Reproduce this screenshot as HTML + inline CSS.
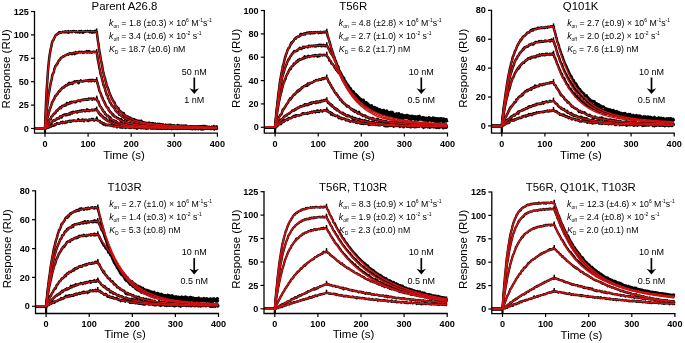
<!DOCTYPE html><html><head><meta charset="utf-8"><style>html,body{margin:0;padding:0;background:#fff;}svg{display:block;will-change:transform;} text{font-family:"Liberation Sans", sans-serif;}</style></head><body><svg width="685" height="343" viewBox="0 0 685 343"><rect width="685" height="343" fill="#fff"/><g><path d="M34.2 128.5 L34.7 128.5 L35.3 128.5 L35.8 128.5 L36.3 128.5 L36.8 128.5 L37.3 128.5 L37.8 128.5 L38.4 128.5 L38.9 128.5 L39.4 128.5 L39.9 128.5 L40.4 128.5 L40.9 128.5 L41.5 128.5 L42 128.5 L42.5 128.5 L43 128.5 L43.5 128.5 L44.1 128.5 L44.6 128.5 L45.1 126.1 L45.6 112.1 L46.1 100.8 L46.6 90.9 L47.2 82.6 L47.7 75 L48.2 68.1 L48.7 63.1 L49.2 58.3 L49.7 54.7 L50.3 51.3 L50.8 48.5 L51.3 46.9 L51.8 43.7 L52.3 42 L52.8 40.5 L53.4 40.2 L53.9 39.1 L54.4 37.7 L54.9 36.7 L55.4 35.7 L55.9 35.2 L56.5 34.4 L57 34.5 L57.5 33.7 L58 33.4 L58.5 33.6 L59.1 32.2 L59.6 32.6 L60.1 32.1 L60.6 32.8 L61.1 32.7 L61.6 32.4 L62.2 32.2 L62.7 31.8 L63.2 31.9 L63.7 32.2 L64.2 32.3 L64.7 32.1 L65.3 31.3 L65.8 32.2 L66.3 31.7 L66.8 31.6 L67.3 32.4 L67.8 31.7 L68.4 31.1 L68.9 32.6 L69.4 31.8 L69.9 31.7 L70.4 32 L70.9 31.4 L71.5 31.7 L72 32.3 L72.5 31.3 L73 31.3 L73.5 31.2 L74 31 L74.6 31.5 L75.1 31.6 L75.6 32.2 L76.1 31.4 L76.6 31.9 L77.2 31.8 L77.7 32.2 L78.2 32.1 L78.7 31.9 L79.2 31 L79.7 32.5 L80.3 32.3 L80.8 31.5 L81.3 31 L81.8 31.4 L82.3 32.5 L82.8 32.8 L83.4 31.5 L83.9 32 L84.4 32.1 L84.9 31.2 L85.4 31.1 L85.9 31.6 L86.5 31.5 L87 31.4 L87.5 30.9 L88 31.3 L88.5 31.4 L89 31.4 L89.6 32.3 L90.1 31 L90.6 31.2 L91.1 31.4 L91.6 32.5 L92.2 31.9 L92.7 31.2 L93.2 32.4 L93.7 31.7 L94.2 31.2 L94.7 32.2 L95.3 30.9 L95.8 31.4 L96.3 31.7 L96.8 32.2 L97.3 36.1 L97.8 40.2 L98.4 43.4 L98.9 47.7 L99.4 51 L99.9 53.5 L100.4 57 L100.9 60.4 L101.5 62.3 L102 64.8 L102.5 68.1 L103 71 L103.5 72.8 L104 75 L104.6 77.1 L105.1 78.4 L105.6 81.4 L106.1 82.2 L106.6 85.1 L107.2 86.6 L107.7 87.6 L108.2 88.9 L108.7 90.4 L109.2 92.1 L109.7 93.5 L110.3 94.8 L110.8 95.8 L111.3 97.3 L111.8 98.2 L112.3 99.2 L112.8 100.5 L113.4 101.1 L113.9 102.1 L114.4 102.4 L114.9 104 L115.4 105.1 L115.9 105.9 L116.5 106.5 L117 106.8 L117.5 108 L118 108.4 L118.5 108.3 L119 110.9 L119.6 110.9 L120.1 110.8 L120.6 111.3 L121.1 111.8 L121.6 112.6 L122.1 112.6 L122.7 113.2 L123.2 114 L123.7 113.1 L124.2 114.5 L124.7 115.2 L125.3 115.4 L125.8 115.8 L126.3 116.1 L126.8 117.6 L127.3 116.9 L127.8 116.5 L128.4 117.8 L128.9 117.6 L129.4 117.4 L129.9 117.7 L130.4 117.7 L130.9 119.3 L131.5 119 L132 119.2 L132.5 119 L133 118.9 L133.5 120.8 L134 119.3 L134.6 120.7 L135.1 119.9 L135.6 121 L136.1 120.5 L136.6 120.2 L137.1 120.9 L137.7 120.9 L138.2 120.8 L138.7 121.2 L139.2 121.5 L139.7 120.9 L140.3 121.2 L140.8 121.9 L141.3 120.7 L141.8 122.6 L142.3 121.7 L142.8 122.4 L143.4 122.3 L143.9 122.2 L144.4 122.5 L144.9 122.4 L145.4 123.4 L145.9 123.5 L146.5 122.7 L147 123.5 L147.5 123.6 L148 123.9 L148.5 122.7 L149 123 L149.6 122.8 L150.1 123.9 L150.6 123.6 L151.1 124.2 L151.6 123.4 L152.1 123.1 L152.7 124.3 L153.2 123.2 L153.7 123.5 L154.2 124.1 L154.7 125 L155.2 123.5 L155.8 124.3 L156.3 124.5 L156.8 124.2 L157.3 124.2 L157.8 123.8 L158.4 124.9 L158.9 124 L159.4 123.9 L159.9 124 L160.4 124.8 L160.9 125.1 L161.5 124.3 L162 124.8 L162.5 124.8 L163 124.3 L163.5 125.1 L164 126 L164.6 125.2 L165.1 125.9 L165.6 124.8 L166.1 125 L166.6 125.5 L167.1 125.2 L167.7 124.9 L168.2 125.3 L168.7 124.8 L169.2 125.4 L169.7 125 L170.2 124.8 L170.8 124.8 L171.3 125.8 L171.8 125.2 L172.3 126.4 L172.8 126.1 L173.4 126.5 L173.9 125.2 L174.4 126.3 L174.9 125.8 L175.4 125.9 L175.9 125.8 L176.5 126.1 L177 125.8 L177.5 125.1 L178 125.9 L178.5 125.7 L179 125.5 L179.6 126.1 L180.1 126.6 L180.6 126.3 L181.1 125.6 L181.6 126.8 L182.1 126.4 L182.7 125.7 L183.2 125.8 L183.7 126.2 L184.2 125.9 L184.7 126.2 L185.2 126.8 L185.8 127 L186.3 126.6 L186.8 125.9 L187.3 126.6 L187.8 126.8 L188.4 126.8 L188.9 127.1 L189.4 126.5 L189.9 127 L190.4 126.3 L190.9 127.6 L191.5 126.4 L192 126.9 L192.5 127.5 L193 126.3 L193.5 126.7 L194 127.6 L194.6 127.1 L195.1 126.5 L195.6 126.9 L196.1 126.4 L196.6 126.4 L197.1 126.5 L197.7 126.6 L198.2 126.2 L198.7 126.5 L199.2 126.6 L199.7 127.8 L200.2 126.5 L200.8 126.3 L201.3 127 L201.8 127.1 L202.3 126.1 L202.8 127.7 L203.3 126.7 L203.9 125.9 L204.4 127.4 L204.9 126.7 L205.4 126.2 L205.9 127.1 L206.5 126.8 L207 126.7 L207.5 127.5 L208 127.1 L208.5 127 L209 126.8 L209.6 127.2 L210.1 127.2 L210.6 127.6 L211.1 127.3 L211.6 126.8 L212.1 127.2 L212.7 127.6 L213.2 127.6 L213.7 126 L214.2 126.7 L214.7 127 L215.2 128.4 L215.8 127 L216.3 127.1 L216.8 126.6 L217.3 127.1" fill="none" stroke="#000" stroke-width="2.5" stroke-linejoin="round"/><path d="M96.7 32.1 V28.4" stroke="#000" stroke-width="1.5"/><path d="M34.2 128.5 L34.7 128.5 L35.3 128.5 L35.8 128.5 L36.3 128.5 L36.8 128.5 L37.3 128.5 L37.8 128.5 L38.4 128.5 L38.9 128.5 L39.4 128.5 L39.9 128.5 L40.4 128.5 L40.9 128.5 L41.5 128.5 L42 128.5 L42.5 128.5 L43 128.5 L43.5 128.5 L44.1 128.5 L44.6 128.5 L45.1 127.5 L45.6 121.3 L46.1 117 L46.6 110.7 L47.2 106.4 L47.7 102.6 L48.2 97.7 L48.7 93.9 L49.2 92 L49.7 88.6 L50.3 85.3 L50.8 82.8 L51.3 80.6 L51.8 78.7 L52.3 75.3 L52.8 73.9 L53.4 73.1 L53.9 71.6 L54.4 68.8 L54.9 67.7 L55.4 66.1 L55.9 65.4 L56.5 65.1 L57 63.6 L57.5 63.8 L58 62.3 L58.5 61.2 L59.1 60.3 L59.6 60.2 L60.1 59.3 L60.6 58.5 L61.1 58 L61.6 57.4 L62.2 57.2 L62.7 57 L63.2 56.2 L63.7 56.2 L64.2 56.2 L64.7 55.9 L65.3 55.3 L65.8 55.1 L66.3 54.8 L66.8 54.6 L67.3 54.4 L67.8 54.3 L68.4 54.7 L68.9 53.8 L69.4 53.3 L69.9 53.5 L70.4 53.7 L70.9 53.3 L71.5 53.8 L72 54.1 L72.5 53.2 L73 53.5 L73.5 52.7 L74 53.5 L74.6 54.1 L75.1 53.3 L75.6 52.1 L76.1 52.9 L76.6 53.3 L77.2 53 L77.7 52.4 L78.2 52.4 L78.7 52.5 L79.2 51.9 L79.7 52.2 L80.3 52.5 L80.8 52.2 L81.3 51.7 L81.8 52 L82.3 51.9 L82.8 52.9 L83.4 52.4 L83.9 52 L84.4 52.5 L84.9 51.9 L85.4 52.1 L85.9 51.9 L86.5 52.4 L87 51.1 L87.5 51.7 L88 52.4 L88.5 52.2 L89 51.1 L89.6 52.4 L90.1 51.9 L90.6 51.8 L91.1 52.2 L91.6 52.8 L92.2 52.2 L92.7 52.1 L93.2 51.7 L93.7 51.9 L94.2 52.2 L94.7 51.8 L95.3 52 L95.8 52.1 L96.3 52.2 L96.8 52.9 L97.3 55.6 L97.8 59.5 L98.4 62.2 L98.9 64.7 L99.4 68 L99.9 70 L100.4 73.1 L100.9 74.8 L101.5 76.5 L102 78.6 L102.5 80.8 L103 82.8 L103.5 85.2 L104 85.5 L104.6 87.7 L105.1 89.1 L105.6 91.5 L106.1 92.6 L106.6 94.7 L107.2 94.9 L107.7 96.1 L108.2 98.5 L108.7 98.9 L109.2 99.7 L109.7 101.8 L110.3 102.8 L110.8 103.4 L111.3 104.2 L111.8 105.4 L112.3 105.6 L112.8 106.3 L113.4 106.9 L113.9 107.6 L114.4 108 L114.9 108.8 L115.4 110.5 L115.9 110.8 L116.5 111.6 L117 112.2 L117.5 112.3 L118 112.8 L118.5 113.1 L119 114.5 L119.6 114.8 L120.1 114.7 L120.6 115.2 L121.1 115.6 L121.6 115.9 L122.1 116.6 L122.7 116.3 L123.2 116.8 L123.7 117.3 L124.2 117.9 L124.7 117.9 L125.3 119.4 L125.8 118.9 L126.3 118.7 L126.8 119.6 L127.3 119.1 L127.8 119.4 L128.4 120.3 L128.9 120 L129.4 120.2 L129.9 120.1 L130.4 120.2 L130.9 120.7 L131.5 121.2 L132 121.1 L132.5 121.2 L133 121 L133.5 121.4 L134 122 L134.6 122.4 L135.1 122.1 L135.6 122.4 L136.1 122.7 L136.6 122.4 L137.1 122.7 L137.7 122.5 L138.2 122.5 L138.7 123 L139.2 121.9 L139.7 123.2 L140.3 122.6 L140.8 123.2 L141.3 122.8 L141.8 124.5 L142.3 123.8 L142.8 123.5 L143.4 123.4 L143.9 122.7 L144.4 123.7 L144.9 123.3 L145.4 123.6 L145.9 123.6 L146.5 123.9 L147 124.3 L147.5 124 L148 124.8 L148.5 123.9 L149 124.9 L149.6 124.4 L150.1 123.6 L150.6 124.7 L151.1 124.7 L151.6 124.2 L152.1 124.8 L152.7 125.2 L153.2 124.8 L153.7 124.7 L154.2 124.7 L154.7 125.4 L155.2 124.3 L155.8 124.4 L156.3 125.2 L156.8 125.1 L157.3 125.5 L157.8 124.7 L158.4 125.7 L158.9 125.1 L159.4 125.6 L159.9 125.8 L160.4 125.2 L160.9 124.9 L161.5 125.6 L162 125.9 L162.5 125.3 L163 125.7 L163.5 125.6 L164 125.1 L164.6 125.3 L165.1 126 L165.6 124.8 L166.1 125.9 L166.6 125.5 L167.1 126.2 L167.7 126 L168.2 126.8 L168.7 125.2 L169.2 125.4 L169.7 126.6 L170.2 126.8 L170.8 126.9 L171.3 125.6 L171.8 126.4 L172.3 126.2 L172.8 126.4 L173.4 126.3 L173.9 126.8 L174.4 126.3 L174.9 127 L175.4 126.4 L175.9 126.2 L176.5 126.2 L177 126.5 L177.5 126.9 L178 126.4 L178.5 126.7 L179 125.8 L179.6 126.2 L180.1 126.6 L180.6 126.8 L181.1 126.9 L181.6 127 L182.1 126.8 L182.7 126.5 L183.2 126.4 L183.7 126.4 L184.2 125.8 L184.7 127.1 L185.2 126.7 L185.8 125.5 L186.3 127.6 L186.8 127 L187.3 126.7 L187.8 126.8 L188.4 126.7 L188.9 127 L189.4 126.7 L189.9 126.9 L190.4 126.6 L190.9 127.8 L191.5 127.4 L192 127 L192.5 127.5 L193 127.5 L193.5 126.7 L194 127.3 L194.6 126.8 L195.1 126.7 L195.6 126.9 L196.1 126.9 L196.6 127.2 L197.1 127.8 L197.7 127.2 L198.2 126.9 L198.7 127.4 L199.2 127.2 L199.7 126.9 L200.2 127.6 L200.8 126.9 L201.3 126.4 L201.8 127.5 L202.3 127.2 L202.8 127.3 L203.3 126.6 L203.9 127.2 L204.4 126.9 L204.9 127.6 L205.4 127.3 L205.9 127.4 L206.5 128.2 L207 126.7 L207.5 127 L208 128.2 L208.5 127.1 L209 127.5 L209.6 127.2 L210.1 127.3 L210.6 128.1 L211.1 127.6 L211.6 126.8 L212.1 127.7 L212.7 128 L213.2 128.1 L213.7 128.1 L214.2 127.4 L214.7 126.8 L215.2 127.3 L215.8 127.4 L216.3 126.6 L216.8 127.8 L217.3 127.9" fill="none" stroke="#000" stroke-width="2.5" stroke-linejoin="round"/><path d="M96.7 52.7 V49" stroke="#000" stroke-width="1.5"/><path d="M34.2 128.5 L34.7 128.5 L35.3 128.5 L35.8 128.5 L36.3 128.5 L36.8 128.5 L37.3 128.5 L37.8 128.5 L38.4 128.5 L38.9 128.5 L39.4 128.5 L39.9 128.5 L40.4 128.5 L40.9 128.5 L41.5 128.5 L42 128.5 L42.5 128.5 L43 128.5 L43.5 128.5 L44.1 128.5 L44.6 128.5 L45.1 127.8 L45.6 125.3 L46.1 123.6 L46.6 121.4 L47.2 118.6 L47.7 116.6 L48.2 115.4 L48.7 113.1 L49.2 111.5 L49.7 109.4 L50.3 108.1 L50.8 106.7 L51.3 105.4 L51.8 103.4 L52.3 102 L52.8 101.6 L53.4 100 L53.9 99.6 L54.4 98.3 L54.9 97 L55.4 95.8 L55.9 95.8 L56.5 94.8 L57 93.9 L57.5 94 L58 92.6 L58.5 92.2 L59.1 91.1 L59.6 91.2 L60.1 91.1 L60.6 89.6 L61.1 89 L61.6 88.9 L62.2 87.8 L62.7 87.9 L63.2 87.7 L63.7 86.8 L64.2 87.4 L64.7 86.6 L65.3 86 L65.8 85.3 L66.3 85.5 L66.8 85 L67.3 85.2 L67.8 84.5 L68.4 83.6 L68.9 84.5 L69.4 82.9 L69.9 84 L70.4 83.6 L70.9 83.3 L71.5 82.8 L72 83.6 L72.5 83.9 L73 82.5 L73.5 82.3 L74 82.2 L74.6 81.2 L75.1 82.2 L75.6 82 L76.1 81.6 L76.6 81.8 L77.2 81.1 L77.7 82.3 L78.2 81.9 L78.7 83.2 L79.2 81.2 L79.7 81.6 L80.3 81 L80.8 80.4 L81.3 81.3 L81.8 81.3 L82.3 81.4 L82.8 81.5 L83.4 81.3 L83.9 80.7 L84.4 80.9 L84.9 80.9 L85.4 81 L85.9 80.4 L86.5 80.6 L87 80.8 L87.5 80.4 L88 80.8 L88.5 81.2 L89 80 L89.6 80.4 L90.1 81 L90.6 80.1 L91.1 80.4 L91.6 81.2 L92.2 79.8 L92.7 80.4 L93.2 80.1 L93.7 80.4 L94.2 80.5 L94.7 81.1 L95.3 80 L95.8 80.4 L96.3 80.5 L96.8 80.6 L97.3 82.7 L97.8 84.4 L98.4 86.7 L98.9 88.3 L99.4 90.9 L99.9 91.7 L100.4 92.7 L100.9 93.9 L101.5 96 L102 97.2 L102.5 97.7 L103 99.8 L103.5 100.5 L104 101.1 L104.6 102.9 L105.1 103.4 L105.6 105.2 L106.1 105.7 L106.6 106.7 L107.2 107.5 L107.7 107.8 L108.2 108 L108.7 110.1 L109.2 110.7 L109.7 110.9 L110.3 112.3 L110.8 112.2 L111.3 112.7 L111.8 113.7 L112.3 113.8 L112.8 115.3 L113.4 114.7 L113.9 116.2 L114.4 116.3 L114.9 116.6 L115.4 117 L115.9 116.8 L116.5 117.5 L117 118.1 L117.5 118 L118 117.9 L118.5 118.9 L119 119 L119.6 118.9 L120.1 119.6 L120.6 120.6 L121.1 119.2 L121.6 119.5 L122.1 121.7 L122.7 121 L123.2 121 L123.7 121 L124.2 121.3 L124.7 121.9 L125.3 122.4 L125.8 122.1 L126.3 121.9 L126.8 123 L127.3 123.1 L127.8 122.8 L128.4 123.8 L128.9 123.2 L129.4 123.4 L129.9 123.1 L130.4 123.8 L130.9 124 L131.5 123.9 L132 123.8 L132.5 124.2 L133 124 L133.5 123.8 L134 123.7 L134.6 123.5 L135.1 124.7 L135.6 124.6 L136.1 125.7 L136.6 123.8 L137.1 125 L137.7 124.8 L138.2 124.6 L138.7 125.5 L139.2 124.8 L139.7 125.1 L140.3 125.9 L140.8 125 L141.3 124.7 L141.8 126.1 L142.3 125 L142.8 125.3 L143.4 125.2 L143.9 125.3 L144.4 125 L144.9 125.7 L145.4 125.3 L145.9 125.9 L146.5 125.4 L147 126.2 L147.5 125.9 L148 125.1 L148.5 125.7 L149 126 L149.6 126.5 L150.1 126.4 L150.6 126 L151.1 125.7 L151.6 125.9 L152.1 125.9 L152.7 126.2 L153.2 125.6 L153.7 126.4 L154.2 126.5 L154.7 125.9 L155.2 126.3 L155.8 126.5 L156.3 126.7 L156.8 126.5 L157.3 126.2 L157.8 126.3 L158.4 127.1 L158.9 126.3 L159.4 126.5 L159.9 127 L160.4 126.3 L160.9 126.8 L161.5 126.8 L162 126.3 L162.5 126.1 L163 127 L163.5 126.5 L164 127.2 L164.6 125.7 L165.1 127 L165.6 126.3 L166.1 127.1 L166.6 126.5 L167.1 125.9 L167.7 128 L168.2 127.1 L168.7 126.7 L169.2 127 L169.7 127.3 L170.2 126 L170.8 127 L171.3 127.8 L171.8 126.7 L172.3 127.8 L172.8 126.6 L173.4 127.3 L173.9 127 L174.4 126.5 L174.9 127.1 L175.4 127.8 L175.9 127.9 L176.5 126.6 L177 126.9 L177.5 127.6 L178 126.8 L178.5 127 L179 127 L179.6 128.3 L180.1 127.4 L180.6 126.9 L181.1 127 L181.6 126.9 L182.1 128.4 L182.7 127.3 L183.2 127.1 L183.7 126.2 L184.2 127.8 L184.7 127.5 L185.2 127.4 L185.8 127 L186.3 127.6 L186.8 126.9 L187.3 127.8 L187.8 127.3 L188.4 127.7 L188.9 127.4 L189.4 127.8 L189.9 128.2 L190.4 127 L190.9 127.4 L191.5 127.8 L192 127.4 L192.5 127.1 L193 128 L193.5 127.6 L194 127.3 L194.6 127.4 L195.1 127.7 L195.6 128.6 L196.1 127.1 L196.6 127.5 L197.1 127.6 L197.7 127.8 L198.2 127.5 L198.7 127.9 L199.2 128.1 L199.7 128 L200.2 128 L200.8 128 L201.3 128.2 L201.8 127.4 L202.3 128.3 L202.8 127.4 L203.3 128.2 L203.9 127.6 L204.4 127.1 L204.9 127.7 L205.4 128.1 L205.9 127.8 L206.5 127.7 L207 128.6 L207.5 128.1 L208 127.7 L208.5 128 L209 127.8 L209.6 127.5 L210.1 127.5 L210.6 127.4 L211.1 127.6 L211.6 128 L212.1 127.9 L212.7 128 L213.2 128 L213.7 128 L214.2 128.7 L214.7 128 L215.2 127.9 L215.8 128.3 L216.3 127.9 L216.8 127.7 L217.3 128" fill="none" stroke="#000" stroke-width="2.5" stroke-linejoin="round"/><path d="M96.7 80.9 V77.2" stroke="#000" stroke-width="1.5"/><path d="M34.2 128.5 L34.7 128.5 L35.3 128.5 L35.8 128.5 L36.3 128.5 L36.8 128.5 L37.3 128.5 L37.8 128.5 L38.4 128.5 L38.9 128.5 L39.4 128.5 L39.9 128.5 L40.4 128.5 L40.9 128.5 L41.5 128.5 L42 128.5 L42.5 128.5 L43 128.5 L43.5 128.5 L44.1 128.5 L44.6 128.5 L45.1 127.4 L45.6 128.3 L46.1 126.2 L46.6 125.8 L47.2 123.6 L47.7 121.8 L48.2 123.2 L48.7 121.1 L49.2 120.1 L49.7 119.6 L50.3 118.5 L50.8 118.9 L51.3 116.8 L51.8 116.3 L52.3 115.8 L52.8 115.4 L53.4 114.2 L53.9 114.1 L54.4 113.2 L54.9 112.9 L55.4 113.2 L55.9 111.6 L56.5 111 L57 110.3 L57.5 110.6 L58 109.7 L58.5 109 L59.1 108.8 L59.6 107.9 L60.1 107.2 L60.6 108.1 L61.1 108.2 L61.6 106.6 L62.2 106 L62.7 105.9 L63.2 105.7 L63.7 106 L64.2 105.8 L64.7 104.8 L65.3 105.3 L65.8 105.5 L66.3 104.9 L66.8 103.1 L67.3 103.1 L67.8 104 L68.4 103.9 L68.9 103.2 L69.4 103.5 L69.9 102.4 L70.4 102.8 L70.9 103.1 L71.5 101.8 L72 102.5 L72.5 102 L73 102 L73.5 102 L74 101.5 L74.6 101.9 L75.1 102.3 L75.6 102.3 L76.1 101.8 L76.6 101.4 L77.2 101 L77.7 100.8 L78.2 100.5 L78.7 100.6 L79.2 100.9 L79.7 100.8 L80.3 101.3 L80.8 100.4 L81.3 100 L81.8 99.9 L82.3 100.1 L82.8 100.1 L83.4 99.5 L83.9 99.9 L84.4 99.5 L84.9 99.5 L85.4 99.6 L85.9 99 L86.5 99.8 L87 99.7 L87.5 99.8 L88 99.8 L88.5 98.7 L89 98.5 L89.6 99.3 L90.1 99 L90.6 98.7 L91.1 98.8 L91.6 98.6 L92.2 99.7 L92.7 99.3 L93.2 98.8 L93.7 98.3 L94.2 98.9 L94.7 99.3 L95.3 99.1 L95.8 99.2 L96.3 99.2 L96.8 98.4 L97.3 100.6 L97.8 101.5 L98.4 101.6 L98.9 103.2 L99.4 104.6 L99.9 106 L100.4 106.5 L100.9 106.8 L101.5 108.1 L102 108.7 L102.5 110 L103 110.5 L103.5 111.6 L104 112 L104.6 112.2 L105.1 114.1 L105.6 114.1 L106.1 114.5 L106.6 115.4 L107.2 115.8 L107.7 115.8 L108.2 115.7 L108.7 116.8 L109.2 117.3 L109.7 118.6 L110.3 117.4 L110.8 118.6 L111.3 119 L111.8 119.9 L112.3 119.7 L112.8 120.5 L113.4 120.3 L113.9 120.4 L114.4 120.9 L114.9 121 L115.4 121.8 L115.9 121 L116.5 122.1 L117 122.9 L117.5 122.4 L118 122.8 L118.5 123.1 L119 123 L119.6 122.9 L120.1 123.7 L120.6 123.4 L121.1 122.9 L121.6 123.4 L122.1 123.9 L122.7 123.9 L123.2 124.1 L123.7 124.2 L124.2 124 L124.7 124.5 L125.3 125.6 L125.8 124.7 L126.3 125.2 L126.8 124.6 L127.3 125.2 L127.8 125 L128.4 124.2 L128.9 125.7 L129.4 125.8 L129.9 126 L130.4 126.5 L130.9 126.4 L131.5 125.4 L132 125.9 L132.5 126.6 L133 126.5 L133.5 125.6 L134 126.3 L134.6 126.1 L135.1 125.9 L135.6 125.5 L136.1 125.2 L136.6 125.7 L137.1 126.1 L137.7 126.2 L138.2 125.5 L138.7 125.7 L139.2 126.5 L139.7 126.2 L140.3 126.3 L140.8 126.5 L141.3 126.8 L141.8 127.2 L142.3 126.8 L142.8 127.3 L143.4 126.1 L143.9 126.4 L144.4 127.3 L144.9 126.1 L145.4 126.4 L145.9 127.7 L146.5 126 L147 126.5 L147.5 125.9 L148 127.5 L148.5 126.7 L149 126.8 L149.6 126.9 L150.1 126.9 L150.6 126.5 L151.1 127.7 L151.6 127.6 L152.1 127.7 L152.7 127.3 L153.2 127.4 L153.7 127 L154.2 127 L154.7 127.2 L155.2 127.5 L155.8 127.4 L156.3 126.8 L156.8 126.9 L157.3 127.2 L157.8 127.4 L158.4 126.6 L158.9 127.6 L159.4 127 L159.9 126.8 L160.4 127.5 L160.9 127 L161.5 127.9 L162 126.9 L162.5 127.3 L163 128.1 L163.5 127.1 L164 127.8 L164.6 126.9 L165.1 127.8 L165.6 127.5 L166.1 127.3 L166.6 127.6 L167.1 127.4 L167.7 127.8 L168.2 127.2 L168.7 127.5 L169.2 127.4 L169.7 128.8 L170.2 127 L170.8 127.6 L171.3 128.4 L171.8 127.5 L172.3 127.4 L172.8 127.1 L173.4 128.1 L173.9 126.9 L174.4 127.7 L174.9 126.6 L175.4 127.7 L175.9 127.4 L176.5 127.8 L177 128.2 L177.5 127.2 L178 127.3 L178.5 127 L179 127.3 L179.6 128 L180.1 128.5 L180.6 128 L181.1 128 L181.6 128.1 L182.1 127.5 L182.7 127.6 L183.2 127.9 L183.7 127.7 L184.2 127.9 L184.7 127.7 L185.2 127.5 L185.8 127.4 L186.3 128.1 L186.8 128.5 L187.3 127.2 L187.8 127.8 L188.4 127.3 L188.9 128.6 L189.4 128 L189.9 127.9 L190.4 128.5 L190.9 128.1 L191.5 127.6 L192 127.4 L192.5 127.2 L193 128.3 L193.5 128.5 L194 127.7 L194.6 127.5 L195.1 127.8 L195.6 128.5 L196.1 127.6 L196.6 127.6 L197.1 127.7 L197.7 128.2 L198.2 127.8 L198.7 127.6 L199.2 128.2 L199.7 128.8 L200.2 127.8 L200.8 127.8 L201.3 128 L201.8 127.6 L202.3 128.3 L202.8 128 L203.3 128.1 L203.9 127.8 L204.4 127.3 L204.9 128.1 L205.4 127.1 L205.9 127.3 L206.5 127.7 L207 127.8 L207.5 127.2 L208 128.1 L208.5 128.1 L209 128.5 L209.6 127.8 L210.1 127.5 L210.6 127.8 L211.1 127.9 L211.6 128.2 L212.1 128 L212.7 128.7 L213.2 127.6 L213.7 128.3 L214.2 128.6 L214.7 128.4 L215.2 128.5 L215.8 127.7 L216.3 127.6 L216.8 128.7 L217.3 127.7" fill="none" stroke="#000" stroke-width="2.5" stroke-linejoin="round"/><path d="M96.7 99.3 V95.6" stroke="#000" stroke-width="1.5"/><path d="M34.2 128.5 L34.7 128.5 L35.3 128.5 L35.8 128.5 L36.3 128.5 L36.8 128.5 L37.3 128.5 L37.8 128.5 L38.4 128.5 L38.9 128.5 L39.4 128.5 L39.9 128.5 L40.4 128.5 L40.9 128.5 L41.5 128.5 L42 128.5 L42.5 128.5 L43 128.5 L43.5 128.5 L44.1 128.5 L44.6 128.5 L45.1 128 L45.6 128.1 L46.1 127.9 L46.6 127.1 L47.2 126.5 L47.7 125.5 L48.2 125.3 L48.7 125.6 L49.2 124.1 L49.7 124.5 L50.3 122.9 L50.8 123.4 L51.3 122.8 L51.8 122.5 L52.3 121.9 L52.8 120.7 L53.4 120.5 L53.9 120.3 L54.4 120.1 L54.9 120.6 L55.4 119.8 L55.9 119.5 L56.5 119.4 L57 118.4 L57.5 118.7 L58 118.4 L58.5 118.3 L59.1 118.4 L59.6 117 L60.1 116.4 L60.6 116.7 L61.1 117 L61.6 117.5 L62.2 116 L62.7 115.3 L63.2 115.5 L63.7 115 L64.2 114.6 L64.7 114.6 L65.3 115.1 L65.8 114.2 L66.3 114.2 L66.8 115.1 L67.3 114.4 L67.8 114.7 L68.4 113.9 L68.9 113.5 L69.4 114.1 L69.9 114.4 L70.4 112.7 L70.9 113 L71.5 112.4 L72 113.5 L72.5 112.3 L73 111.7 L73.5 111.7 L74 112.5 L74.6 112.2 L75.1 112.3 L75.6 111.7 L76.1 111.6 L76.6 111.9 L77.2 112.5 L77.7 111.4 L78.2 111.9 L78.7 111.3 L79.2 111.4 L79.7 110.7 L80.3 110.8 L80.8 111.5 L81.3 111 L81.8 110.3 L82.3 111.3 L82.8 110.8 L83.4 110.4 L83.9 110.3 L84.4 110.6 L84.9 111.3 L85.4 111.3 L85.9 110.5 L86.5 110.4 L87 109.4 L87.5 110.9 L88 109.9 L88.5 110 L89 111.1 L89.6 110.7 L90.1 110.2 L90.6 110.4 L91.1 110.2 L91.6 109.9 L92.2 110.4 L92.7 109.8 L93.2 110.3 L93.7 110.2 L94.2 109.7 L94.7 110.2 L95.3 109.7 L95.8 109.1 L96.3 109.8 L96.8 110 L97.3 110.4 L97.8 111.6 L98.4 111.7 L98.9 113.4 L99.4 113.2 L99.9 114.4 L100.4 115.1 L100.9 114.5 L101.5 116.2 L102 115.6 L102.5 116.5 L103 116.7 L103.5 118.2 L104 117.7 L104.6 117.9 L105.1 119 L105.6 119.4 L106.1 118.6 L106.6 120 L107.2 120.6 L107.7 121 L108.2 120.8 L108.7 121.1 L109.2 121.5 L109.7 121 L110.3 122.2 L110.8 122.1 L111.3 121.9 L111.8 123.2 L112.3 122.5 L112.8 122.3 L113.4 123.9 L113.9 124 L114.4 124.2 L114.9 124.7 L115.4 123.8 L115.9 125 L116.5 124.1 L117 123.8 L117.5 125.3 L118 124.8 L118.5 125.7 L119 124.6 L119.6 125.4 L120.1 125.3 L120.6 125.2 L121.1 125.1 L121.6 125.6 L122.1 125.5 L122.7 125.9 L123.2 125.7 L123.7 126.3 L124.2 125.8 L124.7 126.8 L125.3 126.2 L125.8 125.2 L126.3 126.1 L126.8 126.8 L127.3 126.1 L127.8 126.8 L128.4 127.1 L128.9 126.8 L129.4 126.1 L129.9 126.4 L130.4 126.6 L130.9 127 L131.5 127.2 L132 126.1 L132.5 126.6 L133 127.2 L133.5 127.8 L134 127.5 L134.6 125.8 L135.1 127.4 L135.6 127 L136.1 126.9 L136.6 127.1 L137.1 127.2 L137.7 127.7 L138.2 127.6 L138.7 126.4 L139.2 127.5 L139.7 126.8 L140.3 128 L140.8 127.4 L141.3 127.1 L141.8 126.8 L142.3 127.8 L142.8 127 L143.4 127.2 L143.9 127.7 L144.4 127.2 L144.9 127.8 L145.4 127.8 L145.9 127.4 L146.5 128.7 L147 127.5 L147.5 127.9 L148 128.2 L148.5 127.7 L149 127.2 L149.6 127.7 L150.1 127 L150.6 128.1 L151.1 128.2 L151.6 126.9 L152.1 127.4 L152.7 127.2 L153.2 128 L153.7 127.3 L154.2 127.5 L154.7 127.4 L155.2 127.7 L155.8 127.1 L156.3 128 L156.8 128.1 L157.3 128.4 L157.8 127.2 L158.4 128.1 L158.9 128.2 L159.4 128.2 L159.9 128 L160.4 128.3 L160.9 127.9 L161.5 128.1 L162 128 L162.5 128.2 L163 127.8 L163.5 128 L164 127.8 L164.6 127.7 L165.1 127.7 L165.6 128.8 L166.1 128.1 L166.6 128.2 L167.1 127.5 L167.7 128.6 L168.2 128.2 L168.7 128 L169.2 128 L169.7 127.5 L170.2 128.1 L170.8 127.5 L171.3 128.6 L171.8 128.7 L172.3 127.4 L172.8 127.7 L173.4 127.7 L173.9 127.9 L174.4 127.7 L174.9 128.5 L175.4 127.5 L175.9 128.2 L176.5 127.5 L177 127.9 L177.5 128.9 L178 128.6 L178.5 127.5 L179 128.1 L179.6 128.2 L180.1 127.9 L180.6 128.2 L181.1 128.3 L181.6 128 L182.1 128 L182.7 127.4 L183.2 128 L183.7 127.2 L184.2 127.2 L184.7 127.3 L185.2 127.6 L185.8 128 L186.3 128 L186.8 128.1 L187.3 128.4 L187.8 128.1 L188.4 128.4 L188.9 127.4 L189.4 127.9 L189.9 128.3 L190.4 129 L190.9 128.1 L191.5 128.3 L192 128.6 L192.5 128.6 L193 129.1 L193.5 127.9 L194 128.2 L194.6 127 L195.1 128.2 L195.6 128.2 L196.1 127.5 L196.6 128.1 L197.1 128.1 L197.7 128.3 L198.2 128.4 L198.7 127.5 L199.2 127.7 L199.7 127.4 L200.2 128.3 L200.8 128.2 L201.3 128.6 L201.8 127.7 L202.3 128.8 L202.8 127.9 L203.3 127.7 L203.9 127.6 L204.4 128.6 L204.9 127.7 L205.4 128.5 L205.9 128.5 L206.5 128.8 L207 127.7 L207.5 127.5 L208 128.5 L208.5 128.6 L209 128.4 L209.6 127.1 L210.1 127.8 L210.6 128.5 L211.1 129 L211.6 128.5 L212.1 127.7 L212.7 127.4 L213.2 128.4 L213.7 128.6 L214.2 128.5 L214.7 129.1 L215.2 127.8 L215.8 128.7 L216.3 127.8 L216.8 129 L217.3 128.8" fill="none" stroke="#000" stroke-width="2.5" stroke-linejoin="round"/><path d="M96.7 110.3 V106.6" stroke="#000" stroke-width="1.5"/><path d="M34.2 128.5 L34.7 128.5 L35.3 128.5 L35.8 128.5 L36.3 128.5 L36.8 128.5 L37.3 128.5 L37.8 128.5 L38.4 128.5 L38.9 128.5 L39.4 128.5 L39.9 128.5 L40.4 128.5 L40.9 128.5 L41.5 128.5 L42 128.5 L42.5 128.5 L43 128.5 L43.5 128.5 L44.1 128.5 L44.6 128.5 L45.1 128.3 L45.6 128.5 L46.1 127.6 L46.6 127.6 L47.2 127.9 L47.7 126.9 L48.2 126.5 L48.7 127.6 L49.2 125.6 L49.7 126 L50.3 125.7 L50.8 126.7 L51.3 126 L51.8 125.6 L52.3 124.8 L52.8 125.7 L53.4 125.3 L53.9 125.6 L54.4 124.7 L54.9 124.3 L55.4 125 L55.9 124.4 L56.5 123.7 L57 123.1 L57.5 123.4 L58 123.7 L58.5 123.9 L59.1 123.7 L59.6 123.5 L60.1 123 L60.6 123 L61.1 122.1 L61.6 122.6 L62.2 123.1 L62.7 121.8 L63.2 122 L63.7 122.3 L64.2 122.5 L64.7 123 L65.3 122.5 L65.8 121.5 L66.3 122.2 L66.8 122.4 L67.3 121.6 L67.8 121.5 L68.4 121.3 L68.9 121.2 L69.4 120.8 L69.9 121.7 L70.4 120.8 L70.9 121.7 L71.5 120.8 L72 121 L72.5 120.9 L73 120.5 L73.5 120.9 L74 120.4 L74.6 120.4 L75.1 120.7 L75.6 121 L76.1 121 L76.6 120.9 L77.2 120.7 L77.7 120.6 L78.2 119.2 L78.7 120.2 L79.2 120.1 L79.7 120.8 L80.3 120.7 L80.8 120.5 L81.3 120.2 L81.8 120.7 L82.3 119.5 L82.8 120.4 L83.4 119.7 L83.9 121.2 L84.4 120.1 L84.9 119.9 L85.4 120 L85.9 119.7 L86.5 119.9 L87 119.9 L87.5 120.8 L88 120.2 L88.5 120.9 L89 119.6 L89.6 119.7 L90.1 119.9 L90.6 120.2 L91.1 120 L91.6 118.9 L92.2 119 L92.7 119.8 L93.2 119.1 L93.7 120.4 L94.2 120.6 L94.7 119.9 L95.3 120 L95.8 119.9 L96.3 119.5 L96.8 118.3 L97.3 120.3 L97.8 120.4 L98.4 120.6 L98.9 121.1 L99.4 121 L99.9 120.9 L100.4 122.5 L100.9 122.2 L101.5 122.6 L102 122.6 L102.5 123.7 L103 124 L103.5 124.4 L104 123.4 L104.6 123.7 L105.1 124 L105.6 125.2 L106.1 124.5 L106.6 124.8 L107.2 125.3 L107.7 125.2 L108.2 124.6 L108.7 124.8 L109.2 125.2 L109.7 125.1 L110.3 125.7 L110.8 125.5 L111.3 125.6 L111.8 125.5 L112.3 125.9 L112.8 126 L113.4 126.1 L113.9 126.4 L114.4 125.2 L114.9 126.1 L115.4 126.2 L115.9 125.4 L116.5 125.9 L117 127.3 L117.5 126.3 L118 126.3 L118.5 125.9 L119 126.2 L119.6 126.5 L120.1 127.4 L120.6 127.4 L121.1 126.9 L121.6 126.8 L122.1 127.6 L122.7 127.3 L123.2 127.4 L123.7 127.2 L124.2 127.1 L124.7 127.4 L125.3 127.9 L125.8 126.8 L126.3 126.7 L126.8 127.5 L127.3 127 L127.8 127.3 L128.4 127.2 L128.9 127.3 L129.4 127.9 L129.9 127.3 L130.4 127.1 L130.9 128 L131.5 126.7 L132 126.7 L132.5 126.8 L133 126.8 L133.5 127.4 L134 127.9 L134.6 128 L135.1 128.1 L135.6 127.7 L136.1 127.8 L136.6 127.5 L137.1 128.7 L137.7 126.8 L138.2 126.8 L138.7 127.9 L139.2 127.6 L139.7 127.7 L140.3 127.8 L140.8 128 L141.3 128 L141.8 128.3 L142.3 127.8 L142.8 127.9 L143.4 127.8 L143.9 128.3 L144.4 127.9 L144.9 128 L145.4 127.7 L145.9 128.5 L146.5 127.8 L147 127.6 L147.5 127.7 L148 128.2 L148.5 128.2 L149 128.1 L149.6 127.7 L150.1 127.3 L150.6 128.1 L151.1 128.4 L151.6 127.9 L152.1 128 L152.7 128.5 L153.2 128.4 L153.7 128.1 L154.2 127.8 L154.7 128.6 L155.2 128.6 L155.8 127.9 L156.3 128.7 L156.8 128.1 L157.3 128 L157.8 128.2 L158.4 128.6 L158.9 128.2 L159.4 128.3 L159.9 128 L160.4 128.5 L160.9 127.7 L161.5 128.9 L162 128.2 L162.5 128.2 L163 127.7 L163.5 128.4 L164 127.9 L164.6 128.4 L165.1 127.9 L165.6 127.4 L166.1 128.4 L166.6 128 L167.1 128.6 L167.7 127.8 L168.2 127.7 L168.7 128.2 L169.2 128.7 L169.7 128 L170.2 127.7 L170.8 127.7 L171.3 127.9 L171.8 129.1 L172.3 128.5 L172.8 127.6 L173.4 128.8 L173.9 127.7 L174.4 127.4 L174.9 127.9 L175.4 127.7 L175.9 128.4 L176.5 128.8 L177 128.3 L177.5 128.3 L178 128.3 L178.5 127.9 L179 128.3 L179.6 128.2 L180.1 128.1 L180.6 128.3 L181.1 127.4 L181.6 128.1 L182.1 128.2 L182.7 128.4 L183.2 128.6 L183.7 127.7 L184.2 128.2 L184.7 128.8 L185.2 128.5 L185.8 128.4 L186.3 128.5 L186.8 127.8 L187.3 128.8 L187.8 128.1 L188.4 128.2 L188.9 128.8 L189.4 128.3 L189.9 128.4 L190.4 128.1 L190.9 128.5 L191.5 128.2 L192 129.1 L192.5 128.8 L193 128 L193.5 127.9 L194 128.3 L194.6 128.6 L195.1 127.8 L195.6 129.3 L196.1 128.7 L196.6 128 L197.1 128 L197.7 128.8 L198.2 129.2 L198.7 127.7 L199.2 128.3 L199.7 128.7 L200.2 128.3 L200.8 127.9 L201.3 129.5 L201.8 127.8 L202.3 128 L202.8 129.3 L203.3 128 L203.9 129.2 L204.4 127.8 L204.9 128.2 L205.4 127.3 L205.9 128.6 L206.5 128.4 L207 127.9 L207.5 128.7 L208 128.7 L208.5 128.5 L209 128.4 L209.6 128.9 L210.1 128.2 L210.6 128.1 L211.1 128.3 L211.6 127.6 L212.1 128.5 L212.7 127.8 L213.2 128.6 L213.7 128 L214.2 129.3 L214.7 128.3 L215.2 128.5 L215.8 128.6 L216.3 128.7 L216.8 128.5 L217.3 128.7" fill="none" stroke="#000" stroke-width="2.5" stroke-linejoin="round"/><path d="M96.7 120.1 V116.4" stroke="#000" stroke-width="1.5"/><path d="M45 127.5 V133.2" stroke="#000" stroke-width="2.2"/><path d="M34.2 128.5 L34.7 128.5 L35.1 128.5 L35.5 128.5 L35.9 128.5 L36.4 128.5 L36.8 128.5 L37.2 128.5 L37.7 128.5 L38.1 128.5 L38.5 128.5 L39 128.5 L39.4 128.5 L39.8 128.5 L40.3 128.5 L40.7 128.5 L41.1 128.5 L41.6 128.5 L42 128.5 L42.4 128.5 L42.8 128.5 L43.3 128.5 L43.7 128.5 L44.1 128.5 L44.6 128.5 L45 128.5 L45.4 116.7 L46.3 97.2 L47.2 82.2 L48 70.6 L48.9 61.7 L49.7 54.8 L50.6 49.5 L51.5 45.4 L52.3 42.3 L53.2 39.8 L54.1 37.9 L54.9 36.5 L55.8 35.4 L56.6 34.5 L57.5 33.9 L58.4 33.3 L59.2 33 L60.1 32.6 L60.9 32.4 L61.8 32.2 L62.7 32.1 L63.5 32 L64.4 31.9 L65.3 31.8 L66.1 31.8 L67 31.8 L67.8 31.7 L68.7 31.7 L69.6 31.7 L70.4 31.7 L71.3 31.7 L72.2 31.7 L73 31.6 L73.9 31.6 L74.7 31.6 L75.6 31.6 L76.5 31.6 L77.3 31.6 L78.2 31.6 L79 31.6 L79.9 31.6 L80.8 31.6 L81.6 31.6 L82.5 31.6 L83.4 31.6 L84.2 31.6 L85.1 31.6 L85.9 31.6 L86.8 31.6 L87.7 31.6 L88.5 31.6 L89.4 31.6 L90.3 31.6 L91.1 31.6 L92 31.6 L92.8 31.6 L93.7 31.6 L94.6 31.6 L95.4 31.6 L96.3 31.6 L97.2 35.1 L98 41.5 L98.9 47.5 L99.7 53.1 L100.6 58.2 L101.5 62.9 L102.3 67.3 L103.2 71.4 L104 75.2 L104.9 78.6 L105.8 81.9 L106.6 84.9 L107.5 87.6 L108.4 90.2 L109.2 92.6 L110.1 94.8 L110.9 96.8 L111.8 98.7 L112.7 100.4 L113.5 102.1 L114.4 103.6 L115.3 105 L116.1 106.3 L117 107.5 L117.8 108.6 L118.7 109.7 L119.6 110.7 L120.4 111.6 L121.3 112.4 L122.1 113.2 L123 113.9 L123.9 114.6 L124.7 115.3 L125.6 115.9 L126.5 116.4 L127.3 116.9 L128.2 117.4 L129 117.9 L129.9 118.3 L130.8 118.7 L131.6 119.1 L132.5 119.4 L133.4 119.8 L134.2 120.1 L135.1 120.4 L135.9 120.6 L136.8 120.9 L137.7 121.2 L138.5 121.4 L139.4 121.6 L140.3 121.8 L141.1 122 L142 122.2 L142.8 122.4 L143.7 122.6 L144.6 122.7 L145.4 122.9 L146.3 123 L147.1 123.1 L148 123.3 L148.9 123.4 L149.7 123.5 L150.6 123.6 L151.5 123.8 L152.3 123.9 L153.2 124 L154 124.1 L154.9 124.2 L155.8 124.3 L156.6 124.3 L157.5 124.4 L158.4 124.5 L159.2 124.6 L160.1 124.7 L160.9 124.8 L161.8 124.8 L162.7 124.9 L163.5 125 L164.4 125 L165.2 125.1 L166.1 125.2 L167 125.2 L167.8 125.3 L168.7 125.3 L169.6 125.4 L170.4 125.4 L171.3 125.5 L172.1 125.6 L173 125.6 L173.9 125.7 L174.7 125.7 L175.6 125.8 L176.5 125.8 L177.3 125.8 L178.2 125.9 L179 125.9 L179.9 126 L180.8 126 L181.6 126.1 L182.5 126.1 L183.4 126.1 L184.2 126.2 L185.1 126.2 L185.9 126.3 L186.8 126.3 L187.7 126.3 L188.5 126.4 L189.4 126.4 L190.2 126.4 L191.1 126.5 L192 126.5 L192.8 126.5 L193.7 126.6 L194.6 126.6 L195.4 126.6 L196.3 126.7 L197.1 126.7 L198 126.7 L198.9 126.7 L199.7 126.8 L200.6 126.8 L201.5 126.8 L202.3 126.9 L203.2 126.9 L204 126.9 L204.9 126.9 L205.8 127 L206.6 127 L207.5 127 L208.3 127 L209.2 127.1 L210.1 127.1 L210.9 127.1 L211.8 127.1 L212.7 127.1 L213.5 127.2 L214.4 127.2 L215.2 127.2 L216.1 127.2 L217 127.3" fill="none" stroke="#cf1010" stroke-width="1.4" stroke-linejoin="round"/><path d="M34.2 128.5 L34.7 128.5 L35.1 128.5 L35.5 128.5 L35.9 128.5 L36.4 128.5 L36.8 128.5 L37.2 128.5 L37.7 128.5 L38.1 128.5 L38.5 128.5 L39 128.5 L39.4 128.5 L39.8 128.5 L40.3 128.5 L40.7 128.5 L41.1 128.5 L41.6 128.5 L42 128.5 L42.4 128.5 L42.8 128.5 L43.3 128.5 L43.7 128.5 L44.1 128.5 L44.6 128.5 L45 128.5 L45.4 123.5 L46.3 114.4 L47.2 106.5 L48 99.6 L48.9 93.6 L49.7 88.3 L50.6 83.7 L51.5 79.7 L52.3 76.2 L53.2 73.2 L54.1 70.5 L54.9 68.2 L55.8 66.1 L56.6 64.4 L57.5 62.8 L58.4 61.5 L59.2 60.3 L60.1 59.3 L60.9 58.4 L61.8 57.6 L62.7 56.9 L63.5 56.3 L64.4 55.8 L65.3 55.3 L66.1 54.9 L67 54.6 L67.8 54.3 L68.7 54 L69.6 53.8 L70.4 53.6 L71.3 53.4 L72.2 53.2 L73 53.1 L73.9 53 L74.7 52.9 L75.6 52.8 L76.5 52.7 L77.3 52.7 L78.2 52.6 L79 52.5 L79.9 52.5 L80.8 52.5 L81.6 52.4 L82.5 52.4 L83.4 52.4 L84.2 52.4 L85.1 52.3 L85.9 52.3 L86.8 52.3 L87.7 52.3 L88.5 52.3 L89.4 52.3 L90.3 52.3 L91.1 52.2 L92 52.2 L92.8 52.2 L93.7 52.2 L94.6 52.2 L95.4 52.2 L96.3 52.2 L97.2 54.9 L98 60 L98.9 64.7 L99.7 69.1 L100.6 73.1 L101.5 76.9 L102.3 80.3 L103.2 83.5 L104 86.5 L104.9 89.2 L105.8 91.8 L106.6 94.1 L107.5 96.3 L108.4 98.3 L109.2 100.2 L110.1 101.9 L110.9 103.5 L111.8 105 L112.7 106.4 L113.5 107.7 L114.4 108.9 L115.3 110 L116.1 111 L117 112 L117.8 112.9 L118.7 113.7 L119.6 114.5 L120.4 115.2 L121.3 115.8 L122.1 116.5 L123 117 L123.9 117.6 L124.7 118.1 L125.6 118.5 L126.5 119 L127.3 119.4 L128.2 119.8 L129 120.1 L129.9 120.5 L130.8 120.8 L131.6 121.1 L132.5 121.4 L133.4 121.6 L134.2 121.9 L135.1 122.1 L135.9 122.3 L136.8 122.5 L137.7 122.7 L138.5 122.9 L139.4 123.1 L140.3 123.2 L141.1 123.4 L142 123.5 L142.8 123.7 L143.7 123.8 L144.6 123.9 L145.4 124.1 L146.3 124.2 L147.1 124.3 L148 124.4 L148.9 124.5 L149.7 124.6 L150.6 124.7 L151.5 124.8 L152.3 124.9 L153.2 124.9 L154 125 L154.9 125.1 L155.8 125.2 L156.6 125.2 L157.5 125.3 L158.4 125.4 L159.2 125.4 L160.1 125.5 L160.9 125.5 L161.8 125.6 L162.7 125.7 L163.5 125.7 L164.4 125.8 L165.2 125.8 L166.1 125.9 L167 125.9 L167.8 126 L168.7 126 L169.6 126.1 L170.4 126.1 L171.3 126.1 L172.1 126.2 L173 126.2 L173.9 126.3 L174.7 126.3 L175.6 126.3 L176.5 126.4 L177.3 126.4 L178.2 126.4 L179 126.5 L179.9 126.5 L180.8 126.5 L181.6 126.6 L182.5 126.6 L183.4 126.6 L184.2 126.7 L185.1 126.7 L185.9 126.7 L186.8 126.8 L187.7 126.8 L188.5 126.8 L189.4 126.8 L190.2 126.9 L191.1 126.9 L192 126.9 L192.8 127 L193.7 127 L194.6 127 L195.4 127 L196.3 127.1 L197.1 127.1 L198 127.1 L198.9 127.1 L199.7 127.1 L200.6 127.2 L201.5 127.2 L202.3 127.2 L203.2 127.2 L204 127.2 L204.9 127.3 L205.8 127.3 L206.6 127.3 L207.5 127.3 L208.3 127.3 L209.2 127.4 L210.1 127.4 L210.9 127.4 L211.8 127.4 L212.7 127.4 L213.5 127.5 L214.4 127.5 L215.2 127.5 L216.1 127.5 L217 127.5" fill="none" stroke="#cf1010" stroke-width="1.4" stroke-linejoin="round"/><path d="M34.2 128.5 L34.7 128.5 L35.1 128.5 L35.5 128.5 L35.9 128.5 L36.4 128.5 L36.8 128.5 L37.2 128.5 L37.7 128.5 L38.1 128.5 L38.5 128.5 L39 128.5 L39.4 128.5 L39.8 128.5 L40.3 128.5 L40.7 128.5 L41.1 128.5 L41.6 128.5 L42 128.5 L42.4 128.5 L42.8 128.5 L43.3 128.5 L43.7 128.5 L44.1 128.5 L44.6 128.5 L45 128.5 L45.4 126.4 L46.3 122.4 L47.2 118.8 L48 115.4 L48.9 112.4 L49.7 109.6 L50.6 107.1 L51.5 104.8 L52.3 102.7 L53.2 100.7 L54.1 99 L54.9 97.3 L55.8 95.9 L56.6 94.5 L57.5 93.3 L58.4 92.1 L59.2 91.1 L60.1 90.2 L60.9 89.3 L61.8 88.5 L62.7 87.8 L63.5 87.2 L64.4 86.6 L65.3 86 L66.1 85.5 L67 85 L67.8 84.6 L68.7 84.2 L69.6 83.9 L70.4 83.6 L71.3 83.3 L72.2 83 L73 82.8 L73.9 82.5 L74.7 82.3 L75.6 82.2 L76.5 82 L77.3 81.8 L78.2 81.7 L79 81.6 L79.9 81.4 L80.8 81.3 L81.6 81.2 L82.5 81.1 L83.4 81.1 L84.2 81 L85.1 80.9 L85.9 80.8 L86.8 80.8 L87.7 80.7 L88.5 80.7 L89.4 80.6 L90.3 80.6 L91.1 80.6 L92 80.5 L92.8 80.5 L93.7 80.5 L94.6 80.4 L95.4 80.4 L96.3 80.4 L97.2 82.1 L98 85.3 L98.9 88.3 L99.7 91 L100.6 93.6 L101.5 95.9 L102.3 98.1 L103.2 100.1 L104 102 L104.9 103.7 L105.8 105.3 L106.6 106.8 L107.5 108.2 L108.4 109.5 L109.2 110.7 L110.1 111.7 L110.9 112.8 L111.8 113.7 L112.7 114.6 L113.5 115.4 L114.4 116.1 L115.3 116.8 L116.1 117.5 L117 118.1 L117.8 118.6 L118.7 119.2 L119.6 119.6 L120.4 120.1 L121.3 120.5 L122.1 120.9 L123 121.3 L123.9 121.6 L124.7 121.9 L125.6 122.2 L126.5 122.5 L127.3 122.8 L128.2 123 L129 123.2 L129.9 123.4 L130.8 123.6 L131.6 123.8 L132.5 124 L133.4 124.2 L134.2 124.3 L135.1 124.5 L135.9 124.6 L136.8 124.7 L137.7 124.9 L138.5 125 L139.4 125.1 L140.3 125.2 L141.1 125.3 L142 125.4 L142.8 125.5 L143.7 125.5 L144.6 125.6 L145.4 125.7 L146.3 125.8 L147.1 125.8 L148 125.9 L148.9 126 L149.7 126 L150.6 126.1 L151.5 126.1 L152.3 126.2 L153.2 126.3 L154 126.3 L154.9 126.3 L155.8 126.4 L156.6 126.4 L157.5 126.5 L158.4 126.5 L159.2 126.6 L160.1 126.6 L160.9 126.6 L161.8 126.7 L162.7 126.7 L163.5 126.7 L164.4 126.8 L165.2 126.8 L166.1 126.8 L167 126.9 L167.8 126.9 L168.7 126.9 L169.6 127 L170.4 127 L171.3 127 L172.1 127 L173 127.1 L173.9 127.1 L174.7 127.1 L175.6 127.1 L176.5 127.2 L177.3 127.2 L178.2 127.2 L179 127.2 L179.9 127.2 L180.8 127.3 L181.6 127.3 L182.5 127.3 L183.4 127.3 L184.2 127.3 L185.1 127.4 L185.9 127.4 L186.8 127.4 L187.7 127.4 L188.5 127.4 L189.4 127.5 L190.2 127.5 L191.1 127.5 L192 127.5 L192.8 127.5 L193.7 127.5 L194.6 127.6 L195.4 127.6 L196.3 127.6 L197.1 127.6 L198 127.6 L198.9 127.6 L199.7 127.6 L200.6 127.7 L201.5 127.7 L202.3 127.7 L203.2 127.7 L204 127.7 L204.9 127.7 L205.8 127.7 L206.6 127.7 L207.5 127.8 L208.3 127.8 L209.2 127.8 L210.1 127.8 L210.9 127.8 L211.8 127.8 L212.7 127.8 L213.5 127.8 L214.4 127.8 L215.2 127.9 L216.1 127.9 L217 127.9" fill="none" stroke="#cf1010" stroke-width="1.4" stroke-linejoin="round"/><path d="M34.2 128.5 L34.7 128.5 L35.1 128.5 L35.5 128.5 L35.9 128.5 L36.4 128.5 L36.8 128.5 L37.2 128.5 L37.7 128.5 L38.1 128.5 L38.5 128.5 L39 128.5 L39.4 128.5 L39.8 128.5 L40.3 128.5 L40.7 128.5 L41.1 128.5 L41.6 128.5 L42 128.5 L42.4 128.5 L42.8 128.5 L43.3 128.5 L43.7 128.5 L44.1 128.5 L44.6 128.5 L45 128.5 L45.4 127.5 L46.3 125.7 L47.2 124 L48 122.4 L48.9 120.9 L49.7 119.5 L50.6 118.2 L51.5 116.9 L52.3 115.8 L53.2 114.7 L54.1 113.7 L54.9 112.7 L55.8 111.8 L56.6 111 L57.5 110.2 L58.4 109.4 L59.2 108.7 L60.1 108.1 L60.9 107.5 L61.8 106.9 L62.7 106.3 L63.5 105.8 L64.4 105.4 L65.3 104.9 L66.1 104.5 L67 104.1 L67.8 103.7 L68.7 103.4 L69.6 103.1 L70.4 102.8 L71.3 102.5 L72.2 102.2 L73 102 L73.9 101.7 L74.7 101.5 L75.6 101.3 L76.5 101.1 L77.3 100.9 L78.2 100.8 L79 100.6 L79.9 100.4 L80.8 100.3 L81.6 100.2 L82.5 100.1 L83.4 99.9 L84.2 99.8 L85.1 99.7 L85.9 99.6 L86.8 99.5 L87.7 99.5 L88.5 99.4 L89.4 99.3 L90.3 99.2 L91.1 99.2 L92 99.1 L92.8 99 L93.7 99 L94.6 98.9 L95.4 98.9 L96.3 98.8 L97.2 99.9 L98 101.9 L98.9 103.7 L99.7 105.4 L100.6 107 L101.5 108.4 L102.3 109.8 L103.2 111 L104 112.2 L104.9 113.2 L105.8 114.2 L106.6 115.1 L107.5 116 L108.4 116.8 L109.2 117.5 L110.1 118.2 L110.9 118.8 L111.8 119.4 L112.7 119.9 L113.5 120.4 L114.4 120.9 L115.3 121.3 L116.1 121.7 L117 122.1 L117.8 122.4 L118.7 122.7 L119.6 123 L120.4 123.3 L121.3 123.6 L122.1 123.8 L123 124 L123.9 124.2 L124.7 124.4 L125.6 124.6 L126.5 124.8 L127.3 125 L128.2 125.1 L129 125.2 L129.9 125.4 L130.8 125.5 L131.6 125.6 L132.5 125.7 L133.4 125.8 L134.2 125.9 L135.1 126 L135.9 126.1 L136.8 126.2 L137.7 126.3 L138.5 126.3 L139.4 126.4 L140.3 126.5 L141.1 126.5 L142 126.6 L142.8 126.6 L143.7 126.7 L144.6 126.7 L145.4 126.8 L146.3 126.8 L147.1 126.9 L148 126.9 L148.9 126.9 L149.7 127 L150.6 127 L151.5 127 L152.3 127.1 L153.2 127.1 L154 127.1 L154.9 127.2 L155.8 127.2 L156.6 127.2 L157.5 127.3 L158.4 127.3 L159.2 127.3 L160.1 127.3 L160.9 127.4 L161.8 127.4 L162.7 127.4 L163.5 127.4 L164.4 127.4 L165.2 127.5 L166.1 127.5 L167 127.5 L167.8 127.5 L168.7 127.5 L169.6 127.5 L170.4 127.6 L171.3 127.6 L172.1 127.6 L173 127.6 L173.9 127.6 L174.7 127.6 L175.6 127.7 L176.5 127.7 L177.3 127.7 L178.2 127.7 L179 127.7 L179.9 127.7 L180.8 127.7 L181.6 127.8 L182.5 127.8 L183.4 127.8 L184.2 127.8 L185.1 127.8 L185.9 127.8 L186.8 127.8 L187.7 127.8 L188.5 127.8 L189.4 127.9 L190.2 127.9 L191.1 127.9 L192 127.9 L192.8 127.9 L193.7 127.9 L194.6 127.9 L195.4 127.9 L196.3 127.9 L197.1 127.9 L198 128 L198.9 128 L199.7 128 L200.6 128 L201.5 128 L202.3 128 L203.2 128 L204 128 L204.9 128 L205.8 128 L206.6 128 L207.5 128 L208.3 128.1 L209.2 128.1 L210.1 128.1 L210.9 128.1 L211.8 128.1 L212.7 128.1 L213.5 128.1 L214.4 128.1 L215.2 128.1 L216.1 128.1 L217 128.1" fill="none" stroke="#cf1010" stroke-width="1.4" stroke-linejoin="round"/><path d="M34.2 128.5 L34.7 128.5 L35.1 128.5 L35.5 128.5 L35.9 128.5 L36.4 128.5 L36.8 128.5 L37.2 128.5 L37.7 128.5 L38.1 128.5 L38.5 128.5 L39 128.5 L39.4 128.5 L39.8 128.5 L40.3 128.5 L40.7 128.5 L41.1 128.5 L41.6 128.5 L42 128.5 L42.4 128.5 L42.8 128.5 L43.3 128.5 L43.7 128.5 L44.1 128.5 L44.6 128.5 L45 128.5 L45.4 128 L46.3 127.1 L47.2 126.2 L48 125.3 L48.9 124.5 L49.7 123.8 L50.6 123 L51.5 122.3 L52.3 121.7 L53.2 121.1 L54.1 120.5 L54.9 119.9 L55.8 119.3 L56.6 118.8 L57.5 118.3 L58.4 117.9 L59.2 117.4 L60.1 117 L60.9 116.6 L61.8 116.2 L62.7 115.9 L63.5 115.5 L64.4 115.2 L65.3 114.9 L66.1 114.6 L67 114.3 L67.8 114 L68.7 113.8 L69.6 113.5 L70.4 113.3 L71.3 113.1 L72.2 112.9 L73 112.7 L73.9 112.5 L74.7 112.3 L75.6 112.1 L76.5 112 L77.3 111.8 L78.2 111.7 L79 111.5 L79.9 111.4 L80.8 111.3 L81.6 111.2 L82.5 111 L83.4 110.9 L84.2 110.8 L85.1 110.7 L85.9 110.6 L86.8 110.5 L87.7 110.5 L88.5 110.4 L89.4 110.3 L90.3 110.2 L91.1 110.2 L92 110.1 L92.8 110 L93.7 110 L94.6 109.9 L95.4 109.9 L96.3 109.8 L97.2 110.4 L98 111.7 L98.9 112.9 L99.7 113.9 L100.6 114.9 L101.5 115.8 L102.3 116.7 L103.2 117.5 L104 118.2 L104.9 118.9 L105.8 119.5 L106.6 120.1 L107.5 120.6 L108.4 121.1 L109.2 121.6 L110.1 122 L110.9 122.4 L111.8 122.7 L112.7 123.1 L113.5 123.4 L114.4 123.7 L115.3 124 L116.1 124.2 L117 124.4 L117.8 124.7 L118.7 124.9 L119.6 125.1 L120.4 125.2 L121.3 125.4 L122.1 125.5 L123 125.7 L123.9 125.8 L124.7 125.9 L125.6 126.1 L126.5 126.2 L127.3 126.3 L128.2 126.4 L129 126.4 L129.9 126.5 L130.8 126.6 L131.6 126.7 L132.5 126.7 L133.4 126.8 L134.2 126.9 L135.1 126.9 L135.9 127 L136.8 127 L137.7 127.1 L138.5 127.1 L139.4 127.2 L140.3 127.2 L141.1 127.2 L142 127.3 L142.8 127.3 L143.7 127.4 L144.6 127.4 L145.4 127.4 L146.3 127.4 L147.1 127.5 L148 127.5 L148.9 127.5 L149.7 127.5 L150.6 127.6 L151.5 127.6 L152.3 127.6 L153.2 127.6 L154 127.6 L154.9 127.7 L155.8 127.7 L156.6 127.7 L157.5 127.7 L158.4 127.7 L159.2 127.7 L160.1 127.8 L160.9 127.8 L161.8 127.8 L162.7 127.8 L163.5 127.8 L164.4 127.8 L165.2 127.8 L166.1 127.9 L167 127.9 L167.8 127.9 L168.7 127.9 L169.6 127.9 L170.4 127.9 L171.3 127.9 L172.1 127.9 L173 127.9 L173.9 128 L174.7 128 L175.6 128 L176.5 128 L177.3 128 L178.2 128 L179 128 L179.9 128 L180.8 128 L181.6 128 L182.5 128 L183.4 128 L184.2 128.1 L185.1 128.1 L185.9 128.1 L186.8 128.1 L187.7 128.1 L188.5 128.1 L189.4 128.1 L190.2 128.1 L191.1 128.1 L192 128.1 L192.8 128.1 L193.7 128.1 L194.6 128.1 L195.4 128.1 L196.3 128.1 L197.1 128.2 L198 128.2 L198.9 128.2 L199.7 128.2 L200.6 128.2 L201.5 128.2 L202.3 128.2 L203.2 128.2 L204 128.2 L204.9 128.2 L205.8 128.2 L206.6 128.2 L207.5 128.2 L208.3 128.2 L209.2 128.2 L210.1 128.2 L210.9 128.2 L211.8 128.2 L212.7 128.2 L213.5 128.2 L214.4 128.2 L215.2 128.3 L216.1 128.3 L217 128.3" fill="none" stroke="#cf1010" stroke-width="1.4" stroke-linejoin="round"/><path d="M34.2 128.5 L34.7 128.5 L35.1 128.5 L35.5 128.5 L35.9 128.5 L36.4 128.5 L36.8 128.5 L37.2 128.5 L37.7 128.5 L38.1 128.5 L38.5 128.5 L39 128.5 L39.4 128.5 L39.8 128.5 L40.3 128.5 L40.7 128.5 L41.1 128.5 L41.6 128.5 L42 128.5 L42.4 128.5 L42.8 128.5 L43.3 128.5 L43.7 128.5 L44.1 128.5 L44.6 128.5 L45 128.5 L45.4 128.3 L46.3 127.8 L47.2 127.4 L48 127 L48.9 126.6 L49.7 126.3 L50.6 125.9 L51.5 125.6 L52.3 125.3 L53.2 125 L54.1 124.7 L54.9 124.4 L55.8 124.2 L56.6 123.9 L57.5 123.7 L58.4 123.5 L59.2 123.2 L60.1 123 L60.9 122.9 L61.8 122.7 L62.7 122.5 L63.5 122.3 L64.4 122.2 L65.3 122 L66.1 121.9 L67 121.8 L67.8 121.6 L68.7 121.5 L69.6 121.4 L70.4 121.3 L71.3 121.2 L72.2 121.1 L73 121 L73.9 120.9 L74.7 120.8 L75.6 120.7 L76.5 120.7 L77.3 120.6 L78.2 120.5 L79 120.4 L79.9 120.4 L80.8 120.3 L81.6 120.3 L82.5 120.2 L83.4 120.2 L84.2 120.1 L85.1 120.1 L85.9 120 L86.8 120 L87.7 119.9 L88.5 119.9 L89.4 119.9 L90.3 119.8 L91.1 119.8 L92 119.8 L92.8 119.7 L93.7 119.7 L94.6 119.7 L95.4 119.6 L96.3 119.6 L97.2 119.9 L98 120.5 L98.9 121.1 L99.7 121.6 L100.6 122 L101.5 122.5 L102.3 122.9 L103.2 123.3 L104 123.6 L104.9 123.9 L105.8 124.2 L106.6 124.5 L107.5 124.7 L108.4 125 L109.2 125.2 L110.1 125.4 L110.9 125.6 L111.8 125.8 L112.7 125.9 L113.5 126.1 L114.4 126.2 L115.3 126.3 L116.1 126.5 L117 126.6 L117.8 126.7 L118.7 126.8 L119.6 126.9 L120.4 126.9 L121.3 127 L122.1 127.1 L123 127.2 L123.9 127.2 L124.7 127.3 L125.6 127.3 L126.5 127.4 L127.3 127.4 L128.2 127.5 L129 127.5 L129.9 127.6 L130.8 127.6 L131.6 127.6 L132.5 127.7 L133.4 127.7 L134.2 127.7 L135.1 127.8 L135.9 127.8 L136.8 127.8 L137.7 127.8 L138.5 127.8 L139.4 127.9 L140.3 127.9 L141.1 127.9 L142 127.9 L142.8 127.9 L143.7 128 L144.6 128 L145.4 128 L146.3 128 L147.1 128 L148 128 L148.9 128 L149.7 128 L150.6 128.1 L151.5 128.1 L152.3 128.1 L153.2 128.1 L154 128.1 L154.9 128.1 L155.8 128.1 L156.6 128.1 L157.5 128.1 L158.4 128.1 L159.2 128.1 L160.1 128.1 L160.9 128.2 L161.8 128.2 L162.7 128.2 L163.5 128.2 L164.4 128.2 L165.2 128.2 L166.1 128.2 L167 128.2 L167.8 128.2 L168.7 128.2 L169.6 128.2 L170.4 128.2 L171.3 128.2 L172.1 128.2 L173 128.2 L173.9 128.2 L174.7 128.2 L175.6 128.2 L176.5 128.3 L177.3 128.3 L178.2 128.3 L179 128.3 L179.9 128.3 L180.8 128.3 L181.6 128.3 L182.5 128.3 L183.4 128.3 L184.2 128.3 L185.1 128.3 L185.9 128.3 L186.8 128.3 L187.7 128.3 L188.5 128.3 L189.4 128.3 L190.2 128.3 L191.1 128.3 L192 128.3 L192.8 128.3 L193.7 128.3 L194.6 128.3 L195.4 128.3 L196.3 128.3 L197.1 128.3 L198 128.3 L198.9 128.3 L199.7 128.3 L200.6 128.3 L201.5 128.3 L202.3 128.3 L203.2 128.4 L204 128.4 L204.9 128.4 L205.8 128.4 L206.6 128.4 L207.5 128.4 L208.3 128.4 L209.2 128.4 L210.1 128.4 L210.9 128.4 L211.8 128.4 L212.7 128.4 L213.5 128.4 L214.4 128.4 L215.2 128.4 L216.1 128.4 L217 128.4" fill="none" stroke="#cf1010" stroke-width="1.4" stroke-linejoin="round"/></g><path d="M34.5 10.9 V133.2 H218" fill="none" stroke="#000" stroke-width="1.3"/><path d="M31 128.5 H34.5" stroke="#000" stroke-width="1.2"/><text x="28.9" y="131.6" font-size="9.1" font-weight="bold" text-anchor="end">0</text><path d="M31 105.1 H34.5" stroke="#000" stroke-width="1.2"/><text x="28.9" y="108.2" font-size="9.1" font-weight="bold" text-anchor="end">25</text><path d="M31 81.7 H34.5" stroke="#000" stroke-width="1.2"/><text x="28.9" y="84.8" font-size="9.1" font-weight="bold" text-anchor="end">50</text><path d="M31 58.3 H34.5" stroke="#000" stroke-width="1.2"/><text x="28.9" y="61.4" font-size="9.1" font-weight="bold" text-anchor="end">75</text><path d="M31 34.9 H34.5" stroke="#000" stroke-width="1.2"/><text x="28.9" y="38" font-size="9.1" font-weight="bold" text-anchor="end">100</text><path d="M31 11.5 H34.5" stroke="#000" stroke-width="1.2"/><text x="28.9" y="14.6" font-size="9.1" font-weight="bold" text-anchor="end">125</text><path d="M45 133.2 V136.7" stroke="#000" stroke-width="1.2"/><text x="45" y="147" font-size="9.1" font-weight="bold" text-anchor="middle">0</text><path d="M88.1 133.2 V136.7" stroke="#000" stroke-width="1.2"/><text x="88.1" y="147" font-size="9.1" font-weight="bold" text-anchor="middle">100</text><path d="M131.2 133.2 V136.7" stroke="#000" stroke-width="1.2"/><text x="131.2" y="147" font-size="9.1" font-weight="bold" text-anchor="middle">200</text><path d="M174.3 133.2 V136.7" stroke="#000" stroke-width="1.2"/><text x="174.3" y="147" font-size="9.1" font-weight="bold" text-anchor="middle">300</text><path d="M217.4 133.2 V136.7" stroke="#000" stroke-width="1.2"/><text x="217.4" y="147" font-size="9.1" font-weight="bold" text-anchor="middle">400</text><text x="124" y="159.2" font-size="11.5" text-anchor="middle">Time (s)</text><text transform="translate(10 68.8) rotate(-90)" font-size="11.5" text-anchor="middle">Response (RU)</text><text x="124.5" y="10" font-size="11.4" text-anchor="middle">Parent A26.8</text><text x="109" y="25.5" font-size="8.75"><tspan font-style="italic">k</tspan><tspan font-size="5.0" dy="2">on</tspan><tspan dy="-2"> = 1.8 (±0.3) × 10</tspan><tspan font-size="5.0" dy="-3.5">6</tspan><tspan dy="3.5"> M</tspan><tspan font-size="5.0" dy="-3.5">-1</tspan><tspan dy="3.5">s</tspan><tspan font-size="5.0" dy="-3.5">-1</tspan></text><text x="109" y="38.5" font-size="8.75"><tspan font-style="italic">k</tspan><tspan font-size="5.0" dy="2">off</tspan><tspan dy="-2"> = 3.4 (±0.6) × 10</tspan><tspan font-size="5.0" dy="-3.5">-2</tspan><tspan dy="3.5"> s</tspan><tspan font-size="5.0" dy="-3.5">-1</tspan></text><text x="109" y="51.5" font-size="8.75"><tspan font-style="italic">K</tspan><tspan font-size="5.0" dy="2">D</tspan><tspan dy="-2"> = 18.7 (±0.6) nM</tspan></text><text x="194.3" y="74.6" font-size="9" text-anchor="middle">50 nM</text><text x="194.3" y="103.1" font-size="9" text-anchor="middle">1 nM</text><path d="M194.3 77.5 V90.6" stroke="#000" stroke-width="1.7"/><path d="M189.5 88.2 L194.3 89.9 L199.1 88.2 L194.3 93.9 Z" fill="#000"/><g><path d="M264.3 127.3 L264.8 127.3 L265.4 127.3 L265.9 127.3 L266.4 127.3 L266.9 127.3 L267.4 127.3 L267.9 127.3 L268.5 127.3 L269 127.3 L269.5 127.3 L270 127.3 L270.5 127.3 L271 127.3 L271.6 127.3 L272.1 127.3 L272.6 127.3 L273.1 127.3 L273.6 127.3 L274.2 127.3 L274.7 127.3 L275.2 127.2 L275.7 120.4 L276.2 114.6 L276.7 109.2 L277.3 104.4 L277.8 99.3 L278.3 94.5 L278.8 90.9 L279.3 87.2 L279.8 82.7 L280.4 79.6 L280.9 76.5 L281.4 73.4 L281.9 71.3 L282.4 68.7 L282.9 65.7 L283.5 64.2 L284 62 L284.5 59.8 L285 57.9 L285.5 56.5 L286 54.4 L286.6 53.4 L287.1 51.6 L287.6 50.1 L288.1 49.1 L288.6 47.9 L289.2 47.7 L289.7 46.7 L290.2 45.5 L290.7 44.1 L291.2 42.8 L291.7 43.3 L292.3 41.9 L292.8 41.8 L293.3 41.1 L293.8 40.3 L294.3 39.3 L294.8 39 L295.4 38.1 L295.9 38.6 L296.4 37.4 L296.9 37 L297.4 37 L297.9 36.5 L298.5 36.6 L299 36.5 L299.5 36 L300 35.8 L300.5 34 L301 35.3 L301.6 34.1 L302.1 34.5 L302.6 34.3 L303.1 33.9 L303.6 34.5 L304.1 33.5 L304.7 33.6 L305.2 34.4 L305.7 33.3 L306.2 33.2 L306.7 33.1 L307.3 32.5 L307.8 33.3 L308.3 32.8 L308.8 32.6 L309.3 33.3 L309.8 32.3 L310.4 33.4 L310.9 33.3 L311.4 32.4 L311.9 33 L312.4 32.6 L312.9 33.2 L313.5 32.4 L314 32.9 L314.5 32.2 L315 33 L315.5 32.1 L316 32.3 L316.6 32.2 L317.1 32.2 L317.6 32.1 L318.1 32.7 L318.6 33.2 L319.1 32.1 L319.7 32.5 L320.2 32.2 L320.7 31.8 L321.2 32.9 L321.7 32.3 L322.3 32.2 L322.8 32.4 L323.3 31.8 L323.8 32 L324.3 32.3 L324.8 32.4 L325.4 31.5 L325.9 32.2 L326.4 31.6 L326.9 32 L327.4 35.1 L327.9 36.8 L328.5 38.2 L329 40 L329.5 41.6 L330 43.4 L330.5 45.1 L331 47.5 L331.6 49.1 L332.1 50.2 L332.6 52.4 L333.1 53.3 L333.6 56 L334.1 56.4 L334.7 58.3 L335.2 60.5 L335.7 60.5 L336.2 62.1 L336.7 63.6 L337.3 65.3 L337.8 66.3 L338.3 66.6 L338.8 68.8 L339.3 71.2 L339.8 71.1 L340.4 72.4 L340.9 73 L341.4 74.1 L341.9 75.4 L342.4 76.3 L342.9 76.4 L343.5 78.5 L344 77.9 L344.5 79.9 L345 81 L345.5 81 L346 82 L346.6 83.5 L347.1 83.5 L347.6 85.4 L348.1 85.8 L348.6 85.6 L349.1 86.9 L349.7 88.1 L350.2 87.9 L350.7 88.4 L351.2 89.5 L351.7 90.9 L352.2 90.9 L352.8 91.1 L353.3 91.5 L353.8 91.5 L354.3 93.2 L354.8 93.9 L355.4 94.2 L355.9 94 L356.4 95.7 L356.9 95 L357.4 97.7 L357.9 96.2 L358.5 97.5 L359 97.3 L359.5 97.7 L360 99.1 L360.5 98.9 L361 99.2 L361.6 99.4 L362.1 100.6 L362.6 101 L363.1 101.9 L363.6 99.8 L364.1 101.7 L364.7 102.1 L365.2 103.1 L365.7 102.1 L366.2 103.3 L366.7 102.5 L367.2 103.1 L367.8 103.9 L368.3 103.8 L368.8 105.1 L369.3 105 L369.8 105.4 L370.4 106 L370.9 105.6 L371.4 106 L371.9 105.4 L372.4 108.2 L372.9 107 L373.5 107.4 L374 107.4 L374.5 107.1 L375 107.4 L375.5 107.8 L376 108.3 L376.6 108 L377.1 108.2 L377.6 109.7 L378.1 109 L378.6 109.8 L379.1 109.9 L379.7 109.3 L380.2 109.6 L380.7 109.7 L381.2 110.4 L381.7 110.2 L382.2 110.8 L382.8 110.3 L383.3 110.3 L383.8 109.8 L384.3 110.3 L384.8 111.6 L385.3 111.5 L385.9 111.9 L386.4 111.4 L386.9 110.6 L387.4 111.4 L387.9 113.2 L388.5 112.8 L389 113 L389.5 112.1 L390 112.5 L390.5 112.5 L391 111.8 L391.6 113.3 L392.1 113.5 L392.6 112 L393.1 113 L393.6 113.8 L394.1 114.6 L394.7 114.4 L395.2 115 L395.7 113.7 L396.2 113.8 L396.7 113.4 L397.2 114.1 L397.8 114.6 L398.3 114.7 L398.8 113.3 L399.3 115.4 L399.8 114.5 L400.3 114.6 L400.9 114.4 L401.4 115 L401.9 114.6 L402.4 114.5 L402.9 115.2 L403.5 115.4 L404 115.3 L404.5 115.9 L405 115.5 L405.5 115.6 L406 115.4 L406.6 114.9 L407.1 115 L407.6 116 L408.1 115.5 L408.6 115.8 L409.1 115.6 L409.7 116.1 L410.2 116 L410.7 116.5 L411.2 116.7 L411.7 115.9 L412.2 115.7 L412.8 116.1 L413.3 116.3 L413.8 116.4 L414.3 116.9 L414.8 117.7 L415.3 116.4 L415.9 116.7 L416.4 117.2 L416.9 117.5 L417.4 116.3 L417.9 118.1 L418.5 116.2 L419 116.8 L419.5 115.9 L420 117.7 L420.5 117.4 L421 117.7 L421.6 117.4 L422.1 117.6 L422.6 118 L423.1 117 L423.6 118.1 L424.1 118 L424.7 117.5 L425.2 118.1 L425.7 118.1 L426.2 117.7 L426.7 118.2 L427.2 118.7 L427.8 118.1 L428.3 118.2 L428.8 117.2 L429.3 118.8 L429.8 117.7 L430.3 118.7 L430.9 118.5 L431.4 118.5 L431.9 118.3 L432.4 118 L432.9 117.5 L433.4 118.9 L434 117.8 L434.5 118.1 L435 118.2 L435.5 119.1 L436 118.2 L436.6 118.8 L437.1 118.6 L437.6 119 L438.1 118.5 L438.6 118.3 L439.1 118.4 L439.7 119.1 L440.2 118.5 L440.7 118.3 L441.2 119.6 L441.7 118.4 L442.2 119.9 L442.8 118.9 L443.3 118.9 L443.8 118.5 L444.3 119.2 L444.8 119.6 L445.3 119.9 L445.9 120.1 L446.4 119.1 L446.9 119.7 L447.4 120" fill="none" stroke="#000" stroke-width="2.5" stroke-linejoin="round"/><path d="M326.8 32.4 V28.7" stroke="#000" stroke-width="1.5"/><path d="M264.3 127.3 L264.8 127.3 L265.4 127.3 L265.9 127.3 L266.4 127.3 L266.9 127.3 L267.4 127.3 L267.9 127.3 L268.5 127.3 L269 127.3 L269.5 127.3 L270 127.3 L270.5 127.3 L271 127.3 L271.6 127.3 L272.1 127.3 L272.6 127.3 L273.1 127.3 L273.6 127.3 L274.2 127.3 L274.7 127.3 L275.2 126.1 L275.7 121.5 L276.2 116.4 L276.7 111.8 L277.3 106.5 L277.8 102.6 L278.3 99.6 L278.8 96.7 L279.3 92.6 L279.8 89.6 L280.4 86.6 L280.9 83.8 L281.4 81.7 L281.9 78.7 L282.4 76.6 L282.9 74.8 L283.5 73.2 L284 71.4 L284.5 69.2 L285 68.4 L285.5 66.5 L286 65.4 L286.6 64.4 L287.1 62.3 L287.6 61.5 L288.1 60.4 L288.6 59.1 L289.2 59.2 L289.7 57.7 L290.2 56.7 L290.7 55.7 L291.2 55.9 L291.7 54.4 L292.3 54.1 L292.8 53 L293.3 52.5 L293.8 52.3 L294.3 51.1 L294.8 51.6 L295.4 51.4 L295.9 51 L296.4 50.9 L296.9 50.2 L297.4 50.7 L297.9 49.6 L298.5 49.1 L299 48.6 L299.5 48.9 L300 47.9 L300.5 48.6 L301 48.2 L301.6 48.8 L302.1 48.1 L302.6 48 L303.1 46.8 L303.6 47.1 L304.1 47.7 L304.7 46.8 L305.2 46.8 L305.7 47 L306.2 46.8 L306.7 46.8 L307.3 46.8 L307.8 47.3 L308.3 46.5 L308.8 45.8 L309.3 45.7 L309.8 46.3 L310.4 46.5 L310.9 46.2 L311.4 45.7 L311.9 45.9 L312.4 46.2 L312.9 45.8 L313.5 46 L314 45.6 L314.5 46 L315 46.4 L315.5 45.7 L316 45.4 L316.6 46.2 L317.1 45.7 L317.6 45.3 L318.1 45.8 L318.6 45.9 L319.1 44.7 L319.7 45.2 L320.2 45.1 L320.7 46 L321.2 44.8 L321.7 46.2 L322.3 45.7 L322.8 45.2 L323.3 44.9 L323.8 45.9 L324.3 45.8 L324.8 45.4 L325.4 46.3 L325.9 45.2 L326.4 45.2 L326.9 45.8 L327.4 46.4 L327.9 47.3 L328.5 48.4 L329 49.3 L329.5 49.8 L330 51.6 L330.5 52.3 L331 53.5 L331.6 53.7 L332.1 55.2 L332.6 55.7 L333.1 56.7 L333.6 57.6 L334.1 57.7 L334.7 59.8 L335.2 60.6 L335.7 62.2 L336.2 63.3 L336.7 65.3 L337.3 66 L337.8 67.4 L338.3 69.2 L338.8 70 L339.3 71.3 L339.8 72.4 L340.4 72.9 L340.9 74.8 L341.4 76.3 L341.9 77.3 L342.4 77.7 L342.9 78.8 L343.5 79.4 L344 80.1 L344.5 80.5 L345 82 L345.5 82.8 L346 84.1 L346.6 84.4 L347.1 84.8 L347.6 85.6 L348.1 87.8 L348.6 87.3 L349.1 87.7 L349.7 88.7 L350.2 90.4 L350.7 90.6 L351.2 90.8 L351.7 91.5 L352.2 92.7 L352.8 93.4 L353.3 93 L353.8 94.8 L354.3 93.9 L354.8 95.2 L355.4 95.6 L355.9 97 L356.4 97.1 L356.9 96.9 L357.4 98.6 L357.9 97.2 L358.5 99.5 L359 99.8 L359.5 99.6 L360 99.8 L360.5 100.1 L361 101.1 L361.6 101.4 L362.1 101.8 L362.6 102.4 L363.1 103.8 L363.6 102.3 L364.1 103.1 L364.7 103.5 L365.2 104.2 L365.7 104.1 L366.2 104.6 L366.7 104.9 L367.2 104.6 L367.8 106.4 L368.3 105.7 L368.8 106.7 L369.3 106.6 L369.8 105.9 L370.4 107.5 L370.9 107.3 L371.4 107.8 L371.9 107.2 L372.4 108.5 L372.9 109.1 L373.5 108.2 L374 108.9 L374.5 109.1 L375 108.6 L375.5 109.9 L376 109.8 L376.6 109.8 L377.1 109.8 L377.6 110.5 L378.1 109.9 L378.6 109.5 L379.1 111 L379.7 110 L380.2 112.3 L380.7 110.6 L381.2 111.7 L381.7 111.7 L382.2 112.1 L382.8 112.4 L383.3 112.9 L383.8 112.6 L384.3 111.9 L384.8 112.1 L385.3 113 L385.9 113.3 L386.4 113.5 L386.9 113.9 L387.4 112.5 L387.9 113.2 L388.5 113.6 L389 114.1 L389.5 114.5 L390 113.4 L390.5 113.8 L391 114.9 L391.6 113.9 L392.1 115.2 L392.6 114.4 L393.1 115.3 L393.6 115.2 L394.1 114.8 L394.7 114.9 L395.2 114.7 L395.7 115.8 L396.2 114.6 L396.7 114.9 L397.2 115.7 L397.8 115.5 L398.3 116.3 L398.8 116 L399.3 116.8 L399.8 116.1 L400.3 116.1 L400.9 115.6 L401.4 115.9 L401.9 116.1 L402.4 116.8 L402.9 116.8 L403.5 116.9 L404 116.7 L404.5 117.9 L405 116.6 L405.5 117.9 L406 117.4 L406.6 117.2 L407.1 117.6 L407.6 116.5 L408.1 117.5 L408.6 116.7 L409.1 117 L409.7 117.9 L410.2 117.5 L410.7 117.1 L411.2 118 L411.7 117.8 L412.2 118.2 L412.8 118 L413.3 118.2 L413.8 118.1 L414.3 117.6 L414.8 117.5 L415.3 118.2 L415.9 118.2 L416.4 117.9 L416.9 118.6 L417.4 119 L417.9 117.9 L418.5 119.1 L419 118.1 L419.5 119.2 L420 117.7 L420.5 119.3 L421 118.4 L421.6 118.1 L422.1 119.4 L422.6 118.2 L423.1 119.4 L423.6 120 L424.1 118.7 L424.7 118.7 L425.2 119.3 L425.7 120.5 L426.2 119.3 L426.7 119.4 L427.2 119.5 L427.8 119.5 L428.3 120.3 L428.8 119.7 L429.3 118.5 L429.8 118.7 L430.3 119.7 L430.9 120 L431.4 119.4 L431.9 119.1 L432.4 119.3 L432.9 120.4 L433.4 119.7 L434 119.7 L434.5 119.1 L435 119.3 L435.5 119.6 L436 119.3 L436.6 120.2 L437.1 119.2 L437.6 120.3 L438.1 119.9 L438.6 119.6 L439.1 120.6 L439.7 120.6 L440.2 121.2 L440.7 120.2 L441.2 120.3 L441.7 120.5 L442.2 120.1 L442.8 121.5 L443.3 120.4 L443.8 120.4 L444.3 120.6 L444.8 120.1 L445.3 119.6 L445.9 120.8 L446.4 121.1 L446.9 120.9 L447.4 120.6" fill="none" stroke="#000" stroke-width="2.5" stroke-linejoin="round"/><path d="M326.8 45.9 V42.2" stroke="#000" stroke-width="1.5"/><path d="M264.3 127.3 L264.8 127.3 L265.4 127.3 L265.9 127.3 L266.4 127.3 L266.9 127.3 L267.4 127.3 L267.9 127.3 L268.5 127.3 L269 127.3 L269.5 127.3 L270 127.3 L270.5 127.3 L271 127.3 L271.6 127.3 L272.1 127.3 L272.6 127.3 L273.1 127.3 L273.6 127.3 L274.2 127.3 L274.7 127.3 L275.2 126.4 L275.7 123.1 L276.2 118.5 L276.7 115.9 L277.3 111.7 L277.8 108.8 L278.3 105.8 L278.8 102.2 L279.3 100.6 L279.8 98.1 L280.4 95.4 L280.9 93 L281.4 91.9 L281.9 89.2 L282.4 87.7 L282.9 85.3 L283.5 83.3 L284 82.3 L284.5 80.8 L285 79.3 L285.5 79.3 L286 76.4 L286.6 75.3 L287.1 74.3 L287.6 73.5 L288.1 72.6 L288.6 71.4 L289.2 69.9 L289.7 69.6 L290.2 68.2 L290.7 69.1 L291.2 67.5 L291.7 66.4 L292.3 65.9 L292.8 66 L293.3 65 L293.8 63.6 L294.3 64.2 L294.8 63.6 L295.4 63.2 L295.9 62.5 L296.4 61.6 L296.9 61.2 L297.4 62 L297.9 60.1 L298.5 60.7 L299 60.4 L299.5 59.1 L300 59.6 L300.5 59.8 L301 59.3 L301.6 59.1 L302.1 59 L302.6 58.5 L303.1 57.8 L303.6 57.8 L304.1 58.4 L304.7 56.4 L305.2 57.9 L305.7 57.3 L306.2 57.2 L306.7 56.7 L307.3 57.1 L307.8 56.6 L308.3 55.8 L308.8 56.5 L309.3 56.9 L309.8 56.2 L310.4 56.6 L310.9 56.4 L311.4 56 L311.9 55.9 L312.4 56.1 L312.9 55.5 L313.5 55.9 L314 56.4 L314.5 55.4 L315 55.8 L315.5 55.1 L316 55.9 L316.6 55.3 L317.1 55.4 L317.6 56.6 L318.1 56.1 L318.6 55.9 L319.1 54.7 L319.7 56.1 L320.2 54.9 L320.7 54.8 L321.2 55 L321.7 54.9 L322.3 55.4 L322.8 55.1 L323.3 55 L323.8 54.9 L324.3 54.8 L324.8 55.2 L325.4 55.3 L325.9 55.3 L326.4 54.8 L326.9 55.9 L327.4 56.6 L327.9 57.1 L328.5 58 L329 58.7 L329.5 60.6 L330 60.5 L330.5 61.2 L331 61.6 L331.6 63.6 L332.1 63.6 L332.6 64.1 L333.1 64.8 L333.6 65.3 L334.1 66.1 L334.7 67.7 L335.2 67.7 L335.7 68.9 L336.2 69.8 L336.7 69.4 L337.3 71.1 L337.8 71.8 L338.3 72.3 L338.8 73.2 L339.3 73 L339.8 73.9 L340.4 74.4 L340.9 75.9 L341.4 77.4 L341.9 77.7 L342.4 79.4 L342.9 80.3 L343.5 81.1 L344 81.9 L344.5 82.3 L345 84 L345.5 84.4 L346 85.4 L346.6 86.8 L347.1 87.5 L347.6 87.9 L348.1 88.4 L348.6 89.1 L349.1 89.8 L349.7 90.7 L350.2 91.6 L350.7 91.9 L351.2 93.1 L351.7 93.9 L352.2 94.1 L352.8 95.3 L353.3 95.4 L353.8 96.1 L354.3 96.6 L354.8 96.9 L355.4 97.8 L355.9 98.1 L356.4 99.3 L356.9 98.8 L357.4 99.9 L357.9 99.7 L358.5 101.8 L359 101.2 L359.5 101.1 L360 103 L360.5 102.3 L361 102.5 L361.6 102.9 L362.1 104.1 L362.6 103.6 L363.1 104 L363.6 105 L364.1 104.4 L364.7 105.2 L365.2 105.5 L365.7 106.1 L366.2 105.9 L366.7 106.4 L367.2 106.2 L367.8 106.9 L368.3 107.7 L368.8 107.8 L369.3 107.5 L369.8 108.5 L370.4 108.3 L370.9 108.5 L371.4 109.2 L371.9 110.6 L372.4 109.5 L372.9 109.7 L373.5 110 L374 110.7 L374.5 109.9 L375 110.9 L375.5 111.3 L376 111.6 L376.6 111.2 L377.1 112.2 L377.6 112.4 L378.1 111 L378.6 111.5 L379.1 111.9 L379.7 111.9 L380.2 112.5 L380.7 113.9 L381.2 112.5 L381.7 112.7 L382.2 113.2 L382.8 114.7 L383.3 113.2 L383.8 113.3 L384.3 114.4 L384.8 114.2 L385.3 114 L385.9 114.7 L386.4 114.2 L386.9 114.9 L387.4 114.7 L387.9 115.1 L388.5 116.1 L389 116 L389.5 113.9 L390 115.6 L390.5 115.1 L391 115.3 L391.6 115.2 L392.1 115.9 L392.6 116.6 L393.1 116.4 L393.6 117.6 L394.1 116.7 L394.7 116.3 L395.2 118 L395.7 116.9 L396.2 116.6 L396.7 116.5 L397.2 117.8 L397.8 117.7 L398.3 118.4 L398.8 118 L399.3 117.3 L399.8 116.5 L400.3 118.3 L400.9 117 L401.4 117.6 L401.9 118.2 L402.4 116.8 L402.9 119.4 L403.5 118.1 L404 118 L404.5 117.1 L405 117.3 L405.5 117.1 L406 118.3 L406.6 117.9 L407.1 117.8 L407.6 118.3 L408.1 118.4 L408.6 118.8 L409.1 119 L409.7 119.4 L410.2 117.8 L410.7 119.1 L411.2 120.1 L411.7 118.9 L412.2 119.1 L412.8 119 L413.3 118.2 L413.8 119.2 L414.3 119.4 L414.8 119.7 L415.3 119.3 L415.9 119.6 L416.4 119.3 L416.9 117.8 L417.4 119.3 L417.9 120 L418.5 118.6 L419 119.2 L419.5 119.2 L420 119.3 L420.5 119.3 L421 119.4 L421.6 119.1 L422.1 119.3 L422.6 119.2 L423.1 120.2 L423.6 120 L424.1 120.4 L424.7 119.6 L425.2 119.7 L425.7 120.4 L426.2 119.9 L426.7 118.8 L427.2 119.6 L427.8 120.9 L428.3 120.4 L428.8 120 L429.3 120.4 L429.8 120.2 L430.3 119.8 L430.9 120.3 L431.4 121.1 L431.9 120.2 L432.4 120.6 L432.9 120.6 L433.4 121 L434 121.4 L434.5 121.4 L435 120.9 L435.5 121.4 L436 122.3 L436.6 120.2 L437.1 121.5 L437.6 121.3 L438.1 120.7 L438.6 122.3 L439.1 120.3 L439.7 121.4 L440.2 120.7 L440.7 121.3 L441.2 120.9 L441.7 121.1 L442.2 121.2 L442.8 122.2 L443.3 122 L443.8 121.3 L444.3 120.5 L444.8 121.6 L445.3 121 L445.9 121.3 L446.4 121.1 L446.9 120.9 L447.4 122.2" fill="none" stroke="#000" stroke-width="2.5" stroke-linejoin="round"/><path d="M326.8 55.5 V51.8" stroke="#000" stroke-width="1.5"/><path d="M264.3 127.3 L264.8 127.3 L265.4 127.3 L265.9 127.3 L266.4 127.3 L266.9 127.3 L267.4 127.3 L267.9 127.3 L268.5 127.3 L269 127.3 L269.5 127.3 L270 127.3 L270.5 127.3 L271 127.3 L271.6 127.3 L272.1 127.3 L272.6 127.3 L273.1 127.3 L273.6 127.3 L274.2 127.3 L274.7 127.3 L275.2 127 L275.7 125.8 L276.2 124.6 L276.7 123.5 L277.3 122.3 L277.8 121.2 L278.3 120 L278.8 117.3 L279.3 116.5 L279.8 116.2 L280.4 114.8 L280.9 114.5 L281.4 114.3 L281.9 112.9 L282.4 111 L282.9 109.5 L283.5 109.3 L284 108.8 L284.5 107.6 L285 107.1 L285.5 106.4 L286 105.1 L286.6 104.4 L287.1 103.8 L287.6 103.1 L288.1 102.4 L288.6 101.1 L289.2 99.9 L289.7 100 L290.2 98.2 L290.7 99.3 L291.2 97.8 L291.7 97.8 L292.3 96.8 L292.8 96.1 L293.3 95.3 L293.8 94.5 L294.3 94.7 L294.8 94.5 L295.4 93.5 L295.9 92.8 L296.4 92.8 L296.9 91.6 L297.4 90.8 L297.9 91.7 L298.5 90.5 L299 89.7 L299.5 90.6 L300 89.3 L300.5 89.1 L301 89.2 L301.6 87.6 L302.1 87.7 L302.6 87.7 L303.1 86.9 L303.6 86.5 L304.1 86.1 L304.7 85.8 L305.2 85.6 L305.7 86 L306.2 85.4 L306.7 84.8 L307.3 85.8 L307.8 83.4 L308.3 84.2 L308.8 84.2 L309.3 84.3 L309.8 83.1 L310.4 83 L310.9 83 L311.4 82.7 L311.9 82.7 L312.4 82.4 L312.9 81.9 L313.5 81.9 L314 81.1 L314.5 81.3 L315 81 L315.5 80.7 L316 80.1 L316.6 80.2 L317.1 80.2 L317.6 80.2 L318.1 80.3 L318.6 79.9 L319.1 79.3 L319.7 79.4 L320.2 79.5 L320.7 79.8 L321.2 79.7 L321.7 78.7 L322.3 78.3 L322.8 78.4 L323.3 79.1 L323.8 78.4 L324.3 78.1 L324.8 78.5 L325.4 77.8 L325.9 78 L326.4 78.1 L326.9 78.4 L327.4 78.6 L327.9 79.8 L328.5 81.4 L329 82.5 L329.5 82.6 L330 83.7 L330.5 85 L331 85.1 L331.6 86.8 L332.1 88 L332.6 87.9 L333.1 89.3 L333.6 89.9 L334.1 90.8 L334.7 92.1 L335.2 92.9 L335.7 93.2 L336.2 93.2 L336.7 95 L337.3 94.7 L337.8 95.8 L338.3 97.1 L338.8 97.1 L339.3 97.6 L339.8 98.9 L340.4 100 L340.9 99.5 L341.4 100.7 L341.9 100.6 L342.4 102.2 L342.9 101.9 L343.5 102.8 L344 103.6 L344.5 103.5 L345 103.8 L345.5 104.6 L346 105.4 L346.6 105.2 L347.1 106.5 L347.6 105.9 L348.1 106.4 L348.6 106.3 L349.1 107 L349.7 107.7 L350.2 108.1 L350.7 108.6 L351.2 109.5 L351.7 108.7 L352.2 109.4 L352.8 110.1 L353.3 110.9 L353.8 109.9 L354.3 110.7 L354.8 111.9 L355.4 111.2 L355.9 110.9 L356.4 112.2 L356.9 112.3 L357.4 113 L357.9 113.4 L358.5 112.7 L359 111.9 L359.5 113.8 L360 114.1 L360.5 113.9 L361 114.7 L361.6 114.4 L362.1 114.6 L362.6 115.8 L363.1 116 L363.6 115.7 L364.1 115.4 L364.7 115.9 L365.2 115.6 L365.7 117.2 L366.2 116.4 L366.7 117.2 L367.2 117 L367.8 117.1 L368.3 117.9 L368.8 117.7 L369.3 118.4 L369.8 117.8 L370.4 118.5 L370.9 118.5 L371.4 118.3 L371.9 118.9 L372.4 118.1 L372.9 119.1 L373.5 118.5 L374 118.9 L374.5 119.8 L375 119.5 L375.5 119.9 L376 119.8 L376.6 119.9 L377.1 118.9 L377.6 120.2 L378.1 119.2 L378.6 120 L379.1 121 L379.7 121.6 L380.2 120.2 L380.7 121.7 L381.2 120.3 L381.7 120.3 L382.2 120.7 L382.8 121.1 L383.3 121.2 L383.8 121.1 L384.3 121.5 L384.8 121.7 L385.3 121.7 L385.9 120.9 L386.4 122 L386.9 121.5 L387.4 122.4 L387.9 122.2 L388.5 122.7 L389 122.1 L389.5 121.7 L390 122 L390.5 122.5 L391 122 L391.6 122.5 L392.1 122.2 L392.6 122.3 L393.1 122.3 L393.6 123.9 L394.1 123.4 L394.7 122.3 L395.2 122.9 L395.7 121.7 L396.2 123 L396.7 123.3 L397.2 122.2 L397.8 122.8 L398.3 122.1 L398.8 122.9 L399.3 123.3 L399.8 122.9 L400.3 123.7 L400.9 123.6 L401.4 123.7 L401.9 123.6 L402.4 123.1 L402.9 123.8 L403.5 123.4 L404 123.9 L404.5 123.2 L405 125.2 L405.5 123.9 L406 123.7 L406.6 124.4 L407.1 123.3 L407.6 123.8 L408.1 123.3 L408.6 123.5 L409.1 123.7 L409.7 124.1 L410.2 124.7 L410.7 124.2 L411.2 124.4 L411.7 124 L412.2 124.5 L412.8 122.6 L413.3 125.1 L413.8 123.7 L414.3 124.6 L414.8 124.5 L415.3 123.9 L415.9 124.4 L416.4 125.1 L416.9 124.2 L417.4 124.6 L417.9 125.6 L418.5 124.4 L419 125.1 L419.5 125 L420 124.4 L420.5 124.5 L421 124.8 L421.6 123.5 L422.1 124.5 L422.6 125.1 L423.1 124.6 L423.6 124.8 L424.1 126 L424.7 125.7 L425.2 125.6 L425.7 123.8 L426.2 125 L426.7 125 L427.2 125.2 L427.8 124.4 L428.3 124.9 L428.8 124.1 L429.3 124.6 L429.8 124.1 L430.3 125.1 L430.9 124.9 L431.4 125.3 L431.9 125.2 L432.4 126 L432.9 125.4 L433.4 125.6 L434 125.5 L434.5 124.5 L435 125 L435.5 124.6 L436 124.8 L436.6 124.7 L437.1 124.7 L437.6 125.6 L438.1 124.9 L438.6 125.5 L439.1 125.6 L439.7 124.7 L440.2 124.2 L440.7 125.9 L441.2 124.4 L441.7 124.9 L442.2 125.8 L442.8 125.3 L443.3 125.2 L443.8 125.2 L444.3 125.6 L444.8 126.1 L445.3 125.4 L445.9 125 L446.4 125.1 L446.9 125.2 L447.4 124.9" fill="none" stroke="#000" stroke-width="2.5" stroke-linejoin="round"/><path d="M326.8 78.2 V74.5" stroke="#000" stroke-width="1.5"/><path d="M264.3 127.3 L264.8 127.3 L265.4 127.3 L265.9 127.3 L266.4 127.3 L266.9 127.3 L267.4 127.3 L267.9 127.3 L268.5 127.3 L269 127.3 L269.5 127.3 L270 127.3 L270.5 127.3 L271 127.3 L271.6 127.3 L272.1 127.3 L272.6 127.3 L273.1 127.3 L273.6 127.3 L274.2 127.3 L274.7 127.3 L275.2 127.6 L275.7 126.5 L276.2 125.7 L276.7 124.7 L277.3 124.4 L277.8 123.6 L278.3 123.2 L278.8 121.7 L279.3 123 L279.8 121.5 L280.4 119.8 L280.9 120.3 L281.4 120.6 L281.9 119.2 L282.4 119.4 L282.9 118.6 L283.5 117.7 L284 116.6 L284.5 116.7 L285 116.1 L285.5 115.5 L286 115.4 L286.6 115.5 L287.1 114.7 L287.6 114.2 L288.1 114 L288.6 113.8 L289.2 113.3 L289.7 113.4 L290.2 112.9 L290.7 112.1 L291.2 111.9 L291.7 111.4 L292.3 110.5 L292.8 110.6 L293.3 110.5 L293.8 110.7 L294.3 110.3 L294.8 109.4 L295.4 109.7 L295.9 108.8 L296.4 109.2 L296.9 108.4 L297.4 108.3 L297.9 107.6 L298.5 107.9 L299 107.7 L299.5 107.2 L300 107 L300.5 106.1 L301 106.7 L301.6 106.6 L302.1 106.3 L302.6 105.8 L303.1 105.7 L303.6 105.3 L304.1 106 L304.7 104.2 L305.2 104.3 L305.7 104.9 L306.2 105.3 L306.7 104.5 L307.3 104.2 L307.8 105.2 L308.3 104.1 L308.8 104.6 L309.3 103.6 L309.8 103.1 L310.4 103.1 L310.9 104 L311.4 102.6 L311.9 102.7 L312.4 103.1 L312.9 102.6 L313.5 102.1 L314 102.8 L314.5 102.5 L315 102.6 L315.5 101.8 L316 103.1 L316.6 101.5 L317.1 102.4 L317.6 101.5 L318.1 102.5 L318.6 102.1 L319.1 101.8 L319.7 101.1 L320.2 102.1 L320.7 101.1 L321.2 101.5 L321.7 100.6 L322.3 101.2 L322.8 100.8 L323.3 101 L323.8 100.1 L324.3 100.9 L324.8 100.7 L325.4 99.8 L325.9 100.5 L326.4 100.2 L326.9 100.9 L327.4 101 L327.9 102.7 L328.5 102.2 L329 103.1 L329.5 104 L330 104.5 L330.5 103.9 L331 104.7 L331.6 106 L332.1 105 L332.6 106.6 L333.1 106.9 L333.6 107 L334.1 108.1 L334.7 108.7 L335.2 108.7 L335.7 108.3 L336.2 108.8 L336.7 110.3 L337.3 109.4 L337.8 110.3 L338.3 110.5 L338.8 111 L339.3 111.2 L339.8 112.1 L340.4 112.4 L340.9 112.6 L341.4 112.8 L341.9 112.7 L342.4 113.8 L342.9 112.9 L343.5 114.1 L344 114.4 L344.5 114.1 L345 114.4 L345.5 115 L346 115.6 L346.6 115.8 L347.1 116.3 L347.6 115.4 L348.1 115.6 L348.6 115.5 L349.1 116.3 L349.7 116.6 L350.2 116.6 L350.7 116.8 L351.2 117.5 L351.7 117.4 L352.2 116.8 L352.8 118.8 L353.3 118.9 L353.8 118.8 L354.3 118.1 L354.8 118 L355.4 119 L355.9 118.6 L356.4 119.2 L356.9 119.1 L357.4 119.7 L357.9 119.6 L358.5 119.7 L359 119.3 L359.5 118.8 L360 121.1 L360.5 120 L361 120.4 L361.6 120 L362.1 120.1 L362.6 120.4 L363.1 120.5 L363.6 121.5 L364.1 122 L364.7 120.3 L365.2 120.7 L365.7 122 L366.2 120.9 L366.7 121.3 L367.2 123 L367.8 121.4 L368.3 122.5 L368.8 121.4 L369.3 122.5 L369.8 122.6 L370.4 123.1 L370.9 122.5 L371.4 121.9 L371.9 122.9 L372.4 123.6 L372.9 121.6 L373.5 121.8 L374 122.5 L374.5 123.2 L375 123.6 L375.5 123.9 L376 122.8 L376.6 122.5 L377.1 123.8 L377.6 123.3 L378.1 123.5 L378.6 123.6 L379.1 123.2 L379.7 122.5 L380.2 124 L380.7 123.2 L381.2 123.2 L381.7 123.9 L382.2 123.9 L382.8 124.6 L383.3 123.4 L383.8 124.3 L384.3 124.4 L384.8 124.1 L385.3 124.6 L385.9 124.7 L386.4 124.4 L386.9 123.5 L387.4 124.4 L387.9 124.1 L388.5 125.2 L389 125.5 L389.5 123.5 L390 124.7 L390.5 125.4 L391 124.6 L391.6 124.3 L392.1 125.6 L392.6 125.2 L393.1 124.6 L393.6 125.3 L394.1 124.4 L394.7 124.3 L395.2 124.6 L395.7 125.1 L396.2 124.9 L396.7 125.3 L397.2 125.1 L397.8 124.8 L398.3 125.2 L398.8 124.5 L399.3 123.7 L399.8 125.4 L400.3 125 L400.9 124.7 L401.4 124.9 L401.9 125.3 L402.4 125.5 L402.9 124.7 L403.5 125 L404 125 L404.5 125.8 L405 125 L405.5 125 L406 125.5 L406.6 125.1 L407.1 124.3 L407.6 126.5 L408.1 125.2 L408.6 126.1 L409.1 126.2 L409.7 125.7 L410.2 125.3 L410.7 125.5 L411.2 126.2 L411.7 126.4 L412.2 125.9 L412.8 125.6 L413.3 126.1 L413.8 126.5 L414.3 124.8 L414.8 126.2 L415.3 125.8 L415.9 126 L416.4 126.1 L416.9 125.7 L417.4 125.9 L417.9 125.5 L418.5 126.4 L419 126.6 L419.5 124.8 L420 125.9 L420.5 125.5 L421 125.2 L421.6 125.6 L422.1 125.9 L422.6 126.7 L423.1 126.8 L423.6 125.4 L424.1 125.6 L424.7 125.7 L425.2 126.9 L425.7 127.1 L426.2 126.6 L426.7 126.6 L427.2 125.9 L427.8 126.6 L428.3 125.2 L428.8 126.4 L429.3 126.4 L429.8 125.6 L430.3 125.9 L430.9 126.6 L431.4 125.7 L431.9 125.1 L432.4 126.8 L432.9 126.3 L433.4 126.7 L434 127.2 L434.5 125.8 L435 125.8 L435.5 125.6 L436 125.9 L436.6 127.3 L437.1 126.2 L437.6 126.6 L438.1 126.8 L438.6 126.8 L439.1 125.8 L439.7 126.4 L440.2 125.2 L440.7 126 L441.2 127.3 L441.7 125.8 L442.2 125.6 L442.8 126.3 L443.3 126.9 L443.8 125.3 L444.3 127 L444.8 126.3 L445.3 127.3 L445.9 127 L446.4 127.2 L446.9 125.7 L447.4 125.7" fill="none" stroke="#000" stroke-width="2.5" stroke-linejoin="round"/><path d="M326.8 100.9 V97.2" stroke="#000" stroke-width="1.5"/><path d="M264.3 127.3 L264.8 127.3 L265.4 127.3 L265.9 127.3 L266.4 127.3 L266.9 127.3 L267.4 127.3 L267.9 127.3 L268.5 127.3 L269 127.3 L269.5 127.3 L270 127.3 L270.5 127.3 L271 127.3 L271.6 127.3 L272.1 127.3 L272.6 127.3 L273.1 127.3 L273.6 127.3 L274.2 127.3 L274.7 127.3 L275.2 127.4 L275.7 127.4 L276.2 126.4 L276.7 125.8 L277.3 126.3 L277.8 125.7 L278.3 124.9 L278.8 124.2 L279.3 124.1 L279.8 123.6 L280.4 124 L280.9 124.2 L281.4 122.6 L281.9 122.8 L282.4 122.2 L282.9 122 L283.5 121.3 L284 121.6 L284.5 120.3 L285 120.7 L285.5 120.2 L286 119.9 L286.6 119.4 L287.1 119.4 L287.6 120.1 L288.1 119.4 L288.6 118.1 L289.2 118.4 L289.7 118.2 L290.2 118 L290.7 118.3 L291.2 118.1 L291.7 117.8 L292.3 116.9 L292.8 117 L293.3 116.2 L293.8 116.6 L294.3 115.8 L294.8 116.2 L295.4 116.8 L295.9 115.3 L296.4 115.7 L296.9 115.2 L297.4 115.5 L297.9 115.6 L298.5 115.2 L299 115.6 L299.5 115.5 L300 115.2 L300.5 114.9 L301 115.1 L301.6 114.4 L302.1 114.1 L302.6 113.2 L303.1 113.2 L303.6 113.9 L304.1 113.4 L304.7 113.7 L305.2 113.4 L305.7 113.4 L306.2 113.6 L306.7 113.2 L307.3 113.8 L307.8 112.8 L308.3 113 L308.8 113.3 L309.3 112.9 L309.8 112.4 L310.4 112.8 L310.9 112.2 L311.4 112.1 L311.9 111.6 L312.4 112.7 L312.9 112.1 L313.5 111.8 L314 111.3 L314.5 111.7 L315 111.5 L315.5 112.4 L316 111.9 L316.6 110.8 L317.1 111.6 L317.6 110.5 L318.1 111.7 L318.6 111.4 L319.1 112 L319.7 110.9 L320.2 111 L320.7 110.2 L321.2 110.9 L321.7 111.1 L322.3 111.5 L322.8 110.9 L323.3 110.4 L323.8 110.4 L324.3 110.2 L324.8 110.3 L325.4 110.6 L325.9 110.3 L326.4 110.4 L326.9 111.1 L327.4 110.1 L327.9 111.1 L328.5 112.1 L329 111.8 L329.5 112.2 L330 112.2 L330.5 112.3 L331 114.6 L331.6 113.3 L332.1 113.2 L332.6 114.5 L333.1 115.2 L333.6 114.6 L334.1 114.8 L334.7 115.1 L335.2 116 L335.7 115.9 L336.2 115.9 L336.7 115.9 L337.3 115.5 L337.8 116.5 L338.3 117.2 L338.8 118.2 L339.3 116.8 L339.8 117.6 L340.4 117.8 L340.9 118.4 L341.4 117.8 L341.9 119.1 L342.4 118.5 L342.9 118.6 L343.5 118.7 L344 118.5 L344.5 119.2 L345 119.3 L345.5 119.1 L346 120.4 L346.6 120 L347.1 120 L347.6 119.7 L348.1 120.6 L348.6 120.1 L349.1 120.4 L349.7 121.4 L350.2 121.5 L350.7 121.6 L351.2 121 L351.7 121.1 L352.2 121 L352.8 121 L353.3 121.9 L353.8 121.1 L354.3 121.3 L354.8 121.6 L355.4 121.7 L355.9 122.8 L356.4 122 L356.9 122.8 L357.4 123 L357.9 122.7 L358.5 122.5 L359 122.7 L359.5 122.9 L360 123.4 L360.5 122.8 L361 123.4 L361.6 123.8 L362.1 123.1 L362.6 122.4 L363.1 123.5 L363.6 123.9 L364.1 122.7 L364.7 122.6 L365.2 123.7 L365.7 123.8 L366.2 123.6 L366.7 122.1 L367.2 123.8 L367.8 123.3 L368.3 123.7 L368.8 125 L369.3 124.7 L369.8 124.8 L370.4 123.9 L370.9 124.2 L371.4 123.3 L371.9 124.5 L372.4 124.2 L372.9 124.4 L373.5 124.4 L374 123.2 L374.5 124.4 L375 123.8 L375.5 123.9 L376 125 L376.6 124.4 L377.1 125 L377.6 124.8 L378.1 124.8 L378.6 124.9 L379.1 125.2 L379.7 124.1 L380.2 125.1 L380.7 124.7 L381.2 124.2 L381.7 124.8 L382.2 124.6 L382.8 124.4 L383.3 124.6 L383.8 124.3 L384.3 126 L384.8 124.2 L385.3 125.3 L385.9 126.3 L386.4 125.7 L386.9 126.2 L387.4 125.4 L387.9 126.3 L388.5 126 L389 125.3 L389.5 125.4 L390 126 L390.5 125.7 L391 125.7 L391.6 125.6 L392.1 125.7 L392.6 125.8 L393.1 125.2 L393.6 126.6 L394.1 126 L394.7 125.7 L395.2 126 L395.7 126.1 L396.2 126.1 L396.7 125.7 L397.2 125.2 L397.8 126 L398.3 126 L398.8 125.7 L399.3 126.1 L399.8 127 L400.3 125.8 L400.9 126.2 L401.4 126.3 L401.9 125.7 L402.4 126 L402.9 126.3 L403.5 127.2 L404 127 L404.5 126.1 L405 126.1 L405.5 125.9 L406 126 L406.6 126.4 L407.1 126.8 L407.6 126.8 L408.1 126.2 L408.6 126.8 L409.1 125.8 L409.7 126.9 L410.2 127.2 L410.7 126.3 L411.2 127.2 L411.7 125.3 L412.2 126.8 L412.8 126.3 L413.3 126.4 L413.8 126.7 L414.3 127.3 L414.8 127.3 L415.3 125.8 L415.9 125.8 L416.4 125.1 L416.9 127.1 L417.4 126 L417.9 126.4 L418.5 125.9 L419 126.7 L419.5 126 L420 125.9 L420.5 126.1 L421 125.6 L421.6 126.5 L422.1 125.6 L422.6 126.8 L423.1 125.5 L423.6 128 L424.1 126.4 L424.7 126.9 L425.2 126.5 L425.7 125.9 L426.2 126.1 L426.7 126.4 L427.2 125.6 L427.8 127.3 L428.3 127 L428.8 125.7 L429.3 126.3 L429.8 127.7 L430.3 126.3 L430.9 127.2 L431.4 125.7 L431.9 125.9 L432.4 126.9 L432.9 125.9 L433.4 127 L434 126.1 L434.5 126.3 L435 126.7 L435.5 127.4 L436 126.7 L436.6 127.9 L437.1 126.9 L437.6 127.6 L438.1 125.9 L438.6 127.2 L439.1 128 L439.7 126.3 L440.2 126.4 L440.7 126.9 L441.2 125.5 L441.7 126.2 L442.2 126.6 L442.8 127 L443.3 128.3 L443.8 126.4 L444.3 126.1 L444.8 127 L445.3 127.5 L445.9 126.7 L446.4 127.6 L446.9 126.7 L447.4 126.3" fill="none" stroke="#000" stroke-width="2.5" stroke-linejoin="round"/><path d="M326.8 111 V107.3" stroke="#000" stroke-width="1.5"/><path d="M275.1 126.3 V133.1" stroke="#000" stroke-width="2.2"/><path d="M264.3 127.3 L264.8 127.3 L265.2 127.3 L265.6 127.3 L266 127.3 L266.5 127.3 L266.9 127.3 L267.3 127.3 L267.8 127.3 L268.2 127.3 L268.6 127.3 L269.1 127.3 L269.5 127.3 L269.9 127.3 L270.4 127.3 L270.8 127.3 L271.2 127.3 L271.7 127.3 L272.1 127.3 L272.5 127.3 L272.9 127.3 L273.4 127.3 L273.8 127.3 L274.2 127.3 L274.7 127.3 L275.1 127.3 L275.5 122.1 L276.4 112.5 L277.3 104 L278.1 96.3 L279 89.5 L279.8 83.4 L280.7 77.9 L281.6 73 L282.4 68.6 L283.3 64.7 L284.2 61.2 L285 58.1 L285.9 55.3 L286.7 52.8 L287.6 50.6 L288.5 48.6 L289.3 46.8 L290.2 45.2 L291 43.8 L291.9 42.5 L292.8 41.4 L293.6 40.4 L294.5 39.4 L295.4 38.6 L296.2 37.9 L297.1 37.3 L297.9 36.7 L298.8 36.2 L299.7 35.7 L300.5 35.3 L301.4 34.9 L302.3 34.6 L303.1 34.3 L304 34 L304.8 33.8 L305.7 33.6 L306.6 33.4 L307.4 33.2 L308.3 33 L309.1 32.9 L310 32.8 L310.9 32.7 L311.7 32.6 L312.6 32.5 L313.5 32.4 L314.3 32.3 L315.2 32.3 L316 32.2 L316.9 32.2 L317.8 32.1 L318.6 32.1 L319.5 32.1 L320.4 32 L321.2 32 L322.1 32 L322.9 31.9 L323.8 31.9 L324.7 31.9 L325.5 31.9 L326.4 31.9 L327.3 33.6 L328.1 37 L329 40.2 L329.8 43.4 L330.7 46.4 L331.6 49.2 L332.4 52 L333.3 54.7 L334.1 57.3 L335 59.7 L335.9 62.1 L336.7 64.4 L337.6 66.6 L338.5 68.7 L339.3 70.7 L340.2 72.7 L341 74.5 L341.9 76.4 L342.8 78.1 L343.6 79.8 L344.5 81.4 L345.4 82.9 L346.2 84.4 L347.1 85.8 L347.9 87.2 L348.8 88.5 L349.7 89.8 L350.5 91.1 L351.4 92.2 L352.2 93.4 L353.1 94.5 L354 95.5 L354.8 96.5 L355.7 97.5 L356.6 98.5 L357.4 99.4 L358.3 100.2 L359.1 101.1 L360 101.9 L360.9 102.7 L361.7 103.4 L362.6 104.1 L363.5 104.8 L364.3 105.5 L365.2 106.1 L366 106.8 L366.9 107.4 L367.8 107.9 L368.6 108.5 L369.5 109 L370.4 109.5 L371.2 110 L372.1 110.5 L372.9 111 L373.8 111.4 L374.7 111.9 L375.5 112.3 L376.4 112.7 L377.2 113.1 L378.1 113.4 L379 113.8 L379.8 114.1 L380.7 114.5 L381.6 114.8 L382.4 115.1 L383.3 115.4 L384.1 115.7 L385 116 L385.9 116.2 L386.7 116.5 L387.6 116.8 L388.5 117 L389.3 117.2 L390.2 117.5 L391 117.7 L391.9 117.9 L392.8 118.1 L393.6 118.3 L394.5 118.5 L395.3 118.7 L396.2 118.9 L397.1 119 L397.9 119.2 L398.8 119.4 L399.7 119.5 L400.5 119.7 L401.4 119.8 L402.2 120 L403.1 120.1 L404 120.2 L404.8 120.4 L405.7 120.5 L406.6 120.6 L407.4 120.7 L408.3 120.9 L409.1 121 L410 121.1 L410.9 121.2 L411.7 121.3 L412.6 121.4 L413.5 121.5 L414.3 121.6 L415.2 121.7 L416 121.8 L416.9 121.8 L417.8 121.9 L418.6 122 L419.5 122.1 L420.3 122.2 L421.2 122.3 L422.1 122.3 L422.9 122.4 L423.8 122.5 L424.7 122.5 L425.5 122.6 L426.4 122.7 L427.2 122.7 L428.1 122.8 L429 122.9 L429.8 122.9 L430.7 123 L431.6 123 L432.4 123.1 L433.3 123.1 L434.1 123.2 L435 123.2 L435.9 123.3 L436.7 123.3 L437.6 123.4 L438.4 123.4 L439.3 123.5 L440.2 123.5 L441 123.6 L441.9 123.6 L442.8 123.7 L443.6 123.7 L444.5 123.7 L445.3 123.8 L446.2 123.8 L447.1 123.8" fill="none" stroke="#cf1010" stroke-width="1.4" stroke-linejoin="round"/><path d="M264.3 127.3 L264.8 127.3 L265.2 127.3 L265.6 127.3 L266 127.3 L266.5 127.3 L266.9 127.3 L267.3 127.3 L267.8 127.3 L268.2 127.3 L268.6 127.3 L269.1 127.3 L269.5 127.3 L269.9 127.3 L270.4 127.3 L270.8 127.3 L271.2 127.3 L271.7 127.3 L272.1 127.3 L272.5 127.3 L272.9 127.3 L273.4 127.3 L273.8 127.3 L274.2 127.3 L274.7 127.3 L275.1 127.3 L275.5 122.8 L276.4 114.6 L277.3 107.3 L278.1 100.7 L279 94.8 L279.8 89.6 L280.7 84.9 L281.6 80.7 L282.4 77 L283.3 73.6 L284.2 70.6 L285 67.9 L285.9 65.5 L286.7 63.4 L287.6 61.5 L288.5 59.8 L289.3 58.2 L290.2 56.9 L291 55.6 L291.9 54.6 L292.8 53.6 L293.6 52.7 L294.5 51.9 L295.4 51.2 L296.2 50.6 L297.1 50 L297.9 49.5 L298.8 49.1 L299.7 48.7 L300.5 48.3 L301.4 48 L302.3 47.7 L303.1 47.5 L304 47.2 L304.8 47 L305.7 46.9 L306.6 46.7 L307.4 46.6 L308.3 46.4 L309.1 46.3 L310 46.2 L310.9 46.1 L311.7 46 L312.6 46 L313.5 45.9 L314.3 45.8 L315.2 45.8 L316 45.7 L316.9 45.7 L317.8 45.6 L318.6 45.6 L319.5 45.6 L320.4 45.6 L321.2 45.5 L322.1 45.5 L322.9 45.5 L323.8 45.5 L324.7 45.5 L325.5 45.4 L326.4 45.4 L327.3 46.3 L328.1 47.9 L329 49.5 L329.8 51.1 L330.7 52.7 L331.6 54.2 L332.4 55.7 L333.3 57.1 L334.1 58.9 L335 61.3 L335.9 63.7 L336.7 66 L337.6 68.2 L338.5 70.3 L339.3 72.3 L340.2 74.3 L341 76.1 L341.9 78 L342.8 79.7 L343.6 81.4 L344.5 83 L345.4 84.5 L346.2 86 L347.1 87.4 L347.9 88.8 L348.8 90.1 L349.7 91.4 L350.5 92.7 L351.4 93.8 L352.2 95 L353.1 96.1 L354 97.1 L354.8 98.1 L355.7 99.1 L356.6 100.1 L357.4 101 L358.3 101.8 L359.1 102.7 L360 103.5 L360.9 104.3 L361.7 105 L362.6 105.7 L363.5 106.4 L364.3 107.1 L365.2 107.7 L366 108.4 L366.9 109 L367.8 109.5 L368.6 110.1 L369.5 110.6 L370.4 111.1 L371.2 111.6 L372.1 112.1 L372.9 112.6 L373.8 113 L374.7 113.5 L375.5 113.9 L376.4 114.3 L377.2 114.7 L378.1 115 L379 115.4 L379.8 115.7 L380.7 116.1 L381.6 116.4 L382.4 116.7 L383.3 117 L384.1 117.3 L385 117.6 L385.9 117.8 L386.7 118 L387.6 118.2 L388.5 118.5 L389.3 118.7 L390.2 118.9 L391 119 L391.9 119.2 L392.8 119.4 L393.6 119.6 L394.5 119.7 L395.3 119.9 L396.2 120.1 L397.1 120.2 L397.9 120.4 L398.8 120.5 L399.7 120.6 L400.5 120.8 L401.4 120.9 L402.2 121 L403.1 121.1 L404 121.2 L404.8 121.4 L405.7 121.5 L406.6 121.6 L407.4 121.7 L408.3 121.8 L409.1 121.9 L410 122 L410.9 122.1 L411.7 122.1 L412.6 122.2 L413.5 122.3 L414.3 122.4 L415.2 122.5 L416 122.5 L416.9 122.6 L417.8 122.7 L418.6 122.8 L419.5 122.8 L420.3 122.9 L421.2 123 L422.1 123 L422.9 123.1 L423.8 123.2 L424.7 123.2 L425.5 123.3 L426.4 123.3 L427.2 123.4 L428.1 123.4 L429 123.5 L429.8 123.5 L430.7 123.6 L431.6 123.6 L432.4 123.7 L433.3 123.7 L434.1 123.8 L435 123.8 L435.9 123.9 L436.7 123.9 L437.6 123.9 L438.4 124 L439.3 124 L440.2 124.1 L441 124.1 L441.9 124.1 L442.8 124.2 L443.6 124.2 L444.5 124.2 L445.3 124.3 L446.2 124.3 L447.1 124.3" fill="none" stroke="#cf1010" stroke-width="1.4" stroke-linejoin="round"/><path d="M264.3 127.3 L264.8 127.3 L265.2 127.3 L265.6 127.3 L266 127.3 L266.5 127.3 L266.9 127.3 L267.3 127.3 L267.8 127.3 L268.2 127.3 L268.6 127.3 L269.1 127.3 L269.5 127.3 L269.9 127.3 L270.4 127.3 L270.8 127.3 L271.2 127.3 L271.7 127.3 L272.1 127.3 L272.5 127.3 L272.9 127.3 L273.4 127.3 L273.8 127.3 L274.2 127.3 L274.7 127.3 L275.1 127.3 L275.5 124 L276.4 117.8 L277.3 112.1 L278.1 107 L279 102.3 L279.8 98 L280.7 94.1 L281.6 90.6 L282.4 87.4 L283.3 84.4 L284.2 81.8 L285 79.4 L285.9 77.1 L286.7 75.1 L287.6 73.3 L288.5 71.6 L289.3 70.1 L290.2 68.7 L291 67.5 L291.9 66.3 L292.8 65.3 L293.6 64.4 L294.5 63.5 L295.4 62.7 L296.2 62 L297.1 61.3 L297.9 60.8 L298.8 60.2 L299.7 59.7 L300.5 59.3 L301.4 58.9 L302.3 58.5 L303.1 58.2 L304 57.9 L304.8 57.6 L305.7 57.3 L306.6 57.1 L307.4 56.9 L308.3 56.7 L309.1 56.5 L310 56.4 L310.9 56.2 L311.7 56.1 L312.6 56 L313.5 55.8 L314.3 55.8 L315.2 55.7 L316 55.6 L316.9 55.5 L317.8 55.4 L318.6 55.4 L319.5 55.3 L320.4 55.3 L321.2 55.2 L322.1 55.2 L322.9 55.1 L323.8 55.1 L324.7 55.1 L325.5 55 L326.4 55 L327.3 55.7 L328.1 57.2 L329 58.6 L329.8 60 L330.7 61.4 L331.6 62.7 L332.4 64 L333.3 65.3 L334.1 66.6 L335 67.8 L335.9 69 L336.7 70.2 L337.6 71.3 L338.5 72.5 L339.3 73.9 L340.2 75.9 L341 77.7 L341.9 79.6 L342.8 81.3 L343.6 83 L344.5 84.6 L345.4 86.1 L346.2 87.6 L347.1 89 L347.9 90.4 L348.8 91.7 L349.7 93 L350.5 94.3 L351.4 95.4 L352.2 96.6 L353.1 97.7 L354 98.7 L354.8 99.7 L355.7 100.7 L356.6 101.7 L357.4 102.6 L358.3 103.4 L359.1 104.3 L360 105.1 L360.9 105.9 L361.7 106.6 L362.6 107.3 L363.5 108 L364.3 108.7 L365.2 109.3 L366 110 L366.9 110.6 L367.8 111.1 L368.6 111.7 L369.5 112.2 L370.4 112.7 L371.2 113.2 L372.1 113.7 L372.9 114.2 L373.8 114.6 L374.7 115.1 L375.5 115.5 L376.4 115.9 L377.2 116.3 L378.1 116.6 L379 117 L379.8 117.3 L380.7 117.6 L381.6 117.8 L382.4 118.1 L383.3 118.3 L384.1 118.5 L385 118.7 L385.9 118.9 L386.7 119.1 L387.6 119.3 L388.5 119.5 L389.3 119.7 L390.2 119.8 L391 120 L391.9 120.2 L392.8 120.3 L393.6 120.5 L394.5 120.6 L395.3 120.8 L396.2 120.9 L397.1 121 L397.9 121.2 L398.8 121.3 L399.7 121.4 L400.5 121.5 L401.4 121.6 L402.2 121.7 L403.1 121.9 L404 122 L404.8 122.1 L405.7 122.1 L406.6 122.2 L407.4 122.3 L408.3 122.4 L409.1 122.5 L410 122.6 L410.9 122.7 L411.7 122.7 L412.6 122.8 L413.5 122.9 L414.3 123 L415.2 123 L416 123.1 L416.9 123.2 L417.8 123.2 L418.6 123.3 L419.5 123.4 L420.3 123.4 L421.2 123.5 L422.1 123.5 L422.9 123.6 L423.8 123.6 L424.7 123.7 L425.5 123.7 L426.4 123.8 L427.2 123.8 L428.1 123.9 L429 123.9 L429.8 124 L430.7 124 L431.6 124.1 L432.4 124.1 L433.3 124.1 L434.1 124.2 L435 124.2 L435.9 124.3 L436.7 124.3 L437.6 124.3 L438.4 124.4 L439.3 124.4 L440.2 124.4 L441 124.5 L441.9 124.5 L442.8 124.5 L443.6 124.6 L444.5 124.6 L445.3 124.6 L446.2 124.7 L447.1 124.7" fill="none" stroke="#cf1010" stroke-width="1.4" stroke-linejoin="round"/><path d="M264.3 127.3 L264.8 127.3 L265.2 127.3 L265.6 127.3 L266 127.3 L266.5 127.3 L266.9 127.3 L267.3 127.3 L267.8 127.3 L268.2 127.3 L268.6 127.3 L269.1 127.3 L269.5 127.3 L269.9 127.3 L270.4 127.3 L270.8 127.3 L271.2 127.3 L271.7 127.3 L272.1 127.3 L272.5 127.3 L272.9 127.3 L273.4 127.3 L273.8 127.3 L274.2 127.3 L274.7 127.3 L275.1 127.3 L275.5 126.2 L276.4 124 L277.3 121.9 L278.1 119.9 L279 118 L279.8 116.2 L280.7 114.4 L281.6 112.7 L282.4 111.1 L283.3 109.5 L284.2 108 L285 106.6 L285.9 105.3 L286.7 103.9 L287.6 102.7 L288.5 101.5 L289.3 100.3 L290.2 99.2 L291 98.1 L291.9 97.1 L292.8 96.1 L293.6 95.2 L294.5 94.3 L295.4 93.4 L296.2 92.6 L297.1 91.8 L297.9 91.1 L298.8 90.3 L299.7 89.6 L300.5 89 L301.4 88.3 L302.3 87.7 L303.1 87.1 L304 86.5 L304.8 86 L305.7 85.5 L306.6 85 L307.4 84.5 L308.3 84 L309.1 83.6 L310 83.2 L310.9 82.8 L311.7 82.4 L312.6 82 L313.5 81.6 L314.3 81.3 L315.2 81 L316 80.7 L316.9 80.4 L317.8 80.1 L318.6 79.8 L319.5 79.5 L320.4 79.3 L321.2 79 L322.1 78.8 L322.9 78.6 L323.8 78.3 L324.7 78.1 L325.5 77.9 L326.4 77.8 L327.3 78.6 L328.1 80.3 L329 82 L329.8 83.6 L330.7 85.2 L331.6 86.7 L332.4 88.1 L333.3 89.5 L334.1 90.9 L335 92.1 L335.9 93.4 L336.7 94.6 L337.6 95.7 L338.5 96.8 L339.3 97.9 L340.2 98.9 L341 99.9 L341.9 100.8 L342.8 101.7 L343.6 102.6 L344.5 103.4 L345.4 104.2 L346.2 105 L347.1 105.7 L347.9 106.5 L348.8 107.1 L349.7 107.8 L350.5 108.4 L351.4 109.1 L352.2 109.7 L353.1 110.2 L354 110.8 L354.8 111.3 L355.7 111.8 L356.6 112.3 L357.4 112.8 L358.3 113.2 L359.1 113.7 L360 114.1 L360.9 114.5 L361.7 114.9 L362.6 115.2 L363.5 115.6 L364.3 116 L365.2 116.3 L366 116.6 L366.9 116.9 L367.8 117.2 L368.6 117.5 L369.5 117.8 L370.4 118.1 L371.2 118.3 L372.1 118.6 L372.9 118.8 L373.8 119 L374.7 119.3 L375.5 119.5 L376.4 119.7 L377.2 119.9 L378.1 120.1 L379 120.3 L379.8 120.4 L380.7 120.6 L381.6 120.8 L382.4 121 L383.3 121.1 L384.1 121.3 L385 121.4 L385.9 121.5 L386.7 121.7 L387.6 121.8 L388.5 121.9 L389.3 122.1 L390.2 122.2 L391 122.3 L391.9 122.4 L392.8 122.5 L393.6 122.6 L394.5 122.7 L395.3 122.8 L396.2 122.9 L397.1 123 L397.9 123.1 L398.8 123.2 L399.7 123.3 L400.5 123.3 L401.4 123.4 L402.2 123.5 L403.1 123.6 L404 123.6 L404.8 123.7 L405.7 123.8 L406.6 123.8 L407.4 123.9 L408.3 123.9 L409.1 124 L410 124.1 L410.9 124.1 L411.7 124.2 L412.6 124.2 L413.5 124.3 L414.3 124.3 L415.2 124.4 L416 124.4 L416.9 124.5 L417.8 124.5 L418.6 124.6 L419.5 124.6 L420.3 124.6 L421.2 124.7 L422.1 124.7 L422.9 124.7 L423.8 124.8 L424.7 124.8 L425.5 124.9 L426.4 124.9 L427.2 124.9 L428.1 125 L429 125 L429.8 125 L430.7 125 L431.6 125.1 L432.4 125.1 L433.3 125.1 L434.1 125.2 L435 125.2 L435.9 125.2 L436.7 125.2 L437.6 125.3 L438.4 125.3 L439.3 125.3 L440.2 125.3 L441 125.4 L441.9 125.4 L442.8 125.4 L443.6 125.4 L444.5 125.4 L445.3 125.5 L446.2 125.5 L447.1 125.5" fill="none" stroke="#cf1010" stroke-width="1.4" stroke-linejoin="round"/><path d="M264.3 127.3 L264.8 127.3 L265.2 127.3 L265.6 127.3 L266 127.3 L266.5 127.3 L266.9 127.3 L267.3 127.3 L267.8 127.3 L268.2 127.3 L268.6 127.3 L269.1 127.3 L269.5 127.3 L269.9 127.3 L270.4 127.3 L270.8 127.3 L271.2 127.3 L271.7 127.3 L272.1 127.3 L272.5 127.3 L272.9 127.3 L273.4 127.3 L273.8 127.3 L274.2 127.3 L274.7 127.3 L275.1 127.3 L275.5 126.7 L276.4 125.6 L277.3 124.5 L278.1 123.4 L279 122.4 L279.8 121.5 L280.7 120.5 L281.6 119.6 L282.4 118.8 L283.3 118 L284.2 117.2 L285 116.4 L285.9 115.7 L286.7 115 L287.6 114.3 L288.5 113.6 L289.3 113 L290.2 112.4 L291 111.9 L291.9 111.3 L292.8 110.8 L293.6 110.3 L294.5 109.8 L295.4 109.3 L296.2 108.8 L297.1 108.4 L297.9 108 L298.8 107.6 L299.7 107.2 L300.5 106.8 L301.4 106.5 L302.3 106.1 L303.1 105.8 L304 105.5 L304.8 105.2 L305.7 104.9 L306.6 104.6 L307.4 104.3 L308.3 104.1 L309.1 103.8 L310 103.6 L310.9 103.4 L311.7 103.2 L312.6 102.9 L313.5 102.7 L314.3 102.5 L315.2 102.4 L316 102.2 L316.9 102 L317.8 101.8 L318.6 101.7 L319.5 101.5 L320.4 101.4 L321.2 101.2 L322.1 101.1 L322.9 101 L323.8 100.8 L324.7 100.7 L325.5 100.6 L326.4 100.5 L327.3 100.9 L328.1 101.9 L329 102.8 L329.8 103.7 L330.7 104.5 L331.6 105.3 L332.4 106.1 L333.3 106.9 L334.1 107.6 L335 108.3 L335.9 108.9 L336.7 109.6 L337.6 110.2 L338.5 110.8 L339.3 111.4 L340.2 111.9 L341 112.4 L341.9 113 L342.8 113.4 L343.6 113.9 L344.5 114.4 L345.4 114.8 L346.2 115.2 L347.1 115.6 L347.9 116 L348.8 116.4 L349.7 116.8 L350.5 117.1 L351.4 117.4 L352.2 117.7 L353.1 118.1 L354 118.4 L354.8 118.6 L355.7 118.9 L356.6 119.2 L357.4 119.4 L358.3 119.7 L359.1 119.9 L360 120.1 L360.9 120.4 L361.7 120.6 L362.6 120.8 L363.5 121 L364.3 121.2 L365.2 121.3 L366 121.5 L366.9 121.7 L367.8 121.8 L368.6 122 L369.5 122.2 L370.4 122.3 L371.2 122.4 L372.1 122.6 L372.9 122.7 L373.8 122.8 L374.7 123 L375.5 123.1 L376.4 123.2 L377.2 123.3 L378.1 123.4 L379 123.5 L379.8 123.6 L380.7 123.7 L381.6 123.8 L382.4 123.9 L383.3 123.9 L384.1 124 L385 124.1 L385.9 124.2 L386.7 124.3 L387.6 124.3 L388.5 124.4 L389.3 124.5 L390.2 124.5 L391 124.6 L391.9 124.7 L392.8 124.7 L393.6 124.8 L394.5 124.8 L395.3 124.9 L396.2 124.9 L397.1 125 L397.9 125 L398.8 125.1 L399.7 125.1 L400.5 125.2 L401.4 125.2 L402.2 125.2 L403.1 125.3 L404 125.3 L404.8 125.4 L405.7 125.4 L406.6 125.4 L407.4 125.5 L408.3 125.5 L409.1 125.5 L410 125.5 L410.9 125.6 L411.7 125.6 L412.6 125.6 L413.5 125.7 L414.3 125.7 L415.2 125.7 L416 125.7 L416.9 125.8 L417.8 125.8 L418.6 125.8 L419.5 125.8 L420.3 125.9 L421.2 125.9 L422.1 125.9 L422.9 125.9 L423.8 125.9 L424.7 126 L425.5 126 L426.4 126 L427.2 126 L428.1 126 L429 126 L429.8 126.1 L430.7 126.1 L431.6 126.1 L432.4 126.1 L433.3 126.1 L434.1 126.1 L435 126.2 L435.9 126.2 L436.7 126.2 L437.6 126.2 L438.4 126.2 L439.3 126.2 L440.2 126.2 L441 126.2 L441.9 126.3 L442.8 126.3 L443.6 126.3 L444.5 126.3 L445.3 126.3 L446.2 126.3 L447.1 126.3" fill="none" stroke="#cf1010" stroke-width="1.4" stroke-linejoin="round"/><path d="M264.3 127.3 L264.8 127.3 L265.2 127.3 L265.6 127.3 L266 127.3 L266.5 127.3 L266.9 127.3 L267.3 127.3 L267.8 127.3 L268.2 127.3 L268.6 127.3 L269.1 127.3 L269.5 127.3 L269.9 127.3 L270.4 127.3 L270.8 127.3 L271.2 127.3 L271.7 127.3 L272.1 127.3 L272.5 127.3 L272.9 127.3 L273.4 127.3 L273.8 127.3 L274.2 127.3 L274.7 127.3 L275.1 127.3 L275.5 126.9 L276.4 126.3 L277.3 125.6 L278.1 125 L279 124.4 L279.8 123.8 L280.7 123.2 L281.6 122.7 L282.4 122.1 L283.3 121.6 L284.2 121.1 L285 120.7 L285.9 120.2 L286.7 119.8 L287.6 119.4 L288.5 119 L289.3 118.6 L290.2 118.2 L291 117.8 L291.9 117.5 L292.8 117.2 L293.6 116.8 L294.5 116.5 L295.4 116.2 L296.2 115.9 L297.1 115.7 L297.9 115.4 L298.8 115.2 L299.7 114.9 L300.5 114.7 L301.4 114.4 L302.3 114.2 L303.1 114 L304 113.8 L304.8 113.6 L305.7 113.4 L306.6 113.2 L307.4 113.1 L308.3 112.9 L309.1 112.7 L310 112.6 L310.9 112.4 L311.7 112.3 L312.6 112.2 L313.5 112 L314.3 111.9 L315.2 111.8 L316 111.6 L316.9 111.5 L317.8 111.4 L318.6 111.3 L319.5 111.2 L320.4 111.1 L321.2 111 L322.1 110.9 L322.9 110.8 L323.8 110.8 L324.7 110.7 L325.5 110.6 L326.4 110.5 L327.3 110.8 L328.1 111.4 L329 112 L329.8 112.5 L330.7 113 L331.6 113.5 L332.4 114 L333.3 114.5 L334.1 115 L335 115.4 L335.9 115.8 L336.7 116.2 L337.6 116.6 L338.5 117 L339.3 117.3 L340.2 117.7 L341 118 L341.9 118.3 L342.8 118.6 L343.6 118.9 L344.5 119.2 L345.4 119.5 L346.2 119.7 L347.1 120 L347.9 120.2 L348.8 120.5 L349.7 120.7 L350.5 120.9 L351.4 121.1 L352.2 121.3 L353.1 121.5 L354 121.7 L354.8 121.9 L355.7 122 L356.6 122.2 L357.4 122.4 L358.3 122.5 L359.1 122.7 L360 122.8 L360.9 123 L361.7 123.1 L362.6 123.2 L363.5 123.3 L364.3 123.5 L365.2 123.6 L366 123.7 L366.9 123.8 L367.8 123.9 L368.6 124 L369.5 124.1 L370.4 124.2 L371.2 124.3 L372.1 124.3 L372.9 124.4 L373.8 124.5 L374.7 124.6 L375.5 124.7 L376.4 124.7 L377.2 124.8 L378.1 124.9 L379 124.9 L379.8 125 L380.7 125 L381.6 125.1 L382.4 125.1 L383.3 125.2 L384.1 125.3 L385 125.3 L385.9 125.4 L386.7 125.4 L387.6 125.4 L388.5 125.5 L389.3 125.5 L390.2 125.6 L391 125.6 L391.9 125.6 L392.8 125.7 L393.6 125.7 L394.5 125.7 L395.3 125.8 L396.2 125.8 L397.1 125.8 L397.9 125.9 L398.8 125.9 L399.7 125.9 L400.5 126 L401.4 126 L402.2 126 L403.1 126 L404 126.1 L404.8 126.1 L405.7 126.1 L406.6 126.1 L407.4 126.1 L408.3 126.2 L409.1 126.2 L410 126.2 L410.9 126.2 L411.7 126.2 L412.6 126.3 L413.5 126.3 L414.3 126.3 L415.2 126.3 L416 126.3 L416.9 126.3 L417.8 126.4 L418.6 126.4 L419.5 126.4 L420.3 126.4 L421.2 126.4 L422.1 126.4 L422.9 126.4 L423.8 126.4 L424.7 126.5 L425.5 126.5 L426.4 126.5 L427.2 126.5 L428.1 126.5 L429 126.5 L429.8 126.5 L430.7 126.5 L431.6 126.5 L432.4 126.6 L433.3 126.6 L434.1 126.6 L435 126.6 L435.9 126.6 L436.7 126.6 L437.6 126.6 L438.4 126.6 L439.3 126.6 L440.2 126.6 L441 126.6 L441.9 126.6 L442.8 126.7 L443.6 126.7 L444.5 126.7 L445.3 126.7 L446.2 126.7 L447.1 126.7" fill="none" stroke="#cf1010" stroke-width="1.4" stroke-linejoin="round"/></g><path d="M264.3 9.9 V133.1 H448.1" fill="none" stroke="#000" stroke-width="1.3"/><path d="M260.8 127.3 H264.3" stroke="#000" stroke-width="1.2"/><text x="258.7" y="130.4" font-size="9.1" font-weight="bold" text-anchor="end">0</text><path d="M260.8 103.9 H264.3" stroke="#000" stroke-width="1.2"/><text x="258.7" y="107" font-size="9.1" font-weight="bold" text-anchor="end">20</text><path d="M260.8 80.6 H264.3" stroke="#000" stroke-width="1.2"/><text x="258.7" y="83.7" font-size="9.1" font-weight="bold" text-anchor="end">40</text><path d="M260.8 57.2 H264.3" stroke="#000" stroke-width="1.2"/><text x="258.7" y="60.3" font-size="9.1" font-weight="bold" text-anchor="end">60</text><path d="M260.8 33.9 H264.3" stroke="#000" stroke-width="1.2"/><text x="258.7" y="37" font-size="9.1" font-weight="bold" text-anchor="end">80</text><path d="M260.8 10.5 H264.3" stroke="#000" stroke-width="1.2"/><text x="258.7" y="13.6" font-size="9.1" font-weight="bold" text-anchor="end">100</text><path d="M275.1 133.1 V136.6" stroke="#000" stroke-width="1.2"/><text x="275.1" y="146.9" font-size="9.1" font-weight="bold" text-anchor="middle">0</text><path d="M318.2 133.1 V136.6" stroke="#000" stroke-width="1.2"/><text x="318.2" y="146.9" font-size="9.1" font-weight="bold" text-anchor="middle">100</text><path d="M361.3 133.1 V136.6" stroke="#000" stroke-width="1.2"/><text x="361.3" y="146.9" font-size="9.1" font-weight="bold" text-anchor="middle">200</text><path d="M404.4 133.1 V136.6" stroke="#000" stroke-width="1.2"/><text x="404.4" y="146.9" font-size="9.1" font-weight="bold" text-anchor="middle">300</text><path d="M447.5 133.1 V136.6" stroke="#000" stroke-width="1.2"/><text x="447.5" y="146.9" font-size="9.1" font-weight="bold" text-anchor="middle">400</text><text x="353.9" y="159.1" font-size="11.5" text-anchor="middle">Time (s)</text><text transform="translate(239.8 68.3) rotate(-90)" font-size="11.5" text-anchor="middle">Response (RU)</text><text x="353.2" y="10" font-size="11.4" text-anchor="middle">T56R</text><text x="338.8" y="25.5" font-size="8.75"><tspan font-style="italic">k</tspan><tspan font-size="5.0" dy="2">on</tspan><tspan dy="-2"> = 4.8 (±2.8) × 10</tspan><tspan font-size="5.0" dy="-3.5">6</tspan><tspan dy="3.5"> M</tspan><tspan font-size="5.0" dy="-3.5">-1</tspan><tspan dy="3.5">s</tspan><tspan font-size="5.0" dy="-3.5">-1</tspan></text><text x="338.8" y="38.5" font-size="8.75"><tspan font-style="italic">k</tspan><tspan font-size="5.0" dy="2">off</tspan><tspan dy="-2"> = 2.7 (±1.0) × 10</tspan><tspan font-size="5.0" dy="-3.5">-2</tspan><tspan dy="3.5"> s</tspan><tspan font-size="5.0" dy="-3.5">-1</tspan></text><text x="338.8" y="51.5" font-size="8.75"><tspan font-style="italic">K</tspan><tspan font-size="5.0" dy="2">D</tspan><tspan dy="-2"> = 6.2 (±1.7) nM</tspan></text><text x="421.3" y="74.6" font-size="9" text-anchor="middle">10 nM</text><text x="421.3" y="103.1" font-size="9" text-anchor="middle">0.5 nM</text><path d="M421.3 77.5 V90.6" stroke="#000" stroke-width="1.7"/><path d="M416.5 88.2 L421.3 89.9 L426.1 88.2 L421.3 93.9 Z" fill="#000"/><g><path d="M491 125.9 L491.5 125.9 L492.1 125.9 L492.6 125.9 L493.1 125.9 L493.6 125.9 L494.1 125.9 L494.6 125.9 L495.2 125.9 L495.7 125.9 L496.2 125.9 L496.7 125.9 L497.2 125.9 L497.7 125.9 L498.3 125.9 L498.8 125.9 L499.3 125.9 L499.8 125.9 L500.3 125.9 L500.9 125.9 L501.4 125.9 L501.9 124.3 L502.4 119.7 L502.9 114.8 L503.4 109.9 L504 105.2 L504.5 101.8 L505 98.2 L505.5 94.3 L506 90.9 L506.5 87.4 L507.1 83.8 L507.6 80.6 L508.1 77.8 L508.6 75.1 L509.1 72.7 L509.6 70 L510.2 67.4 L510.7 65.3 L511.2 62.9 L511.7 61.7 L512.2 59.9 L512.7 57.2 L513.3 56.2 L513.8 54.5 L514.3 53.4 L514.8 51.4 L515.3 50.6 L515.9 49.6 L516.4 48 L516.9 47 L517.4 45.4 L517.9 44.9 L518.4 43.7 L519 42.9 L519.5 41.8 L520 41.4 L520.5 39.8 L521 40.2 L521.5 39 L522.1 38.5 L522.6 37.3 L523.1 37 L523.6 36.2 L524.1 36 L524.6 35.7 L525.2 35.4 L525.7 34.6 L526.2 34.2 L526.7 33.5 L527.2 33 L527.7 32.4 L528.3 32.5 L528.8 32.5 L529.3 32.3 L529.8 31.5 L530.3 31.1 L530.8 30.1 L531.4 30.6 L531.9 29.7 L532.4 29.4 L532.9 30.5 L533.4 29.3 L534 29.1 L534.5 28.9 L535 29.3 L535.5 28.7 L536 29.2 L536.5 28.9 L537.1 28.7 L537.6 27.8 L538.1 28.5 L538.6 27.9 L539.1 28.2 L539.6 28.4 L540.2 27.9 L540.7 27.6 L541.2 28.1 L541.7 27.4 L542.2 28 L542.7 28 L543.3 27.4 L543.8 27.5 L544.3 27.8 L544.8 28 L545.3 27.2 L545.8 27.1 L546.4 27.3 L546.9 27 L547.4 27.7 L547.9 26.8 L548.4 26.8 L549 26.8 L549.5 27.1 L550 26.8 L550.5 26.7 L551 26.3 L551.5 26.6 L552.1 26.6 L552.6 27 L553.1 26.3 L553.6 26.5 L554.1 29.3 L554.6 30.9 L555.2 33 L555.7 35.2 L556.2 37.6 L556.7 38.1 L557.2 41.6 L557.7 42.4 L558.3 44.4 L558.8 45.4 L559.3 47.8 L559.8 49.2 L560.3 50.5 L560.8 52.1 L561.4 54.1 L561.9 55 L562.4 56.6 L562.9 57.7 L563.4 59.7 L564 60.8 L564.5 62.3 L565 63.8 L565.5 64.5 L566 65.7 L566.5 66.4 L567.1 68.3 L567.6 69.1 L568.1 69.9 L568.6 71.5 L569.1 72.5 L569.6 73.5 L570.2 74.8 L570.7 75.9 L571.2 75.9 L571.7 77.3 L572.2 78.3 L572.7 79.7 L573.3 80 L573.8 80.3 L574.3 82.2 L574.8 82.9 L575.3 82.8 L575.8 83.4 L576.4 84.1 L576.9 85.8 L577.4 86 L577.9 87.3 L578.4 87.4 L578.9 88.5 L579.5 88.9 L580 88.9 L580.5 90 L581 90.9 L581.5 91.4 L582.1 91.9 L582.6 92.8 L583.1 93 L583.6 93.4 L584.1 93.4 L584.6 95.7 L585.2 95.8 L585.7 96.3 L586.2 95.7 L586.7 95.4 L587.2 97 L587.7 97.5 L588.3 97.4 L588.8 99.7 L589.3 98.9 L589.8 100.8 L590.3 99.6 L590.8 100.3 L591.4 100.7 L591.9 100.7 L592.4 101.5 L592.9 101 L593.4 101.9 L593.9 102.1 L594.5 101.3 L595 103.1 L595.5 102.8 L596 104 L596.5 103.2 L597.1 103.7 L597.6 104.4 L598.1 104.3 L598.6 104.2 L599.1 104.6 L599.6 105.6 L600.2 105.9 L600.7 105.6 L601.2 107.1 L601.7 106.9 L602.2 106.6 L602.7 106.8 L603.3 106.4 L603.8 106.7 L604.3 107.6 L604.8 107.8 L605.3 108.9 L605.8 108.5 L606.4 108.5 L606.9 108.9 L607.4 109 L607.9 108.9 L608.4 109.9 L608.9 109.9 L609.5 110.7 L610 109.4 L610.5 110.7 L611 111.2 L611.5 110.1 L612 110.8 L612.6 110.3 L613.1 111.2 L613.6 110.1 L614.1 110.9 L614.6 111.4 L615.2 111.5 L615.7 111.8 L616.2 111.5 L616.7 111 L617.2 112.4 L617.7 112.8 L618.3 112.1 L618.8 112 L619.3 113.4 L619.8 113.1 L620.3 113.4 L620.8 112.8 L621.4 112.9 L621.9 113.6 L622.4 113.9 L622.9 113.2 L623.4 114.6 L623.9 113.4 L624.5 113.9 L625 113 L625.5 113.5 L626 114.4 L626.5 114.4 L627 114.5 L627.6 114.8 L628.1 114.5 L628.6 114.1 L629.1 115.4 L629.6 114.9 L630.2 114.1 L630.7 114.6 L631.2 115.4 L631.7 115.5 L632.2 115.6 L632.7 116.1 L633.3 114.8 L633.8 115.4 L634.3 115.9 L634.8 116.3 L635.3 115.9 L635.8 116 L636.4 115 L636.9 116.1 L637.4 115.9 L637.9 115.5 L638.4 115.8 L638.9 116.3 L639.5 117.3 L640 115.6 L640.5 116.1 L641 116.7 L641.5 116.6 L642 117 L642.6 117.1 L643.1 117.4 L643.6 116.5 L644.1 116.6 L644.6 116.8 L645.2 116.5 L645.7 116.7 L646.2 117 L646.7 117.5 L647.2 116.9 L647.7 116.6 L648.3 117 L648.8 116.7 L649.3 117.6 L649.8 117.9 L650.3 116.9 L650.8 117.8 L651.4 117.5 L651.9 117.7 L652.4 117.7 L652.9 117.9 L653.4 118 L653.9 118.7 L654.5 116.9 L655 117.8 L655.5 118.9 L656 118.4 L656.5 118.6 L657 118.5 L657.6 119.4 L658.1 117.9 L658.6 117.4 L659.1 118.4 L659.6 117.9 L660.1 118 L660.7 119 L661.2 117.8 L661.7 119.3 L662.2 118.8 L662.7 118.7 L663.3 118 L663.8 118.6 L664.3 118.7 L664.8 119.1 L665.3 118.7 L665.8 118.8 L666.4 118.5 L666.9 118.2 L667.4 118.5 L667.9 118.9 L668.4 119 L668.9 118.2 L669.5 118.9 L670 119.1 L670.5 118.2 L671 118.4 L671.5 118.9 L672 119.3 L672.6 119.5 L673.1 118.7 L673.6 119.5 L674.1 118.9" fill="none" stroke="#000" stroke-width="2.5" stroke-linejoin="round"/><path d="M553.5 27.1 V23.4" stroke="#000" stroke-width="1.5"/><path d="M491 125.9 L491.5 125.9 L492.1 125.9 L492.6 125.9 L493.1 125.9 L493.6 125.9 L494.1 125.9 L494.6 125.9 L495.2 125.9 L495.7 125.9 L496.2 125.9 L496.7 125.9 L497.2 125.9 L497.7 125.9 L498.3 125.9 L498.8 125.9 L499.3 125.9 L499.8 125.9 L500.3 125.9 L500.9 125.9 L501.4 125.9 L501.9 125.5 L502.4 120.6 L502.9 116.3 L503.4 112.4 L504 108.5 L504.5 104.8 L505 102.1 L505.5 98.9 L506 95.4 L506.5 91.6 L507.1 89.7 L507.6 87.5 L508.1 84.9 L508.6 82.2 L509.1 79.5 L509.6 78.2 L510.2 75.7 L510.7 74 L511.2 72.4 L511.7 71 L512.2 69.1 L512.7 67.8 L513.3 65.8 L513.8 65.4 L514.3 62.9 L514.8 61.8 L515.3 60.7 L515.9 59.2 L516.4 58.6 L516.9 58.6 L517.4 56.9 L517.9 55.9 L518.4 55.5 L519 54.9 L519.5 53.5 L520 52.7 L520.5 52.5 L521 51.7 L521.5 51.3 L522.1 50.7 L522.6 49.9 L523.1 48.9 L523.6 49.6 L524.1 48.6 L524.6 47.3 L525.2 47.5 L525.7 47.1 L526.2 46.5 L526.7 46.9 L527.2 46.7 L527.7 46.6 L528.3 46.2 L528.8 45.1 L529.3 44.6 L529.8 44.9 L530.3 44.8 L530.8 44.1 L531.4 43.8 L531.9 43.7 L532.4 44.5 L532.9 43.7 L533.4 44.4 L534 43 L534.5 43.3 L535 43.1 L535.5 42 L536 41.9 L536.5 42.2 L537.1 42.2 L537.6 42.1 L538.1 42.3 L538.6 42 L539.1 41 L539.6 42.1 L540.2 42 L540.7 41.5 L541.2 41.1 L541.7 41.1 L542.2 41.8 L542.7 41.4 L543.3 41.4 L543.8 41.7 L544.3 41.1 L544.8 41.3 L545.3 40.6 L545.8 40.8 L546.4 41.3 L546.9 40.9 L547.4 41 L547.9 41.1 L548.4 41 L549 40.3 L549.5 40.9 L550 41.4 L550.5 41 L551 40.3 L551.5 39.6 L552.1 41 L552.6 40.7 L553.1 40.7 L553.6 41.4 L554.1 42.4 L554.6 44.4 L555.2 46 L555.7 46.8 L556.2 49.6 L556.7 50.7 L557.2 52.3 L557.7 54.5 L558.3 55.9 L558.8 56.4 L559.3 58.2 L559.8 59.9 L560.3 61.8 L560.8 62.2 L561.4 63.7 L561.9 64.2 L562.4 65.8 L562.9 67.3 L563.4 68.7 L564 69.9 L564.5 71.3 L565 72 L565.5 73.1 L566 73.9 L566.5 74.8 L567.1 76.1 L567.6 77.4 L568.1 77.8 L568.6 78.4 L569.1 80.3 L569.6 80.7 L570.2 81.5 L570.7 82.3 L571.2 83.1 L571.7 84.2 L572.2 85 L572.7 85 L573.3 85.7 L573.8 87.8 L574.3 89 L574.8 88.4 L575.3 89.5 L575.8 90.1 L576.4 91.2 L576.9 91 L577.4 91.8 L577.9 92.6 L578.4 92.6 L578.9 92.5 L579.5 93.4 L580 94.1 L580.5 95.4 L581 95.4 L581.5 96.3 L582.1 96.2 L582.6 96.9 L583.1 97.7 L583.6 97.9 L584.1 99 L584.6 98.7 L585.2 98.8 L585.7 100.1 L586.2 100.1 L586.7 101.6 L587.2 100.7 L587.7 101.1 L588.3 102.4 L588.8 101.4 L589.3 102.6 L589.8 103.8 L590.3 104 L590.8 103.3 L591.4 104.1 L591.9 103.8 L592.4 105.4 L592.9 105 L593.4 104.8 L593.9 105.9 L594.5 105.5 L595 106.3 L595.5 106.2 L596 106.5 L596.5 105.9 L597.1 107.8 L597.6 107.1 L598.1 107.1 L598.6 108.5 L599.1 108.2 L599.6 107.3 L600.2 108.1 L600.7 110.3 L601.2 109.2 L601.7 110.1 L602.2 109.4 L602.7 110.1 L603.3 110.2 L603.8 110.5 L604.3 110.2 L604.8 110.7 L605.3 111.1 L605.8 111 L606.4 110.8 L606.9 111.6 L607.4 110.9 L607.9 112.4 L608.4 111.5 L608.9 112.1 L609.5 111.3 L610 112.5 L610.5 112.7 L611 113.1 L611.5 111.7 L612 112.5 L612.6 113.4 L613.1 113.2 L613.6 113.7 L614.1 112.6 L614.6 113.3 L615.2 114.6 L615.7 113.6 L616.2 113.4 L616.7 113.9 L617.2 113.8 L617.7 114.2 L618.3 114.2 L618.8 114.3 L619.3 114.9 L619.8 114.5 L620.3 114.6 L620.8 114.8 L621.4 115.3 L621.9 115.5 L622.4 115 L622.9 114.8 L623.4 116.5 L623.9 115.7 L624.5 114.8 L625 115.1 L625.5 116 L626 115.1 L626.5 116.3 L627 116.3 L627.6 115.1 L628.1 116.3 L628.6 116.3 L629.1 117.1 L629.6 116.8 L630.2 117 L630.7 116.6 L631.2 117.5 L631.7 116.1 L632.2 116.9 L632.7 117.1 L633.3 117.2 L633.8 116.6 L634.3 116.2 L634.8 117.2 L635.3 116.3 L635.8 116.4 L636.4 116.6 L636.9 117.2 L637.4 118.1 L637.9 117.1 L638.4 117.7 L638.9 117.4 L639.5 118.5 L640 117.8 L640.5 117.6 L641 118.2 L641.5 117.7 L642 117.1 L642.6 117.8 L643.1 118.3 L643.6 116.9 L644.1 119.1 L644.6 118.6 L645.2 118 L645.7 118.5 L646.2 119.4 L646.7 118.2 L647.2 118 L647.7 118.8 L648.3 117.8 L648.8 118.3 L649.3 118 L649.8 119.4 L650.3 118.7 L650.8 117.9 L651.4 117.8 L651.9 118.1 L652.4 118.8 L652.9 118.8 L653.4 119.2 L653.9 118.4 L654.5 119.3 L655 119 L655.5 120.1 L656 119.8 L656.5 118.3 L657 119.2 L657.6 119.1 L658.1 120.3 L658.6 119.3 L659.1 118.3 L659.6 120.1 L660.1 120.6 L660.7 119.5 L661.2 119.7 L661.7 119.6 L662.2 120.2 L662.7 120.2 L663.3 120.2 L663.8 119.3 L664.3 119.7 L664.8 119.3 L665.3 120.3 L665.8 119.5 L666.4 120 L666.9 119.8 L667.4 119.4 L667.9 119.9 L668.4 120.1 L668.9 120.8 L669.5 120 L670 119.6 L670.5 120.4 L671 120.1 L671.5 121 L672 120.8 L672.6 120 L673.1 119.6 L673.6 120.4 L674.1 121.1" fill="none" stroke="#000" stroke-width="2.5" stroke-linejoin="round"/><path d="M553.5 41 V37.3" stroke="#000" stroke-width="1.5"/><path d="M491 125.9 L491.5 125.9 L492.1 125.9 L492.6 125.9 L493.1 125.9 L493.6 125.9 L494.1 125.9 L494.6 125.9 L495.2 125.9 L495.7 125.9 L496.2 125.9 L496.7 125.9 L497.2 125.9 L497.7 125.9 L498.3 125.9 L498.8 125.9 L499.3 125.9 L499.8 125.9 L500.3 125.9 L500.9 125.9 L501.4 125.9 L501.9 125.5 L502.4 122.5 L502.9 118.5 L503.4 114.4 L504 112 L504.5 109.4 L505 106.1 L505.5 104.1 L506 101.3 L506.5 99 L507.1 96.7 L507.6 95.4 L508.1 92.4 L508.6 90.4 L509.1 89.9 L509.6 88.4 L510.2 85.9 L510.7 83.3 L511.2 82.5 L511.7 80.7 L512.2 79.4 L512.7 78 L513.3 77.5 L513.8 76.3 L514.3 74.7 L514.8 73.6 L515.3 72.6 L515.9 71.7 L516.4 71.2 L516.9 69.6 L517.4 69.1 L517.9 68.1 L518.4 68.9 L519 66.6 L519.5 67.5 L520 65.7 L520.5 65.5 L521 64.5 L521.5 64.3 L522.1 63.7 L522.6 63 L523.1 62.4 L523.6 62.5 L524.1 62.8 L524.6 61.6 L525.2 60.7 L525.7 60.9 L526.2 60 L526.7 60 L527.2 60 L527.7 58.7 L528.3 58.2 L528.8 58.7 L529.3 58.5 L529.8 57.8 L530.3 58.6 L530.8 58.1 L531.4 57 L531.9 56.9 L532.4 57.4 L532.9 57.3 L533.4 56.6 L534 57.3 L534.5 56.7 L535 56.4 L535.5 57.3 L536 55.8 L536.5 55.6 L537.1 55.3 L537.6 56.3 L538.1 56.2 L538.6 55.8 L539.1 56 L539.6 54.4 L540.2 55.6 L540.7 55.2 L541.2 54.9 L541.7 54.7 L542.2 54.2 L542.7 55.3 L543.3 54.4 L543.8 54.6 L544.3 55.1 L544.8 54.5 L545.3 55.1 L545.8 53.7 L546.4 54.7 L546.9 53.9 L547.4 53.7 L547.9 54.6 L548.4 54.6 L549 54.1 L549.5 54.6 L550 53.7 L550.5 54 L551 54.4 L551.5 54.3 L552.1 53.7 L552.6 54.6 L553.1 53.2 L553.6 54.5 L554.1 55.8 L554.6 57.6 L555.2 58 L555.7 59.7 L556.2 60.9 L556.7 62.6 L557.2 64.1 L557.7 64.7 L558.3 66.4 L558.8 67.8 L559.3 68.9 L559.8 70 L560.3 71.3 L560.8 72.7 L561.4 74.4 L561.9 73.8 L562.4 76.3 L562.9 77.7 L563.4 78.1 L564 77.9 L564.5 79.1 L565 80.9 L565.5 81.4 L566 82.4 L566.5 84.1 L567.1 84.2 L567.6 84.7 L568.1 85.1 L568.6 87 L569.1 88.2 L569.6 88.6 L570.2 88.5 L570.7 89.3 L571.2 90 L571.7 90.7 L572.2 91.5 L572.7 92.6 L573.3 92.4 L573.8 93.1 L574.3 93.6 L574.8 93.9 L575.3 95.6 L575.8 96.6 L576.4 96.9 L576.9 95.7 L577.4 97.6 L577.9 97.5 L578.4 98.2 L578.9 98.3 L579.5 97.5 L580 99.8 L580.5 100.1 L581 100.8 L581.5 100.8 L582.1 101.1 L582.6 102.2 L583.1 101.5 L583.6 102 L584.1 102.7 L584.6 103.3 L585.2 103.8 L585.7 104.8 L586.2 104 L586.7 105.2 L587.2 105.3 L587.7 104.9 L588.3 106.1 L588.8 106.3 L589.3 105.9 L589.8 105.7 L590.3 107.2 L590.8 106.6 L591.4 107.8 L591.9 107.5 L592.4 107.8 L592.9 108.8 L593.4 108 L593.9 107.9 L594.5 109 L595 109.1 L595.5 110.1 L596 108.8 L596.5 109.9 L597.1 110.8 L597.6 110 L598.1 111.3 L598.6 111.1 L599.1 112 L599.6 110.5 L600.2 110.3 L600.7 111.9 L601.2 112.1 L601.7 112.2 L602.2 112.4 L602.7 112 L603.3 111.7 L603.8 113.1 L604.3 112.5 L604.8 113.8 L605.3 112.3 L605.8 113.3 L606.4 113.7 L606.9 112.8 L607.4 113.7 L607.9 113.1 L608.4 113.4 L608.9 113.3 L609.5 114.6 L610 114.3 L610.5 114.3 L611 114.7 L611.5 114 L612 115.2 L612.6 114.5 L613.1 114.4 L613.6 116.2 L614.1 115.8 L614.6 115.9 L615.2 115.8 L615.7 115.4 L616.2 115.8 L616.7 115.8 L617.2 116.2 L617.7 116.1 L618.3 115.9 L618.8 115.8 L619.3 116.7 L619.8 116.5 L620.3 116.9 L620.8 116.7 L621.4 117.4 L621.9 116.3 L622.4 116.5 L622.9 117 L623.4 117.3 L623.9 117.3 L624.5 117.5 L625 118 L625.5 116.5 L626 115.7 L626.5 118.1 L627 118.1 L627.6 117.3 L628.1 117.3 L628.6 118.5 L629.1 118.7 L629.6 117.6 L630.2 118.9 L630.7 117.3 L631.2 118.3 L631.7 118.1 L632.2 118.2 L632.7 118.5 L633.3 118.3 L633.8 118.5 L634.3 117.8 L634.8 118.5 L635.3 118.5 L635.8 118.8 L636.4 118.9 L636.9 119 L637.4 118.7 L637.9 117.8 L638.4 118.2 L638.9 118.7 L639.5 118.1 L640 118.4 L640.5 118.9 L641 119.1 L641.5 119.6 L642 119 L642.6 119.3 L643.1 120 L643.6 119.9 L644.1 118.3 L644.6 119.3 L645.2 119.2 L645.7 119.3 L646.2 119.7 L646.7 119.3 L647.2 119 L647.7 119.8 L648.3 119.4 L648.8 119.2 L649.3 120 L649.8 119.7 L650.3 120.2 L650.8 119.5 L651.4 120 L651.9 119.3 L652.4 120.3 L652.9 119.1 L653.4 120.2 L653.9 120.5 L654.5 120.5 L655 119.8 L655.5 120.6 L656 119.3 L656.5 119.6 L657 120 L657.6 121 L658.1 120.3 L658.6 120.7 L659.1 121.3 L659.6 120.2 L660.1 119.3 L660.7 120.7 L661.2 120.1 L661.7 119.9 L662.2 121 L662.7 120.7 L663.3 120.5 L663.8 120.4 L664.3 121.2 L664.8 120.6 L665.3 120.8 L665.8 120.3 L666.4 121.6 L666.9 121.1 L667.4 121.1 L667.9 121 L668.4 120.5 L668.9 121.2 L669.5 119.5 L670 121.3 L670.5 120.5 L671 120.5 L671.5 120.5 L672 121.1 L672.6 121.5 L673.1 121.2 L673.6 120.8 L674.1 121.1" fill="none" stroke="#000" stroke-width="2.5" stroke-linejoin="round"/><path d="M553.5 54.4 V50.7" stroke="#000" stroke-width="1.5"/><path d="M491 125.9 L491.5 125.9 L492.1 125.9 L492.6 125.9 L493.1 125.9 L493.6 125.9 L494.1 125.9 L494.6 125.9 L495.2 125.9 L495.7 125.9 L496.2 125.9 L496.7 125.9 L497.2 125.9 L497.7 125.9 L498.3 125.9 L498.8 125.9 L499.3 125.9 L499.8 125.9 L500.3 125.9 L500.9 125.9 L501.4 125.9 L501.9 125.4 L502.4 124.1 L502.9 123.5 L503.4 122.3 L504 120 L504.5 119.7 L505 119.1 L505.5 116.4 L506 116.6 L506.5 115.6 L507.1 113.7 L507.6 113.7 L508.1 112.6 L508.6 110.8 L509.1 110.8 L509.6 108.4 L510.2 108.6 L510.7 106.7 L511.2 107 L511.7 106.3 L512.2 105.8 L512.7 104.9 L513.3 104.3 L513.8 103.4 L514.3 102.4 L514.8 102.6 L515.3 101.8 L515.9 101.8 L516.4 99.5 L516.9 99.7 L517.4 99.1 L517.9 98.5 L518.4 97.5 L519 97.3 L519.5 96.6 L520 96.5 L520.5 96 L521 95.5 L521.5 95.9 L522.1 94.1 L522.6 94.9 L523.1 94.2 L523.6 93.1 L524.1 93 L524.6 92.3 L525.2 91.5 L525.7 91.1 L526.2 90.9 L526.7 91.3 L527.2 90 L527.7 91 L528.3 90.3 L528.8 89.5 L529.3 89.8 L529.8 89.4 L530.3 89.3 L530.8 88.2 L531.4 89.7 L531.9 87.8 L532.4 87.6 L532.9 87.9 L533.4 87.4 L534 87.8 L534.5 86.7 L535 85.6 L535.5 87.2 L536 85.9 L536.5 86.4 L537.1 86.3 L537.6 86.2 L538.1 85.9 L538.6 86.2 L539.1 86.1 L539.6 84.5 L540.2 85.1 L540.7 84.7 L541.2 84.7 L541.7 84.5 L542.2 85.2 L542.7 84.8 L543.3 84 L543.8 83.7 L544.3 84.5 L544.8 84.1 L545.3 84.2 L545.8 83.4 L546.4 83.4 L546.9 83.4 L547.4 83.6 L547.9 83.1 L548.4 83.1 L549 83.3 L549.5 82.8 L550 83.1 L550.5 82.3 L551 82.4 L551.5 82.9 L552.1 82.2 L552.6 82.4 L553.1 82.6 L553.6 82.8 L554.1 84.2 L554.6 84.9 L555.2 85.1 L555.7 85.6 L556.2 87.4 L556.7 87.9 L557.2 88.6 L557.7 89.3 L558.3 90.2 L558.8 90.6 L559.3 91.6 L559.8 93 L560.3 93.2 L560.8 95.2 L561.4 94.9 L561.9 95.5 L562.4 95.9 L562.9 96.9 L563.4 97.1 L564 97.5 L564.5 99 L565 99.5 L565.5 99.7 L566 100.1 L566.5 100.8 L567.1 101 L567.6 102.5 L568.1 102.1 L568.6 102.4 L569.1 102.9 L569.6 103.7 L570.2 104.4 L570.7 104.6 L571.2 105.3 L571.7 106.4 L572.2 106.3 L572.7 106.5 L573.3 107.1 L573.8 107.7 L574.3 107.7 L574.8 108.2 L575.3 108.3 L575.8 108.7 L576.4 109 L576.9 108.9 L577.4 109.6 L577.9 109.8 L578.4 110.9 L578.9 112 L579.5 111.1 L580 110.9 L580.5 111.7 L581 112.1 L581.5 112.7 L582.1 111.9 L582.6 112.8 L583.1 112.7 L583.6 112.5 L584.1 113 L584.6 112.4 L585.2 113.8 L585.7 113.5 L586.2 113.9 L586.7 114.8 L587.2 114.6 L587.7 115.1 L588.3 115.6 L588.8 115.1 L589.3 115.8 L589.8 114.8 L590.3 116.2 L590.8 116.2 L591.4 116.1 L591.9 116.6 L592.4 116.4 L592.9 116.9 L593.4 117.5 L593.9 118.2 L594.5 117.7 L595 116.5 L595.5 117.2 L596 117.5 L596.5 117.9 L597.1 117.9 L597.6 117.8 L598.1 118.8 L598.6 118.6 L599.1 118.8 L599.6 117.8 L600.2 119.1 L600.7 118.1 L601.2 119 L601.7 117.5 L602.2 119 L602.7 119.1 L603.3 118.5 L603.8 118.9 L604.3 118.9 L604.8 120 L605.3 119 L605.8 118.8 L606.4 119.8 L606.9 120.1 L607.4 120.5 L607.9 119.5 L608.4 120 L608.9 120.2 L609.5 120.9 L610 119.5 L610.5 120 L611 120.5 L611.5 119.8 L612 121.1 L612.6 120.3 L613.1 121.3 L613.6 120.1 L614.1 121 L614.6 120.4 L615.2 121.2 L615.7 120.9 L616.2 120.6 L616.7 121.7 L617.2 121.2 L617.7 121.8 L618.3 121 L618.8 121.7 L619.3 121.7 L619.8 121.7 L620.3 121 L620.8 122.2 L621.4 121.7 L621.9 121.9 L622.4 122.1 L622.9 122.2 L623.4 122 L623.9 121.8 L624.5 122.8 L625 121.9 L625.5 122.7 L626 122.1 L626.5 121 L627 122.7 L627.6 122.3 L628.1 122.4 L628.6 121.8 L629.1 122.6 L629.6 123.3 L630.2 123.2 L630.7 122.4 L631.2 122.4 L631.7 122 L632.2 122.8 L632.7 122.2 L633.3 123.1 L633.8 122 L634.3 122.7 L634.8 123 L635.3 122.6 L635.8 121.9 L636.4 123.2 L636.9 123.4 L637.4 123.4 L637.9 123.5 L638.4 122.9 L638.9 122.8 L639.5 123 L640 122.9 L640.5 122.4 L641 123.2 L641.5 123.7 L642 124.2 L642.6 123 L643.1 123.5 L643.6 123.3 L644.1 123 L644.6 123 L645.2 124 L645.7 123.7 L646.2 123.2 L646.7 123.4 L647.2 122.7 L647.7 123.6 L648.3 124.4 L648.8 122.8 L649.3 124.2 L649.8 123.9 L650.3 123.2 L650.8 124 L651.4 122.2 L651.9 123.4 L652.4 123.2 L652.9 123.7 L653.4 122.4 L653.9 123.3 L654.5 123.9 L655 123 L655.5 124.4 L656 123.9 L656.5 123.5 L657 123.6 L657.6 124.1 L658.1 122.9 L658.6 123 L659.1 124.2 L659.6 123.5 L660.1 124.1 L660.7 124 L661.2 123.3 L661.7 123.7 L662.2 123.9 L662.7 123.8 L663.3 124.4 L663.8 123.2 L664.3 124.2 L664.8 123.2 L665.3 124.1 L665.8 124.1 L666.4 123.2 L666.9 123.8 L667.4 124.3 L667.9 124.2 L668.4 123.7 L668.9 123 L669.5 123.7 L670 124.2 L670.5 124.6 L671 124.4 L671.5 124.1 L672 123.9 L672.6 124.4 L673.1 123.4 L673.6 124.6 L674.1 124.4" fill="none" stroke="#000" stroke-width="2.5" stroke-linejoin="round"/><path d="M553.5 82.8 V79.1" stroke="#000" stroke-width="1.5"/><path d="M491 125.9 L491.5 125.9 L492.1 125.9 L492.6 125.9 L493.1 125.9 L493.6 125.9 L494.1 125.9 L494.6 125.9 L495.2 125.9 L495.7 125.9 L496.2 125.9 L496.7 125.9 L497.2 125.9 L497.7 125.9 L498.3 125.9 L498.8 125.9 L499.3 125.9 L499.8 125.9 L500.3 125.9 L500.9 125.9 L501.4 125.9 L501.9 125.6 L502.4 125 L502.9 124.9 L503.4 123.7 L504 124.3 L504.5 122.4 L505 121.6 L505.5 121.2 L506 121.6 L506.5 120.3 L507.1 120.7 L507.6 119.6 L508.1 119.9 L508.6 119.2 L509.1 118.6 L509.6 119.2 L510.2 118.1 L510.7 116.9 L511.2 118.5 L511.7 116.7 L512.2 116 L512.7 115.9 L513.3 115.6 L513.8 114.7 L514.3 114.8 L514.8 115.5 L515.3 114.7 L515.9 114.1 L516.4 113.5 L516.9 113.5 L517.4 113 L517.9 111.9 L518.4 113.6 L519 111.5 L519.5 111.3 L520 111.2 L520.5 111.1 L521 110.8 L521.5 110.4 L522.1 110.2 L522.6 110.4 L523.1 109.5 L523.6 109.9 L524.1 109.3 L524.6 109.2 L525.2 109.3 L525.7 108.3 L526.2 108.4 L526.7 108.6 L527.2 107.9 L527.7 108.3 L528.3 106.8 L528.8 107 L529.3 106.2 L529.8 107.1 L530.3 106.3 L530.8 106.9 L531.4 106.7 L531.9 106.1 L532.4 105.7 L532.9 105.3 L533.4 105.7 L534 104.9 L534.5 104.8 L535 105.4 L535.5 104.9 L536 105.1 L536.5 103.8 L537.1 104.6 L537.6 103.8 L538.1 103.7 L538.6 104.1 L539.1 104 L539.6 103.5 L540.2 103.9 L540.7 104 L541.2 103.7 L541.7 103 L542.2 102.9 L542.7 102.1 L543.3 103.6 L543.8 102.4 L544.3 103 L544.8 101.9 L545.3 102 L545.8 102.1 L546.4 101.4 L546.9 102.1 L547.4 102.1 L547.9 102.2 L548.4 101.9 L549 101.5 L549.5 101.2 L550 100.8 L550.5 101.4 L551 101.5 L551.5 101.2 L552.1 101.2 L552.6 101.1 L553.1 101 L553.6 101.2 L554.1 101.4 L554.6 102.2 L555.2 102.6 L555.7 103.6 L556.2 103.5 L556.7 103.8 L557.2 104.2 L557.7 105.2 L558.3 106 L558.8 106.5 L559.3 106.9 L559.8 107.1 L560.3 107.3 L560.8 108.4 L561.4 107.7 L561.9 109.1 L562.4 109.1 L562.9 109.5 L563.4 109.1 L564 109 L564.5 110.4 L565 110.7 L565.5 111 L566 111.3 L566.5 111.6 L567.1 110.7 L567.6 112.6 L568.1 112.4 L568.6 113 L569.1 112.8 L569.6 113.4 L570.2 113.2 L570.7 114.2 L571.2 113 L571.7 114.1 L572.2 115.3 L572.7 114.4 L573.3 115.1 L573.8 115.7 L574.3 115.2 L574.8 115.8 L575.3 115.5 L575.8 116.2 L576.4 115.8 L576.9 116.3 L577.4 116.4 L577.9 116.7 L578.4 117.1 L578.9 117.3 L579.5 117.1 L580 117.1 L580.5 117.8 L581 116.7 L581.5 117.1 L582.1 118.6 L582.6 117.7 L583.1 118.4 L583.6 118.4 L584.1 119 L584.6 118 L585.2 119.3 L585.7 119.1 L586.2 119.5 L586.7 118.3 L587.2 118.8 L587.7 120.2 L588.3 119.9 L588.8 119.6 L589.3 120.1 L589.8 120.1 L590.3 120.6 L590.8 120.1 L591.4 120.8 L591.9 120 L592.4 119.3 L592.9 120.7 L593.4 119.8 L593.9 120.6 L594.5 121.2 L595 121.1 L595.5 121.5 L596 121 L596.5 120.8 L597.1 120.8 L597.6 121.4 L598.1 122 L598.6 121.5 L599.1 120.7 L599.6 121.5 L600.2 121.7 L600.7 122.7 L601.2 122 L601.7 121.6 L602.2 122.4 L602.7 121.3 L603.3 122.3 L603.8 122.5 L604.3 122.4 L604.8 122.3 L605.3 121.8 L605.8 122.6 L606.4 123.2 L606.9 122.5 L607.4 122.2 L607.9 121.8 L608.4 123.1 L608.9 121.9 L609.5 122.3 L610 122.5 L610.5 123.1 L611 123.2 L611.5 123.3 L612 122.4 L612.6 122.8 L613.1 122.4 L613.6 122.1 L614.1 123 L614.6 123.1 L615.2 122.2 L615.7 123.8 L616.2 123.4 L616.7 123.4 L617.2 123.4 L617.7 123.2 L618.3 123.7 L618.8 122.8 L619.3 124 L619.8 123.8 L620.3 124.3 L620.8 124.1 L621.4 123.2 L621.9 123.2 L622.4 123.6 L622.9 123.1 L623.4 123.3 L623.9 123.9 L624.5 123.7 L625 123.5 L625.5 122.7 L626 123.9 L626.5 123.6 L627 123.5 L627.6 123.2 L628.1 123.6 L628.6 123.3 L629.1 124.4 L629.6 124 L630.2 124.8 L630.7 123.9 L631.2 122.8 L631.7 123.8 L632.2 123.9 L632.7 123.9 L633.3 123.9 L633.8 124.7 L634.3 124.4 L634.8 124.1 L635.3 124 L635.8 124.5 L636.4 124.2 L636.9 124.5 L637.4 124.8 L637.9 124.5 L638.4 124.6 L638.9 123.8 L639.5 123.5 L640 123.9 L640.5 124.3 L641 124.5 L641.5 125 L642 124.5 L642.6 123.5 L643.1 123.7 L643.6 124.2 L644.1 124.4 L644.6 124.3 L645.2 124.1 L645.7 124.4 L646.2 124.2 L646.7 124.8 L647.2 124.4 L647.7 124.6 L648.3 123.9 L648.8 125 L649.3 123.8 L649.8 124.5 L650.3 124.7 L650.8 124.5 L651.4 124.4 L651.9 124.6 L652.4 124.3 L652.9 124.8 L653.4 125.4 L653.9 124.2 L654.5 124.6 L655 123.7 L655.5 124.4 L656 125.6 L656.5 124 L657 124.9 L657.6 124.3 L658.1 123.5 L658.6 124.1 L659.1 125.2 L659.6 124.7 L660.1 125.4 L660.7 124.3 L661.2 124.4 L661.7 125.2 L662.2 124.5 L662.7 124.2 L663.3 124.3 L663.8 125 L664.3 125.1 L664.8 125.3 L665.3 125.4 L665.8 124.6 L666.4 124.7 L666.9 124.1 L667.4 124.6 L667.9 124.9 L668.4 125.5 L668.9 124 L669.5 124.7 L670 124.8 L670.5 125.3 L671 125.3 L671.5 124.5 L672 125.3 L672.6 124.5 L673.1 124.5 L673.6 125 L674.1 125.6" fill="none" stroke="#000" stroke-width="2.5" stroke-linejoin="round"/><path d="M553.5 101.3 V97.6" stroke="#000" stroke-width="1.5"/><path d="M491 125.9 L491.5 125.9 L492.1 125.9 L492.6 125.9 L493.1 125.9 L493.6 125.9 L494.1 125.9 L494.6 125.9 L495.2 125.9 L495.7 125.9 L496.2 125.9 L496.7 125.9 L497.2 125.9 L497.7 125.9 L498.3 125.9 L498.8 125.9 L499.3 125.9 L499.8 125.9 L500.3 125.9 L500.9 125.9 L501.4 125.9 L501.9 125.7 L502.4 124.9 L502.9 125.6 L503.4 125.5 L504 124.2 L504.5 124.4 L505 124.4 L505.5 123.3 L506 123.7 L506.5 123.1 L507.1 123.3 L507.6 123.2 L508.1 122.5 L508.6 122.7 L509.1 122.9 L509.6 122.1 L510.2 121.1 L510.7 120.9 L511.2 120.2 L511.7 120.5 L512.2 120 L512.7 120.4 L513.3 120.5 L513.8 119.8 L514.3 120.3 L514.8 119.3 L515.3 119.6 L515.9 119.1 L516.4 119.4 L516.9 118.9 L517.4 118.2 L517.9 118.5 L518.4 118.5 L519 117.9 L519.5 117.5 L520 117.8 L520.5 118 L521 118 L521.5 117.8 L522.1 116.5 L522.6 116.9 L523.1 116.5 L523.6 116 L524.1 116.2 L524.6 116 L525.2 116.2 L525.7 116.6 L526.2 115.4 L526.7 115.6 L527.2 115.2 L527.7 115.8 L528.3 115.2 L528.8 114.1 L529.3 115.2 L529.8 114.7 L530.3 114 L530.8 114.6 L531.4 114.3 L531.9 115.1 L532.4 113.7 L532.9 114.1 L533.4 113.2 L534 113.7 L534.5 113.7 L535 113.3 L535.5 113.4 L536 113.4 L536.5 112.4 L537.1 112.6 L537.6 112.8 L538.1 112.4 L538.6 112.3 L539.1 112.3 L539.6 112.4 L540.2 112.3 L540.7 112.1 L541.2 111.9 L541.7 111.9 L542.2 112.2 L542.7 111.9 L543.3 111.6 L543.8 112.1 L544.3 111.6 L544.8 111.2 L545.3 111.3 L545.8 111.4 L546.4 111.2 L546.9 111.3 L547.4 110.6 L547.9 111.1 L548.4 111.6 L549 111.3 L549.5 110.6 L550 110.6 L550.5 110.8 L551 111.1 L551.5 110.5 L552.1 110.7 L552.6 110.6 L553.1 110.2 L553.6 110.5 L554.1 110.4 L554.6 111.2 L555.2 111.4 L555.7 111.7 L556.2 111.3 L556.7 111.5 L557.2 112.1 L557.7 113.1 L558.3 113.1 L558.8 113 L559.3 113.3 L559.8 114.6 L560.3 114.2 L560.8 114.8 L561.4 114.4 L561.9 114.6 L562.4 115.4 L562.9 114.5 L563.4 115.7 L564 114.8 L564.5 116.1 L565 116.3 L565.5 115.7 L566 116.9 L566.5 117.1 L567.1 116.4 L567.6 117.3 L568.1 117.2 L568.6 118.1 L569.1 117 L569.6 117.5 L570.2 118 L570.7 118 L571.2 118.7 L571.7 118.8 L572.2 119.4 L572.7 118.7 L573.3 118.5 L573.8 118.8 L574.3 118.9 L574.8 119.1 L575.3 120 L575.8 120.2 L576.4 119.5 L576.9 119.9 L577.4 119.6 L577.9 120.3 L578.4 120.7 L578.9 120.2 L579.5 120.8 L580 121.4 L580.5 121 L581 121.2 L581.5 121.4 L582.1 121.3 L582.6 120.6 L583.1 120.1 L583.6 120.4 L584.1 121.5 L584.6 120.9 L585.2 121.5 L585.7 121.4 L586.2 122 L586.7 121.8 L587.2 122.6 L587.7 121 L588.3 122.3 L588.8 121.8 L589.3 122.4 L589.8 122.1 L590.3 122.8 L590.8 122.5 L591.4 121.9 L591.9 122.1 L592.4 123.4 L592.9 122.1 L593.4 123.2 L593.9 122.5 L594.5 122.5 L595 123.1 L595.5 123 L596 123 L596.5 122.7 L597.1 122.5 L597.6 122.4 L598.1 122.9 L598.6 122.2 L599.1 123.6 L599.6 122.3 L600.2 123.4 L600.7 122.9 L601.2 123.4 L601.7 123.3 L602.2 123.9 L602.7 123.3 L603.3 122.5 L603.8 123.4 L604.3 123.6 L604.8 123.6 L605.3 123.3 L605.8 123.7 L606.4 123.7 L606.9 123.6 L607.4 123.1 L607.9 123.3 L608.4 124.3 L608.9 124.1 L609.5 123.9 L610 123.5 L610.5 123.4 L611 124 L611.5 122.9 L612 124.1 L612.6 123.3 L613.1 123.4 L613.6 123.3 L614.1 124 L614.6 123.8 L615.2 124.9 L615.7 125 L616.2 124.5 L616.7 123.9 L617.2 123.7 L617.7 124.3 L618.3 123.8 L618.8 124 L619.3 123.6 L619.8 125.1 L620.3 124.7 L620.8 124.8 L621.4 124.9 L621.9 123.6 L622.4 124.9 L622.9 124.8 L623.4 124.6 L623.9 124 L624.5 124.7 L625 124.1 L625.5 124.2 L626 124.8 L626.5 125.7 L627 125 L627.6 125.2 L628.1 123.8 L628.6 124.9 L629.1 125.1 L629.6 124.4 L630.2 124.6 L630.7 125.1 L631.2 124.1 L631.7 124.2 L632.2 124.6 L632.7 125.1 L633.3 125.1 L633.8 125.7 L634.3 124.5 L634.8 124.6 L635.3 125.2 L635.8 124.7 L636.4 123.2 L636.9 125.3 L637.4 125.6 L637.9 124.5 L638.4 125 L638.9 125.1 L639.5 124.5 L640 124.9 L640.5 124.4 L641 124.6 L641.5 124.3 L642 124.8 L642.6 125.9 L643.1 124.2 L643.6 125.7 L644.1 124.4 L644.6 124.8 L645.2 125.6 L645.7 124.9 L646.2 124.5 L646.7 125.5 L647.2 124.9 L647.7 125.3 L648.3 125.4 L648.8 125.3 L649.3 124.4 L649.8 124.7 L650.3 125 L650.8 125.1 L651.4 125 L651.9 124.9 L652.4 124.9 L652.9 125.9 L653.4 124.6 L653.9 125.5 L654.5 126.3 L655 124.7 L655.5 125.6 L656 125.1 L656.5 125.1 L657 125.4 L657.6 124.8 L658.1 125.2 L658.6 125.2 L659.1 125.6 L659.6 125.2 L660.1 125.6 L660.7 125.1 L661.2 124.5 L661.7 124.7 L662.2 124.9 L662.7 125.8 L663.3 124.6 L663.8 124.7 L664.3 124.1 L664.8 126.2 L665.3 125.2 L665.8 125.3 L666.4 124.6 L666.9 125.7 L667.4 125.4 L667.9 124.1 L668.4 124.7 L668.9 126.1 L669.5 125.2 L670 124.6 L670.5 125.5 L671 124.9 L671.5 125.2 L672 125.9 L672.6 125.5 L673.1 124.7 L673.6 124.7 L674.1 125.5" fill="none" stroke="#000" stroke-width="2.5" stroke-linejoin="round"/><path d="M553.5 110.6 V106.9" stroke="#000" stroke-width="1.5"/><path d="M501.8 124.9 V133.1" stroke="#000" stroke-width="2.2"/><path d="M491 125.9 L491.5 125.9 L491.9 125.9 L492.3 125.9 L492.7 125.9 L493.2 125.9 L493.6 125.9 L494 125.9 L494.5 125.9 L494.9 125.9 L495.3 125.9 L495.8 125.9 L496.2 125.9 L496.6 125.9 L497.1 125.9 L497.5 125.9 L497.9 125.9 L498.4 125.9 L498.8 125.9 L499.2 125.9 L499.6 125.9 L500.1 125.9 L500.5 125.9 L500.9 125.9 L501.4 125.9 L501.8 125.9 L502.2 121.5 L503.1 113.3 L504 105.8 L504.8 99 L505.7 92.7 L506.5 87 L507.4 81.7 L508.3 77 L509.1 72.6 L510 68.6 L510.9 64.9 L511.7 61.6 L512.6 58.6 L513.4 55.8 L514.3 53.2 L515.2 50.9 L516 48.8 L516.9 46.8 L517.7 45 L518.6 43.4 L519.5 41.9 L520.3 40.6 L521.2 39.3 L522.1 38.2 L522.9 37.2 L523.8 36.2 L524.6 35.4 L525.5 34.6 L526.4 33.8 L527.2 33.2 L528.1 32.6 L529 32 L529.8 31.5 L530.7 31.1 L531.5 30.6 L532.4 30.3 L533.3 29.9 L534.1 29.6 L535 29.3 L535.8 29 L536.7 28.8 L537.6 28.6 L538.4 28.4 L539.3 28.2 L540.2 28 L541 27.8 L541.9 27.7 L542.7 27.6 L543.6 27.4 L544.5 27.3 L545.3 27.2 L546.2 27.1 L547.1 27.1 L547.9 27 L548.8 26.9 L549.6 26.9 L550.5 26.8 L551.4 26.7 L552.2 26.7 L553.1 26.6 L554 28.5 L554.8 32.1 L555.7 35.6 L556.5 38.9 L557.4 42.1 L558.3 45.2 L559.1 48.1 L560 50.9 L560.8 53.6 L561.7 56.2 L562.6 58.7 L563.4 61.1 L564.3 63.4 L565.2 65.7 L566 67.8 L566.9 69.8 L567.7 71.8 L568.6 73.7 L569.5 75.5 L570.3 77.2 L571.2 78.9 L572.1 80.5 L572.9 82 L573.8 83.5 L574.6 84.9 L575.5 86.3 L576.4 87.6 L577.2 88.8 L578.1 90 L578.9 91.2 L579.8 92.3 L580.7 93.4 L581.5 94.4 L582.4 95.4 L583.3 96.3 L584.1 97.3 L585 98.1 L585.8 99 L586.7 99.8 L587.6 100.6 L588.4 101.3 L589.3 102.1 L590.2 102.8 L591 103.4 L591.9 104.1 L592.7 104.7 L593.6 105.3 L594.5 105.9 L595.3 106.4 L596.2 107 L597.1 107.5 L597.9 108 L598.8 108.4 L599.6 108.9 L600.5 109.3 L601.4 109.8 L602.2 110.2 L603.1 110.6 L603.9 111 L604.8 111.3 L605.7 111.7 L606.5 112 L607.4 112.3 L608.3 112.7 L609.1 113 L610 113.3 L610.8 113.6 L611.7 113.8 L612.6 114.1 L613.4 114.4 L614.3 114.6 L615.2 114.8 L616 115.1 L616.9 115.3 L617.7 115.5 L618.6 115.7 L619.5 115.9 L620.3 116.1 L621.2 116.3 L622 116.5 L622.9 116.7 L623.8 116.8 L624.6 117 L625.5 117.2 L626.4 117.3 L627.2 117.5 L628.1 117.6 L628.9 117.8 L629.8 117.9 L630.7 118 L631.5 118.2 L632.4 118.3 L633.3 118.4 L634.1 118.5 L635 118.7 L635.8 118.8 L636.7 118.9 L637.6 119 L638.4 119.1 L639.3 119.2 L640.2 119.3 L641 119.4 L641.9 119.5 L642.7 119.6 L643.6 119.7 L644.5 119.7 L645.3 119.8 L646.2 119.9 L647 120 L647.9 120.1 L648.8 120.1 L649.6 120.2 L650.5 120.3 L651.4 120.4 L652.2 120.4 L653.1 120.5 L653.9 120.6 L654.8 120.6 L655.7 120.7 L656.5 120.7 L657.4 120.8 L658.3 120.9 L659.1 120.9 L660 121 L660.8 121 L661.7 121.1 L662.6 121.1 L663.4 121.2 L664.3 121.2 L665.1 121.3 L666 121.3 L666.9 121.4 L667.7 121.4 L668.6 121.5 L669.5 121.5 L670.3 121.6 L671.2 121.6 L672 121.7 L672.9 121.7 L673.8 121.7" fill="none" stroke="#cf1010" stroke-width="1.4" stroke-linejoin="round"/><path d="M491 125.9 L491.5 125.9 L491.9 125.9 L492.3 125.9 L492.7 125.9 L493.2 125.9 L493.6 125.9 L494 125.9 L494.5 125.9 L494.9 125.9 L495.3 125.9 L495.8 125.9 L496.2 125.9 L496.6 125.9 L497.1 125.9 L497.5 125.9 L497.9 125.9 L498.4 125.9 L498.8 125.9 L499.2 125.9 L499.6 125.9 L500.1 125.9 L500.5 125.9 L500.9 125.9 L501.4 125.9 L501.8 125.9 L502.2 122.1 L503.1 115.1 L504 108.6 L504.8 102.7 L505.7 97.3 L506.5 92.4 L507.4 87.9 L508.3 83.8 L509.1 80 L510 76.6 L510.9 73.5 L511.7 70.6 L512.6 68 L513.4 65.6 L514.3 63.4 L515.2 61.4 L516 59.5 L516.9 57.9 L517.7 56.3 L518.6 54.9 L519.5 53.7 L520.3 52.5 L521.2 51.4 L522.1 50.5 L522.9 49.6 L523.8 48.8 L524.6 48 L525.5 47.3 L526.4 46.7 L527.2 46.1 L528.1 45.6 L529 45.2 L529.8 44.7 L530.7 44.3 L531.5 44 L532.4 43.6 L533.3 43.3 L534.1 43 L535 42.8 L535.8 42.6 L536.7 42.4 L537.6 42.2 L538.4 42 L539.3 41.8 L540.2 41.7 L541 41.5 L541.9 41.4 L542.7 41.3 L543.6 41.2 L544.5 41.1 L545.3 41 L546.2 40.9 L547.1 40.9 L547.9 40.8 L548.8 40.7 L549.6 40.7 L550.5 40.6 L551.4 40.6 L552.2 40.6 L553.1 40.5 L554 42.1 L554.8 45.2 L555.7 48.2 L556.5 51.1 L557.4 53.8 L558.3 56.4 L559.1 59 L560 61.4 L560.8 63.7 L561.7 66 L562.6 68.1 L563.4 70.2 L564.3 72.2 L565.2 74.1 L566 75.9 L566.9 77.7 L567.7 79.3 L568.6 81 L569.5 82.5 L570.3 84 L571.2 85.4 L572.1 86.8 L572.9 88.1 L573.8 89.4 L574.6 90.6 L575.5 91.8 L576.4 92.9 L577.2 94 L578.1 95 L578.9 96 L579.8 97 L580.7 97.9 L581.5 98.8 L582.4 99.7 L583.3 100.5 L584.1 101.3 L585 102 L585.8 102.8 L586.7 103.5 L587.6 104.1 L588.4 104.8 L589.3 105.4 L590.2 106 L591 106.6 L591.9 107.1 L592.7 107.7 L593.6 108.2 L594.5 108.7 L595.3 109.1 L596.2 109.6 L597.1 110 L597.9 110.5 L598.8 110.9 L599.6 111.3 L600.5 111.7 L601.4 112 L602.2 112.4 L603.1 112.7 L603.9 113 L604.8 113.4 L605.7 113.7 L606.5 114 L607.4 114.2 L608.3 114.5 L609.1 114.8 L610 115 L610.8 115.3 L611.7 115.5 L612.6 115.7 L613.4 116 L614.3 116.2 L615.2 116.4 L616 116.6 L616.9 116.8 L617.7 117 L618.6 117.1 L619.5 117.3 L620.3 117.5 L621.2 117.7 L622 117.8 L622.9 118 L623.8 118.1 L624.6 118.3 L625.5 118.4 L626.4 118.5 L627.2 118.7 L628.1 118.8 L628.9 118.9 L629.8 119 L630.7 119.1 L631.5 119.3 L632.4 119.4 L633.3 119.5 L634.1 119.6 L635 119.7 L635.8 119.8 L636.7 119.9 L637.6 120 L638.4 120 L639.3 120.1 L640.2 120.2 L641 120.3 L641.9 120.4 L642.7 120.4 L643.6 120.5 L644.5 120.6 L645.3 120.7 L646.2 120.7 L647 120.8 L647.9 120.9 L648.8 120.9 L649.6 121 L650.5 121.1 L651.4 121.1 L652.2 121.2 L653.1 121.2 L653.9 121.3 L654.8 121.4 L655.7 121.4 L656.5 121.5 L657.4 121.5 L658.3 121.6 L659.1 121.6 L660 121.7 L660.8 121.7 L661.7 121.8 L662.6 121.8 L663.4 121.8 L664.3 121.9 L665.1 121.9 L666 122 L666.9 122 L667.7 122.1 L668.6 122.1 L669.5 122.1 L670.3 122.2 L671.2 122.2 L672 122.3 L672.9 122.3 L673.8 122.3" fill="none" stroke="#cf1010" stroke-width="1.4" stroke-linejoin="round"/><path d="M491 125.9 L491.5 125.9 L491.9 125.9 L492.3 125.9 L492.7 125.9 L493.2 125.9 L493.6 125.9 L494 125.9 L494.5 125.9 L494.9 125.9 L495.3 125.9 L495.8 125.9 L496.2 125.9 L496.6 125.9 L497.1 125.9 L497.5 125.9 L497.9 125.9 L498.4 125.9 L498.8 125.9 L499.2 125.9 L499.6 125.9 L500.1 125.9 L500.5 125.9 L500.9 125.9 L501.4 125.9 L501.8 125.9 L502.2 122.9 L503.1 117.3 L504 112.2 L504.8 107.5 L505.7 103.1 L506.5 99.1 L507.4 95.4 L508.3 92 L509.1 88.9 L510 86.1 L510.9 83.5 L511.7 81 L512.6 78.8 L513.4 76.8 L514.3 74.9 L515.2 73.2 L516 71.6 L516.9 70.1 L517.7 68.8 L518.6 67.5 L519.5 66.4 L520.3 65.4 L521.2 64.4 L522.1 63.5 L522.9 62.7 L523.8 62 L524.6 61.3 L525.5 60.7 L526.4 60.1 L527.2 59.5 L528.1 59.1 L529 58.6 L529.8 58.2 L530.7 57.8 L531.5 57.5 L532.4 57.1 L533.3 56.8 L534.1 56.6 L535 56.3 L535.8 56.1 L536.7 55.9 L537.6 55.7 L538.4 55.5 L539.3 55.3 L540.2 55.2 L541 55.1 L541.9 54.9 L542.7 54.8 L543.6 54.7 L544.5 54.6 L545.3 54.5 L546.2 54.4 L547.1 54.4 L547.9 54.3 L548.8 54.2 L549.6 54.2 L550.5 54.1 L551.4 54 L552.2 54 L553.1 54 L554 55.3 L554.8 57.9 L555.7 60.4 L556.5 62.8 L557.4 65.1 L558.3 67.4 L559.1 69.5 L560 71.6 L560.8 73.5 L561.7 75.4 L562.6 77.2 L563.4 79 L564.3 80.6 L565.2 82.2 L566 83.8 L566.9 85.2 L567.7 86.7 L568.6 88 L569.5 89.3 L570.3 90.6 L571.2 91.8 L572.1 93 L572.9 94.1 L573.8 95.1 L574.6 96.2 L575.5 97.2 L576.4 98.1 L577.2 99 L578.1 99.9 L578.9 100.7 L579.8 101.5 L580.7 102.3 L581.5 103.1 L582.4 103.8 L583.3 104.5 L584.1 105.1 L585 105.8 L585.8 106.4 L586.7 107 L587.6 107.6 L588.4 108.1 L589.3 108.6 L590.2 109.1 L591 109.6 L591.9 110.1 L592.7 110.5 L593.6 111 L594.5 111.4 L595.3 111.8 L596.2 112.2 L597.1 112.5 L597.9 112.9 L598.8 113.2 L599.6 113.6 L600.5 113.9 L601.4 114.2 L602.2 114.5 L603.1 114.8 L603.9 115.1 L604.8 115.3 L605.7 115.6 L606.5 115.8 L607.4 116.1 L608.3 116.3 L609.1 116.5 L610 116.7 L610.8 116.9 L611.7 117.1 L612.6 117.3 L613.4 117.5 L614.3 117.7 L615.2 117.9 L616 118.1 L616.9 118.2 L617.7 118.4 L618.6 118.5 L619.5 118.7 L620.3 118.8 L621.2 118.9 L622 119.1 L622.9 119.2 L623.8 119.3 L624.6 119.5 L625.5 119.6 L626.4 119.7 L627.2 119.8 L628.1 119.9 L628.9 120 L629.8 120.1 L630.7 120.2 L631.5 120.3 L632.4 120.4 L633.3 120.5 L634.1 120.6 L635 120.6 L635.8 120.7 L636.7 120.8 L637.6 120.9 L638.4 121 L639.3 121 L640.2 121.1 L641 121.2 L641.9 121.2 L642.7 121.3 L643.6 121.4 L644.5 121.4 L645.3 121.5 L646.2 121.6 L647 121.6 L647.9 121.7 L648.8 121.7 L649.6 121.8 L650.5 121.8 L651.4 121.9 L652.2 121.9 L653.1 122 L653.9 122 L654.8 122.1 L655.7 122.1 L656.5 122.2 L657.4 122.2 L658.3 122.2 L659.1 122.3 L660 122.3 L660.8 122.4 L661.7 122.4 L662.6 122.4 L663.4 122.5 L664.3 122.5 L665.1 122.6 L666 122.6 L666.9 122.6 L667.7 122.7 L668.6 122.7 L669.5 122.7 L670.3 122.8 L671.2 122.8 L672 122.8 L672.9 122.9 L673.8 122.9" fill="none" stroke="#cf1010" stroke-width="1.4" stroke-linejoin="round"/><path d="M491 125.9 L491.5 125.9 L491.9 125.9 L492.3 125.9 L492.7 125.9 L493.2 125.9 L493.6 125.9 L494 125.9 L494.5 125.9 L494.9 125.9 L495.3 125.9 L495.8 125.9 L496.2 125.9 L496.6 125.9 L497.1 125.9 L497.5 125.9 L497.9 125.9 L498.4 125.9 L498.8 125.9 L499.2 125.9 L499.6 125.9 L500.1 125.9 L500.5 125.9 L500.9 125.9 L501.4 125.9 L501.8 125.9 L502.2 124.8 L503.1 122.7 L504 120.7 L504.8 118.8 L505.7 116.9 L506.5 115.2 L507.4 113.5 L508.3 111.9 L509.1 110.4 L510 109 L510.9 107.6 L511.7 106.3 L512.6 105 L513.4 103.9 L514.3 102.7 L515.2 101.6 L516 100.6 L516.9 99.6 L517.7 98.7 L518.6 97.8 L519.5 96.9 L520.3 96.1 L521.2 95.4 L522.1 94.6 L522.9 93.9 L523.8 93.3 L524.6 92.6 L525.5 92 L526.4 91.4 L527.2 90.9 L528.1 90.4 L529 89.9 L529.8 89.4 L530.7 88.9 L531.5 88.5 L532.4 88.1 L533.3 87.7 L534.1 87.3 L535 86.9 L535.8 86.6 L536.7 86.3 L537.6 86 L538.4 85.7 L539.3 85.4 L540.2 85.1 L541 84.9 L541.9 84.6 L542.7 84.4 L543.6 84.2 L544.5 84 L545.3 83.8 L546.2 83.6 L547.1 83.4 L547.9 83.2 L548.8 83 L549.6 82.9 L550.5 82.7 L551.4 82.6 L552.2 82.5 L553.1 82.3 L554 83.1 L554.8 84.7 L555.7 86.2 L556.5 87.7 L557.4 89.1 L558.3 90.4 L559.1 91.7 L560 92.9 L560.8 94.1 L561.7 95.3 L562.6 96.4 L563.4 97.4 L564.3 98.4 L565.2 99.4 L566 100.4 L566.9 101.2 L567.7 102.1 L568.6 102.9 L569.5 103.7 L570.3 104.5 L571.2 105.2 L572.1 105.9 L572.9 106.6 L573.8 107.2 L574.6 107.9 L575.5 108.5 L576.4 109 L577.2 109.6 L578.1 110.1 L578.9 110.6 L579.8 111.1 L580.7 111.6 L581.5 112.1 L582.4 112.5 L583.3 112.9 L584.1 113.3 L585 113.7 L585.8 114.1 L586.7 114.4 L587.6 114.8 L588.4 115.1 L589.3 115.4 L590.2 115.7 L591 116 L591.9 116.3 L592.7 116.6 L593.6 116.8 L594.5 117.1 L595.3 117.3 L596.2 117.6 L597.1 117.8 L597.9 118 L598.8 118.2 L599.6 118.4 L600.5 118.6 L601.4 118.8 L602.2 119 L603.1 119.2 L603.9 119.3 L604.8 119.5 L605.7 119.6 L606.5 119.8 L607.4 119.9 L608.3 120.1 L609.1 120.2 L610 120.3 L610.8 120.5 L611.7 120.6 L612.6 120.7 L613.4 120.8 L614.3 120.9 L615.2 121 L616 121.1 L616.9 121.2 L617.7 121.3 L618.6 121.4 L619.5 121.5 L620.3 121.6 L621.2 121.7 L622 121.8 L622.9 121.8 L623.8 121.9 L624.6 122 L625.5 122.1 L626.4 122.1 L627.2 122.2 L628.1 122.3 L628.9 122.3 L629.8 122.4 L630.7 122.4 L631.5 122.5 L632.4 122.6 L633.3 122.6 L634.1 122.7 L635 122.7 L635.8 122.8 L636.7 122.8 L637.6 122.9 L638.4 122.9 L639.3 122.9 L640.2 123 L641 123 L641.9 123.1 L642.7 123.1 L643.6 123.2 L644.5 123.2 L645.3 123.2 L646.2 123.3 L647 123.3 L647.9 123.3 L648.8 123.4 L649.6 123.4 L650.5 123.4 L651.4 123.5 L652.2 123.5 L653.1 123.5 L653.9 123.6 L654.8 123.6 L655.7 123.6 L656.5 123.6 L657.4 123.7 L658.3 123.7 L659.1 123.7 L660 123.7 L660.8 123.8 L661.7 123.8 L662.6 123.8 L663.4 123.8 L664.3 123.9 L665.1 123.9 L666 123.9 L666.9 123.9 L667.7 123.9 L668.6 124 L669.5 124 L670.3 124 L671.2 124 L672 124 L672.9 124.1 L673.8 124.1" fill="none" stroke="#cf1010" stroke-width="1.4" stroke-linejoin="round"/><path d="M491 125.9 L491.5 125.9 L491.9 125.9 L492.3 125.9 L492.7 125.9 L493.2 125.9 L493.6 125.9 L494 125.9 L494.5 125.9 L494.9 125.9 L495.3 125.9 L495.8 125.9 L496.2 125.9 L496.6 125.9 L497.1 125.9 L497.5 125.9 L497.9 125.9 L498.4 125.9 L498.8 125.9 L499.2 125.9 L499.6 125.9 L500.1 125.9 L500.5 125.9 L500.9 125.9 L501.4 125.9 L501.8 125.9 L502.2 125.4 L503.1 124.5 L504 123.6 L504.8 122.8 L505.7 121.9 L506.5 121.1 L507.4 120.4 L508.3 119.6 L509.1 118.9 L510 118.2 L510.9 117.5 L511.7 116.8 L512.6 116.2 L513.4 115.6 L514.3 115 L515.2 114.4 L516 113.8 L516.9 113.3 L517.7 112.7 L518.6 112.2 L519.5 111.7 L520.3 111.2 L521.2 110.8 L522.1 110.3 L522.9 109.9 L523.8 109.5 L524.6 109.1 L525.5 108.7 L526.4 108.3 L527.2 107.9 L528.1 107.5 L529 107.2 L529.8 106.9 L530.7 106.5 L531.5 106.2 L532.4 105.9 L533.3 105.6 L534.1 105.3 L535 105 L535.8 104.8 L536.7 104.5 L537.6 104.2 L538.4 104 L539.3 103.8 L540.2 103.5 L541 103.3 L541.9 103.1 L542.7 102.9 L543.6 102.7 L544.5 102.5 L545.3 102.3 L546.2 102.1 L547.1 101.9 L547.9 101.8 L548.8 101.6 L549.6 101.4 L550.5 101.3 L551.4 101.1 L552.2 101 L553.1 100.8 L554 101.2 L554.8 102.1 L555.7 103 L556.5 103.9 L557.4 104.7 L558.3 105.5 L559.1 106.2 L560 106.9 L560.8 107.6 L561.7 108.3 L562.6 108.9 L563.4 109.5 L564.3 110.1 L565.2 110.6 L566 111.2 L566.9 111.7 L567.7 112.2 L568.6 112.7 L569.5 113.1 L570.3 113.6 L571.2 114 L572.1 114.4 L572.9 114.8 L573.8 115.2 L574.6 115.5 L575.5 115.9 L576.4 116.2 L577.2 116.5 L578.1 116.8 L578.9 117.1 L579.8 117.4 L580.7 117.7 L581.5 117.9 L582.4 118.2 L583.3 118.4 L584.1 118.6 L585 118.9 L585.8 119.1 L586.7 119.3 L587.6 119.5 L588.4 119.7 L589.3 119.9 L590.2 120 L591 120.2 L591.9 120.4 L592.7 120.5 L593.6 120.7 L594.5 120.8 L595.3 121 L596.2 121.1 L597.1 121.2 L597.9 121.4 L598.8 121.5 L599.6 121.6 L600.5 121.7 L601.4 121.8 L602.2 121.9 L603.1 122 L603.9 122.1 L604.8 122.2 L605.7 122.3 L606.5 122.4 L607.4 122.5 L608.3 122.5 L609.1 122.6 L610 122.7 L610.8 122.8 L611.7 122.8 L612.6 122.9 L613.4 123 L614.3 123 L615.2 123.1 L616 123.2 L616.9 123.2 L617.7 123.3 L618.6 123.3 L619.5 123.4 L620.3 123.4 L621.2 123.5 L622 123.5 L622.9 123.6 L623.8 123.6 L624.6 123.6 L625.5 123.7 L626.4 123.7 L627.2 123.8 L628.1 123.8 L628.9 123.8 L629.8 123.9 L630.7 123.9 L631.5 123.9 L632.4 124 L633.3 124 L634.1 124 L635 124.1 L635.8 124.1 L636.7 124.1 L637.6 124.1 L638.4 124.2 L639.3 124.2 L640.2 124.2 L641 124.2 L641.9 124.3 L642.7 124.3 L643.6 124.3 L644.5 124.3 L645.3 124.4 L646.2 124.4 L647 124.4 L647.9 124.4 L648.8 124.4 L649.6 124.5 L650.5 124.5 L651.4 124.5 L652.2 124.5 L653.1 124.5 L653.9 124.5 L654.8 124.6 L655.7 124.6 L656.5 124.6 L657.4 124.6 L658.3 124.6 L659.1 124.6 L660 124.7 L660.8 124.7 L661.7 124.7 L662.6 124.7 L663.4 124.7 L664.3 124.7 L665.1 124.7 L666 124.7 L666.9 124.8 L667.7 124.8 L668.6 124.8 L669.5 124.8 L670.3 124.8 L671.2 124.8 L672 124.8 L672.9 124.8 L673.8 124.8" fill="none" stroke="#cf1010" stroke-width="1.4" stroke-linejoin="round"/><path d="M491 125.9 L491.5 125.9 L491.9 125.9 L492.3 125.9 L492.7 125.9 L493.2 125.9 L493.6 125.9 L494 125.9 L494.5 125.9 L494.9 125.9 L495.3 125.9 L495.8 125.9 L496.2 125.9 L496.6 125.9 L497.1 125.9 L497.5 125.9 L497.9 125.9 L498.4 125.9 L498.8 125.9 L499.2 125.9 L499.6 125.9 L500.1 125.9 L500.5 125.9 L500.9 125.9 L501.4 125.9 L501.8 125.9 L502.2 125.7 L503.1 125.2 L504 124.7 L504.8 124.2 L505.7 123.8 L506.5 123.3 L507.4 122.9 L508.3 122.5 L509.1 122.1 L510 121.7 L510.9 121.3 L511.7 120.9 L512.6 120.6 L513.4 120.2 L514.3 119.8 L515.2 119.5 L516 119.2 L516.9 118.8 L517.7 118.5 L518.6 118.2 L519.5 117.9 L520.3 117.6 L521.2 117.3 L522.1 117 L522.9 116.7 L523.8 116.5 L524.6 116.2 L525.5 115.9 L526.4 115.7 L527.2 115.4 L528.1 115.2 L529 115 L529.8 114.7 L530.7 114.5 L531.5 114.3 L532.4 114.1 L533.3 113.9 L534.1 113.7 L535 113.5 L535.8 113.3 L536.7 113.1 L537.6 112.9 L538.4 112.7 L539.3 112.5 L540.2 112.4 L541 112.2 L541.9 112 L542.7 111.9 L543.6 111.7 L544.5 111.6 L545.3 111.4 L546.2 111.3 L547.1 111.1 L547.9 111 L548.8 110.8 L549.6 110.7 L550.5 110.6 L551.4 110.5 L552.2 110.3 L553.1 110.2 L554 110.4 L554.8 111 L555.7 111.6 L556.5 112.1 L557.4 112.6 L558.3 113.1 L559.1 113.6 L560 114 L560.8 114.4 L561.7 114.8 L562.6 115.2 L563.4 115.6 L564.3 116 L565.2 116.3 L566 116.7 L566.9 117 L567.7 117.3 L568.6 117.6 L569.5 117.9 L570.3 118.2 L571.2 118.4 L572.1 118.7 L572.9 118.9 L573.8 119.2 L574.6 119.4 L575.5 119.6 L576.4 119.8 L577.2 120 L578.1 120.2 L578.9 120.4 L579.8 120.6 L580.7 120.7 L581.5 120.9 L582.4 121.1 L583.3 121.2 L584.1 121.4 L585 121.5 L585.8 121.6 L586.7 121.8 L587.6 121.9 L588.4 122 L589.3 122.1 L590.2 122.2 L591 122.3 L591.9 122.4 L592.7 122.5 L593.6 122.6 L594.5 122.7 L595.3 122.8 L596.2 122.9 L597.1 123 L597.9 123.1 L598.8 123.1 L599.6 123.2 L600.5 123.3 L601.4 123.3 L602.2 123.4 L603.1 123.5 L603.9 123.5 L604.8 123.6 L605.7 123.6 L606.5 123.7 L607.4 123.7 L608.3 123.8 L609.1 123.8 L610 123.9 L610.8 123.9 L611.7 124 L612.6 124 L613.4 124.1 L614.3 124.1 L615.2 124.1 L616 124.2 L616.9 124.2 L617.7 124.3 L618.6 124.3 L619.5 124.3 L620.3 124.3 L621.2 124.4 L622 124.4 L622.9 124.4 L623.8 124.5 L624.6 124.5 L625.5 124.5 L626.4 124.5 L627.2 124.6 L628.1 124.6 L628.9 124.6 L629.8 124.6 L630.7 124.7 L631.5 124.7 L632.4 124.7 L633.3 124.7 L634.1 124.7 L635 124.8 L635.8 124.8 L636.7 124.8 L637.6 124.8 L638.4 124.8 L639.3 124.8 L640.2 124.9 L641 124.9 L641.9 124.9 L642.7 124.9 L643.6 124.9 L644.5 124.9 L645.3 124.9 L646.2 124.9 L647 125 L647.9 125 L648.8 125 L649.6 125 L650.5 125 L651.4 125 L652.2 125 L653.1 125 L653.9 125.1 L654.8 125.1 L655.7 125.1 L656.5 125.1 L657.4 125.1 L658.3 125.1 L659.1 125.1 L660 125.1 L660.8 125.1 L661.7 125.1 L662.6 125.1 L663.4 125.2 L664.3 125.2 L665.1 125.2 L666 125.2 L666.9 125.2 L667.7 125.2 L668.6 125.2 L669.5 125.2 L670.3 125.2 L671.2 125.2 L672 125.2 L672.9 125.2 L673.8 125.2" fill="none" stroke="#cf1010" stroke-width="1.4" stroke-linejoin="round"/></g><path d="M491.5 9.7 V133.1 H674.8" fill="none" stroke="#000" stroke-width="1.3"/><path d="M488 125.9 H491.5" stroke="#000" stroke-width="1.2"/><text x="485.9" y="129" font-size="9.1" font-weight="bold" text-anchor="end">0</text><path d="M488 97 H491.5" stroke="#000" stroke-width="1.2"/><text x="485.9" y="100.1" font-size="9.1" font-weight="bold" text-anchor="end">20</text><path d="M488 68.1 H491.5" stroke="#000" stroke-width="1.2"/><text x="485.9" y="71.2" font-size="9.1" font-weight="bold" text-anchor="end">40</text><path d="M488 39.2 H491.5" stroke="#000" stroke-width="1.2"/><text x="485.9" y="42.3" font-size="9.1" font-weight="bold" text-anchor="end">60</text><path d="M488 10.3 H491.5" stroke="#000" stroke-width="1.2"/><text x="485.9" y="13.4" font-size="9.1" font-weight="bold" text-anchor="end">80</text><path d="M501.8 133.1 V136.6" stroke="#000" stroke-width="1.2"/><text x="501.8" y="146.9" font-size="9.1" font-weight="bold" text-anchor="middle">0</text><path d="M544.9 133.1 V136.6" stroke="#000" stroke-width="1.2"/><text x="544.9" y="146.9" font-size="9.1" font-weight="bold" text-anchor="middle">100</text><path d="M588 133.1 V136.6" stroke="#000" stroke-width="1.2"/><text x="588" y="146.9" font-size="9.1" font-weight="bold" text-anchor="middle">200</text><path d="M631.1 133.1 V136.6" stroke="#000" stroke-width="1.2"/><text x="631.1" y="146.9" font-size="9.1" font-weight="bold" text-anchor="middle">300</text><path d="M674.2 133.1 V136.6" stroke="#000" stroke-width="1.2"/><text x="674.2" y="146.9" font-size="9.1" font-weight="bold" text-anchor="middle">400</text><text x="580.9" y="159.1" font-size="11.5" text-anchor="middle">Time (s)</text><text transform="translate(467 68.2) rotate(-90)" font-size="11.5" text-anchor="middle">Response (RU)</text><text x="580.6" y="10" font-size="11.4" text-anchor="middle">Q101K</text><text x="567.2" y="25.5" font-size="8.75"><tspan font-style="italic">k</tspan><tspan font-size="5.0" dy="2">on</tspan><tspan dy="-2"> = 2.7 (±0.9) × 10</tspan><tspan font-size="5.0" dy="-3.5">6</tspan><tspan dy="3.5"> M</tspan><tspan font-size="5.0" dy="-3.5">-1</tspan><tspan dy="3.5">s</tspan><tspan font-size="5.0" dy="-3.5">-1</tspan></text><text x="567.2" y="38.5" font-size="8.75"><tspan font-style="italic">k</tspan><tspan font-size="5.0" dy="2">off</tspan><tspan dy="-2"> = 2.0 (±0.2) × 10</tspan><tspan font-size="5.0" dy="-3.5">-2</tspan><tspan dy="3.5"> s</tspan><tspan font-size="5.0" dy="-3.5">-1</tspan></text><text x="567.2" y="51.5" font-size="8.75"><tspan font-style="italic">K</tspan><tspan font-size="5.0" dy="2">D</tspan><tspan dy="-2"> = 7.6 (±1.9) nM</tspan></text><text x="651.5" y="74.6" font-size="9" text-anchor="middle">10 nM</text><text x="651.5" y="103.1" font-size="9" text-anchor="middle">0.5 nM</text><path d="M651.5 77.5 V90.6" stroke="#000" stroke-width="1.7"/><path d="M646.7 88.2 L651.5 89.9 L656.3 88.2 L651.5 93.9 Z" fill="#000"/><g><path d="M35.3 306.3 L35.8 306.3 L36.4 306.3 L36.9 306.3 L37.4 306.3 L37.9 306.3 L38.4 306.3 L38.9 306.3 L39.5 306.3 L40 306.3 L40.5 306.3 L41 306.3 L41.5 306.3 L42 306.3 L42.6 306.3 L43.1 306.3 L43.6 306.3 L44.1 306.3 L44.6 306.3 L45.2 306.3 L45.7 306.3 L46.2 304.9 L46.7 300.2 L47.2 294.6 L47.7 289.8 L48.3 285.7 L48.8 280.7 L49.3 276.9 L49.8 274 L50.3 269.5 L50.8 266.1 L51.4 262.8 L51.9 259.8 L52.4 256.8 L52.9 254.8 L53.4 250.7 L53.9 248.6 L54.5 246.2 L55 244.3 L55.5 242.1 L56 240.3 L56.5 238.8 L57 237.3 L57.6 234.9 L58.1 233 L58.6 231.9 L59.1 229.9 L59.6 229.9 L60.2 228.2 L60.7 227.2 L61.2 225.3 L61.7 224 L62.2 224 L62.7 222.6 L63.3 222.1 L63.8 221.6 L64.3 220.5 L64.8 220.2 L65.3 218.3 L65.8 218.1 L66.4 217.2 L66.9 217 L67.4 217.7 L67.9 215.7 L68.4 215.6 L68.9 216.2 L69.5 214.7 L70 213.9 L70.5 213.2 L71 214 L71.5 212.9 L72 212.7 L72.6 212.6 L73.1 212.4 L73.6 211.8 L74.1 211.5 L74.6 211.2 L75.1 211.5 L75.7 211.6 L76.2 210.3 L76.7 210.1 L77.2 210.7 L77.7 210.3 L78.3 209.8 L78.8 210.7 L79.3 209.6 L79.8 208.7 L80.3 209.4 L80.8 209.7 L81.4 208.4 L81.9 209.2 L82.4 209 L82.9 209.2 L83.4 208.8 L83.9 209.6 L84.5 209.3 L85 209.3 L85.5 208.2 L86 208.6 L86.5 208 L87 209.3 L87.6 208.6 L88.1 207.7 L88.6 208.6 L89.1 209 L89.6 208.5 L90.1 208.3 L90.7 208.1 L91.2 207.5 L91.7 207.4 L92.2 207.3 L92.7 207.7 L93.3 208.1 L93.8 208.1 L94.3 208.5 L94.8 207.3 L95.3 207.3 L95.8 207.7 L96.4 208.1 L96.9 207.4 L97.4 207.5 L97.9 208 L98.4 211 L98.9 212.7 L99.5 215.3 L100 216.9 L100.5 219.1 L101 221.3 L101.5 223.7 L102 224.8 L102.6 227 L103.1 228.6 L103.6 230.7 L104.1 232.5 L104.6 234.3 L105.1 236.6 L105.7 238.6 L106.2 239.8 L106.7 240.7 L107.2 242 L107.7 243.8 L108.3 245.3 L108.8 245.9 L109.3 248.2 L109.8 250.1 L110.3 251.3 L110.8 252 L111.4 252.7 L111.9 253.9 L112.4 255.5 L112.9 256.1 L113.4 257.6 L113.9 258.9 L114.5 259.8 L115 260.3 L115.5 261.2 L116 263 L116.5 263.9 L117 264.3 L117.6 264.3 L118.1 266.6 L118.6 267.5 L119.1 267.5 L119.6 268.3 L120.1 269.5 L120.7 270 L121.2 270.5 L121.7 272.2 L122.2 272.1 L122.7 272.5 L123.2 273 L123.8 273.4 L124.3 274.7 L124.8 276.1 L125.3 275.2 L125.8 276 L126.4 277.3 L126.9 277 L127.4 277.5 L127.9 278.7 L128.4 280.3 L128.9 279.8 L129.5 280.4 L130 281 L130.5 281 L131 282 L131.5 281.6 L132 281.2 L132.6 283.3 L133.1 282.5 L133.6 283.7 L134.1 283.5 L134.6 284.2 L135.1 283.8 L135.7 285.2 L136.2 284.8 L136.7 285.9 L137.2 285.7 L137.7 286.2 L138.2 285.9 L138.8 287.6 L139.3 287.8 L139.8 286.6 L140.3 287.4 L140.8 287 L141.4 288.7 L141.9 288.3 L142.4 288.3 L142.9 287.9 L143.4 289.1 L143.9 289.6 L144.5 289.2 L145 289.8 L145.5 290.4 L146 289.8 L146.5 291.4 L147 291.1 L147.6 290.1 L148.1 291.3 L148.6 291.3 L149.1 291.2 L149.6 290.9 L150.1 291.4 L150.7 292.4 L151.2 292.3 L151.7 291.6 L152.2 292.4 L152.7 292.8 L153.2 292.2 L153.8 292.2 L154.3 291.8 L154.8 293.6 L155.3 293.6 L155.8 293.7 L156.3 293.3 L156.9 293.8 L157.4 293.1 L157.9 295.3 L158.4 293.4 L158.9 294.4 L159.5 294.3 L160 294 L160.5 294.3 L161 295 L161.5 293.8 L162 294.4 L162.6 295.1 L163.1 294.8 L163.6 295.6 L164.1 295.7 L164.6 295.3 L165.1 295.1 L165.7 295.3 L166.2 295.8 L166.7 296.2 L167.2 296.5 L167.7 294.8 L168.2 295.5 L168.8 296.2 L169.3 295.3 L169.8 295.7 L170.3 296.3 L170.8 296.4 L171.3 295.6 L171.9 296.1 L172.4 295.4 L172.9 296.2 L173.4 296.7 L173.9 296.8 L174.5 296.9 L175 296.5 L175.5 296.5 L176 296.4 L176.5 296.5 L177 297.4 L177.6 297 L178.1 297.4 L178.6 296.7 L179.1 297.7 L179.6 297.4 L180.1 297.6 L180.7 297.5 L181.2 297.4 L181.7 296.5 L182.2 297.5 L182.7 298.2 L183.2 297.6 L183.8 297.1 L184.3 297.2 L184.8 297.4 L185.3 296.6 L185.8 297 L186.3 297.6 L186.9 297.1 L187.4 298.5 L187.9 297.9 L188.4 298.3 L188.9 297.8 L189.5 297.1 L190 298.2 L190.5 297.1 L191 298.6 L191.5 297.3 L192 299 L192.6 298.6 L193.1 297.6 L193.6 298.2 L194.1 298.1 L194.6 298.3 L195.1 298.2 L195.7 298.4 L196.2 298.9 L196.7 298.5 L197.2 298.3 L197.7 298.9 L198.2 298.2 L198.8 297.6 L199.3 299.4 L199.8 298.8 L200.3 298.7 L200.8 298.6 L201.3 298.6 L201.9 299 L202.4 298.7 L202.9 298.7 L203.4 298.8 L203.9 298 L204.4 298.7 L205 299.6 L205.5 299.7 L206 298.6 L206.5 299.1 L207 299.2 L207.6 299.7 L208.1 299.1 L208.6 299 L209.1 299.4 L209.6 299.2 L210.1 298.6 L210.7 298.7 L211.2 298.8 L211.7 299.2 L212.2 299.9 L212.7 298.8 L213.2 298.4 L213.8 298.5 L214.3 298.6 L214.8 299.1 L215.3 299.1 L215.8 299.3 L216.3 298.7 L216.9 299.5 L217.4 298.2 L217.9 299 L218.4 299.6" fill="none" stroke="#000" stroke-width="2.5" stroke-linejoin="round"/><path d="M97.8 208.2 V204.5" stroke="#000" stroke-width="1.5"/><path d="M35.3 306.3 L35.8 306.3 L36.4 306.3 L36.9 306.3 L37.4 306.3 L37.9 306.3 L38.4 306.3 L38.9 306.3 L39.5 306.3 L40 306.3 L40.5 306.3 L41 306.3 L41.5 306.3 L42 306.3 L42.6 306.3 L43.1 306.3 L43.6 306.3 L44.1 306.3 L44.6 306.3 L45.2 306.3 L45.7 306.3 L46.2 305.5 L46.7 301.7 L47.2 297 L47.7 292.7 L48.3 287.7 L48.8 285.5 L49.3 281.3 L49.8 278.4 L50.3 275.4 L50.8 272.1 L51.4 270.5 L51.9 266.6 L52.4 263.7 L52.9 262.1 L53.4 260 L53.9 257.8 L54.5 255.6 L55 254.2 L55.5 252.2 L56 250.3 L56.5 249.1 L57 247.3 L57.6 245.9 L58.1 244.4 L58.6 243.8 L59.1 242.4 L59.6 241.2 L60.2 239.5 L60.7 238.8 L61.2 238.7 L61.7 237.6 L62.2 235.4 L62.7 235.2 L63.3 235.2 L63.8 234.3 L64.3 233.1 L64.8 231.9 L65.3 231.2 L65.8 231.5 L66.4 230.9 L66.9 229.4 L67.4 230.1 L67.9 228.6 L68.4 228.7 L68.9 228.3 L69.5 227.4 L70 227.4 L70.5 227.6 L71 227.6 L71.5 226.6 L72 226.1 L72.6 225.4 L73.1 226.9 L73.6 224.9 L74.1 224.9 L74.6 224.3 L75.1 224.4 L75.7 224.5 L76.2 224.2 L76.7 224 L77.2 224.3 L77.7 223.9 L78.3 223.6 L78.8 223.7 L79.3 224 L79.8 223.9 L80.3 222.9 L80.8 222.8 L81.4 222.9 L81.9 223.3 L82.4 222.3 L82.9 222.8 L83.4 223.4 L83.9 221.7 L84.5 223 L85 221.3 L85.5 222 L86 222.3 L86.5 223.1 L87 222.3 L87.6 221.3 L88.1 221.3 L88.6 221.7 L89.1 222.5 L89.6 221.9 L90.1 221.8 L90.7 221.5 L91.2 221.7 L91.7 221.4 L92.2 222.2 L92.7 221.8 L93.3 220.9 L93.8 222.1 L94.3 221 L94.8 220.4 L95.3 221.1 L95.8 222 L96.4 220.8 L96.9 222.1 L97.4 221.1 L97.9 221.6 L98.4 222.1 L98.9 223.2 L99.5 224.8 L100 225.2 L100.5 226.6 L101 228.3 L101.5 229.6 L102 229.1 L102.6 231.4 L103.1 232 L103.6 233.3 L104.1 234.6 L104.6 236.8 L105.1 237.8 L105.7 239.4 L106.2 240.5 L106.7 242.7 L107.2 244.7 L107.7 245.9 L108.3 246.9 L108.8 248.2 L109.3 249.3 L109.8 251.1 L110.3 252 L110.8 253.4 L111.4 253.9 L111.9 255.8 L112.4 256.9 L112.9 257.8 L113.4 258.6 L113.9 260.6 L114.5 261.4 L115 262.4 L115.5 264.1 L116 263.6 L116.5 264.6 L117 266 L117.6 265.4 L118.1 267.1 L118.6 267.6 L119.1 268.6 L119.6 269.7 L120.1 271.5 L120.7 270.9 L121.2 272.2 L121.7 273.6 L122.2 273.7 L122.7 274.1 L123.2 274.6 L123.8 275.6 L124.3 276.6 L124.8 276.5 L125.3 277.9 L125.8 278.1 L126.4 278.2 L126.9 279.9 L127.4 279.5 L127.9 281.2 L128.4 281.2 L128.9 281.8 L129.5 281.7 L130 281.7 L130.5 282.6 L131 282.5 L131.5 283.4 L132 283.9 L132.6 284 L133.1 284.8 L133.6 284.9 L134.1 284.8 L134.6 286.1 L135.1 285.5 L135.7 287 L136.2 286.9 L136.7 288 L137.2 287.7 L137.7 286.9 L138.2 287.9 L138.8 287.7 L139.3 289.4 L139.8 289.5 L140.3 289 L140.8 289 L141.4 289.3 L141.9 290.9 L142.4 290 L142.9 290.5 L143.4 290.6 L143.9 290.7 L144.5 291.3 L145 292.3 L145.5 292.2 L146 292.6 L146.5 292.7 L147 292.3 L147.6 291.7 L148.1 293 L148.6 293.2 L149.1 293.6 L149.6 294.1 L150.1 293.3 L150.7 293.7 L151.2 293.8 L151.7 294.3 L152.2 293.7 L152.7 294.7 L153.2 294 L153.8 294.7 L154.3 294.1 L154.8 295.1 L155.3 294.6 L155.8 294.7 L156.3 295.1 L156.9 294.3 L157.4 295.2 L157.9 295.9 L158.4 295.2 L158.9 296.1 L159.5 296.1 L160 295.9 L160.5 295.9 L161 295.2 L161.5 297.1 L162 296.4 L162.6 295.8 L163.1 296.5 L163.6 296.4 L164.1 295.8 L164.6 297.4 L165.1 296.7 L165.7 296.4 L166.2 297.2 L166.7 297.9 L167.2 297.6 L167.7 297 L168.2 297.1 L168.8 296.3 L169.3 296.6 L169.8 298.2 L170.3 296.9 L170.8 297 L171.3 296.7 L171.9 297.7 L172.4 298 L172.9 297.7 L173.4 297 L173.9 297.5 L174.5 297 L175 297.5 L175.5 298.3 L176 298.6 L176.5 297.1 L177 298.9 L177.6 298.4 L178.1 298.4 L178.6 298.8 L179.1 298.6 L179.6 298.4 L180.1 297.1 L180.7 298.5 L181.2 298.8 L181.7 298.5 L182.2 298.1 L182.7 299 L183.2 298.9 L183.8 299.6 L184.3 298.4 L184.8 298.4 L185.3 298 L185.8 299.5 L186.3 297.7 L186.9 298.4 L187.4 299.1 L187.9 299.2 L188.4 299.2 L188.9 299.7 L189.5 298.7 L190 299.4 L190.5 299.5 L191 298.9 L191.5 299.1 L192 299.5 L192.6 299.4 L193.1 299.5 L193.6 298.6 L194.1 298.8 L194.6 299.7 L195.1 299.4 L195.7 298.7 L196.2 299.6 L196.7 298.5 L197.2 299.3 L197.7 299.2 L198.2 300.7 L198.8 299.1 L199.3 299.4 L199.8 299.3 L200.3 299.4 L200.8 299.4 L201.3 300 L201.9 299.2 L202.4 299.7 L202.9 300.3 L203.4 300.3 L203.9 299.7 L204.4 299.6 L205 301 L205.5 301 L206 299.3 L206.5 299.9 L207 298.4 L207.6 300.8 L208.1 300.1 L208.6 300.3 L209.1 299.7 L209.6 299.3 L210.1 299.2 L210.7 300.6 L211.2 299.4 L211.7 300.8 L212.2 300 L212.7 300.1 L213.2 299.8 L213.8 300.6 L214.3 299.5 L214.8 300.3 L215.3 300.3 L215.8 300.4 L216.3 300.8 L216.9 299.9 L217.4 300.1 L217.9 300.1 L218.4 299.4" fill="none" stroke="#000" stroke-width="2.5" stroke-linejoin="round"/><path d="M97.8 221.8 V218.1" stroke="#000" stroke-width="1.5"/><path d="M35.3 306.3 L35.8 306.3 L36.4 306.3 L36.9 306.3 L37.4 306.3 L37.9 306.3 L38.4 306.3 L38.9 306.3 L39.5 306.3 L40 306.3 L40.5 306.3 L41 306.3 L41.5 306.3 L42 306.3 L42.6 306.3 L43.1 306.3 L43.6 306.3 L44.1 306.3 L44.6 306.3 L45.2 306.3 L45.7 306.3 L46.2 306.1 L46.7 302.2 L47.2 298.6 L47.7 295 L48.3 292.4 L48.8 289 L49.3 286.4 L49.8 284.7 L50.3 281.7 L50.8 279.9 L51.4 276.9 L51.9 274.8 L52.4 272.3 L52.9 270.6 L53.4 268.8 L53.9 266.5 L54.5 265.1 L55 264.3 L55.5 262.6 L56 260.7 L56.5 258.8 L57 258.3 L57.6 257.1 L58.1 255.8 L58.6 254.4 L59.1 253.8 L59.6 252.6 L60.2 252 L60.7 251.1 L61.2 250.4 L61.7 248.9 L62.2 248.7 L62.7 247.5 L63.3 246.9 L63.8 246 L64.3 246.9 L64.8 245.6 L65.3 245.1 L65.8 244.1 L66.4 243.2 L66.9 242 L67.4 242 L67.9 241.6 L68.4 241.6 L68.9 241.6 L69.5 240.8 L70 241.6 L70.5 239.9 L71 240 L71.5 239.4 L72 239.9 L72.6 239.6 L73.1 239.2 L73.6 238.7 L74.1 238.3 L74.6 238.3 L75.1 237.8 L75.7 237.5 L76.2 238.1 L76.7 237.4 L77.2 237.9 L77.7 237.3 L78.3 236.5 L78.8 237.1 L79.3 235.8 L79.8 236.3 L80.3 236 L80.8 236.2 L81.4 235.8 L81.9 235.5 L82.4 235.9 L82.9 236.1 L83.4 236 L83.9 234.8 L84.5 235.6 L85 235.7 L85.5 235.7 L86 236.1 L86.5 235.5 L87 235.1 L87.6 235.4 L88.1 235.4 L88.6 234.8 L89.1 234.8 L89.6 235.1 L90.1 234.7 L90.7 235.3 L91.2 234.4 L91.7 235.2 L92.2 234.9 L92.7 234.6 L93.3 234.8 L93.8 235.1 L94.3 233.7 L94.8 233.9 L95.3 235.3 L95.8 234.4 L96.4 235 L96.9 234.3 L97.4 235 L97.9 234.3 L98.4 235.3 L98.9 235.7 L99.5 236.9 L100 238.6 L100.5 238.9 L101 240.4 L101.5 241.1 L102 242.2 L102.6 243.6 L103.1 243.4 L103.6 245.4 L104.1 245.4 L104.6 245.9 L105.1 246.9 L105.7 248.4 L106.2 248.8 L106.7 249 L107.2 249.5 L107.7 250.1 L108.3 252.3 L108.8 252 L109.3 253.1 L109.8 253.3 L110.3 255.1 L110.8 255.1 L111.4 255.9 L111.9 257.7 L112.4 258.7 L112.9 260.1 L113.4 260.3 L113.9 262.4 L114.5 263.2 L115 264 L115.5 264.9 L116 264.8 L116.5 266.5 L117 267.9 L117.6 268.2 L118.1 269.1 L118.6 270 L119.1 271 L119.6 271.5 L120.1 273 L120.7 273.7 L121.2 274.1 L121.7 275.1 L122.2 275 L122.7 275.1 L123.2 276.1 L123.8 277 L124.3 277.7 L124.8 278.9 L125.3 279.8 L125.8 279.4 L126.4 281 L126.9 280.6 L127.4 281.3 L127.9 281.4 L128.4 282.3 L128.9 282.7 L129.5 283.6 L130 284.6 L130.5 284.3 L131 284.2 L131.5 284.5 L132 284.7 L132.6 286.4 L133.1 286.7 L133.6 286.2 L134.1 287.2 L134.6 286 L135.1 287.5 L135.7 288.9 L136.2 288.7 L136.7 287.9 L137.2 290 L137.7 289.3 L138.2 290.4 L138.8 289.1 L139.3 290.5 L139.8 291.1 L140.3 291.7 L140.8 291.4 L141.4 292.7 L141.9 291.8 L142.4 290.7 L142.9 292 L143.4 292.5 L143.9 293.2 L144.5 292.6 L145 293.2 L145.5 293.7 L146 292.7 L146.5 293.4 L147 294.3 L147.6 293.2 L148.1 294.2 L148.6 294.1 L149.1 294.5 L149.6 294.1 L150.1 294.6 L150.7 295.3 L151.2 294.8 L151.7 295.6 L152.2 295.5 L152.7 294.8 L153.2 296.4 L153.8 296.5 L154.3 296.3 L154.8 296.5 L155.3 295.7 L155.8 297.4 L156.3 295.4 L156.9 295.9 L157.4 297.2 L157.9 296.9 L158.4 297.3 L158.9 296.9 L159.5 297 L160 297.1 L160.5 297.2 L161 296.7 L161.5 297.9 L162 297.5 L162.6 298 L163.1 298 L163.6 297.9 L164.1 298.1 L164.6 298 L165.1 298.7 L165.7 298.4 L166.2 298.7 L166.7 299.1 L167.2 298.9 L167.7 298.8 L168.2 298.7 L168.8 299.5 L169.3 298.8 L169.8 299.4 L170.3 299.3 L170.8 298.8 L171.3 298.3 L171.9 298.8 L172.4 299.3 L172.9 299.3 L173.4 298.4 L173.9 300 L174.5 298.6 L175 300 L175.5 299.6 L176 299.3 L176.5 299.5 L177 298.5 L177.6 299.2 L178.1 299.5 L178.6 299 L179.1 299.5 L179.6 300 L180.1 299 L180.7 298.9 L181.2 299 L181.7 300.4 L182.2 298.7 L182.7 300 L183.2 299.4 L183.8 299.2 L184.3 298.6 L184.8 300.8 L185.3 300.5 L185.8 299.4 L186.3 299.8 L186.9 300.2 L187.4 301.6 L187.9 299.9 L188.4 300.2 L188.9 301.6 L189.5 298.7 L190 301.6 L190.5 300.5 L191 300.3 L191.5 300.2 L192 299.9 L192.6 300.5 L193.1 300.8 L193.6 300.6 L194.1 301.5 L194.6 301 L195.1 299.4 L195.7 300.8 L196.2 300.5 L196.7 299.5 L197.2 300 L197.7 300.5 L198.2 300.2 L198.8 300.8 L199.3 301.1 L199.8 300.1 L200.3 300.6 L200.8 299.8 L201.3 300.9 L201.9 300.9 L202.4 300.6 L202.9 300.9 L203.4 301 L203.9 301.3 L204.4 300.7 L205 300.7 L205.5 299.9 L206 300.9 L206.5 301.8 L207 300.7 L207.6 299.7 L208.1 301.2 L208.6 301.4 L209.1 301.1 L209.6 302.5 L210.1 301.2 L210.7 301.1 L211.2 301.9 L211.7 300.8 L212.2 301.6 L212.7 302.1 L213.2 301.5 L213.8 300.8 L214.3 300.1 L214.8 300.5 L215.3 301.1 L215.8 301.5 L216.3 301.3 L216.9 300.7 L217.4 301.5 L217.9 301 L218.4 300.7" fill="none" stroke="#000" stroke-width="2.5" stroke-linejoin="round"/><path d="M97.8 234.9 V231.2" stroke="#000" stroke-width="1.5"/><path d="M35.3 306.3 L35.8 306.3 L36.4 306.3 L36.9 306.3 L37.4 306.3 L37.9 306.3 L38.4 306.3 L38.9 306.3 L39.5 306.3 L40 306.3 L40.5 306.3 L41 306.3 L41.5 306.3 L42 306.3 L42.6 306.3 L43.1 306.3 L43.6 306.3 L44.1 306.3 L44.6 306.3 L45.2 306.3 L45.7 306.3 L46.2 306.5 L46.7 305 L47.2 303.3 L47.7 302.2 L48.3 301.1 L48.8 300.1 L49.3 298.7 L49.8 296.8 L50.3 295.9 L50.8 296.2 L51.4 294.4 L51.9 293.4 L52.4 292.5 L52.9 292.2 L53.4 290.7 L53.9 289.7 L54.5 289.2 L55 288 L55.5 288.4 L56 287.2 L56.5 285.7 L57 284.8 L57.6 284.4 L58.1 283.8 L58.6 282.8 L59.1 281.8 L59.6 281.2 L60.2 281 L60.7 280.6 L61.2 279.3 L61.7 279 L62.2 278.3 L62.7 278.2 L63.3 278 L63.8 277 L64.3 276.9 L64.8 275.6 L65.3 275.3 L65.8 276.2 L66.4 274.5 L66.9 273.7 L67.4 273.4 L67.9 273.7 L68.4 273.5 L68.9 272.3 L69.5 271.9 L70 272 L70.5 272.1 L71 272 L71.5 270.9 L72 271 L72.6 270.6 L73.1 269.8 L73.6 269.3 L74.1 270.4 L74.6 269.5 L75.1 268.3 L75.7 268.7 L76.2 268.5 L76.7 267.9 L77.2 268.4 L77.7 268.2 L78.3 267.4 L78.8 266.5 L79.3 266.5 L79.8 266.8 L80.3 266.1 L80.8 266.6 L81.4 266.7 L81.9 266.7 L82.4 265.7 L82.9 265.3 L83.4 265.3 L83.9 265.3 L84.5 265.3 L85 264.5 L85.5 264.9 L86 265.3 L86.5 264 L87 264.7 L87.6 264.1 L88.1 264.1 L88.6 263.6 L89.1 263.8 L89.6 263.2 L90.1 263.6 L90.7 263.8 L91.2 263.7 L91.7 263 L92.2 263.6 L92.7 262.7 L93.3 263.1 L93.8 263.3 L94.3 263.2 L94.8 262.8 L95.3 261.9 L95.8 262.2 L96.4 262.5 L96.9 262.8 L97.4 261.5 L97.9 262.5 L98.4 263.4 L98.9 264.5 L99.5 264.6 L100 266 L100.5 267.2 L101 267.7 L101.5 269.1 L102 269.9 L102.6 270.3 L103.1 272.3 L103.6 271.2 L104.1 271.6 L104.6 273.7 L105.1 274 L105.7 275.3 L106.2 275.2 L106.7 275.9 L107.2 276.3 L107.7 277.8 L108.3 278.1 L108.8 278.7 L109.3 279.1 L109.8 278.6 L110.3 280.3 L110.8 280.7 L111.4 281.5 L111.9 281.4 L112.4 281.2 L112.9 282.3 L113.4 282.6 L113.9 284.3 L114.5 283.8 L115 284.7 L115.5 284.6 L116 285.1 L116.5 285.7 L117 287.2 L117.6 286.8 L118.1 287.5 L118.6 287.5 L119.1 288 L119.6 287.9 L120.1 289.5 L120.7 289.5 L121.2 289.5 L121.7 289.7 L122.2 290.3 L122.7 290.5 L123.2 290.8 L123.8 290.6 L124.3 291.5 L124.8 291.6 L125.3 293 L125.8 293.7 L126.4 293.4 L126.9 292.7 L127.4 294.4 L127.9 293.2 L128.4 293.7 L128.9 293.9 L129.5 294.6 L130 294.6 L130.5 294.2 L131 294.7 L131.5 295.1 L132 295.6 L132.6 295.4 L133.1 295.1 L133.6 296 L134.1 296.3 L134.6 297 L135.1 296.5 L135.7 297.2 L136.2 297.7 L136.7 296.6 L137.2 297.6 L137.7 298.5 L138.2 298 L138.8 296.8 L139.3 298 L139.8 298.8 L140.3 298.8 L140.8 298 L141.4 298.3 L141.9 298.6 L142.4 298.9 L142.9 298.7 L143.4 298.3 L143.9 299 L144.5 299.4 L145 300.2 L145.5 299.4 L146 298.9 L146.5 299.5 L147 300.6 L147.6 300 L148.1 299.5 L148.6 300.6 L149.1 300.1 L149.6 299.8 L150.1 299.7 L150.7 301.6 L151.2 301.7 L151.7 300.7 L152.2 300.6 L152.7 301.3 L153.2 301.2 L153.8 301.5 L154.3 300.7 L154.8 302.6 L155.3 301.4 L155.8 302.3 L156.3 302 L156.9 302.6 L157.4 302.3 L157.9 301.9 L158.4 301.9 L158.9 301.1 L159.5 302.2 L160 302 L160.5 302 L161 302.2 L161.5 301.6 L162 302.4 L162.6 302.4 L163.1 302.6 L163.6 302.6 L164.1 302.7 L164.6 302.2 L165.1 302.8 L165.7 302.8 L166.2 302.9 L166.7 302.5 L167.2 303.2 L167.7 302.5 L168.2 303.4 L168.8 302.7 L169.3 302.1 L169.8 303.1 L170.3 303.3 L170.8 303.9 L171.3 302.9 L171.9 303.4 L172.4 302.9 L172.9 303.8 L173.4 303.2 L173.9 302.6 L174.5 303.4 L175 303.8 L175.5 304.4 L176 303.7 L176.5 303.4 L177 303.4 L177.6 304.4 L178.1 304.4 L178.6 304.4 L179.1 304.4 L179.6 304.1 L180.1 303.8 L180.7 302.9 L181.2 303.9 L181.7 303.2 L182.2 305 L182.7 303.3 L183.2 303.7 L183.8 303.9 L184.3 303.7 L184.8 303.9 L185.3 303.2 L185.8 303.8 L186.3 305.2 L186.9 305.2 L187.4 303.4 L187.9 304.4 L188.4 303.6 L188.9 304.6 L189.5 304.8 L190 304.6 L190.5 304.3 L191 304.4 L191.5 304.8 L192 304.2 L192.6 304.2 L193.1 305 L193.6 305.2 L194.1 305.6 L194.6 304.8 L195.1 304.6 L195.7 305 L196.2 305 L196.7 304.7 L197.2 304.7 L197.7 304.4 L198.2 304.3 L198.8 304.5 L199.3 304.1 L199.8 305.3 L200.3 304.4 L200.8 304.6 L201.3 305.4 L201.9 305.2 L202.4 304.6 L202.9 304.8 L203.4 305.5 L203.9 305.2 L204.4 304 L205 304.4 L205.5 304.9 L206 304.2 L206.5 305.4 L207 305 L207.6 304.4 L208.1 305.1 L208.6 305.6 L209.1 304.7 L209.6 304.1 L210.1 306.4 L210.7 304.9 L211.2 305.7 L211.7 305.2 L212.2 305.8 L212.7 303.6 L213.2 305.4 L213.8 305 L214.3 305.5 L214.8 305.6 L215.3 305.3 L215.8 305 L216.3 304.2 L216.9 305 L217.4 304.3 L217.9 305.7 L218.4 305.1" fill="none" stroke="#000" stroke-width="2.5" stroke-linejoin="round"/><path d="M97.8 262.8 V259.1" stroke="#000" stroke-width="1.5"/><path d="M35.3 306.3 L35.8 306.3 L36.4 306.3 L36.9 306.3 L37.4 306.3 L37.9 306.3 L38.4 306.3 L38.9 306.3 L39.5 306.3 L40 306.3 L40.5 306.3 L41 306.3 L41.5 306.3 L42 306.3 L42.6 306.3 L43.1 306.3 L43.6 306.3 L44.1 306.3 L44.6 306.3 L45.2 306.3 L45.7 306.3 L46.2 306.4 L46.7 306.2 L47.2 303.2 L47.7 304.4 L48.3 303.5 L48.8 303.4 L49.3 302.7 L49.8 302.3 L50.3 300.8 L50.8 300.9 L51.4 300.3 L51.9 299.6 L52.4 299.7 L52.9 298.6 L53.4 298.3 L53.9 297.5 L54.5 297.4 L55 296.8 L55.5 296.1 L56 295.5 L56.5 295.8 L57 294.7 L57.6 295.1 L58.1 294.4 L58.6 293.9 L59.1 293.5 L59.6 294.3 L60.2 293.3 L60.7 292.6 L61.2 291.7 L61.7 292.1 L62.2 290.8 L62.7 292 L63.3 290.8 L63.8 290.3 L64.3 290.3 L64.8 289.9 L65.3 289.3 L65.8 289.8 L66.4 288.9 L66.9 288.4 L67.4 288.8 L67.9 289.4 L68.4 288.7 L68.9 288.3 L69.5 288.2 L70 287.3 L70.5 287.6 L71 285.9 L71.5 286.6 L72 287.2 L72.6 286.6 L73.1 285.6 L73.6 285.7 L74.1 286.3 L74.6 285.2 L75.1 285.7 L75.7 284.3 L76.2 285.4 L76.7 284.7 L77.2 284.6 L77.7 284.9 L78.3 284.6 L78.8 283.9 L79.3 284 L79.8 284.1 L80.3 283.7 L80.8 283 L81.4 283.3 L81.9 283.3 L82.4 283.3 L82.9 284 L83.4 283.1 L83.9 283.3 L84.5 282.6 L85 283.1 L85.5 282.5 L86 283.1 L86.5 282.1 L87 282.7 L87.6 282.3 L88.1 281.9 L88.6 282.3 L89.1 282 L89.6 281.5 L90.1 281 L90.7 282.6 L91.2 282.1 L91.7 281.3 L92.2 281.1 L92.7 281.6 L93.3 281.3 L93.8 281.4 L94.3 280.2 L94.8 281.2 L95.3 281.6 L95.8 281.7 L96.4 281.5 L96.9 280.3 L97.4 281 L97.9 280 L98.4 281.1 L98.9 281.8 L99.5 282.2 L100 282.6 L100.5 283.1 L101 284.4 L101.5 284.7 L102 285.2 L102.6 285.3 L103.1 285.9 L103.6 286.8 L104.1 287 L104.6 286.3 L105.1 286.6 L105.7 288.3 L106.2 288.1 L106.7 288.7 L107.2 289.4 L107.7 289.1 L108.3 289.8 L108.8 289.4 L109.3 290.3 L109.8 290.9 L110.3 292.3 L110.8 291.5 L111.4 291.4 L111.9 292.4 L112.4 292 L112.9 292.4 L113.4 293.7 L113.9 293.3 L114.5 293.4 L115 293.4 L115.5 294 L116 294.3 L116.5 294.7 L117 294.9 L117.6 295 L118.1 295.7 L118.6 295.2 L119.1 295.8 L119.6 295.7 L120.1 296.4 L120.7 296.2 L121.2 296.5 L121.7 296.3 L122.2 296.7 L122.7 296.7 L123.2 297.4 L123.8 297.5 L124.3 297.8 L124.8 298.5 L125.3 298.1 L125.8 297.6 L126.4 297.9 L126.9 299 L127.4 298.5 L127.9 298.4 L128.4 299.7 L128.9 298.9 L129.5 299.1 L130 299 L130.5 299.4 L131 300.6 L131.5 300.9 L132 298.8 L132.6 300.3 L133.1 299.5 L133.6 299.6 L134.1 300.4 L134.6 301.1 L135.1 299.9 L135.7 300.8 L136.2 300.6 L136.7 300.7 L137.2 300.5 L137.7 300.6 L138.2 302 L138.8 302.1 L139.3 301.4 L139.8 301.5 L140.3 301.2 L140.8 301.8 L141.4 301.9 L141.9 300.8 L142.4 301.2 L142.9 301.4 L143.4 301.6 L143.9 302.6 L144.5 302.3 L145 302.4 L145.5 303 L146 303 L146.5 302.5 L147 303.3 L147.6 302.4 L148.1 302.5 L148.6 302.9 L149.1 303.1 L149.6 302.6 L150.1 302.7 L150.7 302.9 L151.2 303.8 L151.7 304 L152.2 302.1 L152.7 303.6 L153.2 303.5 L153.8 304.4 L154.3 303.9 L154.8 303.9 L155.3 303.1 L155.8 305 L156.3 304.4 L156.9 303.9 L157.4 304 L157.9 304.2 L158.4 304 L158.9 304.7 L159.5 303.7 L160 303.3 L160.5 303.9 L161 304.3 L161.5 303.3 L162 303.8 L162.6 304.6 L163.1 304.4 L163.6 304.5 L164.1 304.2 L164.6 303.6 L165.1 304.6 L165.7 304.4 L166.2 304.3 L166.7 305 L167.2 304.6 L167.7 304.1 L168.2 303.8 L168.8 305.5 L169.3 304.1 L169.8 304.7 L170.3 303.8 L170.8 304.2 L171.3 303.5 L171.9 304.4 L172.4 304.8 L172.9 305.1 L173.4 305.5 L173.9 304.4 L174.5 304.4 L175 304.3 L175.5 304.6 L176 305.6 L176.5 305 L177 305 L177.6 304.8 L178.1 304.4 L178.6 304.1 L179.1 304.7 L179.6 306 L180.1 305.5 L180.7 306.1 L181.2 305.4 L181.7 305.6 L182.2 304.9 L182.7 305.1 L183.2 304.4 L183.8 304.5 L184.3 305.3 L184.8 304.6 L185.3 305.1 L185.8 304.9 L186.3 304.4 L186.9 305.8 L187.4 305.2 L187.9 304.3 L188.4 305.6 L188.9 305.1 L189.5 305.1 L190 305.4 L190.5 305.9 L191 305.6 L191.5 305.8 L192 304.7 L192.6 305.1 L193.1 304.9 L193.6 305.9 L194.1 305 L194.6 305.2 L195.1 304.7 L195.7 305.7 L196.2 304.9 L196.7 304.6 L197.2 304.4 L197.7 305.9 L198.2 306 L198.8 306.2 L199.3 304.9 L199.8 305.1 L200.3 305.2 L200.8 305.9 L201.3 304.7 L201.9 304.6 L202.4 305.5 L202.9 305.5 L203.4 304.8 L203.9 305.2 L204.4 304.7 L205 305.7 L205.5 305.3 L206 305.7 L206.5 305.8 L207 305.7 L207.6 305.7 L208.1 305.2 L208.6 305.7 L209.1 305.5 L209.6 306 L210.1 306.2 L210.7 304.8 L211.2 306.1 L211.7 304.6 L212.2 305.1 L212.7 306.8 L213.2 305.9 L213.8 305.8 L214.3 305.6 L214.8 305.7 L215.3 305.9 L215.8 304.9 L216.3 305.7 L216.9 305.1 L217.4 306 L217.9 306 L218.4 304.9" fill="none" stroke="#000" stroke-width="2.5" stroke-linejoin="round"/><path d="M97.8 281.2 V277.5" stroke="#000" stroke-width="1.5"/><path d="M35.3 306.3 L35.8 306.3 L36.4 306.3 L36.9 306.3 L37.4 306.3 L37.9 306.3 L38.4 306.3 L38.9 306.3 L39.5 306.3 L40 306.3 L40.5 306.3 L41 306.3 L41.5 306.3 L42 306.3 L42.6 306.3 L43.1 306.3 L43.6 306.3 L44.1 306.3 L44.6 306.3 L45.2 306.3 L45.7 306.3 L46.2 306.4 L46.7 306.4 L47.2 305.7 L47.7 304.9 L48.3 305.1 L48.8 305 L49.3 304.2 L49.8 303.7 L50.3 304 L50.8 303.7 L51.4 303.5 L51.9 301.9 L52.4 302.9 L52.9 301.8 L53.4 302.3 L53.9 301.8 L54.5 302.7 L55 301.5 L55.5 301.3 L56 301.2 L56.5 301 L57 301.2 L57.6 301 L58.1 300.1 L58.6 300.2 L59.1 299.8 L59.6 299.6 L60.2 299.5 L60.7 299.4 L61.2 298.1 L61.7 299.2 L62.2 298.7 L62.7 298.4 L63.3 298.6 L63.8 298.3 L64.3 297.4 L64.8 297.1 L65.3 297.3 L65.8 295.8 L66.4 296.7 L66.9 296.3 L67.4 297 L67.9 296 L68.4 295.6 L68.9 296.4 L69.5 295.2 L70 296.2 L70.5 296.2 L71 295.6 L71.5 295.8 L72 295 L72.6 295.6 L73.1 295 L73.6 295.7 L74.1 294.7 L74.6 294.1 L75.1 294.6 L75.7 294.2 L76.2 293.7 L76.7 294.6 L77.2 294.5 L77.7 293.8 L78.3 293.6 L78.8 293.7 L79.3 293.9 L79.8 292.8 L80.3 293.8 L80.8 293.2 L81.4 293 L81.9 292.6 L82.4 293 L82.9 293.1 L83.4 291.7 L83.9 292.9 L84.5 292 L85 292.4 L85.5 292.4 L86 292.1 L86.5 292.1 L87 291.8 L87.6 292.9 L88.1 291.7 L88.6 291.6 L89.1 292 L89.6 291.6 L90.1 290.4 L90.7 290.5 L91.2 290.9 L91.7 291 L92.2 291.2 L92.7 290.4 L93.3 291.1 L93.8 291.2 L94.3 290.4 L94.8 291.1 L95.3 291 L95.8 289.9 L96.4 291.2 L96.9 290.4 L97.4 290.3 L97.9 290.2 L98.4 291.3 L98.9 291.1 L99.5 291.5 L100 290.8 L100.5 291.5 L101 292.6 L101.5 292.2 L102 292.6 L102.6 293.2 L103.1 293.6 L103.6 293.8 L104.1 294.7 L104.6 294.5 L105.1 294.1 L105.7 294.1 L106.2 294.2 L106.7 295.4 L107.2 295.2 L107.7 296.8 L108.3 296.1 L108.8 296.7 L109.3 296 L109.8 297.3 L110.3 297.3 L110.8 297.5 L111.4 297 L111.9 297 L112.4 298 L112.9 297 L113.4 297.9 L113.9 298.5 L114.5 298.1 L115 298.4 L115.5 298.2 L116 298.6 L116.5 297.9 L117 298.6 L117.6 299.5 L118.1 299 L118.6 299.2 L119.1 300.1 L119.6 300.1 L120.1 300.3 L120.7 301.1 L121.2 299.9 L121.7 300.4 L122.2 299.9 L122.7 300.8 L123.2 300.6 L123.8 300.4 L124.3 300.4 L124.8 300.8 L125.3 301.7 L125.8 300 L126.4 300.8 L126.9 300.7 L127.4 300.6 L127.9 300.8 L128.4 301.5 L128.9 301.5 L129.5 301.5 L130 302.8 L130.5 301.6 L131 302.7 L131.5 302 L132 302.8 L132.6 302 L133.1 302.7 L133.6 301.2 L134.1 302.5 L134.6 302.4 L135.1 303.2 L135.7 303 L136.2 302.9 L136.7 303.1 L137.2 303.2 L137.7 303.5 L138.2 302.7 L138.8 303.4 L139.3 303.7 L139.8 303.1 L140.3 303.8 L140.8 303.5 L141.4 303.7 L141.9 304 L142.4 303.7 L142.9 304.1 L143.4 304.4 L143.9 303.5 L144.5 303.9 L145 304.6 L145.5 304.1 L146 303.8 L146.5 303.7 L147 303.8 L147.6 303.9 L148.1 303.8 L148.6 304.4 L149.1 304.6 L149.6 303.9 L150.1 304.4 L150.7 304.3 L151.2 303.9 L151.7 303.8 L152.2 303.7 L152.7 304.8 L153.2 304.6 L153.8 304.2 L154.3 305.3 L154.8 305.2 L155.3 304.2 L155.8 304.9 L156.3 305.1 L156.9 304.2 L157.4 304.4 L157.9 304.2 L158.4 304.9 L158.9 304.9 L159.5 305 L160 304.6 L160.5 305.9 L161 305.2 L161.5 304.5 L162 305.3 L162.6 304.9 L163.1 304.9 L163.6 304.7 L164.1 305.2 L164.6 305.6 L165.1 303.7 L165.7 305.4 L166.2 304.1 L166.7 306 L167.2 305 L167.7 305.2 L168.2 304.1 L168.8 304.1 L169.3 304.6 L169.8 305.7 L170.3 305.6 L170.8 305.6 L171.3 305.5 L171.9 305.1 L172.4 305.7 L172.9 305.4 L173.4 304.5 L173.9 304.5 L174.5 306.3 L175 305.8 L175.5 305.5 L176 304.7 L176.5 305.5 L177 304.4 L177.6 305.2 L178.1 304.6 L178.6 305.9 L179.1 305.6 L179.6 304.9 L180.1 305.1 L180.7 306.5 L181.2 305.6 L181.7 305.4 L182.2 305.1 L182.7 305.8 L183.2 304.6 L183.8 305.4 L184.3 304.7 L184.8 305.3 L185.3 305.5 L185.8 305.7 L186.3 306.2 L186.9 305.1 L187.4 305.2 L187.9 305.1 L188.4 305.8 L188.9 306.1 L189.5 305.8 L190 305.8 L190.5 305.6 L191 305.1 L191.5 306.1 L192 305.9 L192.6 305.3 L193.1 305.2 L193.6 304.5 L194.1 305.4 L194.6 306.1 L195.1 306.2 L195.7 306.1 L196.2 305.7 L196.7 305.6 L197.2 305.7 L197.7 306 L198.2 305.8 L198.8 305.8 L199.3 305.4 L199.8 305.7 L200.3 306.2 L200.8 306.4 L201.3 304.9 L201.9 305.8 L202.4 305.9 L202.9 305.8 L203.4 305.2 L203.9 305.9 L204.4 305.7 L205 305.9 L205.5 305.5 L206 306.3 L206.5 305.7 L207 305.3 L207.6 305.2 L208.1 305.5 L208.6 305.6 L209.1 305 L209.6 305.4 L210.1 305.1 L210.7 306.5 L211.2 306.4 L211.7 305.4 L212.2 306 L212.7 306.1 L213.2 306.4 L213.8 305 L214.3 306.5 L214.8 305.8 L215.3 306.6 L215.8 306 L216.3 304.7 L216.9 304.5 L217.4 306.1 L217.9 306.4 L218.4 305" fill="none" stroke="#000" stroke-width="2.5" stroke-linejoin="round"/><path d="M97.8 290.8 V287.1" stroke="#000" stroke-width="1.5"/><path d="M46.1 305.3 V313.5" stroke="#000" stroke-width="2.2"/><path d="M35.3 306.3 L35.8 306.3 L36.2 306.3 L36.6 306.3 L37 306.3 L37.5 306.3 L37.9 306.3 L38.3 306.3 L38.8 306.3 L39.2 306.3 L39.6 306.3 L40.1 306.3 L40.5 306.3 L40.9 306.3 L41.4 306.3 L41.8 306.3 L42.2 306.3 L42.7 306.3 L43.1 306.3 L43.5 306.3 L43.9 306.3 L44.4 306.3 L44.8 306.3 L45.2 306.3 L45.7 306.3 L46.1 306.3 L46.5 301.7 L47.4 293 L48.3 285.2 L49.1 278.1 L50 271.6 L50.8 265.7 L51.7 260.4 L52.6 255.5 L53.4 251.1 L54.3 247.1 L55.2 243.5 L56 240.2 L56.9 237.2 L57.7 234.4 L58.6 232 L59.5 229.7 L60.3 227.7 L61.2 225.8 L62 224.1 L62.9 222.6 L63.8 221.2 L64.6 219.9 L65.5 218.8 L66.4 217.7 L67.2 216.8 L68.1 215.9 L68.9 215.2 L69.8 214.4 L70.7 213.8 L71.5 213.2 L72.4 212.7 L73.3 212.2 L74.1 211.7 L75 211.3 L75.8 211 L76.7 210.7 L77.6 210.4 L78.4 210.1 L79.3 209.8 L80.1 209.6 L81 209.4 L81.9 209.2 L82.7 209.1 L83.6 208.9 L84.5 208.8 L85.3 208.6 L86.2 208.5 L87 208.4 L87.9 208.3 L88.8 208.2 L89.6 208.2 L90.5 208.1 L91.4 208 L92.2 208 L93.1 207.9 L93.9 207.9 L94.8 207.8 L95.7 207.8 L96.5 207.7 L97.4 207.7 L98.3 209.5 L99.1 212.9 L100 216.3 L100.8 219.5 L101.7 222.5 L102.6 225.5 L103.4 228.4 L104.3 231.1 L105.1 233.8 L106 236.4 L106.9 238.8 L107.7 241.2 L108.6 243.5 L109.5 245.7 L110.3 247.8 L111.2 249.8 L112 251.8 L112.9 253.7 L113.8 255.5 L114.6 257.3 L115.5 259 L116.4 260.6 L117.2 262.2 L118.1 263.7 L118.9 265.1 L119.8 266.5 L120.7 267.9 L121.5 269.2 L122.4 270.4 L123.2 271.6 L124.1 272.8 L125 273.9 L125.8 275 L126.7 276 L127.6 277 L128.4 278 L129.3 278.9 L130.1 279.8 L131 280.7 L131.9 281.5 L132.7 282.3 L133.6 283.1 L134.5 283.8 L135.3 284.6 L136.2 285.3 L137 285.9 L137.9 286.6 L138.8 287.2 L139.6 287.8 L140.5 288.4 L141.4 288.9 L142.2 289.4 L143.1 290 L143.9 290.5 L144.8 290.9 L145.7 291.4 L146.5 291.8 L147.4 292.3 L148.2 292.7 L149.1 293.1 L150 293.5 L150.8 293.8 L151.7 294.2 L152.6 294.5 L153.4 294.9 L154.3 295.2 L155.1 295.5 L156 295.8 L156.9 296.1 L157.7 296.4 L158.6 296.6 L159.5 296.9 L160.3 297.1 L161.2 297.4 L162 297.6 L162.9 297.8 L163.8 298.1 L164.6 298.3 L165.5 298.5 L166.3 298.7 L167.2 298.9 L168.1 299 L168.9 299.2 L169.8 299.4 L170.7 299.6 L171.5 299.7 L172.4 299.9 L173.2 300 L174.1 300.2 L175 300.3 L175.8 300.4 L176.7 300.6 L177.6 300.7 L178.4 300.8 L179.3 300.9 L180.1 301 L181 301.1 L181.9 301.2 L182.7 301.4 L183.6 301.5 L184.5 301.5 L185.3 301.6 L186.2 301.7 L187 301.8 L187.9 301.9 L188.8 302 L189.6 302.1 L190.5 302.1 L191.3 302.2 L192.2 302.3 L193.1 302.4 L193.9 302.4 L194.8 302.5 L195.7 302.6 L196.5 302.6 L197.4 302.7 L198.2 302.7 L199.1 302.8 L200 302.8 L200.8 302.9 L201.7 302.9 L202.6 303 L203.4 303 L204.3 303.1 L205.1 303.1 L206 303.2 L206.9 303.2 L207.7 303.3 L208.6 303.3 L209.4 303.3 L210.3 303.4 L211.2 303.4 L212 303.5 L212.9 303.5 L213.8 303.5 L214.6 303.6 L215.5 303.6 L216.3 303.6 L217.2 303.7 L218.1 303.7" fill="none" stroke="#cf1010" stroke-width="1.4" stroke-linejoin="round"/><path d="M35.3 306.3 L35.8 306.3 L36.2 306.3 L36.6 306.3 L37 306.3 L37.5 306.3 L37.9 306.3 L38.3 306.3 L38.8 306.3 L39.2 306.3 L39.6 306.3 L40.1 306.3 L40.5 306.3 L40.9 306.3 L41.4 306.3 L41.8 306.3 L42.2 306.3 L42.7 306.3 L43.1 306.3 L43.5 306.3 L43.9 306.3 L44.4 306.3 L44.8 306.3 L45.2 306.3 L45.7 306.3 L46.1 306.3 L46.5 302.5 L47.4 295.3 L48.3 288.8 L49.1 282.8 L50 277.4 L50.8 272.4 L51.7 267.9 L52.6 263.7 L53.4 260 L54.3 256.5 L55.2 253.4 L56 250.6 L56.9 248 L57.7 245.6 L58.6 243.4 L59.5 241.4 L60.3 239.6 L61.2 238 L62 236.5 L62.9 235.1 L63.8 233.9 L64.6 232.7 L65.5 231.7 L66.4 230.7 L67.2 229.9 L68.1 229.1 L68.9 228.4 L69.8 227.7 L70.7 227.1 L71.5 226.6 L72.4 226.1 L73.3 225.6 L74.1 225.2 L75 224.8 L75.8 224.5 L76.7 224.2 L77.6 223.9 L78.4 223.6 L79.3 223.4 L80.1 223.2 L81 223 L81.9 222.8 L82.7 222.6 L83.6 222.5 L84.5 222.3 L85.3 222.2 L86.2 222.1 L87 222 L87.9 221.9 L88.8 221.8 L89.6 221.7 L90.5 221.7 L91.4 221.6 L92.2 221.5 L93.1 221.5 L93.9 221.4 L94.8 221.4 L95.7 221.4 L96.5 221.3 L97.4 221.3 L98.3 222.1 L99.1 223.8 L100 225.4 L100.8 227 L101.7 228.6 L102.6 230.2 L103.4 231.7 L104.3 233.2 L105.1 235.4 L106 238 L106.9 240.4 L107.7 242.8 L108.6 245.1 L109.5 247.3 L110.3 249.4 L111.2 251.4 L112 253.4 L112.9 255.3 L113.8 257.1 L114.6 258.9 L115.5 260.6 L116.4 262.2 L117.2 263.8 L118.1 265.3 L118.9 266.7 L119.8 268.1 L120.7 269.5 L121.5 270.8 L122.4 272 L123.2 273.2 L124.1 274.4 L125 275.5 L125.8 276.6 L126.7 277.6 L127.6 278.6 L128.4 279.6 L129.3 280.5 L130.1 281.4 L131 282.3 L131.9 283.1 L132.7 283.9 L133.6 284.7 L134.5 285.4 L135.3 286.2 L136.2 286.9 L137 287.5 L137.9 288.2 L138.8 288.8 L139.6 289.4 L140.5 290 L141.4 290.5 L142.2 291 L143.1 291.6 L143.9 292.1 L144.8 292.5 L145.7 293 L146.5 293.4 L147.4 293.9 L148.2 294.3 L149.1 294.7 L150 295.1 L150.8 295.4 L151.7 295.8 L152.6 296.1 L153.4 296.4 L154.3 296.7 L155.1 297 L156 297.3 L156.9 297.5 L157.7 297.7 L158.6 298 L159.5 298.2 L160.3 298.4 L161.2 298.6 L162 298.8 L162.9 299 L163.8 299.2 L164.6 299.4 L165.5 299.6 L166.3 299.7 L167.2 299.9 L168.1 300 L168.9 300.2 L169.8 300.3 L170.7 300.5 L171.5 300.6 L172.4 300.8 L173.2 300.9 L174.1 301 L175 301.1 L175.8 301.2 L176.7 301.3 L177.6 301.5 L178.4 301.6 L179.3 301.7 L180.1 301.8 L181 301.9 L181.9 301.9 L182.7 302 L183.6 302.1 L184.5 302.2 L185.3 302.3 L186.2 302.4 L187 302.4 L187.9 302.5 L188.8 302.6 L189.6 302.6 L190.5 302.7 L191.3 302.8 L192.2 302.8 L193.1 302.9 L193.9 303 L194.8 303 L195.7 303.1 L196.5 303.1 L197.4 303.2 L198.2 303.2 L199.1 303.3 L200 303.3 L200.8 303.4 L201.7 303.4 L202.6 303.5 L203.4 303.5 L204.3 303.5 L205.1 303.6 L206 303.6 L206.9 303.6 L207.7 303.7 L208.6 303.7 L209.4 303.8 L210.3 303.8 L211.2 303.8 L212 303.9 L212.9 303.9 L213.8 303.9 L214.6 303.9 L215.5 304 L216.3 304 L217.2 304 L218.1 304.1" fill="none" stroke="#cf1010" stroke-width="1.4" stroke-linejoin="round"/><path d="M35.3 306.3 L35.8 306.3 L36.2 306.3 L36.6 306.3 L37 306.3 L37.5 306.3 L37.9 306.3 L38.3 306.3 L38.8 306.3 L39.2 306.3 L39.6 306.3 L40.1 306.3 L40.5 306.3 L40.9 306.3 L41.4 306.3 L41.8 306.3 L42.2 306.3 L42.7 306.3 L43.1 306.3 L43.5 306.3 L43.9 306.3 L44.4 306.3 L44.8 306.3 L45.2 306.3 L45.7 306.3 L46.1 306.3 L46.5 303.3 L47.4 297.5 L48.3 292.3 L49.1 287.5 L50 283.1 L50.8 279 L51.7 275.3 L52.6 271.9 L53.4 268.8 L54.3 265.9 L55.2 263.3 L56 260.9 L56.9 258.7 L57.7 256.6 L58.6 254.8 L59.5 253.1 L60.3 251.5 L61.2 250 L62 248.7 L62.9 247.5 L63.8 246.4 L64.6 245.4 L65.5 244.4 L66.4 243.6 L67.2 242.8 L68.1 242.1 L68.9 241.4 L69.8 240.8 L70.7 240.2 L71.5 239.7 L72.4 239.2 L73.3 238.8 L74.1 238.4 L75 238 L75.8 237.7 L76.7 237.4 L77.6 237.1 L78.4 236.9 L79.3 236.6 L80.1 236.4 L81 236.2 L81.9 236 L82.7 235.9 L83.6 235.7 L84.5 235.6 L85.3 235.4 L86.2 235.3 L87 235.2 L87.9 235.1 L88.8 235 L89.6 234.9 L90.5 234.8 L91.4 234.8 L92.2 234.7 L93.1 234.7 L93.9 234.6 L94.8 234.5 L95.7 234.5 L96.5 234.5 L97.4 234.4 L98.3 235.1 L99.1 236.5 L100 237.9 L100.8 239.3 L101.7 240.6 L102.6 241.9 L103.4 243.2 L104.3 244.5 L105.1 245.7 L106 246.9 L106.9 248.1 L107.7 249.2 L108.6 250.4 L109.5 251.5 L110.3 252.6 L111.2 253.6 L112 255 L112.9 256.9 L113.8 258.7 L114.6 260.5 L115.5 262.2 L116.4 263.8 L117.2 265.4 L118.1 266.9 L118.9 268.3 L119.8 269.7 L120.7 271.1 L121.5 272.4 L122.4 273.6 L123.2 274.8 L124.1 276 L125 277.1 L125.8 278.2 L126.7 279.2 L127.6 280.2 L128.4 281.2 L129.3 282.1 L130.1 283 L131 283.9 L131.9 284.7 L132.7 285.5 L133.6 286.3 L134.5 287 L135.3 287.8 L136.2 288.5 L137 289.1 L137.9 289.8 L138.8 290.4 L139.6 291 L140.5 291.6 L141.4 292.1 L142.2 292.6 L143.1 293.2 L143.9 293.7 L144.8 294.1 L145.7 294.6 L146.5 295 L147.4 295.5 L148.2 295.9 L149.1 296.3 L150 296.7 L150.8 297 L151.7 297.4 L152.6 297.7 L153.4 298 L154.3 298.2 L155.1 298.4 L156 298.6 L156.9 298.9 L157.7 299.1 L158.6 299.3 L159.5 299.4 L160.3 299.6 L161.2 299.8 L162 300 L162.9 300.1 L163.8 300.3 L164.6 300.4 L165.5 300.6 L166.3 300.7 L167.2 300.9 L168.1 301 L168.9 301.1 L169.8 301.3 L170.7 301.4 L171.5 301.5 L172.4 301.6 L173.2 301.7 L174.1 301.8 L175 301.9 L175.8 302 L176.7 302.1 L177.6 302.2 L178.4 302.3 L179.3 302.4 L180.1 302.5 L181 302.5 L181.9 302.6 L182.7 302.7 L183.6 302.8 L184.5 302.8 L185.3 302.9 L186.2 303 L187 303 L187.9 303.1 L188.8 303.2 L189.6 303.2 L190.5 303.3 L191.3 303.3 L192.2 303.4 L193.1 303.4 L193.9 303.5 L194.8 303.5 L195.7 303.6 L196.5 303.6 L197.4 303.7 L198.2 303.7 L199.1 303.7 L200 303.8 L200.8 303.8 L201.7 303.9 L202.6 303.9 L203.4 303.9 L204.3 304 L205.1 304 L206 304 L206.9 304.1 L207.7 304.1 L208.6 304.1 L209.4 304.1 L210.3 304.2 L211.2 304.2 L212 304.2 L212.9 304.3 L213.8 304.3 L214.6 304.3 L215.5 304.3 L216.3 304.4 L217.2 304.4 L218.1 304.4" fill="none" stroke="#cf1010" stroke-width="1.4" stroke-linejoin="round"/><path d="M35.3 306.3 L35.8 306.3 L36.2 306.3 L36.6 306.3 L37 306.3 L37.5 306.3 L37.9 306.3 L38.3 306.3 L38.8 306.3 L39.2 306.3 L39.6 306.3 L40.1 306.3 L40.5 306.3 L40.9 306.3 L41.4 306.3 L41.8 306.3 L42.2 306.3 L42.7 306.3 L43.1 306.3 L43.5 306.3 L43.9 306.3 L44.4 306.3 L44.8 306.3 L45.2 306.3 L45.7 306.3 L46.1 306.3 L46.5 305.2 L47.4 303.1 L48.3 301 L49.1 299.1 L50 297.2 L50.8 295.5 L51.7 293.8 L52.6 292.2 L53.4 290.7 L54.3 289.2 L55.2 287.8 L56 286.5 L56.9 285.3 L57.7 284.1 L58.6 282.9 L59.5 281.8 L60.3 280.8 L61.2 279.8 L62 278.8 L62.9 277.9 L63.8 277.1 L64.6 276.3 L65.5 275.5 L66.4 274.7 L67.2 274 L68.1 273.4 L68.9 272.7 L69.8 272.1 L70.7 271.5 L71.5 271 L72.4 270.4 L73.3 269.9 L74.1 269.5 L75 269 L75.8 268.6 L76.7 268.1 L77.6 267.7 L78.4 267.4 L79.3 267 L80.1 266.7 L81 266.3 L81.9 266 L82.7 265.7 L83.6 265.4 L84.5 265.2 L85.3 264.9 L86.2 264.7 L87 264.4 L87.9 264.2 L88.8 264 L89.6 263.8 L90.5 263.6 L91.4 263.4 L92.2 263.2 L93.1 263.1 L93.9 262.9 L94.8 262.7 L95.7 262.6 L96.5 262.5 L97.4 262.3 L98.3 263.1 L99.1 264.6 L100 266.1 L100.8 267.5 L101.7 268.9 L102.6 270.2 L103.4 271.5 L104.3 272.7 L105.1 273.9 L106 275.1 L106.9 276.2 L107.7 277.2 L108.6 278.2 L109.5 279.2 L110.3 280.2 L111.2 281.1 L112 282 L112.9 282.8 L113.8 283.6 L114.6 284.4 L115.5 285.2 L116.4 285.9 L117.2 286.6 L118.1 287.3 L118.9 287.9 L119.8 288.5 L120.7 289.1 L121.5 289.7 L122.4 290.3 L123.2 290.8 L124.1 291.3 L125 291.8 L125.8 292.3 L126.7 292.8 L127.6 293.2 L128.4 293.7 L129.3 294.1 L130.1 294.5 L131 294.9 L131.9 295.2 L132.7 295.6 L133.6 295.9 L134.5 296.3 L135.3 296.6 L136.2 296.9 L137 297.2 L137.9 297.5 L138.8 297.8 L139.6 298 L140.5 298.3 L141.4 298.5 L142.2 298.8 L143.1 299 L143.9 299.2 L144.8 299.4 L145.7 299.6 L146.5 299.8 L147.4 300 L148.2 300.2 L149.1 300.4 L150 300.6 L150.8 300.7 L151.7 300.9 L152.6 301 L153.4 301.2 L154.3 301.3 L155.1 301.5 L156 301.6 L156.9 301.7 L157.7 301.9 L158.6 302 L159.5 302.1 L160.3 302.2 L161.2 302.3 L162 302.4 L162.9 302.5 L163.8 302.6 L164.6 302.7 L165.5 302.8 L166.3 302.9 L167.2 303 L168.1 303.1 L168.9 303.1 L169.8 303.2 L170.7 303.3 L171.5 303.4 L172.4 303.4 L173.2 303.5 L174.1 303.6 L175 303.6 L175.8 303.7 L176.7 303.7 L177.6 303.8 L178.4 303.8 L179.3 303.9 L180.1 303.9 L181 304 L181.9 304 L182.7 304.1 L183.6 304.1 L184.5 304.2 L185.3 304.2 L186.2 304.3 L187 304.3 L187.9 304.3 L188.8 304.4 L189.6 304.4 L190.5 304.4 L191.3 304.5 L192.2 304.5 L193.1 304.5 L193.9 304.6 L194.8 304.6 L195.7 304.6 L196.5 304.7 L197.4 304.7 L198.2 304.7 L199.1 304.7 L200 304.8 L200.8 304.8 L201.7 304.8 L202.6 304.8 L203.4 304.8 L204.3 304.9 L205.1 304.9 L206 304.9 L206.9 304.9 L207.7 304.9 L208.6 305 L209.4 305 L210.3 305 L211.2 305 L212 305 L212.9 305 L213.8 305.1 L214.6 305.1 L215.5 305.1 L216.3 305.1 L217.2 305.1 L218.1 305.1" fill="none" stroke="#cf1010" stroke-width="1.4" stroke-linejoin="round"/><path d="M35.3 306.3 L35.8 306.3 L36.2 306.3 L36.6 306.3 L37 306.3 L37.5 306.3 L37.9 306.3 L38.3 306.3 L38.8 306.3 L39.2 306.3 L39.6 306.3 L40.1 306.3 L40.5 306.3 L40.9 306.3 L41.4 306.3 L41.8 306.3 L42.2 306.3 L42.7 306.3 L43.1 306.3 L43.5 306.3 L43.9 306.3 L44.4 306.3 L44.8 306.3 L45.2 306.3 L45.7 306.3 L46.1 306.3 L46.5 305.7 L47.4 304.7 L48.3 303.6 L49.1 302.6 L50 301.7 L50.8 300.8 L51.7 299.9 L52.6 299 L53.4 298.2 L54.3 297.4 L55.2 296.7 L56 295.9 L56.9 295.2 L57.7 294.6 L58.6 293.9 L59.5 293.3 L60.3 292.7 L61.2 292.2 L62 291.6 L62.9 291.1 L63.8 290.6 L64.6 290.1 L65.5 289.6 L66.4 289.2 L67.2 288.7 L68.1 288.3 L68.9 287.9 L69.8 287.6 L70.7 287.2 L71.5 286.8 L72.4 286.5 L73.3 286.2 L74.1 285.9 L75 285.6 L75.8 285.3 L76.7 285 L77.6 284.7 L78.4 284.5 L79.3 284.2 L80.1 284 L81 283.8 L81.9 283.5 L82.7 283.3 L83.6 283.1 L84.5 282.9 L85.3 282.7 L86.2 282.6 L87 282.4 L87.9 282.2 L88.8 282.1 L89.6 281.9 L90.5 281.8 L91.4 281.6 L92.2 281.5 L93.1 281.4 L93.9 281.2 L94.8 281.1 L95.7 281 L96.5 280.9 L97.4 280.8 L98.3 281.2 L99.1 282.1 L100 283 L100.8 283.8 L101.7 284.6 L102.6 285.4 L103.4 286.1 L104.3 286.8 L105.1 287.5 L106 288.2 L106.9 288.8 L107.7 289.4 L108.6 290 L109.5 290.6 L110.3 291.1 L111.2 291.7 L112 292.2 L112.9 292.7 L113.8 293.1 L114.6 293.6 L115.5 294 L116.4 294.5 L117.2 294.9 L118.1 295.3 L118.9 295.6 L119.8 296 L120.7 296.3 L121.5 296.7 L122.4 297 L123.2 297.3 L124.1 297.6 L125 297.9 L125.8 298.2 L126.7 298.5 L127.6 298.7 L128.4 299 L129.3 299.2 L130.1 299.4 L131 299.7 L131.9 299.9 L132.7 300.1 L133.6 300.3 L134.5 300.5 L135.3 300.7 L136.2 300.8 L137 301 L137.9 301.2 L138.8 301.3 L139.6 301.5 L140.5 301.6 L141.4 301.8 L142.2 301.9 L143.1 302.1 L143.9 302.2 L144.8 302.3 L145.7 302.4 L146.5 302.6 L147.4 302.7 L148.2 302.8 L149.1 302.9 L150 303 L150.8 303.1 L151.7 303.2 L152.6 303.3 L153.4 303.3 L154.3 303.4 L155.1 303.5 L156 303.6 L156.9 303.7 L157.7 303.7 L158.6 303.8 L159.5 303.9 L160.3 303.9 L161.2 304 L162 304.1 L162.9 304.1 L163.8 304.2 L164.6 304.2 L165.5 304.3 L166.3 304.3 L167.2 304.4 L168.1 304.4 L168.9 304.5 L169.8 304.5 L170.7 304.6 L171.5 304.6 L172.4 304.6 L173.2 304.7 L174.1 304.7 L175 304.7 L175.8 304.8 L176.7 304.8 L177.6 304.8 L178.4 304.9 L179.3 304.9 L180.1 304.9 L181 305 L181.9 305 L182.7 305 L183.6 305 L184.5 305.1 L185.3 305.1 L186.2 305.1 L187 305.1 L187.9 305.2 L188.8 305.2 L189.6 305.2 L190.5 305.2 L191.3 305.2 L192.2 305.3 L193.1 305.3 L193.9 305.3 L194.8 305.3 L195.7 305.3 L196.5 305.3 L197.4 305.4 L198.2 305.4 L199.1 305.4 L200 305.4 L200.8 305.4 L201.7 305.4 L202.6 305.4 L203.4 305.5 L204.3 305.5 L205.1 305.5 L206 305.5 L206.9 305.5 L207.7 305.5 L208.6 305.5 L209.4 305.5 L210.3 305.5 L211.2 305.6 L212 305.6 L212.9 305.6 L213.8 305.6 L214.6 305.6 L215.5 305.6 L216.3 305.6 L217.2 305.6 L218.1 305.6" fill="none" stroke="#cf1010" stroke-width="1.4" stroke-linejoin="round"/><path d="M35.3 306.3 L35.8 306.3 L36.2 306.3 L36.6 306.3 L37 306.3 L37.5 306.3 L37.9 306.3 L38.3 306.3 L38.8 306.3 L39.2 306.3 L39.6 306.3 L40.1 306.3 L40.5 306.3 L40.9 306.3 L41.4 306.3 L41.8 306.3 L42.2 306.3 L42.7 306.3 L43.1 306.3 L43.5 306.3 L43.9 306.3 L44.4 306.3 L44.8 306.3 L45.2 306.3 L45.7 306.3 L46.1 306.3 L46.5 306 L47.4 305.5 L48.3 305 L49.1 304.5 L50 304.1 L50.8 303.6 L51.7 303.1 L52.6 302.7 L53.4 302.3 L54.3 301.9 L55.2 301.5 L56 301.1 L56.9 300.7 L57.7 300.3 L58.6 299.9 L59.5 299.6 L60.3 299.2 L61.2 298.9 L62 298.6 L62.9 298.2 L63.8 297.9 L64.6 297.6 L65.5 297.3 L66.4 297 L67.2 296.7 L68.1 296.5 L68.9 296.2 L69.8 295.9 L70.7 295.7 L71.5 295.4 L72.4 295.2 L73.3 295 L74.1 294.7 L75 294.5 L75.8 294.3 L76.7 294.1 L77.6 293.9 L78.4 293.7 L79.3 293.5 L80.1 293.3 L81 293.1 L81.9 292.9 L82.7 292.7 L83.6 292.6 L84.5 292.4 L85.3 292.2 L86.2 292.1 L87 291.9 L87.9 291.8 L88.8 291.6 L89.6 291.5 L90.5 291.3 L91.4 291.2 L92.2 291.1 L93.1 290.9 L93.9 290.8 L94.8 290.7 L95.7 290.6 L96.5 290.4 L97.4 290.3 L98.3 290.6 L99.1 291.1 L100 291.7 L100.8 292.2 L101.7 292.7 L102.6 293.2 L103.4 293.6 L104.3 294.1 L105.1 294.5 L106 294.9 L106.9 295.3 L107.7 295.7 L108.6 296.1 L109.5 296.4 L110.3 296.8 L111.2 297.1 L112 297.4 L112.9 297.7 L113.8 298 L114.6 298.3 L115.5 298.6 L116.4 298.9 L117.2 299.1 L118.1 299.4 L118.9 299.6 L119.8 299.8 L120.7 300.1 L121.5 300.3 L122.4 300.5 L123.2 300.7 L124.1 300.9 L125 301 L125.8 301.2 L126.7 301.4 L127.6 301.5 L128.4 301.7 L129.3 301.9 L130.1 302 L131 302.1 L131.9 302.3 L132.7 302.4 L133.6 302.5 L134.5 302.7 L135.3 302.8 L136.2 302.9 L137 303 L137.9 303.1 L138.8 303.2 L139.6 303.3 L140.5 303.4 L141.4 303.5 L142.2 303.6 L143.1 303.6 L143.9 303.7 L144.8 303.8 L145.7 303.9 L146.5 304 L147.4 304 L148.2 304.1 L149.1 304.2 L150 304.2 L150.8 304.3 L151.7 304.3 L152.6 304.4 L153.4 304.4 L154.3 304.5 L155.1 304.5 L156 304.6 L156.9 304.6 L157.7 304.7 L158.6 304.7 L159.5 304.8 L160.3 304.8 L161.2 304.9 L162 304.9 L162.9 304.9 L163.8 305 L164.6 305 L165.5 305 L166.3 305.1 L167.2 305.1 L168.1 305.1 L168.9 305.1 L169.8 305.2 L170.7 305.2 L171.5 305.2 L172.4 305.3 L173.2 305.3 L174.1 305.3 L175 305.3 L175.8 305.3 L176.7 305.4 L177.6 305.4 L178.4 305.4 L179.3 305.4 L180.1 305.4 L181 305.5 L181.9 305.5 L182.7 305.5 L183.6 305.5 L184.5 305.5 L185.3 305.5 L186.2 305.6 L187 305.6 L187.9 305.6 L188.8 305.6 L189.6 305.6 L190.5 305.6 L191.3 305.6 L192.2 305.6 L193.1 305.7 L193.9 305.7 L194.8 305.7 L195.7 305.7 L196.5 305.7 L197.4 305.7 L198.2 305.7 L199.1 305.7 L200 305.7 L200.8 305.7 L201.7 305.8 L202.6 305.8 L203.4 305.8 L204.3 305.8 L205.1 305.8 L206 305.8 L206.9 305.8 L207.7 305.8 L208.6 305.8 L209.4 305.8 L210.3 305.8 L211.2 305.8 L212 305.8 L212.9 305.8 L213.8 305.9 L214.6 305.9 L215.5 305.9 L216.3 305.9 L217.2 305.9 L218.1 305.9" fill="none" stroke="#cf1010" stroke-width="1.4" stroke-linejoin="round"/></g><path d="M35.5 190.2 V313.5 H219.1" fill="none" stroke="#000" stroke-width="1.3"/><path d="M32 306.3 H35.5" stroke="#000" stroke-width="1.2"/><text x="29.9" y="309.4" font-size="9.1" font-weight="bold" text-anchor="end">0</text><path d="M32 277.4 H35.5" stroke="#000" stroke-width="1.2"/><text x="29.9" y="280.5" font-size="9.1" font-weight="bold" text-anchor="end">20</text><path d="M32 248.6 H35.5" stroke="#000" stroke-width="1.2"/><text x="29.9" y="251.7" font-size="9.1" font-weight="bold" text-anchor="end">40</text><path d="M32 219.7 H35.5" stroke="#000" stroke-width="1.2"/><text x="29.9" y="222.8" font-size="9.1" font-weight="bold" text-anchor="end">60</text><path d="M32 190.8 H35.5" stroke="#000" stroke-width="1.2"/><text x="29.9" y="193.9" font-size="9.1" font-weight="bold" text-anchor="end">80</text><path d="M46.1 313.5 V317" stroke="#000" stroke-width="1.2"/><text x="46.1" y="327.3" font-size="9.1" font-weight="bold" text-anchor="middle">0</text><path d="M89.2 313.5 V317" stroke="#000" stroke-width="1.2"/><text x="89.2" y="327.3" font-size="9.1" font-weight="bold" text-anchor="middle">100</text><path d="M132.3 313.5 V317" stroke="#000" stroke-width="1.2"/><text x="132.3" y="327.3" font-size="9.1" font-weight="bold" text-anchor="middle">200</text><path d="M175.4 313.5 V317" stroke="#000" stroke-width="1.2"/><text x="175.4" y="327.3" font-size="9.1" font-weight="bold" text-anchor="middle">300</text><path d="M218.5 313.5 V317" stroke="#000" stroke-width="1.2"/><text x="218.5" y="327.3" font-size="9.1" font-weight="bold" text-anchor="middle">400</text><text x="125" y="338.4" font-size="11.5" text-anchor="middle">Time (s)</text><text transform="translate(11 248.7) rotate(-90)" font-size="11.5" text-anchor="middle">Response (RU)</text><text x="124.6" y="190.7" font-size="11.4" text-anchor="middle">T103R</text><text x="109.2" y="206.5" font-size="8.75"><tspan font-style="italic">k</tspan><tspan font-size="5.0" dy="2">on</tspan><tspan dy="-2"> = 2.7 (±1.0) × 10</tspan><tspan font-size="5.0" dy="-3.5">6</tspan><tspan dy="3.5"> M</tspan><tspan font-size="5.0" dy="-3.5">-1</tspan><tspan dy="3.5">s</tspan><tspan font-size="5.0" dy="-3.5">-1</tspan></text><text x="109.2" y="219.5" font-size="8.75"><tspan font-style="italic">k</tspan><tspan font-size="5.0" dy="2">off</tspan><tspan dy="-2"> = 1.4 (±0.3) × 10</tspan><tspan font-size="5.0" dy="-3.5">-2</tspan><tspan dy="3.5"> s</tspan><tspan font-size="5.0" dy="-3.5">-1</tspan></text><text x="109.2" y="232.5" font-size="8.75"><tspan font-style="italic">K</tspan><tspan font-size="5.0" dy="2">D</tspan><tspan dy="-2"> = 5.3 (±0.8) nM</tspan></text><text x="194.2" y="255.2" font-size="9" text-anchor="middle">10 nM</text><text x="194.2" y="283.7" font-size="9" text-anchor="middle">0.5 nM</text><path d="M194.2 258.1 V271.2" stroke="#000" stroke-width="1.7"/><path d="M189.4 268.8 L194.2 270.5 L199 268.8 L194.2 274.5 Z" fill="#000"/><g><path d="M264 308.8 L264.5 308.8 L265.1 308.8 L265.6 308.8 L266.1 308.8 L266.6 308.8 L267.1 308.8 L267.6 308.8 L268.2 308.8 L268.7 308.8 L269.2 308.8 L269.7 308.8 L270.2 308.8 L270.7 308.8 L271.3 308.8 L271.8 308.8 L272.3 308.8 L272.8 308.8 L273.3 308.8 L273.9 308.8 L274.4 308.8 L274.9 307.9 L275.4 301.6 L275.9 294.9 L276.4 289.6 L277 284.3 L277.5 278.6 L278 274.4 L278.5 270.1 L279 265.7 L279.5 262 L280.1 258 L280.6 255 L281.1 251.4 L281.6 248.6 L282.1 245.7 L282.6 243.3 L283.2 241.2 L283.7 238.9 L284.2 236.9 L284.7 235.4 L285.2 233.5 L285.7 231.2 L286.3 230.5 L286.8 228.6 L287.3 227.3 L287.8 225.7 L288.3 224.7 L288.9 223.2 L289.4 222.3 L289.9 221.3 L290.4 220.5 L290.9 220 L291.4 218.6 L292 218.2 L292.5 217.2 L293 216.3 L293.5 215.5 L294 215 L294.5 214.3 L295.1 214.6 L295.6 213.5 L296.1 212.8 L296.6 212.7 L297.1 212.8 L297.6 212 L298.2 211.9 L298.7 211.6 L299.2 210.8 L299.7 210.9 L300.2 210.9 L300.7 210.5 L301.3 209.6 L301.8 210.2 L302.3 209.5 L302.8 209.5 L303.3 209 L303.8 209.3 L304.4 209.3 L304.9 209.1 L305.4 209.1 L305.9 207.9 L306.4 208.5 L307 208.5 L307.5 207.9 L308 208 L308.5 208.2 L309 207.9 L309.5 207.9 L310.1 207.6 L310.6 207.3 L311.1 207.8 L311.6 207.7 L312.1 207.7 L312.6 207.2 L313.2 207.4 L313.7 207.3 L314.2 207.2 L314.7 207.6 L315.2 207.3 L315.7 206.9 L316.3 207 L316.8 207 L317.3 207.3 L317.8 207.3 L318.3 207.4 L318.8 207.3 L319.4 207.2 L319.9 207.6 L320.4 206.8 L320.9 207.3 L321.4 207 L322 206.9 L322.5 207.2 L323 207.6 L323.5 206.7 L324 206.9 L324.5 207.1 L325.1 206.7 L325.6 206.7 L326.1 207.3 L326.6 207.2 L327.1 208.9 L327.6 209.6 L328.2 210.3 L328.7 212 L329.2 212.7 L329.7 214.5 L330.2 215.2 L330.7 215.9 L331.3 216.7 L331.8 218.2 L332.3 219.1 L332.8 219.8 L333.3 222.1 L333.8 222.8 L334.4 222.8 L334.9 223.6 L335.4 225.1 L335.9 226.2 L336.4 227 L337 228 L337.5 229.1 L338 229.8 L338.5 230.8 L339 231.4 L339.5 232.3 L340.1 233 L340.6 234 L341.1 235.2 L341.6 235.4 L342.1 237.4 L342.6 237.4 L343.2 238.1 L343.7 239.1 L344.2 239.2 L344.7 240.8 L345.2 241.6 L345.7 242.1 L346.3 242.6 L346.8 243.2 L347.3 244.1 L347.8 244.6 L348.3 245.7 L348.8 246.4 L349.4 246.8 L349.9 247.9 L350.4 248.1 L350.9 248.9 L351.4 249.3 L351.9 250.4 L352.5 250.9 L353 251.5 L353.5 252.1 L354 252.8 L354.5 253.2 L355.1 254.1 L355.6 254.2 L356.1 254.7 L356.6 255.5 L357.1 256.1 L357.6 256.8 L358.2 257.4 L358.7 257.7 L359.2 258.5 L359.7 259.1 L360.2 259.2 L360.7 259.8 L361.3 260.4 L361.8 261 L362.3 261.3 L362.8 261.9 L363.3 262.3 L363.8 262.6 L364.4 263 L364.9 263.4 L365.4 264.3 L365.9 264.2 L366.4 265.3 L366.9 265.5 L367.5 265.5 L368 265.6 L368.5 266.7 L369 267.3 L369.5 267.7 L370.1 268.4 L370.6 268.5 L371.1 268.9 L371.6 269.4 L372.1 269.3 L372.6 270.2 L373.2 269.9 L373.7 270.5 L374.2 270.9 L374.7 271.7 L375.2 272 L375.7 272.8 L376.3 272.5 L376.8 273 L377.3 273.2 L377.8 273.8 L378.3 273.9 L378.8 274.8 L379.4 275.3 L379.9 274.9 L380.4 275 L380.9 276.6 L381.4 275.6 L381.9 276.4 L382.5 276.6 L383 277.4 L383.5 277.5 L384 277.3 L384.5 278 L385 278.1 L385.6 278.5 L386.1 278.1 L386.6 278.7 L387.1 279.7 L387.6 279.7 L388.2 280.2 L388.7 280.5 L389.2 280.6 L389.7 280.3 L390.2 280.9 L390.7 281 L391.3 281.5 L391.8 281.8 L392.3 281.9 L392.8 282.2 L393.3 281.9 L393.8 282.1 L394.4 282.8 L394.9 283 L395.4 284 L395.9 283.7 L396.4 283.2 L396.9 284.3 L397.5 284.1 L398 284.2 L398.5 284.9 L399 285 L399.5 285.3 L400 285.2 L400.6 285.6 L401.1 285.4 L401.6 285.7 L402.1 286.3 L402.6 285.7 L403.2 286.7 L403.7 287 L404.2 287.1 L404.7 287.5 L405.2 287.6 L405.7 287.7 L406.3 287.6 L406.8 288.5 L407.3 288.6 L407.8 288.6 L408.3 288.7 L408.8 288.6 L409.4 289.2 L409.9 288.7 L410.4 289.4 L410.9 289.5 L411.4 289.6 L411.9 289.5 L412.5 289.9 L413 290.1 L413.5 290.4 L414 290.4 L414.5 290.5 L415 290.9 L415.6 290.9 L416.1 291.6 L416.6 291.4 L417.1 291 L417.6 291.1 L418.2 291.7 L418.7 292.5 L419.2 291.5 L419.7 292.2 L420.2 291.5 L420.7 292.5 L421.3 292.3 L421.8 292.9 L422.3 292.4 L422.8 292.6 L423.3 293.4 L423.8 292.9 L424.4 292.6 L424.9 293.6 L425.4 294 L425.9 293.7 L426.4 294 L426.9 294.5 L427.5 294.5 L428 294.2 L428.5 294.8 L429 294.2 L429.5 294.5 L430 294.8 L430.6 294.5 L431.1 295.3 L431.6 294.9 L432.1 295.6 L432.6 295.4 L433.1 295.3 L433.7 295.7 L434.2 295.7 L434.7 295.6 L435.2 295.5 L435.7 295.6 L436.3 296 L436.8 296.3 L437.3 296.7 L437.8 295.9 L438.3 296 L438.8 297.3 L439.4 296.5 L439.9 296.8 L440.4 296.7 L440.9 296.9 L441.4 297.2 L441.9 297.2 L442.5 297.3 L443 297.1 L443.5 297.6 L444 297.8 L444.5 297.5 L445 297.6 L445.6 297.7 L446.1 297.9 L446.6 297.6 L447.1 297.8" fill="none" stroke="#000" stroke-width="2.3" stroke-linejoin="round"/><path d="M326.5 207.5 V203.8" stroke="#000" stroke-width="1.5"/><path d="M264 308.8 L264.5 308.8 L265.1 308.8 L265.6 308.8 L266.1 308.8 L266.6 308.8 L267.1 308.8 L267.6 308.8 L268.2 308.8 L268.7 308.8 L269.2 308.8 L269.7 308.8 L270.2 308.8 L270.7 308.8 L271.3 308.8 L271.8 308.8 L272.3 308.8 L272.8 308.8 L273.3 308.8 L273.9 308.8 L274.4 308.8 L274.9 307.8 L275.4 302.8 L275.9 297.6 L276.4 293.7 L277 288.9 L277.5 284.9 L278 280.7 L278.5 277.2 L279 272.9 L279.5 270.2 L280.1 267.2 L280.6 263.8 L281.1 261.7 L281.6 259.2 L282.1 256.3 L282.6 254.2 L283.2 252 L283.7 249.9 L284.2 248.4 L284.7 246.7 L285.2 245 L285.7 243.2 L286.3 241.4 L286.8 240.5 L287.3 239 L287.8 238 L288.3 235.8 L288.9 235.1 L289.4 234.2 L289.9 233.6 L290.4 232.6 L290.9 231.6 L291.4 230.5 L292 230.1 L292.5 229.1 L293 227.9 L293.5 227.6 L294 227 L294.5 227 L295.1 225.9 L295.6 225.4 L296.1 225 L296.6 224.8 L297.1 223.9 L297.6 223.8 L298.2 223.3 L298.7 223.2 L299.2 222.4 L299.7 221.8 L300.2 222 L300.7 221.4 L301.3 221.6 L301.8 220.8 L302.3 220.5 L302.8 220.6 L303.3 220 L303.8 220.3 L304.4 219.8 L304.9 219.2 L305.4 219.5 L305.9 219.6 L306.4 218.8 L307 218.9 L307.5 219 L308 219.3 L308.5 219.2 L309 219 L309.5 218 L310.1 218.2 L310.6 218.5 L311.1 217.8 L311.6 217.6 L312.1 218.2 L312.6 217.7 L313.2 218.3 L313.7 217.6 L314.2 217.2 L314.7 218 L315.2 217.6 L315.7 217.7 L316.3 217.5 L316.8 217.4 L317.3 217.3 L317.8 217.1 L318.3 217.1 L318.8 217 L319.4 216.9 L319.9 216.9 L320.4 217.4 L320.9 217 L321.4 217.2 L322 217.3 L322.5 216.5 L323 216.9 L323.5 217 L324 217.6 L324.5 217 L325.1 216.7 L325.6 217 L326.1 217.1 L326.6 216.7 L327.1 218.2 L327.6 219.3 L328.2 220.3 L328.7 221.3 L329.2 222 L329.7 223.1 L330.2 224.3 L330.7 225.3 L331.3 226.2 L331.8 226.6 L332.3 228.1 L332.8 228.8 L333.3 230.3 L333.8 230.7 L334.4 231.5 L334.9 232.2 L335.4 233.3 L335.9 234.1 L336.4 235 L337 235.6 L337.5 236.1 L338 237.5 L338.5 238.6 L339 239 L339.5 239.9 L340.1 240.5 L340.6 241.2 L341.1 242.1 L341.6 243 L342.1 243.5 L342.6 244.7 L343.2 245 L343.7 246 L344.2 246.3 L344.7 247.1 L345.2 247.9 L345.7 248.8 L346.3 249.1 L346.8 250 L347.3 250.5 L347.8 250.8 L348.3 251.4 L348.8 252.7 L349.4 252.6 L349.9 253.1 L350.4 253.8 L350.9 254.6 L351.4 255.3 L351.9 255.3 L352.5 256.5 L353 257.4 L353.5 257.5 L354 258 L354.5 258.9 L355.1 259.5 L355.6 259.1 L356.1 260.1 L356.6 260.4 L357.1 261.3 L357.6 262.1 L358.2 262.2 L358.7 262.3 L359.2 263.3 L359.7 264.1 L360.2 264.1 L360.7 264.6 L361.3 265 L361.8 265.7 L362.3 266 L362.8 266.5 L363.3 266.5 L363.8 267.1 L364.4 267.4 L364.9 268.1 L365.4 269.1 L365.9 269.4 L366.4 269.1 L366.9 269.4 L367.5 269.8 L368 270.5 L368.5 271.4 L369 271.4 L369.5 271.5 L370.1 271.6 L370.6 272.4 L371.1 272.9 L371.6 273.3 L372.1 273.1 L372.6 273.5 L373.2 274.6 L373.7 274.1 L374.2 275.1 L374.7 275.6 L375.2 275.9 L375.7 276 L376.3 275.5 L376.8 275.7 L377.3 277.1 L377.8 277.3 L378.3 277.3 L378.8 277.6 L379.4 278.1 L379.9 278.8 L380.4 278.7 L380.9 279.1 L381.4 279.7 L381.9 279.4 L382.5 280.2 L383 280.5 L383.5 279.9 L384 280.3 L384.5 280.4 L385 281.1 L385.6 281.5 L386.1 281.7 L386.6 282.3 L387.1 281.9 L387.6 282.3 L388.2 282.7 L388.7 283.4 L389.2 283.2 L389.7 282.9 L390.2 283.2 L390.7 283.6 L391.3 284.2 L391.8 284.3 L392.3 284.4 L392.8 284.7 L393.3 284.7 L393.8 285.4 L394.4 286.1 L394.9 286.4 L395.4 286.1 L395.9 286.5 L396.4 286.1 L396.9 286.2 L397.5 286.7 L398 286.7 L398.5 287.1 L399 287.3 L399.5 287.6 L400 287.8 L400.6 287.5 L401.1 288.2 L401.6 288.3 L402.1 288.1 L402.6 288.4 L403.2 288.9 L403.7 288.9 L404.2 289.5 L404.7 289.3 L405.2 289.4 L405.7 289.7 L406.3 289.8 L406.8 289.9 L407.3 290.9 L407.8 290.6 L408.3 290.5 L408.8 290.8 L409.4 291.1 L409.9 291.1 L410.4 290.7 L410.9 291.4 L411.4 291.7 L411.9 291.8 L412.5 292.1 L413 291.8 L413.5 292.4 L414 292 L414.5 292.1 L415 292.4 L415.6 292.4 L416.1 292.8 L416.6 293.5 L417.1 293.1 L417.6 293 L418.2 293.8 L418.7 293.8 L419.2 293.3 L419.7 293.6 L420.2 293.5 L420.7 293.8 L421.3 294.1 L421.8 294.1 L422.3 294.1 L422.8 294.5 L423.3 294.7 L423.8 294.7 L424.4 295 L424.9 294.3 L425.4 295.3 L425.9 295.7 L426.4 295.7 L426.9 295.2 L427.5 295.7 L428 295.6 L428.5 295.9 L429 295.8 L429.5 296.4 L430 296.1 L430.6 296.4 L431.1 296 L431.6 296.3 L432.1 296.9 L432.6 296.9 L433.1 296.6 L433.7 296.5 L434.2 296.7 L434.7 297.1 L435.2 296.8 L435.7 297.9 L436.3 297.5 L436.8 297.7 L437.3 297.8 L437.8 297.5 L438.3 297.6 L438.8 297.7 L439.4 297.9 L439.9 297.8 L440.4 297.9 L440.9 298.3 L441.4 298 L441.9 298.6 L442.5 297.9 L443 298.9 L443.5 298.7 L444 299 L444.5 298.8 L445 298.5 L445.6 299.1 L446.1 298.5 L446.6 298.7 L447.1 299.1" fill="none" stroke="#000" stroke-width="2.3" stroke-linejoin="round"/><path d="M326.5 217.4 V213.7" stroke="#000" stroke-width="1.5"/><path d="M264 308.8 L264.5 308.8 L265.1 308.8 L265.6 308.8 L266.1 308.8 L266.6 308.8 L267.1 308.8 L267.6 308.8 L268.2 308.8 L268.7 308.8 L269.2 308.8 L269.7 308.8 L270.2 308.8 L270.7 308.8 L271.3 308.8 L271.8 308.8 L272.3 308.8 L272.8 308.8 L273.3 308.8 L273.9 308.8 L274.4 308.8 L274.9 308.3 L275.4 304.3 L275.9 302 L276.4 298.1 L277 294.4 L277.5 291.7 L278 288.1 L278.5 286.3 L279 283.9 L279.5 281 L280.1 278.4 L280.6 275.8 L281.1 274.6 L281.6 272 L282.1 269.7 L282.6 268.4 L283.2 266.5 L283.7 265 L284.2 262.7 L284.7 261.1 L285.2 259.7 L285.7 258.3 L286.3 256.7 L286.8 255.7 L287.3 254.2 L287.8 253 L288.3 251.7 L288.9 250.8 L289.4 249.9 L289.9 248.7 L290.4 248.4 L290.9 247.6 L291.4 245.7 L292 245.3 L292.5 244.8 L293 243.9 L293.5 243.1 L294 242.3 L294.5 241.9 L295.1 240.7 L295.6 240.9 L296.1 239 L296.6 239.6 L297.1 238.3 L297.6 238.1 L298.2 238.3 L298.7 237.7 L299.2 236.8 L299.7 236.4 L300.2 236.2 L300.7 235.6 L301.3 235.2 L301.8 235.3 L302.3 234.6 L302.8 233.6 L303.3 234.2 L303.8 234 L304.4 233.2 L304.9 232.7 L305.4 232.6 L305.9 232.8 L306.4 232.4 L307 232.1 L307.5 232 L308 231.6 L308.5 231.2 L309 231.2 L309.5 231.2 L310.1 231.1 L310.6 230.3 L311.1 231.1 L311.6 230 L312.1 230.2 L312.6 230.3 L313.2 230.4 L313.7 229.5 L314.2 229.5 L314.7 229.5 L315.2 229.1 L315.7 230.1 L316.3 229.5 L316.8 229.5 L317.3 229.5 L317.8 229.2 L318.3 229 L318.8 228.9 L319.4 229 L319.9 229.3 L320.4 228.7 L320.9 228.6 L321.4 228.1 L322 228.4 L322.5 228.6 L323 228.9 L323.5 227.7 L324 228.6 L324.5 228.3 L325.1 228.1 L325.6 228.2 L326.1 227.9 L326.6 228.7 L327.1 229.5 L327.6 230.2 L328.2 231.5 L328.7 232.2 L329.2 232.5 L329.7 233.7 L330.2 234.7 L330.7 235.7 L331.3 236.4 L331.8 237.2 L332.3 238.3 L332.8 238.6 L333.3 240 L333.8 240 L334.4 241.3 L334.9 242.6 L335.4 243.2 L335.9 243.4 L336.4 244.4 L337 244.4 L337.5 245.2 L338 245.7 L338.5 246.8 L339 247.3 L339.5 248.6 L340.1 248.7 L340.6 249.9 L341.1 250.4 L341.6 251.4 L342.1 251.7 L342.6 252.2 L343.2 252.9 L343.7 253.9 L344.2 253.9 L344.7 254.5 L345.2 255.4 L345.7 255.7 L346.3 256.2 L346.8 257.4 L347.3 257.6 L347.8 258.7 L348.3 259 L348.8 259.1 L349.4 260.1 L349.9 260.2 L350.4 260.7 L350.9 262 L351.4 262 L351.9 261.9 L352.5 262.8 L353 263.3 L353.5 264 L354 264.8 L354.5 265.2 L355.1 264.4 L355.6 265.8 L356.1 266.4 L356.6 266.6 L357.1 267.6 L357.6 267.1 L358.2 267.4 L358.7 268.6 L359.2 268.7 L359.7 269.4 L360.2 269.3 L360.7 270.2 L361.3 270.4 L361.8 270.4 L362.3 271 L362.8 271.7 L363.3 272.4 L363.8 272.8 L364.4 272.3 L364.9 272.9 L365.4 273.4 L365.9 273.4 L366.4 274.1 L366.9 274.7 L367.5 274.9 L368 275.2 L368.5 275.5 L369 275.1 L369.5 276 L370.1 276.4 L370.6 276.9 L371.1 277.4 L371.6 277.8 L372.1 278.4 L372.6 278.2 L373.2 278.9 L373.7 279.3 L374.2 279.3 L374.7 279.9 L375.2 279.2 L375.7 279.5 L376.3 280.4 L376.8 279.8 L377.3 280.5 L377.8 281.7 L378.3 281.3 L378.8 281.8 L379.4 282.3 L379.9 282.1 L380.4 282 L380.9 282.4 L381.4 283.3 L381.9 283.3 L382.5 283.6 L383 283.2 L383.5 283.8 L384 284.3 L384.5 284.6 L385 285.1 L385.6 285 L386.1 284.7 L386.6 285.8 L387.1 285.4 L387.6 285.7 L388.2 285.6 L388.7 286.4 L389.2 286 L389.7 286 L390.2 286 L390.7 287.4 L391.3 287.1 L391.8 287.4 L392.3 287.5 L392.8 288 L393.3 287.7 L393.8 287.4 L394.4 287.9 L394.9 288.8 L395.4 288.9 L395.9 288.7 L396.4 289 L396.9 289.5 L397.5 289.1 L398 289.4 L398.5 289.5 L399 290 L399.5 289.7 L400 290.4 L400.6 290.8 L401.1 290.6 L401.6 291.2 L402.1 290.6 L402.6 290.9 L403.2 291.8 L403.7 291.4 L404.2 291.3 L404.7 291.9 L405.2 291.8 L405.7 292.2 L406.3 292.2 L406.8 292.4 L407.3 292.4 L407.8 292.9 L408.3 293.1 L408.8 292.8 L409.4 293.2 L409.9 293.1 L410.4 293.5 L410.9 293.9 L411.4 293.4 L411.9 293.7 L412.5 293.7 L413 294.1 L413.5 294.3 L414 293.9 L414.5 294.9 L415 294 L415.6 294.5 L416.1 294.8 L416.6 294.9 L417.1 294.8 L417.6 295.4 L418.2 295.2 L418.7 295.7 L419.2 296.1 L419.7 295.6 L420.2 295.7 L420.7 295.6 L421.3 295.8 L421.8 295.9 L422.3 295.9 L422.8 296.6 L423.3 296 L423.8 295.7 L424.4 296.8 L424.9 297.1 L425.4 296.6 L425.9 296.6 L426.4 296.7 L426.9 296.6 L427.5 297.6 L428 297.2 L428.5 297.3 L429 297.1 L429.5 297.9 L430 297.7 L430.6 297.9 L431.1 297.9 L431.6 298 L432.1 298.1 L432.6 298.7 L433.1 298.3 L433.7 298.3 L434.2 298.5 L434.7 299.6 L435.2 298.8 L435.7 298.9 L436.3 299 L436.8 298.4 L437.3 298.6 L437.8 299.1 L438.3 298.9 L438.8 298.2 L439.4 299.5 L439.9 299.2 L440.4 299.6 L440.9 299 L441.4 299.2 L441.9 299.7 L442.5 299.5 L443 300 L443.5 300.3 L444 299.7 L444.5 299.5 L445 300.2 L445.6 300.3 L446.1 300.8 L446.6 299.6 L447.1 300.7" fill="none" stroke="#000" stroke-width="2.3" stroke-linejoin="round"/><path d="M326.5 228.7 V225" stroke="#000" stroke-width="1.5"/><path d="M264 308.8 L264.5 308.8 L265.1 308.8 L265.6 308.8 L266.1 308.8 L266.6 308.8 L267.1 308.8 L267.6 308.8 L268.2 308.8 L268.7 308.8 L269.2 308.8 L269.7 308.8 L270.2 308.8 L270.7 308.8 L271.3 308.8 L271.8 308.8 L272.3 308.8 L272.8 308.8 L273.3 308.8 L273.9 308.8 L274.4 308.8 L274.9 308.9 L275.4 307.5 L275.9 306 L276.4 305.2 L277 304.1 L277.5 303 L278 301.7 L278.5 301 L279 299.9 L279.5 298.9 L280.1 298.2 L280.6 296.5 L281.1 296.2 L281.6 295.4 L282.1 294.2 L282.6 293.2 L283.2 292 L283.7 291.8 L284.2 290.9 L284.7 289.6 L285.2 288.7 L285.7 288.3 L286.3 287.5 L286.8 286.3 L287.3 285.6 L287.8 285.3 L288.3 284.3 L288.9 282.8 L289.4 282.8 L289.9 281.5 L290.4 281.5 L290.9 279.9 L291.4 279.2 L292 279.2 L292.5 278.5 L293 277.5 L293.5 277.4 L294 276.2 L294.5 275.4 L295.1 275 L295.6 274.4 L296.1 273.9 L296.6 273 L297.1 273 L297.6 271.7 L298.2 271.6 L298.7 271.1 L299.2 271 L299.7 270.1 L300.2 269.4 L300.7 268.5 L301.3 268.9 L301.8 267.9 L302.3 267.6 L302.8 267.3 L303.3 266.4 L303.8 266.2 L304.4 265.2 L304.9 265.8 L305.4 264.4 L305.9 264.7 L306.4 264.3 L307 263.1 L307.5 263 L308 262.4 L308.5 262.3 L309 262 L309.5 261.5 L310.1 260.9 L310.6 260.7 L311.1 260.2 L311.6 260 L312.1 259.3 L312.6 259.4 L313.2 259.3 L313.7 259.1 L314.2 258 L314.7 257.6 L315.2 257 L315.7 257.2 L316.3 257 L316.8 256.8 L317.3 255.8 L317.8 255.9 L318.3 255.1 L318.8 255.2 L319.4 254.9 L319.9 255.1 L320.4 254.5 L320.9 253.8 L321.4 253.9 L322 253.3 L322.5 253.7 L323 252.6 L323.5 251.8 L324 252.1 L324.5 252.1 L325.1 252.3 L325.6 251.9 L326.1 251.7 L326.6 251.3 L327.1 252.4 L327.6 252.6 L328.2 252.6 L328.7 253.2 L329.2 253.5 L329.7 253.9 L330.2 255 L330.7 255.5 L331.3 255.4 L331.8 256 L332.3 256.4 L332.8 257.1 L333.3 257 L333.8 257.6 L334.4 257.8 L334.9 258.7 L335.4 258.8 L335.9 259.4 L336.4 260.1 L337 260.3 L337.5 261.1 L338 261.1 L338.5 261.4 L339 261.6 L339.5 262.6 L340.1 263 L340.6 263.2 L341.1 264 L341.6 264 L342.1 263.4 L342.6 264.5 L343.2 265.1 L343.7 265.5 L344.2 265.1 L344.7 266.3 L345.2 266.4 L345.7 266.7 L346.3 267.3 L346.8 267.6 L347.3 268.3 L347.8 268.3 L348.3 268 L348.8 268.3 L349.4 269.2 L349.9 269.2 L350.4 269.6 L350.9 270.1 L351.4 270.5 L351.9 270.4 L352.5 270.9 L353 271.4 L353.5 271.8 L354 271.7 L354.5 272.5 L355.1 272.8 L355.6 273 L356.1 273.4 L356.6 273.1 L357.1 273.7 L357.6 274.1 L358.2 274.5 L358.7 274.3 L359.2 274.8 L359.7 274.6 L360.2 275.3 L360.7 275.9 L361.3 276.2 L361.8 276.4 L362.3 276.6 L362.8 276.7 L363.3 277 L363.8 277 L364.4 278.1 L364.9 277.9 L365.4 278.6 L365.9 278.8 L366.4 278.9 L366.9 279.2 L367.5 279.5 L368 279.9 L368.5 279.4 L369 280.1 L369.5 279.9 L370.1 280.8 L370.6 281.4 L371.1 281.1 L371.6 280.9 L372.1 281.5 L372.6 281.5 L373.2 282.2 L373.7 281.6 L374.2 282.1 L374.7 282.2 L375.2 282.8 L375.7 282.6 L376.3 283.1 L376.8 283.5 L377.3 283.8 L377.8 283.8 L378.3 284.3 L378.8 284.6 L379.4 284.4 L379.9 284.4 L380.4 284.9 L380.9 284.8 L381.4 284.7 L381.9 285.8 L382.5 285.5 L383 286.1 L383.5 286.2 L384 286.1 L384.5 287.1 L385 286.4 L385.6 286.5 L386.1 286.8 L386.6 286.9 L387.1 286.8 L387.6 287.6 L388.2 287.3 L388.7 287.4 L389.2 287.9 L389.7 288.7 L390.2 288.4 L390.7 288.6 L391.3 289.2 L391.8 288.9 L392.3 288.8 L392.8 289.3 L393.3 289.4 L393.8 289.1 L394.4 289.9 L394.9 290.1 L395.4 290 L395.9 289.8 L396.4 290.1 L396.9 290.5 L397.5 290.8 L398 290.4 L398.5 290.7 L399 291.6 L399.5 291.1 L400 292.1 L400.6 291.1 L401.1 291.5 L401.6 292 L402.1 292.3 L402.6 292.2 L403.2 292.8 L403.7 292.2 L404.2 292.7 L404.7 293.2 L405.2 292.8 L405.7 292.6 L406.3 293.4 L406.8 293.3 L407.3 292.8 L407.8 293.4 L408.3 293.7 L408.8 293.6 L409.4 293.6 L409.9 294.2 L410.4 294.1 L410.9 294.7 L411.4 294.8 L411.9 294.9 L412.5 294.3 L413 294.6 L413.5 294.6 L414 294.5 L414.5 295 L415 295.1 L415.6 295.1 L416.1 295.2 L416.6 295.8 L417.1 295.7 L417.6 295.7 L418.2 295.8 L418.7 296.1 L419.2 296.1 L419.7 296.1 L420.2 296.2 L420.7 296.2 L421.3 296.2 L421.8 296.4 L422.3 296.4 L422.8 296.5 L423.3 296.4 L423.8 296.8 L424.4 297.2 L424.9 296.5 L425.4 296.9 L425.9 297 L426.4 297.2 L426.9 297.5 L427.5 298 L428 297.6 L428.5 297.9 L429 298 L429.5 298.6 L430 297.6 L430.6 298.5 L431.1 298.6 L431.6 298.2 L432.1 298.3 L432.6 298.8 L433.1 298.6 L433.7 298.6 L434.2 298.7 L434.7 298.7 L435.2 298.7 L435.7 299.2 L436.3 299.6 L436.8 298.6 L437.3 299.4 L437.8 299.7 L438.3 299.2 L438.8 299.3 L439.4 299.8 L439.9 299 L440.4 300.5 L440.9 299.4 L441.4 299.9 L441.9 299.9 L442.5 300 L443 300.2 L443.5 300.1 L444 300.7 L444.5 300.5 L445 299.9 L445.6 301.3 L446.1 300.2 L446.6 301.3 L447.1 300.9" fill="none" stroke="#000" stroke-width="2.3" stroke-linejoin="round"/><path d="M326.5 251.8 V248.1" stroke="#000" stroke-width="1.5"/><path d="M264 308.8 L264.5 308.8 L265.1 308.8 L265.6 308.8 L266.1 308.8 L266.6 308.8 L267.1 308.8 L267.6 308.8 L268.2 308.8 L268.7 308.8 L269.2 308.8 L269.7 308.8 L270.2 308.8 L270.7 308.8 L271.3 308.8 L271.8 308.8 L272.3 308.8 L272.8 308.8 L273.3 308.8 L273.9 308.8 L274.4 308.8 L274.9 308.5 L275.4 308.6 L275.9 308.3 L276.4 308.3 L277 307.6 L277.5 307.3 L278 307.2 L278.5 307.2 L279 306.4 L279.5 306 L280.1 305.5 L280.6 305.4 L281.1 304.8 L281.6 304.6 L282.1 305.6 L282.6 303.9 L283.2 304.2 L283.7 304.2 L284.2 303.5 L284.7 303 L285.2 303.5 L285.7 303.1 L286.3 302.3 L286.8 302.4 L287.3 301.5 L287.8 301.6 L288.3 301.6 L288.9 301.5 L289.4 300.7 L289.9 301.1 L290.4 300.7 L290.9 300.5 L291.4 299.3 L292 299 L292.5 299.4 L293 299.2 L293.5 298.6 L294 298.1 L294.5 298.5 L295.1 297.3 L295.6 297.8 L296.1 297.1 L296.6 297.9 L297.1 297 L297.6 296.9 L298.2 295.9 L298.7 296.3 L299.2 296.4 L299.7 295.1 L300.2 295.7 L300.7 295.2 L301.3 295.4 L301.8 294.5 L302.3 294.4 L302.8 294.3 L303.3 294.1 L303.8 293.9 L304.4 293.7 L304.9 293.7 L305.4 292.7 L305.9 292.5 L306.4 293 L307 292.7 L307.5 292 L308 291.2 L308.5 291.7 L309 291.5 L309.5 291.2 L310.1 290.9 L310.6 290.8 L311.1 290.1 L311.6 289.9 L312.1 289.8 L312.6 289.3 L313.2 289.6 L313.7 289.5 L314.2 288.2 L314.7 289.5 L315.2 289.1 L315.7 289.1 L316.3 288.1 L316.8 288.3 L317.3 287.5 L317.8 288.2 L318.3 287.4 L318.8 287.2 L319.4 287.2 L319.9 286.3 L320.4 286.6 L320.9 286.1 L321.4 286.2 L322 285.8 L322.5 285.7 L323 285.4 L323.5 285.2 L324 285.2 L324.5 284.6 L325.1 284.6 L325.6 284.6 L326.1 284.5 L326.6 283.9 L327.1 283.7 L327.6 284.7 L328.2 284.6 L328.7 284.5 L329.2 284.4 L329.7 284.7 L330.2 285.4 L330.7 285.2 L331.3 285 L331.8 285.4 L332.3 285.7 L332.8 286.1 L333.3 285.8 L333.8 286 L334.4 286.1 L334.9 285.8 L335.4 286 L335.9 286.8 L336.4 286.6 L337 286.9 L337.5 286.9 L338 286.6 L338.5 286.9 L339 287.3 L339.5 287.7 L340.1 287.6 L340.6 287.6 L341.1 288 L341.6 287.6 L342.1 288.1 L342.6 288.6 L343.2 287.7 L343.7 289.3 L344.2 288.7 L344.7 288.7 L345.2 288.5 L345.7 288.6 L346.3 288.6 L346.8 288.7 L347.3 289.2 L347.8 289.4 L348.3 289.2 L348.8 289.6 L349.4 290.1 L349.9 290 L350.4 289.8 L350.9 289.9 L351.4 290.5 L351.9 290 L352.5 290.3 L353 291 L353.5 290.5 L354 290.5 L354.5 290.7 L355.1 291.1 L355.6 291.3 L356.1 290.8 L356.6 291.2 L357.1 291.4 L357.6 291.6 L358.2 291.9 L358.7 292.3 L359.2 291.9 L359.7 291.6 L360.2 291.8 L360.7 292.3 L361.3 291.7 L361.8 292.4 L362.3 292.7 L362.8 292.2 L363.3 292.2 L363.8 292.8 L364.4 293.2 L364.9 292.9 L365.4 293.7 L365.9 293.1 L366.4 292.7 L366.9 293.2 L367.5 293.6 L368 293.2 L368.5 293.7 L369 293.3 L369.5 293.8 L370.1 293.2 L370.6 294 L371.1 293.9 L371.6 294.4 L372.1 294.6 L372.6 294.2 L373.2 294.2 L373.7 294.7 L374.2 294.4 L374.7 294.7 L375.2 294.9 L375.7 294.8 L376.3 294.7 L376.8 294.7 L377.3 294.7 L377.8 295 L378.3 295.4 L378.8 295.5 L379.4 295.2 L379.9 295.8 L380.4 295.6 L380.9 295.7 L381.4 295.7 L381.9 295.7 L382.5 295.5 L383 295.4 L383.5 295.7 L384 295.8 L384.5 296.5 L385 295.9 L385.6 295.9 L386.1 296.8 L386.6 295.7 L387.1 296.7 L387.6 297.3 L388.2 296.1 L388.7 296.7 L389.2 297 L389.7 297 L390.2 296.6 L390.7 296.9 L391.3 297.2 L391.8 296.8 L392.3 297.5 L392.8 297.5 L393.3 297.5 L393.8 297.7 L394.4 297.3 L394.9 297.6 L395.4 298 L395.9 297.8 L396.4 298.4 L396.9 297.8 L397.5 297.9 L398 297.8 L398.5 298.1 L399 298 L399.5 298.4 L400 298.2 L400.6 298.2 L401.1 298.7 L401.6 298.2 L402.1 298.4 L402.6 298.5 L403.2 298.7 L403.7 298.1 L404.2 298.7 L404.7 299 L405.2 299.1 L405.7 298.7 L406.3 299 L406.8 299.3 L407.3 299.3 L407.8 298.9 L408.3 299.2 L408.8 298.9 L409.4 299.3 L409.9 299.7 L410.4 299.2 L410.9 299.4 L411.4 299.7 L411.9 299.7 L412.5 299.9 L413 299.4 L413.5 299.9 L414 299.7 L414.5 299.8 L415 300 L415.6 299.9 L416.1 300.1 L416.6 300.4 L417.1 300.2 L417.6 300.5 L418.2 300 L418.7 300.1 L419.2 300.5 L419.7 300.2 L420.2 300.4 L420.7 300.2 L421.3 300.8 L421.8 300.6 L422.3 300.9 L422.8 300.9 L423.3 300.3 L423.8 301.4 L424.4 301.1 L424.9 300.7 L425.4 300.7 L425.9 301.2 L426.4 301.6 L426.9 301.6 L427.5 301 L428 300.8 L428.5 300.9 L429 301.5 L429.5 300.9 L430 301.4 L430.6 301.2 L431.1 301.5 L431.6 301 L432.1 301.7 L432.6 302.2 L433.1 301.7 L433.7 301.6 L434.2 301.6 L434.7 301.9 L435.2 301.8 L435.7 302.1 L436.3 301.9 L436.8 301.9 L437.3 301.9 L437.8 301.5 L438.3 302.6 L438.8 301.9 L439.4 302 L439.9 302.5 L440.4 302.2 L440.9 302.2 L441.4 302.6 L441.9 302.1 L442.5 301.8 L443 302.2 L443.5 302.2 L444 302.1 L444.5 302.5 L445 302.2 L445.6 302.8 L446.1 302.5 L446.6 302.4 L447.1 302.3" fill="none" stroke="#000" stroke-width="2.3" stroke-linejoin="round"/><path d="M326.5 284.5 V280.8" stroke="#000" stroke-width="1.5"/><path d="M264 308.8 L264.5 308.8 L265.1 308.8 L265.6 308.8 L266.1 308.8 L266.6 308.8 L267.1 308.8 L267.6 308.8 L268.2 308.8 L268.7 308.8 L269.2 308.8 L269.7 308.8 L270.2 308.8 L270.7 308.8 L271.3 308.8 L271.8 308.8 L272.3 308.8 L272.8 308.8 L273.3 308.8 L273.9 308.8 L274.4 308.8 L274.9 308.9 L275.4 308.7 L275.9 308.3 L276.4 308.3 L277 308 L277.5 307.7 L278 308 L278.5 307.3 L279 307.3 L279.5 307.3 L280.1 307.4 L280.6 307.1 L281.1 306.7 L281.6 306.3 L282.1 307 L282.6 306 L283.2 306 L283.7 306.2 L284.2 305.4 L284.7 305.4 L285.2 305.2 L285.7 305.5 L286.3 305.3 L286.8 304.6 L287.3 304.3 L287.8 304.4 L288.3 304.4 L288.9 304.3 L289.4 304.5 L289.9 303.6 L290.4 303.7 L290.9 303.2 L291.4 303.6 L292 302.9 L292.5 303.2 L293 302.7 L293.5 302.3 L294 302.8 L294.5 302.1 L295.1 302.2 L295.6 302.3 L296.1 301.8 L296.6 301.5 L297.1 301.8 L297.6 301.5 L298.2 301.4 L298.7 301.3 L299.2 301 L299.7 300.5 L300.2 300.8 L300.7 300.1 L301.3 300.4 L301.8 300.3 L302.3 299.7 L302.8 299.4 L303.3 299.9 L303.8 299.3 L304.4 299.7 L304.9 299.3 L305.4 299.1 L305.9 298.7 L306.4 299.1 L307 298.7 L307.5 298.6 L308 298.2 L308.5 298.5 L309 298.3 L309.5 297 L310.1 297.6 L310.6 297.9 L311.1 297.1 L311.6 297.6 L312.1 297.6 L312.6 296.4 L313.2 296.3 L313.7 296.8 L314.2 296.7 L314.7 296.1 L315.2 295.5 L315.7 295.8 L316.3 295.6 L316.8 296 L317.3 296 L317.8 295.2 L318.3 294.9 L318.8 295 L319.4 294.9 L319.9 294.4 L320.4 294.9 L320.9 294.1 L321.4 294.1 L322 294.4 L322.5 294 L323 293.8 L323.5 293.6 L324 293.9 L324.5 293.5 L325.1 293.3 L325.6 293.1 L326.1 293 L326.6 292.8 L327.1 293 L327.6 293.2 L328.2 292.9 L328.7 293.5 L329.2 293.5 L329.7 293.7 L330.2 293.9 L330.7 293.5 L331.3 293.7 L331.8 293.9 L332.3 293.8 L332.8 294 L333.3 293.9 L333.8 293.6 L334.4 294.2 L334.9 294.4 L335.4 293.9 L335.9 294.3 L336.4 295.1 L337 294.3 L337.5 294.7 L338 294.6 L338.5 295.3 L339 295.3 L339.5 295.3 L340.1 295 L340.6 295.6 L341.1 295.6 L341.6 295.1 L342.1 295.7 L342.6 295.6 L343.2 295.9 L343.7 296.3 L344.2 295.9 L344.7 295.9 L345.2 296.4 L345.7 295.8 L346.3 295.9 L346.8 295.9 L347.3 296.4 L347.8 296.7 L348.3 296.5 L348.8 296.5 L349.4 296.6 L349.9 296.8 L350.4 297 L350.9 297 L351.4 296.9 L351.9 297.1 L352.5 296.5 L353 297.2 L353.5 297 L354 297.4 L354.5 297.3 L355.1 297.6 L355.6 297.6 L356.1 297.9 L356.6 298.2 L357.1 297.2 L357.6 298 L358.2 297.6 L358.7 297.9 L359.2 298.1 L359.7 297.7 L360.2 298.2 L360.7 298 L361.3 298.3 L361.8 297.9 L362.3 298 L362.8 298.3 L363.3 298.1 L363.8 298.3 L364.4 298.1 L364.9 298.6 L365.4 299.1 L365.9 298.7 L366.4 298.7 L366.9 298.9 L367.5 299 L368 299 L368.5 299.4 L369 298.6 L369.5 299.4 L370.1 299.5 L370.6 299.7 L371.1 299.6 L371.6 299.4 L372.1 299 L372.6 299.3 L373.2 299.7 L373.7 300 L374.2 300 L374.7 299.7 L375.2 299.5 L375.7 299.9 L376.3 299.4 L376.8 299.3 L377.3 299.9 L377.8 300.7 L378.3 299.7 L378.8 300.1 L379.4 300 L379.9 299.9 L380.4 300.6 L380.9 300.3 L381.4 300.3 L381.9 300.6 L382.5 300.3 L383 300.6 L383.5 300.7 L384 300.1 L384.5 300.6 L385 300.2 L385.6 300.8 L386.1 300.5 L386.6 301.1 L387.1 300.9 L387.6 300.6 L388.2 301.6 L388.7 300.9 L389.2 301.2 L389.7 300.8 L390.2 301.1 L390.7 301.3 L391.3 301.7 L391.8 300.5 L392.3 301.6 L392.8 301.5 L393.3 301.7 L393.8 301.6 L394.4 301.5 L394.9 302 L395.4 301.3 L395.9 301.8 L396.4 301.5 L396.9 302.4 L397.5 302 L398 301.9 L398.5 302 L399 302.1 L399.5 301.9 L400 301.9 L400.6 302.3 L401.1 302.7 L401.6 301.9 L402.1 302.3 L402.6 301.9 L403.2 302 L403.7 302.3 L404.2 302.8 L404.7 302.5 L405.2 302.6 L405.7 302.1 L406.3 303 L406.8 302.3 L407.3 303 L407.8 302.8 L408.3 303.1 L408.8 302.9 L409.4 302.8 L409.9 302.6 L410.4 303 L410.9 302.6 L411.4 302.3 L411.9 302.8 L412.5 303.3 L413 303 L413.5 303 L414 303.1 L414.5 302.7 L415 302.8 L415.6 302.5 L416.1 303 L416.6 304 L417.1 303.3 L417.6 303.1 L418.2 303.5 L418.7 303.5 L419.2 303.1 L419.7 303.4 L420.2 303.8 L420.7 303.6 L421.3 304.4 L421.8 303.5 L422.3 303.9 L422.8 303.6 L423.3 304 L423.8 303.9 L424.4 303.8 L424.9 302.9 L425.4 304.1 L425.9 304.1 L426.4 304 L426.9 303.5 L427.5 303.6 L428 303.7 L428.5 304 L429 303.9 L429.5 304.2 L430 304.1 L430.6 304.3 L431.1 304.5 L431.6 304.4 L432.1 303.6 L432.6 304 L433.1 304.4 L433.7 304.2 L434.2 304.4 L434.7 303.9 L435.2 304.3 L435.7 304.5 L436.3 304.1 L436.8 304.3 L437.3 304.6 L437.8 304.6 L438.3 304.4 L438.8 305 L439.4 304.8 L439.9 304.2 L440.4 304.3 L440.9 304.2 L441.4 304.7 L441.9 304.8 L442.5 304.7 L443 304.8 L443.5 304.3 L444 304.8 L444.5 304.4 L445 305 L445.6 304.7 L446.1 304.3 L446.6 305.1 L447.1 305.1" fill="none" stroke="#000" stroke-width="2.3" stroke-linejoin="round"/><path d="M326.5 293.4 V289.7" stroke="#000" stroke-width="1.5"/><path d="M274.8 307.8 V313.5" stroke="#000" stroke-width="2.2"/><path d="M264 308.8 L264.5 308.8 L264.9 308.8 L265.3 308.8 L265.7 308.8 L266.2 308.8 L266.6 308.8 L267 308.8 L267.5 308.8 L267.9 308.8 L268.3 308.8 L268.8 308.8 L269.2 308.8 L269.6 308.8 L270.1 308.8 L270.5 308.8 L270.9 308.8 L271.4 308.8 L271.8 308.8 L272.2 308.8 L272.6 308.8 L273.1 308.8 L273.5 308.8 L273.9 308.8 L274.4 308.8 L274.8 308.8 L275.2 303.2 L276.1 293 L277 283.9 L277.8 275.7 L278.7 268.4 L279.5 261.9 L280.4 256.1 L281.3 250.9 L282.1 246.2 L283 242 L283.9 238.3 L284.7 235 L285.6 232 L286.4 229.3 L287.3 226.9 L288.2 224.8 L289 222.9 L289.9 221.2 L290.7 219.7 L291.6 218.3 L292.5 217.1 L293.3 216 L294.2 215 L295.1 214.2 L295.9 213.4 L296.8 212.7 L297.6 212.1 L298.5 211.5 L299.4 211 L300.2 210.6 L301.1 210.2 L302 209.8 L302.8 209.5 L303.7 209.2 L304.5 209 L305.4 208.8 L306.3 208.6 L307.1 208.4 L308 208.2 L308.8 208.1 L309.7 207.9 L310.6 207.8 L311.4 207.7 L312.3 207.6 L313.2 207.5 L314 207.5 L314.9 207.4 L315.7 207.3 L316.6 207.3 L317.5 207.2 L318.3 207.2 L319.2 207.2 L320.1 207.1 L320.9 207.1 L321.8 207.1 L322.6 207.1 L323.5 207 L324.4 207 L325.2 207 L326.1 207 L327 208 L327.8 210 L328.7 212 L329.5 213.9 L330.4 215.8 L331.3 217.6 L332.1 219.4 L333 221.2 L333.8 222.9 L334.7 224.6 L335.6 226.2 L336.4 227.8 L337.3 229.4 L338.2 230.9 L339 232.4 L339.9 233.9 L340.7 235.3 L341.6 236.7 L342.5 238.1 L343.3 239.5 L344.2 240.8 L345.1 242.1 L345.9 243.3 L346.8 244.5 L347.6 245.7 L348.5 246.9 L349.4 248.1 L350.2 249.2 L351.1 250.3 L351.9 251.4 L352.8 252.4 L353.7 253.5 L354.5 254.5 L355.4 255.5 L356.3 256.4 L357.1 257.4 L358 258.3 L358.8 259.2 L359.7 260.1 L360.6 261 L361.4 261.9 L362.3 262.7 L363.2 263.5 L364 264.3 L364.9 265.1 L365.7 265.9 L366.6 266.6 L367.5 267.4 L368.3 268.1 L369.2 268.8 L370.1 269.5 L370.9 270.2 L371.8 270.8 L372.6 271.5 L373.5 272.1 L374.4 272.7 L375.2 273.4 L376.1 274 L376.9 274.5 L377.8 275.1 L378.7 275.7 L379.5 276.2 L380.4 276.8 L381.3 277.3 L382.1 277.9 L383 278.4 L383.8 278.9 L384.7 279.4 L385.6 279.8 L386.4 280.3 L387.3 280.8 L388.2 281.2 L389 281.7 L389.9 282.1 L390.7 282.6 L391.6 283 L392.5 283.4 L393.3 283.8 L394.2 284.2 L395 284.6 L395.9 285 L396.8 285.4 L397.6 285.7 L398.5 286.1 L399.4 286.5 L400.2 286.8 L401.1 287.2 L401.9 287.5 L402.8 287.8 L403.7 288.1 L404.5 288.5 L405.4 288.8 L406.3 289.1 L407.1 289.4 L408 289.7 L408.8 290 L409.7 290.3 L410.6 290.6 L411.4 290.8 L412.3 291.1 L413.2 291.4 L414 291.6 L414.9 291.9 L415.7 292.1 L416.6 292.4 L417.5 292.6 L418.3 292.9 L419.2 293.1 L420 293.3 L420.9 293.6 L421.8 293.8 L422.6 294 L423.5 294.2 L424.4 294.4 L425.2 294.7 L426.1 294.9 L426.9 295.1 L427.8 295.3 L428.7 295.5 L429.5 295.7 L430.4 295.8 L431.3 296 L432.1 296.2 L433 296.4 L433.8 296.6 L434.7 296.7 L435.6 296.9 L436.4 297.1 L437.3 297.3 L438.1 297.4 L439 297.6 L439.9 297.7 L440.7 297.9 L441.6 298 L442.5 298.2 L443.3 298.3 L444.2 298.5 L445 298.6 L445.9 298.8 L446.8 298.9" fill="none" stroke="#cf1010" stroke-width="1.6" stroke-linejoin="round"/><path d="M264 308.8 L264.5 308.8 L264.9 308.8 L265.3 308.8 L265.7 308.8 L266.2 308.8 L266.6 308.8 L267 308.8 L267.5 308.8 L267.9 308.8 L268.3 308.8 L268.8 308.8 L269.2 308.8 L269.6 308.8 L270.1 308.8 L270.5 308.8 L270.9 308.8 L271.4 308.8 L271.8 308.8 L272.2 308.8 L272.6 308.8 L273.1 308.8 L273.5 308.8 L273.9 308.8 L274.4 308.8 L274.8 308.8 L275.2 304.4 L276.1 296.2 L277 288.8 L277.8 282 L278.7 275.9 L279.5 270.4 L280.4 265.4 L281.3 260.8 L282.1 256.7 L283 253 L283.9 249.6 L284.7 246.5 L285.6 243.7 L286.4 241.2 L287.3 238.9 L288.2 236.8 L289 234.9 L289.9 233.2 L290.7 231.7 L291.6 230.3 L292.5 229 L293.3 227.8 L294.2 226.8 L295.1 225.9 L295.9 225 L296.8 224.2 L297.6 223.5 L298.5 222.9 L299.4 222.3 L300.2 221.8 L301.1 221.3 L302 220.8 L302.8 220.5 L303.7 220.1 L304.5 219.8 L305.4 219.5 L306.3 219.2 L307.1 219 L308 218.8 L308.8 218.6 L309.7 218.4 L310.6 218.2 L311.4 218.1 L312.3 217.9 L313.2 217.8 L314 217.7 L314.9 217.6 L315.7 217.5 L316.6 217.4 L317.5 217.4 L318.3 217.3 L319.2 217.2 L320.1 217.2 L320.9 217.1 L321.8 217.1 L322.6 217 L323.5 217 L324.4 217 L325.2 216.9 L326.1 216.9 L327 217.8 L327.8 219.6 L328.7 221.4 L329.5 223.2 L330.4 224.9 L331.3 226.5 L332.1 228.1 L333 229.7 L333.8 231.3 L334.7 232.8 L335.6 234.3 L336.4 235.7 L337.3 237.1 L338.2 238.5 L339 239.9 L339.9 241.2 L340.7 242.5 L341.6 243.8 L342.5 245 L343.3 246.2 L344.2 247.4 L345.1 248.6 L345.9 249.7 L346.8 250.8 L347.6 251.9 L348.5 253 L349.4 254 L350.2 255 L351.1 256 L351.9 257 L352.8 257.9 L353.7 258.9 L354.5 259.8 L355.4 260.7 L356.3 261.6 L357.1 262.4 L358 263.2 L358.8 264.1 L359.7 264.9 L360.6 265.7 L361.4 266.4 L362.3 267.2 L363.2 267.9 L364 268.6 L364.9 269.4 L365.7 270 L366.6 270.7 L367.5 271.4 L368.3 272 L369.2 272.7 L370.1 273.3 L370.9 273.9 L371.8 274.5 L372.6 275.1 L373.5 275.7 L374.4 276.3 L375.2 276.8 L376.1 277.4 L376.9 277.9 L377.8 278.4 L378.7 278.9 L379.5 279.4 L380.4 279.9 L381.3 280.4 L382.1 280.9 L383 281.3 L383.8 281.8 L384.7 282.2 L385.6 282.7 L386.4 283.1 L387.3 283.5 L388.2 283.9 L389 284.3 L389.9 284.7 L390.7 285.1 L391.6 285.5 L392.5 285.9 L393.3 286.2 L394.2 286.6 L395 287 L395.9 287.3 L396.8 287.7 L397.6 288 L398.5 288.3 L399.4 288.6 L400.2 289 L401.1 289.3 L401.9 289.6 L402.8 289.9 L403.7 290.2 L404.5 290.4 L405.4 290.7 L406.3 291 L407.1 291.3 L408 291.6 L408.8 291.8 L409.7 292.1 L410.6 292.3 L411.4 292.6 L412.3 292.8 L413.2 293.1 L414 293.3 L414.9 293.5 L415.7 293.8 L416.6 294 L417.5 294.2 L418.3 294.4 L419.2 294.6 L420 294.9 L420.9 295.1 L421.8 295.3 L422.6 295.5 L423.5 295.7 L424.4 295.8 L425.2 296 L426.1 296.2 L426.9 296.4 L427.8 296.6 L428.7 296.8 L429.5 296.9 L430.4 297.1 L431.3 297.3 L432.1 297.4 L433 297.6 L433.8 297.8 L434.7 297.9 L435.6 298.1 L436.4 298.2 L437.3 298.4 L438.1 298.5 L439 298.7 L439.9 298.8 L440.7 299 L441.6 299.1 L442.5 299.2 L443.3 299.4 L444.2 299.5 L445 299.6 L445.9 299.8 L446.8 299.9" fill="none" stroke="#cf1010" stroke-width="1.6" stroke-linejoin="round"/><path d="M264 308.8 L264.5 308.8 L264.9 308.8 L265.3 308.8 L265.7 308.8 L266.2 308.8 L266.6 308.8 L267 308.8 L267.5 308.8 L267.9 308.8 L268.3 308.8 L268.8 308.8 L269.2 308.8 L269.6 308.8 L270.1 308.8 L270.5 308.8 L270.9 308.8 L271.4 308.8 L271.8 308.8 L272.2 308.8 L272.6 308.8 L273.1 308.8 L273.5 308.8 L273.9 308.8 L274.4 308.8 L274.8 308.8 L275.2 305.8 L276.1 300 L277 294.7 L277.8 289.8 L278.7 285.2 L279.5 281 L280.4 277.1 L281.3 273.4 L282.1 270.1 L283 266.9 L283.9 264 L284.7 261.4 L285.6 258.9 L286.4 256.6 L287.3 254.4 L288.2 252.5 L289 250.6 L289.9 248.9 L290.7 247.3 L291.6 245.9 L292.5 244.5 L293.3 243.3 L294.2 242.1 L295.1 241 L295.9 240 L296.8 239.1 L297.6 238.2 L298.5 237.5 L299.4 236.7 L300.2 236 L301.1 235.4 L302 234.8 L302.8 234.3 L303.7 233.8 L304.5 233.3 L305.4 232.9 L306.3 232.5 L307.1 232.1 L308 231.7 L308.8 231.4 L309.7 231.1 L310.6 230.9 L311.4 230.6 L312.3 230.4 L313.2 230.1 L314 229.9 L314.9 229.8 L315.7 229.6 L316.6 229.4 L317.5 229.3 L318.3 229.1 L319.2 229 L320.1 228.9 L320.9 228.8 L321.8 228.7 L322.6 228.6 L323.5 228.5 L324.4 228.4 L325.2 228.3 L326.1 228.3 L327 229 L327.8 230.6 L328.7 232.2 L329.5 233.7 L330.4 235.2 L331.3 236.7 L332.1 238.1 L333 239.5 L333.8 240.8 L334.7 242.2 L335.6 243.5 L336.4 244.7 L337.3 246 L338.2 247.2 L339 248.4 L339.9 249.5 L340.7 250.7 L341.6 251.8 L342.5 252.9 L343.3 253.9 L344.2 255 L345.1 256 L345.9 257 L346.8 258 L347.6 258.9 L348.5 259.8 L349.4 260.8 L350.2 261.6 L351.1 262.5 L351.9 263.4 L352.8 264.2 L353.7 265 L354.5 265.8 L355.4 266.6 L356.3 267.4 L357.1 268.1 L358 268.9 L358.8 269.6 L359.7 270.3 L360.6 271 L361.4 271.7 L362.3 272.3 L363.2 273 L364 273.6 L364.9 274.2 L365.7 274.8 L366.6 275.4 L367.5 276 L368.3 276.6 L369.2 277.1 L370.1 277.7 L370.9 278.2 L371.8 278.8 L372.6 279.3 L373.5 279.8 L374.4 280.3 L375.2 280.8 L376.1 281.2 L376.9 281.7 L377.8 282.2 L378.7 282.6 L379.5 283 L380.4 283.5 L381.3 283.9 L382.1 284.3 L383 284.7 L383.8 285.1 L384.7 285.5 L385.6 285.9 L386.4 286.3 L387.3 286.6 L388.2 287 L389 287.4 L389.9 287.7 L390.7 288 L391.6 288.4 L392.5 288.7 L393.3 289 L394.2 289.3 L395 289.7 L395.9 290 L396.8 290.3 L397.6 290.6 L398.5 290.8 L399.4 291.1 L400.2 291.4 L401.1 291.7 L401.9 291.9 L402.8 292.2 L403.7 292.5 L404.5 292.7 L405.4 293 L406.3 293.2 L407.1 293.4 L408 293.7 L408.8 293.9 L409.7 294.1 L410.6 294.4 L411.4 294.6 L412.3 294.8 L413.2 295 L414 295.2 L414.9 295.4 L415.7 295.6 L416.6 295.8 L417.5 296 L418.3 296.2 L419.2 296.4 L420 296.6 L420.9 296.8 L421.8 296.9 L422.6 297.1 L423.5 297.3 L424.4 297.4 L425.2 297.6 L426.1 297.8 L426.9 297.9 L427.8 298.1 L428.7 298.2 L429.5 298.4 L430.4 298.5 L431.3 298.7 L432.1 298.8 L433 299 L433.8 299.1 L434.7 299.3 L435.6 299.4 L436.4 299.5 L437.3 299.7 L438.1 299.8 L439 299.9 L439.9 300 L440.7 300.2 L441.6 300.3 L442.5 300.4 L443.3 300.5 L444.2 300.6 L445 300.8 L445.9 300.9 L446.8 301" fill="none" stroke="#cf1010" stroke-width="1.6" stroke-linejoin="round"/><path d="M264 308.8 L264.5 308.8 L264.9 308.8 L265.3 308.8 L265.7 308.8 L266.2 308.8 L266.6 308.8 L267 308.8 L267.5 308.8 L267.9 308.8 L268.3 308.8 L268.8 308.8 L269.2 308.8 L269.6 308.8 L270.1 308.8 L270.5 308.8 L270.9 308.8 L271.4 308.8 L271.8 308.8 L272.2 308.8 L272.6 308.8 L273.1 308.8 L273.5 308.8 L273.9 308.8 L274.4 308.8 L274.8 308.8 L275.2 307.8 L276.1 306 L277 304.1 L277.8 302.3 L278.7 300.6 L279.5 298.9 L280.4 297.3 L281.3 295.7 L282.1 294.1 L283 292.6 L283.9 291.1 L284.7 289.7 L285.6 288.3 L286.4 286.9 L287.3 285.6 L288.2 284.3 L289 283 L289.9 281.8 L290.7 280.6 L291.6 279.4 L292.5 278.3 L293.3 277.2 L294.2 276.2 L295.1 275.1 L295.9 274.1 L296.8 273.1 L297.6 272.2 L298.5 271.2 L299.4 270.3 L300.2 269.4 L301.1 268.6 L302 267.7 L302.8 266.9 L303.7 266.1 L304.5 265.3 L305.4 264.6 L306.3 263.9 L307.1 263.1 L308 262.4 L308.8 261.8 L309.7 261.1 L310.6 260.5 L311.4 259.9 L312.3 259.2 L313.2 258.7 L314 258.1 L314.9 257.5 L315.7 257 L316.6 256.4 L317.5 255.9 L318.3 255.4 L319.2 254.9 L320.1 254.5 L320.9 254 L321.8 253.6 L322.6 253.1 L323.5 252.7 L324.4 252.3 L325.2 251.9 L326.1 251.5 L327 251.7 L327.8 252.5 L328.7 253.3 L329.5 254 L330.4 254.8 L331.3 255.5 L332.1 256.3 L333 257 L333.8 257.7 L334.7 258.4 L335.6 259.1 L336.4 259.8 L337.3 260.5 L338.2 261.2 L339 261.8 L339.9 262.5 L340.7 263.1 L341.6 263.8 L342.5 264.4 L343.3 265 L344.2 265.6 L345.1 266.2 L345.9 266.8 L346.8 267.4 L347.6 268 L348.5 268.5 L349.4 269.1 L350.2 269.7 L351.1 270.2 L351.9 270.7 L352.8 271.3 L353.7 271.8 L354.5 272.3 L355.4 272.8 L356.3 273.3 L357.1 273.8 L358 274.3 L358.8 274.8 L359.7 275.2 L360.6 275.7 L361.4 276.2 L362.3 276.6 L363.2 277.1 L364 277.5 L364.9 278 L365.7 278.4 L366.6 278.8 L367.5 279.2 L368.3 279.6 L369.2 280 L370.1 280.4 L370.9 280.8 L371.8 281.2 L372.6 281.6 L373.5 282 L374.4 282.4 L375.2 282.7 L376.1 283.1 L376.9 283.4 L377.8 283.8 L378.7 284.1 L379.5 284.5 L380.4 284.8 L381.3 285.2 L382.1 285.5 L383 285.8 L383.8 286.1 L384.7 286.4 L385.6 286.8 L386.4 287.1 L387.3 287.4 L388.2 287.7 L389 288 L389.9 288.2 L390.7 288.5 L391.6 288.8 L392.5 289.1 L393.3 289.4 L394.2 289.6 L395 289.9 L395.9 290.2 L396.8 290.4 L397.6 290.7 L398.5 290.9 L399.4 291.2 L400.2 291.4 L401.1 291.7 L401.9 291.9 L402.8 292.1 L403.7 292.4 L404.5 292.6 L405.4 292.8 L406.3 293 L407.1 293.3 L408 293.5 L408.8 293.7 L409.7 293.9 L410.6 294.1 L411.4 294.3 L412.3 294.5 L413.2 294.7 L414 294.9 L414.9 295.1 L415.7 295.3 L416.6 295.5 L417.5 295.7 L418.3 295.8 L419.2 296 L420 296.2 L420.9 296.4 L421.8 296.6 L422.6 296.7 L423.5 296.9 L424.4 297.1 L425.2 297.2 L426.1 297.4 L426.9 297.5 L427.8 297.7 L428.7 297.9 L429.5 298 L430.4 298.2 L431.3 298.3 L432.1 298.4 L433 298.6 L433.8 298.7 L434.7 298.9 L435.6 299 L436.4 299.1 L437.3 299.3 L438.1 299.4 L439 299.5 L439.9 299.7 L440.7 299.8 L441.6 299.9 L442.5 300 L443.3 300.2 L444.2 300.3 L445 300.4 L445.9 300.5 L446.8 300.6" fill="none" stroke="#cf1010" stroke-width="1.6" stroke-linejoin="round"/><path d="M264 308.8 L264.5 308.8 L264.9 308.8 L265.3 308.8 L265.7 308.8 L266.2 308.8 L266.6 308.8 L267 308.8 L267.5 308.8 L267.9 308.8 L268.3 308.8 L268.8 308.8 L269.2 308.8 L269.6 308.8 L270.1 308.8 L270.5 308.8 L270.9 308.8 L271.4 308.8 L271.8 308.8 L272.2 308.8 L272.6 308.8 L273.1 308.8 L273.5 308.8 L273.9 308.8 L274.4 308.8 L274.8 308.8 L275.2 308.6 L276.1 308.1 L277 307.6 L277.8 307.1 L278.7 306.6 L279.5 306.1 L280.4 305.7 L281.3 305.2 L282.1 304.7 L283 304.3 L283.9 303.8 L284.7 303.3 L285.6 302.9 L286.4 302.4 L287.3 302 L288.2 301.5 L289 301.1 L289.9 300.6 L290.7 300.2 L291.6 299.7 L292.5 299.3 L293.3 298.9 L294.2 298.4 L295.1 298 L295.9 297.6 L296.8 297.2 L297.6 296.7 L298.5 296.3 L299.4 295.9 L300.2 295.5 L301.1 295.1 L302 294.7 L302.8 294.3 L303.7 293.8 L304.5 293.4 L305.4 293 L306.3 292.6 L307.1 292.3 L308 291.9 L308.8 291.5 L309.7 291.1 L310.6 290.7 L311.4 290.3 L312.3 289.9 L313.2 289.6 L314 289.2 L314.9 288.8 L315.7 288.4 L316.6 288.1 L317.5 287.7 L318.3 287.3 L319.2 287 L320.1 286.6 L320.9 286.3 L321.8 285.9 L322.6 285.5 L323.5 285.2 L324.4 284.8 L325.2 284.5 L326.1 284.1 L327 284.1 L327.8 284.3 L328.7 284.6 L329.5 284.8 L330.4 285.1 L331.3 285.3 L332.1 285.5 L333 285.8 L333.8 286 L334.7 286.2 L335.6 286.4 L336.4 286.7 L337.3 286.9 L338.2 287.1 L339 287.3 L339.9 287.5 L340.7 287.8 L341.6 288 L342.5 288.2 L343.3 288.4 L344.2 288.6 L345.1 288.8 L345.9 289 L346.8 289.2 L347.6 289.4 L348.5 289.6 L349.4 289.8 L350.2 289.9 L351.1 290.1 L351.9 290.3 L352.8 290.5 L353.7 290.7 L354.5 290.9 L355.4 291 L356.3 291.2 L357.1 291.4 L358 291.6 L358.8 291.7 L359.7 291.9 L360.6 292.1 L361.4 292.2 L362.3 292.4 L363.2 292.6 L364 292.7 L364.9 292.9 L365.7 293 L366.6 293.2 L367.5 293.4 L368.3 293.5 L369.2 293.7 L370.1 293.8 L370.9 294 L371.8 294.1 L372.6 294.3 L373.5 294.4 L374.4 294.5 L375.2 294.7 L376.1 294.8 L376.9 295 L377.8 295.1 L378.7 295.2 L379.5 295.4 L380.4 295.5 L381.3 295.6 L382.1 295.8 L383 295.9 L383.8 296 L384.7 296.2 L385.6 296.3 L386.4 296.4 L387.3 296.5 L388.2 296.7 L389 296.8 L389.9 296.9 L390.7 297 L391.6 297.1 L392.5 297.2 L393.3 297.4 L394.2 297.5 L395 297.6 L395.9 297.7 L396.8 297.8 L397.6 297.9 L398.5 298 L399.4 298.1 L400.2 298.2 L401.1 298.3 L401.9 298.5 L402.8 298.6 L403.7 298.7 L404.5 298.8 L405.4 298.9 L406.3 299 L407.1 299.1 L408 299.2 L408.8 299.2 L409.7 299.3 L410.6 299.4 L411.4 299.5 L412.3 299.6 L413.2 299.7 L414 299.8 L414.9 299.9 L415.7 300 L416.6 300.1 L417.5 300.2 L418.3 300.2 L419.2 300.3 L420 300.4 L420.9 300.5 L421.8 300.6 L422.6 300.7 L423.5 300.7 L424.4 300.8 L425.2 300.9 L426.1 301 L426.9 301.1 L427.8 301.1 L428.7 301.2 L429.5 301.3 L430.4 301.4 L431.3 301.4 L432.1 301.5 L433 301.6 L433.8 301.7 L434.7 301.7 L435.6 301.8 L436.4 301.9 L437.3 301.9 L438.1 302 L439 302.1 L439.9 302.1 L440.7 302.2 L441.6 302.3 L442.5 302.3 L443.3 302.4 L444.2 302.5 L445 302.5 L445.9 302.6 L446.8 302.6" fill="none" stroke="#cf1010" stroke-width="1.6" stroke-linejoin="round"/><path d="M264 308.8 L264.5 308.8 L264.9 308.8 L265.3 308.8 L265.7 308.8 L266.2 308.8 L266.6 308.8 L267 308.8 L267.5 308.8 L267.9 308.8 L268.3 308.8 L268.8 308.8 L269.2 308.8 L269.6 308.8 L270.1 308.8 L270.5 308.8 L270.9 308.8 L271.4 308.8 L271.8 308.8 L272.2 308.8 L272.6 308.8 L273.1 308.8 L273.5 308.8 L273.9 308.8 L274.4 308.8 L274.8 308.8 L275.2 308.7 L276.1 308.4 L277 308.1 L277.8 307.8 L278.7 307.5 L279.5 307.2 L280.4 306.9 L281.3 306.6 L282.1 306.4 L283 306.1 L283.9 305.8 L284.7 305.5 L285.6 305.2 L286.4 305 L287.3 304.7 L288.2 304.4 L289 304.1 L289.9 303.9 L290.7 303.6 L291.6 303.3 L292.5 303 L293.3 302.8 L294.2 302.5 L295.1 302.2 L295.9 301.9 L296.8 301.7 L297.6 301.4 L298.5 301.1 L299.4 300.9 L300.2 300.6 L301.1 300.3 L302 300.1 L302.8 299.8 L303.7 299.6 L304.5 299.3 L305.4 299 L306.3 298.8 L307.1 298.5 L308 298.3 L308.8 298 L309.7 297.7 L310.6 297.5 L311.4 297.2 L312.3 297 L313.2 296.7 L314 296.5 L314.9 296.2 L315.7 296 L316.6 295.7 L317.5 295.5 L318.3 295.2 L319.2 295 L320.1 294.7 L320.9 294.5 L321.8 294.2 L322.6 294 L323.5 293.7 L324.4 293.5 L325.2 293.2 L326.1 293 L327 293 L327.8 293.1 L328.7 293.3 L329.5 293.4 L330.4 293.6 L331.3 293.7 L332.1 293.9 L333 294 L333.8 294.2 L334.7 294.3 L335.6 294.5 L336.4 294.6 L337.3 294.7 L338.2 294.9 L339 295 L339.9 295.2 L340.7 295.3 L341.6 295.4 L342.5 295.6 L343.3 295.7 L344.2 295.8 L345.1 296 L345.9 296.1 L346.8 296.2 L347.6 296.3 L348.5 296.5 L349.4 296.6 L350.2 296.7 L351.1 296.8 L351.9 296.9 L352.8 297.1 L353.7 297.2 L354.5 297.3 L355.4 297.4 L356.3 297.5 L357.1 297.6 L358 297.7 L358.8 297.9 L359.7 298 L360.6 298.1 L361.4 298.2 L362.3 298.3 L363.2 298.4 L364 298.5 L364.9 298.6 L365.7 298.7 L366.6 298.8 L367.5 298.9 L368.3 299 L369.2 299.1 L370.1 299.2 L370.9 299.3 L371.8 299.4 L372.6 299.5 L373.5 299.6 L374.4 299.7 L375.2 299.7 L376.1 299.8 L376.9 299.9 L377.8 300 L378.7 300.1 L379.5 300.2 L380.4 300.3 L381.3 300.4 L382.1 300.4 L383 300.5 L383.8 300.6 L384.7 300.7 L385.6 300.8 L386.4 300.9 L387.3 300.9 L388.2 301 L389 301.1 L389.9 301.2 L390.7 301.2 L391.6 301.3 L392.5 301.4 L393.3 301.5 L394.2 301.5 L395 301.6 L395.9 301.7 L396.8 301.8 L397.6 301.8 L398.5 301.9 L399.4 302 L400.2 302 L401.1 302.1 L401.9 302.2 L402.8 302.2 L403.7 302.3 L404.5 302.4 L405.4 302.4 L406.3 302.5 L407.1 302.5 L408 302.6 L408.8 302.7 L409.7 302.7 L410.6 302.8 L411.4 302.9 L412.3 302.9 L413.2 303 L414 303 L414.9 303.1 L415.7 303.1 L416.6 303.2 L417.5 303.3 L418.3 303.3 L419.2 303.4 L420 303.4 L420.9 303.5 L421.8 303.5 L422.6 303.6 L423.5 303.6 L424.4 303.7 L425.2 303.7 L426.1 303.8 L426.9 303.8 L427.8 303.9 L428.7 303.9 L429.5 304 L430.4 304 L431.3 304.1 L432.1 304.1 L433 304.2 L433.8 304.2 L434.7 304.3 L435.6 304.3 L436.4 304.3 L437.3 304.4 L438.1 304.4 L439 304.5 L439.9 304.5 L440.7 304.6 L441.6 304.6 L442.5 304.7 L443.3 304.7 L444.2 304.7 L445 304.8 L445.9 304.8 L446.8 304.9" fill="none" stroke="#cf1010" stroke-width="1.6" stroke-linejoin="round"/></g><path d="M264 191.1 V313.5 H447.8" fill="none" stroke="#000" stroke-width="1.3"/><path d="M260.5 308.8 H264" stroke="#000" stroke-width="1.2"/><text x="258.4" y="311.9" font-size="9.1" font-weight="bold" text-anchor="end">0</text><path d="M260.5 285.4 H264" stroke="#000" stroke-width="1.2"/><text x="258.4" y="288.5" font-size="9.1" font-weight="bold" text-anchor="end">25</text><path d="M260.5 262 H264" stroke="#000" stroke-width="1.2"/><text x="258.4" y="265.1" font-size="9.1" font-weight="bold" text-anchor="end">50</text><path d="M260.5 238.5 H264" stroke="#000" stroke-width="1.2"/><text x="258.4" y="241.6" font-size="9.1" font-weight="bold" text-anchor="end">75</text><path d="M260.5 215.1 H264" stroke="#000" stroke-width="1.2"/><text x="258.4" y="218.2" font-size="9.1" font-weight="bold" text-anchor="end">100</text><path d="M260.5 191.7 H264" stroke="#000" stroke-width="1.2"/><text x="258.4" y="194.8" font-size="9.1" font-weight="bold" text-anchor="end">125</text><path d="M274.8 313.5 V317" stroke="#000" stroke-width="1.2"/><text x="274.8" y="327.3" font-size="9.1" font-weight="bold" text-anchor="middle">0</text><path d="M317.9 313.5 V317" stroke="#000" stroke-width="1.2"/><text x="317.9" y="327.3" font-size="9.1" font-weight="bold" text-anchor="middle">100</text><path d="M361 313.5 V317" stroke="#000" stroke-width="1.2"/><text x="361" y="327.3" font-size="9.1" font-weight="bold" text-anchor="middle">200</text><path d="M404.1 313.5 V317" stroke="#000" stroke-width="1.2"/><text x="404.1" y="327.3" font-size="9.1" font-weight="bold" text-anchor="middle">300</text><path d="M447.2 313.5 V317" stroke="#000" stroke-width="1.2"/><text x="447.2" y="327.3" font-size="9.1" font-weight="bold" text-anchor="middle">400</text><text x="353.6" y="338.4" font-size="11.5" text-anchor="middle">Time (s)</text><text transform="translate(239.5 249.1) rotate(-90)" font-size="11.5" text-anchor="middle">Response (RU)</text><text x="353.2" y="190.7" font-size="11.4" text-anchor="middle">T56R, T103R</text><text x="338.8" y="206.5" font-size="8.75"><tspan font-style="italic">k</tspan><tspan font-size="5.0" dy="2">on</tspan><tspan dy="-2"> = 8.3 (±0.9) × 10</tspan><tspan font-size="5.0" dy="-3.5">6</tspan><tspan dy="3.5"> M</tspan><tspan font-size="5.0" dy="-3.5">-1</tspan><tspan dy="3.5">s</tspan><tspan font-size="5.0" dy="-3.5">-1</tspan></text><text x="338.8" y="219.5" font-size="8.75"><tspan font-style="italic">k</tspan><tspan font-size="5.0" dy="2">off</tspan><tspan dy="-2"> = 1.9 (±0.2) × 10</tspan><tspan font-size="5.0" dy="-3.5">-2</tspan><tspan dy="3.5"> s</tspan><tspan font-size="5.0" dy="-3.5">-1</tspan></text><text x="338.8" y="232.5" font-size="8.75"><tspan font-style="italic">K</tspan><tspan font-size="5.0" dy="2">D</tspan><tspan dy="-2"> = 2.3 (±0.0) nM</tspan></text><text x="421.3" y="255.2" font-size="9" text-anchor="middle">10 nM</text><text x="421.3" y="283.7" font-size="9" text-anchor="middle">0.5 nM</text><path d="M421.3 258.1 V271.2" stroke="#000" stroke-width="1.7"/><path d="M416.5 268.8 L421.3 270.5 L426.1 268.8 L421.3 274.5 Z" fill="#000"/><g><path d="M491.7 309 L492.2 309 L492.8 309 L493.3 309 L493.8 309 L494.3 309 L494.8 309 L495.3 309 L495.9 309 L496.4 309 L496.9 309 L497.4 309 L497.9 309 L498.4 309 L499 309 L499.5 309 L500 309 L500.5 309 L501 309 L501.6 309 L502.1 309 L502.6 307.8 L503.1 300.2 L503.6 292.6 L504.1 286 L504.7 278.9 L505.2 273.9 L505.7 269.1 L506.2 263.3 L506.7 258.7 L507.2 254.8 L507.8 250.8 L508.3 247 L508.8 244.1 L509.3 240.8 L509.8 237.9 L510.3 234.9 L510.9 232.5 L511.4 230.6 L511.9 229 L512.4 226.4 L512.9 224.9 L513.4 222.8 L514 221.6 L514.5 220.2 L515 218.7 L515.5 217.9 L516 216.8 L516.6 214.9 L517.1 214.9 L517.6 213.5 L518.1 212.7 L518.6 211.9 L519.1 211.1 L519.7 211.2 L520.2 209.9 L520.7 210.3 L521.2 209.1 L521.7 208.6 L522.2 207.9 L522.8 207.5 L523.3 207.7 L523.8 207.2 L524.3 206.8 L524.8 206.7 L525.3 206.4 L525.9 206.1 L526.4 205.4 L526.9 205.1 L527.4 205.1 L527.9 204.6 L528.4 204.9 L529 205.1 L529.5 204.8 L530 204.4 L530.5 204.1 L531 203.9 L531.5 204.4 L532.1 203.8 L532.6 204.1 L533.1 203.7 L533.6 203.5 L534.1 203.3 L534.7 203.8 L535.2 203.5 L535.7 203.4 L536.2 203.6 L536.7 203.4 L537.2 203.2 L537.8 203.8 L538.3 203.5 L538.8 202.6 L539.3 203.1 L539.8 203.4 L540.3 203.7 L540.9 203.4 L541.4 203 L541.9 202.9 L542.4 202.9 L542.9 202.9 L543.4 203.2 L544 202.6 L544.5 203.3 L545 202.8 L545.5 203.1 L546 203.5 L546.5 202.7 L547.1 203 L547.6 202.7 L548.1 202.6 L548.6 202.9 L549.1 203.1 L549.7 203 L550.2 202.9 L550.7 202.5 L551.2 202.6 L551.7 202.4 L552.2 202.7 L552.8 203.1 L553.3 202.6 L553.8 202.6 L554.3 203.2 L554.8 204.5 L555.3 206.3 L555.9 208.1 L556.4 209.2 L556.9 210.4 L557.4 212.2 L557.9 214.1 L558.4 215 L559 215.8 L559.5 217.4 L560 218.4 L560.5 220.3 L561 221.4 L561.5 222.8 L562.1 224 L562.6 224.8 L563.1 226.1 L563.6 227.4 L564.1 228.3 L564.7 229.9 L565.2 230.7 L565.7 232.1 L566.2 233.1 L566.7 234.1 L567.2 235 L567.8 235.3 L568.3 236.3 L568.8 237.3 L569.3 238.8 L569.8 239.3 L570.3 240.8 L570.9 241.5 L571.4 242.1 L571.9 243.5 L572.4 243.9 L572.9 244.6 L573.4 246.2 L574 247.1 L574.5 247.2 L575 248 L575.5 248.7 L576 249.8 L576.5 250 L577.1 250.9 L577.6 251.8 L578.1 251.9 L578.6 252.9 L579.1 253.5 L579.6 253.8 L580.2 255.2 L580.7 255.7 L581.2 256.8 L581.7 257 L582.2 257.4 L582.8 257.4 L583.3 258.6 L583.8 259.2 L584.3 260.3 L584.8 260.7 L585.3 261.5 L585.9 261.9 L586.4 262 L586.9 262.5 L587.4 263.4 L587.9 263.7 L588.4 264.4 L589 264.4 L589.5 264.9 L590 265.7 L590.5 266.2 L591 266.9 L591.5 267.1 L592.1 266.8 L592.6 267.9 L593.1 268 L593.6 268.5 L594.1 268.7 L594.6 269.6 L595.2 270.2 L595.7 270 L596.2 270.5 L596.7 271.3 L597.2 271.2 L597.8 271.9 L598.3 272.2 L598.8 272.1 L599.3 272.8 L599.8 273.2 L600.3 273.7 L600.9 273.9 L601.4 274 L601.9 274.5 L602.4 275.2 L602.9 275.2 L603.4 275.6 L604 275.8 L604.5 276.3 L605 277.2 L605.5 277.3 L606 277.2 L606.5 278 L607.1 278.1 L607.6 277.4 L608.1 278 L608.6 278.6 L609.1 278.7 L609.6 279.7 L610.2 279.2 L610.7 279.3 L611.2 279.7 L611.7 280.4 L612.2 280 L612.7 280.7 L613.3 280.9 L613.8 280.9 L614.3 281.3 L614.8 280.8 L615.3 281.7 L615.9 281.3 L616.4 282 L616.9 282.7 L617.4 282.5 L617.9 282.7 L618.4 282.5 L619 282.8 L619.5 282.6 L620 283.7 L620.5 283.9 L621 283.2 L621.5 284.4 L622.1 284.2 L622.6 284 L623.1 285 L623.6 285 L624.1 285.2 L624.6 285.1 L625.2 285.3 L625.7 285.6 L626.2 285.5 L626.7 286.1 L627.2 286.2 L627.7 286.1 L628.3 285.8 L628.8 286.5 L629.3 286.7 L629.8 286.4 L630.3 287 L630.9 286.7 L631.4 287.2 L631.9 287.1 L632.4 287.5 L632.9 288 L633.4 288.1 L634 287.9 L634.5 287.6 L635 287.7 L635.5 288.5 L636 287.8 L636.5 289 L637.1 289 L637.6 288.6 L638.1 289.5 L638.6 288.9 L639.1 289.2 L639.6 289.2 L640.2 289.9 L640.7 289.5 L641.2 289.5 L641.7 289.9 L642.2 289.7 L642.7 290.1 L643.3 290.1 L643.8 290.4 L644.3 290.8 L644.8 290.6 L645.3 290.5 L645.9 291 L646.4 291.4 L646.9 291.4 L647.4 290.7 L647.9 291.2 L648.4 291.5 L649 291 L649.5 291.5 L650 292 L650.5 291.8 L651 292 L651.5 291.9 L652.1 292.2 L652.6 292 L653.1 292 L653.6 292.4 L654.1 292.4 L654.6 292.4 L655.2 292.2 L655.7 292.8 L656.2 292.4 L656.7 292.4 L657.2 292.9 L657.7 293.2 L658.3 293.1 L658.8 293.6 L659.3 293.3 L659.8 293.6 L660.3 293.4 L660.8 293.5 L661.4 293.3 L661.9 293.5 L662.4 293.5 L662.9 293.7 L663.4 293.7 L664 294.2 L664.5 293.7 L665 293.6 L665.5 293.7 L666 294.5 L666.5 294.1 L667.1 294.8 L667.6 294.1 L668.1 294.5 L668.6 294.6 L669.1 294.8 L669.6 294.7 L670.2 294.7 L670.7 295.1 L671.2 294.8 L671.7 294.8 L672.2 294.8 L672.7 295.1 L673.3 295.1 L673.8 294.5 L674.3 294.9 L674.8 295.2" fill="none" stroke="#000" stroke-width="2.3" stroke-linejoin="round"/><path d="M554.2 203.4 V199.7" stroke="#000" stroke-width="1.5"/><path d="M491.7 309 L492.2 309 L492.8 309 L493.3 309 L493.8 309 L494.3 309 L494.8 309 L495.3 309 L495.9 309 L496.4 309 L496.9 309 L497.4 309 L497.9 309 L498.4 309 L499 309 L499.5 309 L500 309 L500.5 309 L501 309 L501.6 309 L502.1 309 L502.6 308.3 L503.1 301.4 L503.6 295.5 L504.1 290.9 L504.7 285 L505.2 280 L505.7 275.5 L506.2 271.2 L506.7 267.3 L507.2 263.1 L507.8 260 L508.3 256.9 L508.8 253.8 L509.3 250.3 L509.8 248.5 L510.3 245.8 L510.9 243.2 L511.4 241.1 L511.9 239 L512.4 236.7 L512.9 235 L513.4 233.5 L514 232.1 L514.5 230.6 L515 229.3 L515.5 227.6 L516 227.1 L516.6 225.9 L517.1 224.6 L517.6 223.8 L518.1 222.8 L518.6 221.3 L519.1 221.5 L519.7 219.9 L520.2 219.8 L520.7 218.8 L521.2 218.3 L521.7 217.8 L522.2 217.4 L522.8 216.4 L523.3 216.8 L523.8 216.1 L524.3 215.2 L524.8 214.4 L525.3 213.8 L525.9 214.1 L526.4 213.9 L526.9 213.4 L527.4 212.9 L527.9 212.5 L528.4 212.8 L529 212.2 L529.5 212.1 L530 211.6 L530.5 211.8 L531 211.6 L531.5 211.6 L532.1 211.6 L532.6 211 L533.1 210.7 L533.6 210.5 L534.1 210.6 L534.7 210.7 L535.2 210.7 L535.7 210.7 L536.2 210.5 L536.7 210.1 L537.2 210.1 L537.8 210.7 L538.3 210 L538.8 210 L539.3 210.1 L539.8 209.8 L540.3 209.5 L540.9 210 L541.4 210 L541.9 209.7 L542.4 209.4 L542.9 209.6 L543.4 209 L544 209.4 L544.5 209.7 L545 209.1 L545.5 209.5 L546 209.1 L546.5 209.2 L547.1 208.9 L547.6 209.5 L548.1 209 L548.6 209 L549.1 209.4 L549.7 208.9 L550.2 208.5 L550.7 209 L551.2 209.3 L551.7 209.1 L552.2 208.7 L552.8 209 L553.3 208.6 L553.8 209.2 L554.3 208.9 L554.8 211.2 L555.3 212.2 L555.9 213.7 L556.4 215.1 L556.9 216 L557.4 217.9 L557.9 218.9 L558.4 219.7 L559 221.3 L559.5 222.9 L560 224.2 L560.5 225.8 L561 226.3 L561.5 227.3 L562.1 228.4 L562.6 229.8 L563.1 230.3 L563.6 231.8 L564.1 233.8 L564.7 234.4 L565.2 234.9 L565.7 236.3 L566.2 236.9 L566.7 237.3 L567.2 239.3 L567.8 239.3 L568.3 240.9 L568.8 242.2 L569.3 242.7 L569.8 243.3 L570.3 244.6 L570.9 244.8 L571.4 246.3 L571.9 247 L572.4 247.4 L572.9 248.6 L573.4 249.4 L574 250 L574.5 250.6 L575 251 L575.5 251.8 L576 252.4 L576.5 253.6 L577.1 254.8 L577.6 255 L578.1 255.8 L578.6 256.6 L579.1 257.1 L579.6 257.6 L580.2 258.2 L580.7 258.5 L581.2 259.6 L581.7 259.6 L582.2 260.5 L582.8 260.9 L583.3 261.3 L583.8 262.6 L584.3 262.3 L584.8 263.5 L585.3 263.7 L585.9 264 L586.4 264.5 L586.9 265.8 L587.4 265.7 L587.9 265.9 L588.4 266.8 L589 267.2 L589.5 267.6 L590 267.6 L590.5 268.7 L591 269.3 L591.5 269.7 L592.1 270 L592.6 270.3 L593.1 270.5 L593.6 271.1 L594.1 272 L594.6 272.3 L595.2 272 L595.7 272.4 L596.2 273.4 L596.7 273 L597.2 274.4 L597.8 273.3 L598.3 274.2 L598.8 275.2 L599.3 274.9 L599.8 275.4 L600.3 275.8 L600.9 276.1 L601.4 276.4 L601.9 276.7 L602.4 277.2 L602.9 277.4 L603.4 277.4 L604 277.7 L604.5 278.5 L605 278.6 L605.5 278.2 L606 278.8 L606.5 278.7 L607.1 279.9 L607.6 280.1 L608.1 280.7 L608.6 280.9 L609.1 280.6 L609.6 281.1 L610.2 281.3 L610.7 281.5 L611.2 281.5 L611.7 281.5 L612.2 281.8 L612.7 282.7 L613.3 282 L613.8 282.7 L614.3 283.1 L614.8 283.1 L615.3 283.4 L615.9 283.9 L616.4 283.2 L616.9 284.1 L617.4 284.3 L617.9 284.1 L618.4 284 L619 284.5 L619.5 285.1 L620 284.9 L620.5 284.9 L621 285.3 L621.5 285.4 L622.1 285.9 L622.6 285.9 L623.1 286.6 L623.6 286.5 L624.1 286.8 L624.6 286.6 L625.2 286.3 L625.7 287.6 L626.2 287.5 L626.7 287.5 L627.2 287.4 L627.7 287.2 L628.3 287.9 L628.8 288.1 L629.3 287.6 L629.8 288 L630.3 288.1 L630.9 288.1 L631.4 288.8 L631.9 288.6 L632.4 289 L632.9 289.2 L633.4 289 L634 289.1 L634.5 289.7 L635 289.7 L635.5 289.4 L636 289.7 L636.5 289.6 L637.1 290 L637.6 290.3 L638.1 290 L638.6 290.1 L639.1 291.3 L639.6 290.3 L640.2 290.9 L640.7 290.6 L641.2 290.4 L641.7 291.1 L642.2 291.4 L642.7 291.1 L643.3 291.3 L643.8 291.2 L644.3 291.9 L644.8 291.5 L645.3 291.4 L645.9 291.6 L646.4 291.7 L646.9 291.6 L647.4 292.4 L647.9 291.8 L648.4 292.2 L649 292.7 L649.5 292.6 L650 292.5 L650.5 292.6 L651 292.3 L651.5 292.8 L652.1 293.1 L652.6 292.4 L653.1 293.2 L653.6 293.4 L654.1 293 L654.6 293.5 L655.2 293.7 L655.7 293.8 L656.2 293.2 L656.7 294 L657.2 293.7 L657.7 294 L658.3 294 L658.8 294.2 L659.3 294 L659.8 294 L660.3 293.9 L660.8 294.4 L661.4 294.7 L661.9 294.9 L662.4 294.5 L662.9 295.3 L663.4 294.3 L664 294.7 L664.5 294.8 L665 295.3 L665.5 295.1 L666 295.2 L666.5 294.9 L667.1 295.3 L667.6 295 L668.1 295.1 L668.6 295.9 L669.1 295.5 L669.6 295.1 L670.2 295.7 L670.7 295.6 L671.2 295.7 L671.7 296.1 L672.2 295.1 L672.7 295.9 L673.3 295.7 L673.8 296.1 L674.3 295.6 L674.8 295.7" fill="none" stroke="#000" stroke-width="2.3" stroke-linejoin="round"/><path d="M554.2 209.5 V205.8" stroke="#000" stroke-width="1.5"/><path d="M491.7 309 L492.2 309 L492.8 309 L493.3 309 L493.8 309 L494.3 309 L494.8 309 L495.3 309 L495.9 309 L496.4 309 L496.9 309 L497.4 309 L497.9 309 L498.4 309 L499 309 L499.5 309 L500 309 L500.5 309 L501 309 L501.6 309 L502.1 309 L502.6 308 L503.1 304 L503.6 300.2 L504.1 296.3 L504.7 293.1 L505.2 289.9 L505.7 286.5 L506.2 284.1 L506.7 281.7 L507.2 277.9 L507.8 275.6 L508.3 273.3 L508.8 270.9 L509.3 268.8 L509.8 266.7 L510.3 264.3 L510.9 262.4 L511.4 260.4 L511.9 258.9 L512.4 257 L512.9 255.4 L513.4 254.3 L514 253.2 L514.5 251.5 L515 250.1 L515.5 248.9 L516 246.9 L516.6 246.6 L517.1 245.2 L517.6 244.6 L518.1 243.2 L518.6 242.8 L519.1 241.3 L519.7 240.7 L520.2 240.1 L520.7 239.5 L521.2 238 L521.7 237.9 L522.2 236.7 L522.8 237.2 L523.3 236.3 L523.8 234.8 L524.3 234.3 L524.8 234.3 L525.3 233.5 L525.9 233.2 L526.4 233 L526.9 232.4 L527.4 232.4 L527.9 232.1 L528.4 231.3 L529 230.8 L529.5 230.6 L530 230.7 L530.5 229.8 L531 229.7 L531.5 229.3 L532.1 229.3 L532.6 229.1 L533.1 228.4 L533.6 228.1 L534.1 228.7 L534.7 228.5 L535.2 227.6 L535.7 227.6 L536.2 227.6 L536.7 227.7 L537.2 226.9 L537.8 227.1 L538.3 226.9 L538.8 226.7 L539.3 226.9 L539.8 226.5 L540.3 226.4 L540.9 226.1 L541.4 226.1 L541.9 226.5 L542.4 226.3 L542.9 226 L543.4 225.5 L544 226 L544.5 225.4 L545 225.3 L545.5 225.3 L546 224.8 L546.5 225.4 L547.1 225.3 L547.6 224.9 L548.1 225.1 L548.6 224.9 L549.1 225.2 L549.7 224.7 L550.2 224.9 L550.7 225.6 L551.2 224.6 L551.7 225 L552.2 225.2 L552.8 224.9 L553.3 224.9 L553.8 224.4 L554.3 224.9 L554.8 226.1 L555.3 227.2 L555.9 228.5 L556.4 229.5 L556.9 230.5 L557.4 231.5 L557.9 232.8 L558.4 233.6 L559 234.1 L559.5 235.3 L560 236.4 L560.5 237.2 L561 238.3 L561.5 239.5 L562.1 239.7 L562.6 240.2 L563.1 241.6 L563.6 242.3 L564.1 242.6 L564.7 244.6 L565.2 244.8 L565.7 245.9 L566.2 246.6 L566.7 247.8 L567.2 248.1 L567.8 248.7 L568.3 250 L568.8 250.3 L569.3 251 L569.8 251.9 L570.3 252.1 L570.9 252.4 L571.4 253.4 L571.9 253.9 L572.4 254.6 L572.9 255.5 L573.4 255.9 L574 256.3 L574.5 257.4 L575 257.9 L575.5 258.8 L576 259.5 L576.5 259.7 L577.1 259.8 L577.6 260.5 L578.1 261 L578.6 261.2 L579.1 262.7 L579.6 262.2 L580.2 263.1 L580.7 263.4 L581.2 263.6 L581.7 264.8 L582.2 265.3 L582.8 265.3 L583.3 265.9 L583.8 266.5 L584.3 266.8 L584.8 267.4 L585.3 267.6 L585.9 268.1 L586.4 267.9 L586.9 269.1 L587.4 269 L587.9 269.6 L588.4 269.5 L589 270.6 L589.5 270.8 L590 270.6 L590.5 271.6 L591 271.9 L591.5 272.2 L592.1 272.8 L592.6 272.4 L593.1 272.7 L593.6 273.5 L594.1 274 L594.6 274.5 L595.2 274.2 L595.7 274.9 L596.2 274.8 L596.7 276 L597.2 275.7 L597.8 275.7 L598.3 276 L598.8 277.3 L599.3 276.6 L599.8 277 L600.3 277.3 L600.9 277.6 L601.4 277.9 L601.9 278 L602.4 278.1 L602.9 279.5 L603.4 278.8 L604 278.8 L604.5 279.3 L605 279.1 L605.5 280 L606 279.4 L606.5 279.9 L607.1 280.5 L607.6 279.8 L608.1 280.4 L608.6 280.6 L609.1 281.6 L609.6 281.5 L610.2 281.6 L610.7 281.6 L611.2 282.1 L611.7 282.7 L612.2 282.1 L612.7 282.7 L613.3 282.7 L613.8 283.1 L614.3 283.3 L614.8 283.8 L615.3 283.4 L615.9 284 L616.4 284.5 L616.9 284 L617.4 284.3 L617.9 284.2 L618.4 284.4 L619 285.2 L619.5 285 L620 285.1 L620.5 285.3 L621 285.7 L621.5 285.6 L622.1 285.4 L622.6 285.5 L623.1 285.6 L623.6 286 L624.1 287.1 L624.6 286.6 L625.2 286.8 L625.7 287.6 L626.2 286.4 L626.7 286.8 L627.2 287.2 L627.7 287.2 L628.3 287.3 L628.8 287.6 L629.3 287.3 L629.8 287.3 L630.3 287.7 L630.9 288.2 L631.4 288.1 L631.9 288 L632.4 288.2 L632.9 288.8 L633.4 288.4 L634 288.6 L634.5 288.7 L635 289.2 L635.5 289.1 L636 289.8 L636.5 289.4 L637.1 289.6 L637.6 289.7 L638.1 289.8 L638.6 289.9 L639.1 289.9 L639.6 290 L640.2 290.3 L640.7 290.2 L641.2 290.3 L641.7 290.3 L642.2 290.4 L642.7 290.7 L643.3 291 L643.8 291.3 L644.3 291.3 L644.8 290.9 L645.3 291.4 L645.9 290.7 L646.4 291.3 L646.9 291.5 L647.4 291.5 L647.9 291.7 L648.4 291.8 L649 291.7 L649.5 292.2 L650 291.8 L650.5 292 L651 292.3 L651.5 291.8 L652.1 292.1 L652.6 292 L653.1 292.6 L653.6 292.8 L654.1 292.9 L654.6 293.1 L655.2 293.3 L655.7 292.3 L656.2 293 L656.7 292.9 L657.2 293.2 L657.7 293.1 L658.3 292.7 L658.8 293.8 L659.3 293.6 L659.8 293.3 L660.3 293.7 L660.8 293.3 L661.4 293.2 L661.9 293.4 L662.4 293.5 L662.9 293.9 L663.4 293.6 L664 294.2 L664.5 294.4 L665 294.2 L665.5 294.2 L666 293.9 L666.5 294.6 L667.1 294 L667.6 294.6 L668.1 294.9 L668.6 295 L669.1 294.6 L669.6 295.1 L670.2 294.7 L670.7 294.8 L671.2 295 L671.7 295.5 L672.2 295.1 L672.7 294.9 L673.3 295.6 L673.8 295 L674.3 295.2 L674.8 295.4" fill="none" stroke="#000" stroke-width="2.3" stroke-linejoin="round"/><path d="M554.2 225.3 V221.6" stroke="#000" stroke-width="1.5"/><path d="M491.7 309 L492.2 309 L492.8 309 L493.3 309 L493.8 309 L494.3 309 L494.8 309 L495.3 309 L495.9 309 L496.4 309 L496.9 309 L497.4 309 L497.9 309 L498.4 309 L499 309 L499.5 309 L500 309 L500.5 309 L501 309 L501.6 309 L502.1 309 L502.6 308.7 L503.1 307.1 L503.6 305.9 L504.1 304.7 L504.7 302.9 L505.2 302 L505.7 300.3 L506.2 298.9 L506.7 297.5 L507.2 296.2 L507.8 295.2 L508.3 294.3 L508.8 293.2 L509.3 292 L509.8 290.8 L510.3 289 L510.9 288.6 L511.4 288 L511.9 286.3 L512.4 286.2 L512.9 284.5 L513.4 284.2 L514 283.2 L514.5 282.2 L515 281.2 L515.5 280.6 L516 279.2 L516.6 278.6 L517.1 277.3 L517.6 277.3 L518.1 276.7 L518.6 275.2 L519.1 274.7 L519.7 273.6 L520.2 273.9 L520.7 272.9 L521.2 271.8 L521.7 270.6 L522.2 270.9 L522.8 270.4 L523.3 269.4 L523.8 268.2 L524.3 267.5 L524.8 267.8 L525.3 267 L525.9 266.8 L526.4 266 L526.9 265.5 L527.4 264.5 L527.9 263.8 L528.4 262.9 L529 263.2 L529.5 262.4 L530 262.1 L530.5 261.7 L531 260.7 L531.5 260.6 L532.1 259.9 L532.6 259.9 L533.1 259.3 L533.6 259 L534.1 258.8 L534.7 258.6 L535.2 258.1 L535.7 257.6 L536.2 257.3 L536.7 257 L537.2 256.7 L537.8 255.9 L538.3 255.9 L538.8 255.5 L539.3 255.2 L539.8 254.5 L540.3 254.7 L540.9 253.8 L541.4 254.2 L541.9 253.2 L542.4 253.2 L542.9 253.3 L543.4 252.7 L544 252.2 L544.5 252.6 L545 252.1 L545.5 251.7 L546 251.6 L546.5 251.4 L547.1 251.1 L547.6 250.8 L548.1 250.4 L548.6 250 L549.1 250.3 L549.7 249.1 L550.2 249.9 L550.7 249.1 L551.2 249.4 L551.7 249.6 L552.2 249.2 L552.8 248.9 L553.3 248.3 L553.8 249.1 L554.3 248.6 L554.8 249 L555.3 249.4 L555.9 250 L556.4 250.4 L556.9 251.2 L557.4 251.8 L557.9 251.9 L558.4 252.2 L559 253.2 L559.5 253.7 L560 254.5 L560.5 254.2 L561 255.2 L561.5 255.6 L562.1 256.8 L562.6 256.6 L563.1 256.5 L563.6 257.8 L564.1 258.3 L564.7 258.2 L565.2 259.2 L565.7 259.3 L566.2 259.5 L566.7 260.8 L567.2 261.2 L567.8 261.2 L568.3 261.8 L568.8 262.2 L569.3 262.7 L569.8 263.1 L570.3 263.4 L570.9 264.1 L571.4 264.4 L571.9 264.7 L572.4 265.5 L572.9 265.4 L573.4 266.6 L574 266.2 L574.5 266.8 L575 267.5 L575.5 267.1 L576 268.3 L576.5 267.7 L577.1 268.9 L577.6 268.7 L578.1 269.4 L578.6 269.3 L579.1 270.2 L579.6 270.2 L580.2 270.9 L580.7 271.8 L581.2 271.4 L581.7 271.7 L582.2 272.1 L582.8 272.1 L583.3 273.1 L583.8 273.7 L584.3 273.5 L584.8 274.1 L585.3 274.2 L585.9 274.5 L586.4 275.1 L586.9 274.8 L587.4 275.5 L587.9 275.3 L588.4 276 L589 276.1 L589.5 276.8 L590 277.2 L590.5 277.4 L591 277.8 L591.5 277.7 L592.1 278.1 L592.6 278.8 L593.1 279.2 L593.6 279.2 L594.1 279.8 L594.6 279.8 L595.2 280.3 L595.7 279.9 L596.2 280.7 L596.7 280.8 L597.2 280.9 L597.8 281.1 L598.3 281.3 L598.8 281.4 L599.3 281.7 L599.8 282.2 L600.3 282 L600.9 282.5 L601.4 283.1 L601.9 282.7 L602.4 283.7 L602.9 283.4 L603.4 283.5 L604 284 L604.5 284.2 L605 284.5 L605.5 284.5 L606 284.9 L606.5 285.2 L607.1 285.2 L607.6 286.2 L608.1 285.8 L608.6 286.1 L609.1 285.7 L609.6 286.4 L610.2 286.9 L610.7 286.7 L611.2 287.2 L611.7 287.6 L612.2 287.6 L612.7 287.5 L613.3 287.5 L613.8 287.8 L614.3 288.2 L614.8 288.5 L615.3 288.6 L615.9 288.5 L616.4 289.1 L616.9 288.9 L617.4 289.6 L617.9 289.6 L618.4 289.5 L619 289.7 L619.5 290 L620 290.4 L620.5 291 L621 290.7 L621.5 291 L622.1 291.1 L622.6 290.6 L623.1 291.5 L623.6 291.2 L624.1 291.6 L624.6 292.1 L625.2 291.9 L625.7 291.9 L626.2 292.6 L626.7 292.7 L627.2 292.7 L627.7 292.5 L628.3 293 L628.8 292.9 L629.3 293 L629.8 293.3 L630.3 293.3 L630.9 293.2 L631.4 293.8 L631.9 293.8 L632.4 294.3 L632.9 294.3 L633.4 294.3 L634 294.2 L634.5 294.7 L635 295.1 L635.5 294.5 L636 294.2 L636.5 295.8 L637.1 295.5 L637.6 295.3 L638.1 295.3 L638.6 295.9 L639.1 295.6 L639.6 295.5 L640.2 296 L640.7 295.8 L641.2 296.1 L641.7 296.6 L642.2 296.6 L642.7 296.7 L643.3 296.2 L643.8 296.4 L644.3 296.8 L644.8 297.4 L645.3 297.2 L645.9 297.3 L646.4 297.9 L646.9 297.4 L647.4 297.4 L647.9 298 L648.4 297.9 L649 298 L649.5 297.4 L650 297.8 L650.5 297.9 L651 298.2 L651.5 298.7 L652.1 298.2 L652.6 298.7 L653.1 299.2 L653.6 298.5 L654.1 298.9 L654.6 298.9 L655.2 298.9 L655.7 299.2 L656.2 299.1 L656.7 298.9 L657.2 299.5 L657.7 299.6 L658.3 299.5 L658.8 299.4 L659.3 299.8 L659.8 299.8 L660.3 300.1 L660.8 300 L661.4 299.9 L661.9 300.4 L662.4 300.3 L662.9 300.7 L663.4 300.6 L664 300.4 L664.5 300.4 L665 300.9 L665.5 300.7 L666 301 L666.5 300.8 L667.1 300.8 L667.6 300.9 L668.1 301.1 L668.6 301.6 L669.1 301.4 L669.6 301.7 L670.2 301.6 L670.7 301.4 L671.2 301.2 L671.7 301.8 L672.2 301.9 L672.7 301.6 L673.3 302.4 L673.8 301.2 L674.3 302.4 L674.8 301.7" fill="none" stroke="#000" stroke-width="2.3" stroke-linejoin="round"/><path d="M554.2 248.8 V245.1" stroke="#000" stroke-width="1.5"/><path d="M491.7 309 L492.2 309 L492.8 309 L493.3 309 L493.8 309 L494.3 309 L494.8 309 L495.3 309 L495.9 309 L496.4 309 L496.9 309 L497.4 309 L497.9 309 L498.4 309 L499 309 L499.5 309 L500 309 L500.5 309 L501 309 L501.6 309 L502.1 309 L502.6 308.6 L503.1 308.2 L503.6 308.1 L504.1 307.5 L504.7 307.4 L505.2 306.6 L505.7 306.7 L506.2 306.4 L506.7 305.6 L507.2 305.5 L507.8 304.7 L508.3 304.8 L508.8 304.1 L509.3 304.1 L509.8 303.4 L510.3 302.4 L510.9 303 L511.4 302.6 L511.9 302.4 L512.4 301.6 L512.9 300.7 L513.4 300.9 L514 300.2 L514.5 300.1 L515 299.9 L515.5 298.8 L516 298.7 L516.6 299.2 L517.1 298.6 L517.6 297.9 L518.1 297.4 L518.6 297.4 L519.1 296.9 L519.7 296.4 L520.2 296.4 L520.7 295.6 L521.2 295.9 L521.7 295.1 L522.2 294.7 L522.8 294.6 L523.3 294.4 L523.8 294 L524.3 294.3 L524.8 293.3 L525.3 293.4 L525.9 293.3 L526.4 292.2 L526.9 292.3 L527.4 291.7 L527.9 291.4 L528.4 291.7 L529 291.1 L529.5 290.6 L530 290.1 L530.5 289.9 L531 290 L531.5 289.5 L532.1 289 L532.6 289.1 L533.1 288.6 L533.6 288.4 L534.1 288.5 L534.7 287.1 L535.2 287.1 L535.7 287.2 L536.2 286.5 L536.7 286.8 L537.2 285.8 L537.8 286.1 L538.3 285.6 L538.8 285.6 L539.3 285.1 L539.8 284.8 L540.3 284.6 L540.9 284.6 L541.4 283.8 L541.9 283.6 L542.4 283.6 L542.9 283 L543.4 283.3 L544 282.4 L544.5 282.6 L545 281.8 L545.5 282.2 L546 281.8 L546.5 281.5 L547.1 281 L547.6 280.6 L548.1 280.9 L548.6 280.8 L549.1 280.1 L549.7 279.7 L550.2 279.6 L550.7 279.7 L551.2 279 L551.7 279.1 L552.2 278.8 L552.8 278.5 L553.3 278.6 L553.8 278.9 L554.3 278 L554.8 278 L555.3 278.3 L555.9 278.5 L556.4 278.8 L556.9 278.7 L557.4 279.2 L557.9 278.9 L558.4 279.5 L559 279.5 L559.5 280.1 L560 280 L560.5 280.2 L561 280.4 L561.5 280.2 L562.1 280.8 L562.6 280.7 L563.1 281.1 L563.6 281 L564.1 281.8 L564.7 281.8 L565.2 281.6 L565.7 282.3 L566.2 282.1 L566.7 282.2 L567.2 282.5 L567.8 282.6 L568.3 282.7 L568.8 283.1 L569.3 283.1 L569.8 283.5 L570.3 283.6 L570.9 284.1 L571.4 283.8 L571.9 284.5 L572.4 284.1 L572.9 284.2 L573.4 284.8 L574 284.6 L574.5 284.7 L575 285 L575.5 285.3 L576 285.2 L576.5 285.2 L577.1 285.2 L577.6 285.1 L578.1 286.3 L578.6 285.8 L579.1 285.9 L579.6 286.4 L580.2 286.3 L580.7 285.9 L581.2 286.6 L581.7 286.4 L582.2 286.6 L582.8 287.2 L583.3 287.8 L583.8 287 L584.3 287 L584.8 288.1 L585.3 287.8 L585.9 288.1 L586.4 287.9 L586.9 288.1 L587.4 287.9 L587.9 288.5 L588.4 287.9 L589 289.1 L589.5 288.7 L590 288.1 L590.5 289 L591 288.9 L591.5 289.4 L592.1 288.4 L592.6 289.2 L593.1 289.7 L593.6 290.3 L594.1 289.8 L594.6 289.8 L595.2 290.7 L595.7 290.4 L596.2 290.2 L596.7 291.1 L597.2 290.6 L597.8 291.1 L598.3 291.2 L598.8 290.8 L599.3 290.7 L599.8 290.8 L600.3 291.4 L600.9 291.2 L601.4 292 L601.9 292 L602.4 291.5 L602.9 291.9 L603.4 292.2 L604 292.5 L604.5 292.2 L605 291.6 L605.5 292.9 L606 292.7 L606.5 292.2 L607.1 293.2 L607.6 292.9 L608.1 292.8 L608.6 292.6 L609.1 293 L609.6 292.6 L610.2 293.2 L610.7 293.4 L611.2 293.3 L611.7 293.4 L612.2 294 L612.7 294 L613.3 293.9 L613.8 293.8 L614.3 294.3 L614.8 294.3 L615.3 294.4 L615.9 294.2 L616.4 294.5 L616.9 294.3 L617.4 294.4 L617.9 294.9 L618.4 294.8 L619 295.2 L619.5 294.9 L620 294.7 L620.5 295.4 L621 295.7 L621.5 295.1 L622.1 295.4 L622.6 295.4 L623.1 295.4 L623.6 295.5 L624.1 295.4 L624.6 295.9 L625.2 296.5 L625.7 296.1 L626.2 296.1 L626.7 296.2 L627.2 296 L627.7 296.3 L628.3 295.9 L628.8 296.6 L629.3 296.5 L629.8 296.7 L630.3 296 L630.9 297 L631.4 297.1 L631.9 297 L632.4 296.7 L632.9 297 L633.4 297.1 L634 297.6 L634.5 297.9 L635 297.4 L635.5 297.5 L636 296.9 L636.5 297.4 L637.1 297.5 L637.6 297.4 L638.1 298 L638.6 298.2 L639.1 298 L639.6 297.5 L640.2 297.7 L640.7 298.3 L641.2 298.5 L641.7 297.9 L642.2 298 L642.7 298.7 L643.3 297.9 L643.8 298.7 L644.3 298.3 L644.8 298.7 L645.3 298.8 L645.9 298.9 L646.4 298.6 L646.9 298.7 L647.4 298.7 L647.9 299.1 L648.4 299.3 L649 298.5 L649.5 298.7 L650 299.3 L650.5 299.6 L651 298.9 L651.5 299.4 L652.1 299.5 L652.6 299.3 L653.1 299.5 L653.6 299.6 L654.1 299.1 L654.6 300.3 L655.2 299.6 L655.7 300.2 L656.2 299.9 L656.7 300.1 L657.2 300 L657.7 300.8 L658.3 300 L658.8 299.5 L659.3 300.4 L659.8 300.1 L660.3 300.2 L660.8 300.4 L661.4 300.6 L661.9 300.4 L662.4 300.5 L662.9 300.2 L663.4 300.5 L664 301 L664.5 301.7 L665 300.4 L665.5 300.8 L666 300.9 L666.5 301.2 L667.1 300.3 L667.6 300.7 L668.1 301.1 L668.6 301.3 L669.1 301.1 L669.6 300.9 L670.2 301.2 L670.7 301.1 L671.2 301.4 L671.7 301.4 L672.2 301.9 L672.7 301.5 L673.3 301.6 L673.8 301.7 L674.3 301.8 L674.8 301.7" fill="none" stroke="#000" stroke-width="2.3" stroke-linejoin="round"/><path d="M554.2 278.5 V274.8" stroke="#000" stroke-width="1.5"/><path d="M491.7 309 L492.2 309 L492.8 309 L493.3 309 L493.8 309 L494.3 309 L494.8 309 L495.3 309 L495.9 309 L496.4 309 L496.9 309 L497.4 309 L497.9 309 L498.4 309 L499 309 L499.5 309 L500 309 L500.5 309 L501 309 L501.6 309 L502.1 309 L502.6 309.1 L503.1 308.8 L503.6 308.9 L504.1 307.6 L504.7 308.4 L505.2 308.3 L505.7 307.9 L506.2 307.6 L506.7 307.6 L507.2 307.8 L507.8 306.4 L508.3 306.4 L508.8 306.6 L509.3 306.1 L509.8 306.4 L510.3 306.4 L510.9 305.6 L511.4 305.3 L511.9 305.5 L512.4 305.1 L512.9 305.8 L513.4 304.7 L514 304.2 L514.5 304.3 L515 304.1 L515.5 303.8 L516 304.4 L516.6 303.9 L517.1 303.7 L517.6 303.1 L518.1 303.2 L518.6 303.4 L519.1 302.3 L519.7 302.5 L520.2 301.9 L520.7 301.4 L521.2 302.3 L521.7 302.1 L522.2 301.2 L522.8 300.9 L523.3 301 L523.8 300.8 L524.3 300.6 L524.8 300.4 L525.3 300.8 L525.9 300 L526.4 299.7 L526.9 300 L527.4 300 L527.9 299.7 L528.4 299.5 L529 299 L529.5 298.8 L530 298.8 L530.5 298.7 L531 299 L531.5 298.4 L532.1 298.4 L532.6 298.1 L533.1 297.7 L533.6 297.6 L534.1 296.4 L534.7 297.5 L535.2 297.3 L535.7 297.3 L536.2 296.8 L536.7 296.7 L537.2 296.1 L537.8 296.8 L538.3 295.8 L538.8 295.7 L539.3 295.9 L539.8 295.8 L540.3 295.4 L540.9 295.1 L541.4 295.2 L541.9 295 L542.4 294.8 L542.9 295 L543.4 294.4 L544 294.2 L544.5 294.2 L545 294.4 L545.5 293.9 L546 293.7 L546.5 293.5 L547.1 293.5 L547.6 293 L548.1 292.8 L548.6 292.7 L549.1 292.7 L549.7 292.3 L550.2 292.5 L550.7 292.4 L551.2 292.6 L551.7 292 L552.2 291.5 L552.8 292 L553.3 291.3 L553.8 291.8 L554.3 291.2 L554.8 290.9 L555.3 291.5 L555.9 291.9 L556.4 291.6 L556.9 291.8 L557.4 291.6 L557.9 292.1 L558.4 292.6 L559 292.3 L559.5 292.1 L560 292 L560.5 292.3 L561 292.5 L561.5 292.4 L562.1 292.7 L562.6 292.9 L563.1 292.8 L563.6 292.6 L564.1 293.2 L564.7 292.9 L565.2 293.4 L565.7 293.5 L566.2 293.3 L566.7 293.8 L567.2 293.8 L567.8 293.9 L568.3 293.9 L568.8 294 L569.3 293.1 L569.8 293.7 L570.3 294 L570.9 294.5 L571.4 294.9 L571.9 294.1 L572.4 294.5 L572.9 294.1 L573.4 294.6 L574 294.9 L574.5 294.8 L575 295.1 L575.5 295.2 L576 294.6 L576.5 295.1 L577.1 294.8 L577.6 295.2 L578.1 295.2 L578.6 295.4 L579.1 295.4 L579.6 295.5 L580.2 295 L580.7 295.5 L581.2 296.2 L581.7 295.1 L582.2 295.3 L582.8 295.4 L583.3 295.9 L583.8 296 L584.3 296.1 L584.8 296 L585.3 296 L585.9 296.2 L586.4 296.5 L586.9 296.6 L587.4 295.9 L587.9 296 L588.4 296.9 L589 296.8 L589.5 296.7 L590 296.5 L590.5 296.8 L591 296.8 L591.5 296.8 L592.1 296.6 L592.6 297.4 L593.1 296.8 L593.6 297 L594.1 297.1 L594.6 297.7 L595.2 297.4 L595.7 297.5 L596.2 297.3 L596.7 297.3 L597.2 297.4 L597.8 298 L598.3 297.3 L598.8 297.8 L599.3 297.6 L599.8 297.9 L600.3 298.2 L600.9 297.2 L601.4 297.9 L601.9 297.9 L602.4 298.3 L602.9 298.3 L603.4 298 L604 298.2 L604.5 297.9 L605 298.1 L605.5 298.8 L606 299 L606.5 298.3 L607.1 298.5 L607.6 298.8 L608.1 298.9 L608.6 299 L609.1 298.4 L609.6 299 L610.2 299.4 L610.7 298.8 L611.2 299.1 L611.7 299.1 L612.2 299.3 L612.7 299.3 L613.3 299.9 L613.8 299.2 L614.3 299.6 L614.8 299.6 L615.3 299.4 L615.9 299.2 L616.4 300.3 L616.9 299.7 L617.4 299.6 L617.9 299.5 L618.4 300.1 L619 299.8 L619.5 299.8 L620 299.7 L620.5 300.2 L621 300.1 L621.5 300.3 L622.1 299.8 L622.6 299.9 L623.1 300.4 L623.6 300.3 L624.1 300.3 L624.6 300.7 L625.2 300.5 L625.7 300.2 L626.2 300.3 L626.7 300.8 L627.2 300.8 L627.7 300.7 L628.3 301.1 L628.8 300.6 L629.3 300.7 L629.8 301.2 L630.3 300.9 L630.9 301.1 L631.4 301 L631.9 301.3 L632.4 300.6 L632.9 301.4 L633.4 300.9 L634 301.1 L634.5 300.8 L635 301.3 L635.5 301.3 L636 301.3 L636.5 301.9 L637.1 300.7 L637.6 301.5 L638.1 301.6 L638.6 301.8 L639.1 301.6 L639.6 301.1 L640.2 301.9 L640.7 301.6 L641.2 301.4 L641.7 301.5 L642.2 301.9 L642.7 302.3 L643.3 301.8 L643.8 301.7 L644.3 302.1 L644.8 302.1 L645.3 301.5 L645.9 302.5 L646.4 302.3 L646.9 302.3 L647.4 302.6 L647.9 302.4 L648.4 302.5 L649 301.9 L649.5 302.8 L650 302.7 L650.5 302.3 L651 302.9 L651.5 303.1 L652.1 302.7 L652.6 302.9 L653.1 302.8 L653.6 302.6 L654.1 302.5 L654.6 302.9 L655.2 302.8 L655.7 302.5 L656.2 302.8 L656.7 302.6 L657.2 303 L657.7 302.7 L658.3 302.5 L658.8 303.3 L659.3 302.1 L659.8 303.1 L660.3 303.1 L660.8 303.1 L661.4 302.9 L661.9 303.5 L662.4 303.1 L662.9 303.3 L663.4 302.8 L664 303.8 L664.5 303.1 L665 303.4 L665.5 303.5 L666 303.3 L666.5 303.4 L667.1 303.4 L667.6 303.4 L668.1 303.1 L668.6 303.6 L669.1 303 L669.6 304.3 L670.2 303 L670.7 303.3 L671.2 303.2 L671.7 303.6 L672.2 303.6 L672.7 304 L673.3 303.4 L673.8 304.1 L674.3 304.1 L674.8 303.8" fill="none" stroke="#000" stroke-width="2.3" stroke-linejoin="round"/><path d="M554.2 291.8 V288.1" stroke="#000" stroke-width="1.5"/><path d="M502.5 308 V313.6" stroke="#000" stroke-width="2.2"/><path d="M491.7 309 L492.2 309 L492.6 309 L493 309 L493.4 309 L493.9 309 L494.3 309 L494.7 309 L495.2 309 L495.6 309 L496 309 L496.5 309 L496.9 309 L497.3 309 L497.8 309 L498.2 309 L498.6 309 L499.1 309 L499.5 309 L499.9 309 L500.3 309 L500.8 309 L501.2 309 L501.6 309 L502.1 309 L502.5 309 L502.9 302.3 L503.8 290.2 L504.7 279.5 L505.5 270.2 L506.4 262 L507.2 254.8 L508.1 248.4 L509 242.9 L509.8 238 L510.7 233.7 L511.6 229.9 L512.4 226.6 L513.3 223.7 L514.1 221.2 L515 218.9 L515.9 217 L516.7 215.2 L517.6 213.7 L518.4 212.4 L519.3 211.2 L520.2 210.2 L521 209.3 L521.9 208.5 L522.8 207.8 L523.6 207.2 L524.5 206.7 L525.3 206.2 L526.2 205.8 L527.1 205.4 L527.9 205.1 L528.8 204.8 L529.7 204.6 L530.5 204.4 L531.4 204.2 L532.2 204 L533.1 203.9 L534 203.7 L534.8 203.6 L535.7 203.5 L536.5 203.4 L537.4 203.4 L538.3 203.3 L539.1 203.2 L540 203.2 L540.9 203.1 L541.7 203.1 L542.6 203.1 L543.4 203 L544.3 203 L545.2 203 L546 203 L546.9 202.9 L547.8 202.9 L548.6 202.9 L549.5 202.9 L550.3 202.9 L551.2 202.9 L552.1 202.9 L552.9 202.9 L553.8 202.9 L554.7 204.2 L555.5 206.9 L556.4 209.4 L557.2 211.9 L558.1 214.4 L559 216.7 L559.8 219 L560.7 221.2 L561.5 223.3 L562.4 225.4 L563.3 227.4 L564.1 229.4 L565 231.3 L565.9 233.1 L566.7 234.9 L567.6 236.7 L568.4 238.4 L569.3 240 L570.2 241.6 L571 243.1 L571.9 244.6 L572.8 246.1 L573.6 247.5 L574.5 248.8 L575.3 250.2 L576.2 251.5 L577.1 252.7 L577.9 253.9 L578.8 255.1 L579.6 256.3 L580.5 257.4 L581.4 258.5 L582.2 259.5 L583.1 260.5 L584 261.5 L584.8 262.5 L585.7 263.4 L586.5 264.4 L587.4 265.2 L588.3 266.1 L589.1 266.9 L590 267.8 L590.9 268.6 L591.7 269.3 L592.6 270.1 L593.4 270.8 L594.3 271.5 L595.2 272.2 L596 272.9 L596.9 273.5 L597.8 274.2 L598.6 274.8 L599.5 275.4 L600.3 276 L601.2 276.5 L602.1 277.1 L602.9 277.6 L603.8 278.1 L604.6 278.7 L605.5 279.2 L606.4 279.6 L607.2 280.1 L608.1 280.6 L609 281 L609.8 281.5 L610.7 281.9 L611.5 282.3 L612.4 282.7 L613.3 283.1 L614.1 283.5 L615 283.9 L615.9 284.2 L616.7 284.6 L617.6 284.9 L618.4 285.3 L619.3 285.6 L620.2 285.9 L621 286.2 L621.9 286.6 L622.7 286.9 L623.6 287.1 L624.5 287.4 L625.3 287.7 L626.2 288 L627.1 288.3 L627.9 288.5 L628.8 288.8 L629.6 289 L630.5 289.3 L631.4 289.5 L632.2 289.7 L633.1 290 L634 290.2 L634.8 290.4 L635.7 290.6 L636.5 290.8 L637.4 291 L638.3 291.2 L639.1 291.4 L640 291.6 L640.9 291.8 L641.7 292 L642.6 292.2 L643.4 292.4 L644.3 292.5 L645.2 292.7 L646 292.9 L646.9 293 L647.7 293.2 L648.6 293.4 L649.5 293.5 L650.3 293.7 L651.2 293.8 L652.1 294 L652.9 294.1 L653.8 294.3 L654.6 294.4 L655.5 294.5 L656.4 294.7 L657.2 294.8 L658.1 294.9 L659 295.1 L659.8 295.2 L660.7 295.3 L661.5 295.4 L662.4 295.5 L663.3 295.7 L664.1 295.8 L665 295.9 L665.8 296 L666.7 296.1 L667.6 296.2 L668.4 296.3 L669.3 296.4 L670.2 296.5 L671 296.6 L671.9 296.7 L672.7 296.8 L673.6 296.9 L674.5 297" fill="none" stroke="#cf1010" stroke-width="1.6" stroke-linejoin="round"/><path d="M491.7 309 L492.2 309 L492.6 309 L493 309 L493.4 309 L493.9 309 L494.3 309 L494.7 309 L495.2 309 L495.6 309 L496 309 L496.5 309 L496.9 309 L497.3 309 L497.8 309 L498.2 309 L498.6 309 L499.1 309 L499.5 309 L499.9 309 L500.3 309 L500.8 309 L501.2 309 L501.6 309 L502.1 309 L502.5 309 L502.9 303.6 L503.8 293.8 L504.7 284.9 L505.5 277 L506.4 269.9 L507.2 263.6 L508.1 257.9 L509 252.8 L509.8 248.2 L510.7 244.1 L511.6 240.4 L512.4 237.2 L513.3 234.2 L514.1 231.6 L515 229.2 L515.9 227.1 L516.7 225.2 L517.6 223.5 L518.4 222 L519.3 220.6 L520.2 219.4 L521 218.3 L521.9 217.3 L522.8 216.4 L523.6 215.7 L524.5 215 L525.3 214.3 L526.2 213.8 L527.1 213.3 L527.9 212.8 L528.8 212.4 L529.7 212 L530.5 211.7 L531.4 211.4 L532.2 211.1 L533.1 210.9 L534 210.7 L534.8 210.5 L535.7 210.3 L536.5 210.2 L537.4 210.1 L538.3 209.9 L539.1 209.8 L540 209.7 L540.9 209.6 L541.7 209.6 L542.6 209.5 L543.4 209.4 L544.3 209.4 L545.2 209.3 L546 209.3 L546.9 209.2 L547.8 209.2 L548.6 209.2 L549.5 209.1 L550.3 209.1 L551.2 209.1 L552.1 209.1 L552.9 209.1 L553.8 209 L554.7 210.3 L555.5 212.8 L556.4 215.2 L557.2 217.6 L558.1 219.9 L559 222.1 L559.8 224.2 L560.7 226.3 L561.5 228.3 L562.4 230.3 L563.3 232.2 L564.1 234 L565 235.8 L565.9 237.6 L566.7 239.2 L567.6 240.9 L568.4 242.5 L569.3 244 L570.2 245.5 L571 247 L571.9 248.4 L572.8 249.7 L573.6 251.1 L574.5 252.3 L575.3 253.6 L576.2 254.8 L577.1 256 L577.9 257.1 L578.8 258.3 L579.6 259.3 L580.5 260.4 L581.4 261.4 L582.2 262.4 L583.1 263.4 L584 264.3 L584.8 265.2 L585.7 266.1 L586.5 267 L587.4 267.8 L588.3 268.6 L589.1 269.4 L590 270.2 L590.9 270.9 L591.7 271.6 L592.6 272.3 L593.4 273 L594.3 273.7 L595.2 274.3 L596 275 L596.9 275.6 L597.8 276.2 L598.6 276.8 L599.5 277.3 L600.3 277.9 L601.2 278.4 L602.1 278.9 L602.9 279.4 L603.8 279.9 L604.6 280.4 L605.5 280.9 L606.4 281.4 L607.2 281.8 L608.1 282.2 L609 282.7 L609.8 283.1 L610.7 283.5 L611.5 283.9 L612.4 284.2 L613.3 284.6 L614.1 285 L615 285.3 L615.9 285.7 L616.7 286 L617.6 286.3 L618.4 286.7 L619.3 287 L620.2 287.3 L621 287.6 L621.9 287.9 L622.7 288.1 L623.6 288.4 L624.5 288.7 L625.3 289 L626.2 289.2 L627.1 289.5 L627.9 289.7 L628.8 290 L629.6 290.2 L630.5 290.4 L631.4 290.6 L632.2 290.9 L633.1 291.1 L634 291.3 L634.8 291.5 L635.7 291.7 L636.5 291.9 L637.4 292.1 L638.3 292.3 L639.1 292.5 L640 292.6 L640.9 292.8 L641.7 293 L642.6 293.2 L643.4 293.3 L644.3 293.5 L645.2 293.7 L646 293.8 L646.9 294 L647.7 294.1 L648.6 294.3 L649.5 294.4 L650.3 294.6 L651.2 294.7 L652.1 294.8 L652.9 295 L653.8 295.1 L654.6 295.2 L655.5 295.4 L656.4 295.5 L657.2 295.6 L658.1 295.8 L659 295.9 L659.8 296 L660.7 296.1 L661.5 296.2 L662.4 296.3 L663.3 296.4 L664.1 296.6 L665 296.7 L665.8 296.8 L666.7 296.9 L667.6 297 L668.4 297.1 L669.3 297.2 L670.2 297.3 L671 297.4 L671.9 297.5 L672.7 297.6 L673.6 297.6 L674.5 297.7" fill="none" stroke="#cf1010" stroke-width="1.6" stroke-linejoin="round"/><path d="M491.7 309 L492.2 309 L492.6 309 L493 309 L493.4 309 L493.9 309 L494.3 309 L494.7 309 L495.2 309 L495.6 309 L496 309 L496.5 309 L496.9 309 L497.3 309 L497.8 309 L498.2 309 L498.6 309 L499.1 309 L499.5 309 L499.9 309 L500.3 309 L500.8 309 L501.2 309 L501.6 309 L502.1 309 L502.5 309 L502.9 305.6 L503.8 299.2 L504.7 293.3 L505.5 287.8 L506.4 282.8 L507.2 278.2 L508.1 273.9 L509 270 L509.8 266.4 L510.7 263.1 L511.6 260 L512.4 257.2 L513.3 254.6 L514.1 252.2 L515 250 L515.9 247.9 L516.7 246.1 L517.6 244.3 L518.4 242.8 L519.3 241.3 L520.2 239.9 L521 238.7 L521.9 237.6 L522.8 236.5 L523.6 235.5 L524.5 234.6 L525.3 233.8 L526.2 233 L527.1 232.3 L527.9 231.7 L528.8 231.1 L529.7 230.6 L530.5 230 L531.4 229.6 L532.2 229.2 L533.1 228.8 L534 228.4 L534.8 228.1 L535.7 227.8 L536.5 227.5 L537.4 227.2 L538.3 227 L539.1 226.7 L540 226.5 L540.9 226.3 L541.7 226.2 L542.6 226 L543.4 225.9 L544.3 225.7 L545.2 225.6 L546 225.5 L546.9 225.4 L547.8 225.3 L548.6 225.2 L549.5 225.1 L550.3 225 L551.2 225 L552.1 224.9 L552.9 224.8 L553.8 224.8 L554.7 225.7 L555.5 227.7 L556.4 229.5 L557.2 231.4 L558.1 233.1 L559 234.8 L559.8 236.5 L560.7 238.1 L561.5 239.7 L562.4 241.2 L563.3 242.7 L564.1 244.1 L565 245.5 L565.9 246.8 L566.7 248.2 L567.6 249.4 L568.4 250.7 L569.3 251.9 L570.2 253 L571 254.2 L571.9 255.3 L572.8 256.4 L573.6 257.4 L574.5 258.4 L575.3 259.4 L576.2 260.4 L577.1 261.3 L577.9 262.2 L578.8 263.1 L579.6 263.9 L580.5 264.8 L581.4 265.6 L582.2 266.4 L583.1 267.1 L584 267.9 L584.8 268.6 L585.7 269.3 L586.5 270 L587.4 270.7 L588.3 271.3 L589.1 272 L590 272.6 L590.9 273.2 L591.7 273.8 L592.6 274.3 L593.4 274.9 L594.3 275.4 L595.2 276 L596 276.5 L596.9 277 L597.8 277.5 L598.6 278 L599.5 278.4 L600.3 278.9 L601.2 279.3 L602.1 279.7 L602.9 280.2 L603.8 280.6 L604.6 281 L605.5 281.4 L606.4 281.8 L607.2 282.1 L608.1 282.5 L609 282.8 L609.8 283.2 L610.7 283.5 L611.5 283.9 L612.4 284.2 L613.3 284.5 L614.1 284.8 L615 285.1 L615.9 285.4 L616.7 285.7 L617.6 286 L618.4 286.2 L619.3 286.5 L620.2 286.8 L621 287 L621.9 287.3 L622.7 287.5 L623.6 287.8 L624.5 288 L625.3 288.3 L626.2 288.5 L627.1 288.7 L627.9 288.9 L628.8 289.1 L629.6 289.3 L630.5 289.6 L631.4 289.8 L632.2 290 L633.1 290.1 L634 290.3 L634.8 290.5 L635.7 290.7 L636.5 290.9 L637.4 291.1 L638.3 291.2 L639.1 291.4 L640 291.6 L640.9 291.7 L641.7 291.9 L642.6 292.1 L643.4 292.2 L644.3 292.4 L645.2 292.5 L646 292.7 L646.9 292.8 L647.7 293 L648.6 293.1 L649.5 293.2 L650.3 293.4 L651.2 293.5 L652.1 293.6 L652.9 293.8 L653.8 293.9 L654.6 294 L655.5 294.1 L656.4 294.3 L657.2 294.4 L658.1 294.5 L659 294.6 L659.8 294.7 L660.7 294.9 L661.5 295 L662.4 295.1 L663.3 295.2 L664.1 295.3 L665 295.4 L665.8 295.5 L666.7 295.6 L667.6 295.7 L668.4 295.8 L669.3 295.9 L670.2 296 L671 296.1 L671.9 296.2 L672.7 296.3 L673.6 296.4 L674.5 296.5" fill="none" stroke="#cf1010" stroke-width="1.6" stroke-linejoin="round"/><path d="M491.7 309 L492.2 309 L492.6 309 L493 309 L493.4 309 L493.9 309 L494.3 309 L494.7 309 L495.2 309 L495.6 309 L496 309 L496.5 309 L496.9 309 L497.3 309 L497.8 309 L498.2 309 L498.6 309 L499.1 309 L499.5 309 L499.9 309 L500.3 309 L500.8 309 L501.2 309 L501.6 309 L502.1 309 L502.5 309 L502.9 307.8 L503.8 305.4 L504.7 303.1 L505.5 300.9 L506.4 298.7 L507.2 296.7 L508.1 294.7 L509 292.8 L509.8 290.9 L510.7 289.1 L511.6 287.4 L512.4 285.8 L513.3 284.2 L514.1 282.6 L515 281.1 L515.9 279.7 L516.7 278.3 L517.6 277 L518.4 275.7 L519.3 274.4 L520.2 273.2 L521 272.1 L521.9 270.9 L522.8 269.9 L523.6 268.8 L524.5 267.8 L525.3 266.8 L526.2 265.9 L527.1 265 L527.9 264.1 L528.8 263.3 L529.7 262.5 L530.5 261.7 L531.4 261 L532.2 260.2 L533.1 259.5 L534 258.9 L534.8 258.2 L535.7 257.6 L536.5 257 L537.4 256.4 L538.3 255.8 L539.1 255.3 L540 254.8 L540.9 254.3 L541.7 253.8 L542.6 253.3 L543.4 252.8 L544.3 252.4 L545.2 252 L546 251.6 L546.9 251.2 L547.8 250.8 L548.6 250.4 L549.5 250.1 L550.3 249.7 L551.2 249.4 L552.1 249.1 L552.9 248.8 L553.8 248.5 L554.7 248.8 L555.5 249.7 L556.4 250.6 L557.2 251.5 L558.1 252.4 L559 253.3 L559.8 254.1 L560.7 255 L561.5 255.8 L562.4 256.6 L563.3 257.4 L564.1 258.2 L565 259 L565.9 259.7 L566.7 260.5 L567.6 261.2 L568.4 262 L569.3 262.7 L570.2 263.4 L571 264.1 L571.9 264.8 L572.8 265.4 L573.6 266.1 L574.5 266.8 L575.3 267.4 L576.2 268 L577.1 268.7 L577.9 269.3 L578.8 269.9 L579.6 270.5 L580.5 271.1 L581.4 271.7 L582.2 272.2 L583.1 272.8 L584 273.3 L584.8 273.9 L585.7 274.4 L586.5 275 L587.4 275.5 L588.3 276 L589.1 276.5 L590 277 L590.9 277.5 L591.7 278 L592.6 278.4 L593.4 278.9 L594.3 279.4 L595.2 279.8 L596 280.3 L596.9 280.7 L597.8 281.1 L598.6 281.6 L599.5 282 L600.3 282.4 L601.2 282.8 L602.1 283.2 L602.9 283.6 L603.8 284 L604.6 284.4 L605.5 284.7 L606.4 285.1 L607.2 285.5 L608.1 285.8 L609 286.2 L609.8 286.5 L610.7 286.9 L611.5 287.2 L612.4 287.6 L613.3 287.9 L614.1 288.2 L615 288.5 L615.9 288.8 L616.7 289.1 L617.6 289.4 L618.4 289.7 L619.3 290 L620.2 290.3 L621 290.6 L621.9 290.9 L622.7 291.2 L623.6 291.4 L624.5 291.7 L625.3 292 L626.2 292.2 L627.1 292.5 L627.9 292.7 L628.8 293 L629.6 293.2 L630.5 293.5 L631.4 293.7 L632.2 293.9 L633.1 294.2 L634 294.4 L634.8 294.6 L635.7 294.8 L636.5 295.1 L637.4 295.3 L638.3 295.5 L639.1 295.7 L640 295.9 L640.9 296.1 L641.7 296.3 L642.6 296.5 L643.4 296.7 L644.3 296.9 L645.2 297.1 L646 297.2 L646.9 297.4 L647.7 297.6 L648.6 297.8 L649.5 297.9 L650.3 298.1 L651.2 298.3 L652.1 298.4 L652.9 298.6 L653.8 298.8 L654.6 298.9 L655.5 299.1 L656.4 299.2 L657.2 299.4 L658.1 299.5 L659 299.7 L659.8 299.8 L660.7 299.9 L661.5 300.1 L662.4 300.2 L663.3 300.4 L664.1 300.5 L665 300.6 L665.8 300.7 L666.7 300.9 L667.6 301 L668.4 301.1 L669.3 301.2 L670.2 301.4 L671 301.5 L671.9 301.6 L672.7 301.7 L673.6 301.8 L674.5 301.9" fill="none" stroke="#cf1010" stroke-width="1.6" stroke-linejoin="round"/><path d="M491.7 309 L492.2 309 L492.6 309 L493 309 L493.4 309 L493.9 309 L494.3 309 L494.7 309 L495.2 309 L495.6 309 L496 309 L496.5 309 L496.9 309 L497.3 309 L497.8 309 L498.2 309 L498.6 309 L499.1 309 L499.5 309 L499.9 309 L500.3 309 L500.8 309 L501.2 309 L501.6 309 L502.1 309 L502.5 309 L502.9 308.7 L503.8 308 L504.7 307.3 L505.5 306.6 L506.4 306 L507.2 305.3 L508.1 304.7 L509 304 L509.8 303.4 L510.7 302.8 L511.6 302.2 L512.4 301.5 L513.3 300.9 L514.1 300.3 L515 299.7 L515.9 299.1 L516.7 298.6 L517.6 298 L518.4 297.4 L519.3 296.8 L520.2 296.3 L521 295.7 L521.9 295.2 L522.8 294.6 L523.6 294.1 L524.5 293.5 L525.3 293 L526.2 292.5 L527.1 292 L527.9 291.5 L528.8 290.9 L529.7 290.4 L530.5 289.9 L531.4 289.5 L532.2 289 L533.1 288.5 L534 288 L534.8 287.5 L535.7 287.1 L536.5 286.6 L537.4 286.1 L538.3 285.7 L539.1 285.2 L540 284.8 L540.9 284.3 L541.7 283.9 L542.6 283.5 L543.4 283 L544.3 282.6 L545.2 282.2 L546 281.8 L546.9 281.4 L547.8 281 L548.6 280.5 L549.5 280.1 L550.3 279.8 L551.2 279.4 L552.1 279 L552.9 278.6 L553.8 278.2 L554.7 278.2 L555.5 278.5 L556.4 278.8 L557.2 279.1 L558.1 279.4 L559 279.7 L559.8 280 L560.7 280.3 L561.5 280.6 L562.4 280.9 L563.3 281.2 L564.1 281.5 L565 281.8 L565.9 282.1 L566.7 282.4 L567.6 282.6 L568.4 282.9 L569.3 283.2 L570.2 283.4 L571 283.7 L571.9 284 L572.8 284.2 L573.6 284.5 L574.5 284.7 L575.3 285 L576.2 285.2 L577.1 285.5 L577.9 285.7 L578.8 286 L579.6 286.2 L580.5 286.4 L581.4 286.7 L582.2 286.9 L583.1 287.1 L584 287.4 L584.8 287.6 L585.7 287.8 L586.5 288 L587.4 288.2 L588.3 288.5 L589.1 288.7 L590 288.9 L590.9 289.1 L591.7 289.3 L592.6 289.5 L593.4 289.7 L594.3 289.9 L595.2 290.1 L596 290.3 L596.9 290.5 L597.8 290.7 L598.6 290.9 L599.5 291.1 L600.3 291.2 L601.2 291.4 L602.1 291.6 L602.9 291.8 L603.8 292 L604.6 292.1 L605.5 292.3 L606.4 292.5 L607.2 292.7 L608.1 292.8 L609 293 L609.8 293.2 L610.7 293.3 L611.5 293.5 L612.4 293.6 L613.3 293.8 L614.1 294 L615 294.1 L615.9 294.3 L616.7 294.4 L617.6 294.6 L618.4 294.7 L619.3 294.9 L620.2 295 L621 295.2 L621.9 295.3 L622.7 295.4 L623.6 295.6 L624.5 295.7 L625.3 295.9 L626.2 296 L627.1 296.1 L627.9 296.3 L628.8 296.4 L629.6 296.5 L630.5 296.7 L631.4 296.8 L632.2 296.9 L633.1 297 L634 297.2 L634.8 297.3 L635.7 297.4 L636.5 297.5 L637.4 297.6 L638.3 297.8 L639.1 297.9 L640 298 L640.9 298.1 L641.7 298.2 L642.6 298.3 L643.4 298.4 L644.3 298.6 L645.2 298.7 L646 298.8 L646.9 298.9 L647.7 299 L648.6 299.1 L649.5 299.2 L650.3 299.3 L651.2 299.4 L652.1 299.5 L652.9 299.6 L653.8 299.7 L654.6 299.8 L655.5 299.9 L656.4 300 L657.2 300.1 L658.1 300.2 L659 300.2 L659.8 300.3 L660.7 300.4 L661.5 300.5 L662.4 300.6 L663.3 300.7 L664.1 300.8 L665 300.9 L665.8 300.9 L666.7 301 L667.6 301.1 L668.4 301.2 L669.3 301.3 L670.2 301.4 L671 301.4 L671.9 301.5 L672.7 301.6 L673.6 301.7 L674.5 301.7" fill="none" stroke="#cf1010" stroke-width="1.6" stroke-linejoin="round"/><path d="M491.7 309 L492.2 309 L492.6 309 L493 309 L493.4 309 L493.9 309 L494.3 309 L494.7 309 L495.2 309 L495.6 309 L496 309 L496.5 309 L496.9 309 L497.3 309 L497.8 309 L498.2 309 L498.6 309 L499.1 309 L499.5 309 L499.9 309 L500.3 309 L500.8 309 L501.2 309 L501.6 309 L502.1 309 L502.5 309 L502.9 308.8 L503.8 308.5 L504.7 308.1 L505.5 307.8 L506.4 307.4 L507.2 307.1 L508.1 306.8 L509 306.4 L509.8 306.1 L510.7 305.8 L511.6 305.4 L512.4 305.1 L513.3 304.8 L514.1 304.4 L515 304.1 L515.9 303.8 L516.7 303.5 L517.6 303.2 L518.4 302.9 L519.3 302.5 L520.2 302.2 L521 301.9 L521.9 301.6 L522.8 301.3 L523.6 301 L524.5 300.7 L525.3 300.4 L526.2 300.1 L527.1 299.8 L527.9 299.5 L528.8 299.2 L529.7 298.9 L530.5 298.6 L531.4 298.3 L532.2 298.1 L533.1 297.8 L534 297.5 L534.8 297.2 L535.7 296.9 L536.5 296.7 L537.4 296.4 L538.3 296.1 L539.1 295.8 L540 295.6 L540.9 295.3 L541.7 295 L542.6 294.8 L543.4 294.5 L544.3 294.2 L545.2 294 L546 293.7 L546.9 293.4 L547.8 293.2 L548.6 292.9 L549.5 292.7 L550.3 292.4 L551.2 292.2 L552.1 291.9 L552.9 291.7 L553.8 291.4 L554.7 291.4 L555.5 291.5 L556.4 291.7 L557.2 291.8 L558.1 292 L559 292.1 L559.8 292.3 L560.7 292.4 L561.5 292.6 L562.4 292.7 L563.3 292.9 L564.1 293 L565 293.2 L565.9 293.3 L566.7 293.4 L567.6 293.6 L568.4 293.7 L569.3 293.8 L570.2 294 L571 294.1 L571.9 294.2 L572.8 294.4 L573.6 294.5 L574.5 294.6 L575.3 294.7 L576.2 294.9 L577.1 295 L577.9 295.1 L578.8 295.2 L579.6 295.4 L580.5 295.5 L581.4 295.6 L582.2 295.7 L583.1 295.8 L584 295.9 L584.8 296.1 L585.7 296.2 L586.5 296.3 L587.4 296.4 L588.3 296.5 L589.1 296.6 L590 296.7 L590.9 296.8 L591.7 296.9 L592.6 297 L593.4 297.1 L594.3 297.3 L595.2 297.4 L596 297.5 L596.9 297.6 L597.8 297.7 L598.6 297.8 L599.5 297.9 L600.3 298 L601.2 298 L602.1 298.1 L602.9 298.2 L603.8 298.3 L604.6 298.4 L605.5 298.5 L606.4 298.6 L607.2 298.7 L608.1 298.8 L609 298.9 L609.8 299 L610.7 299.1 L611.5 299.1 L612.4 299.2 L613.3 299.3 L614.1 299.4 L615 299.5 L615.9 299.6 L616.7 299.7 L617.6 299.7 L618.4 299.8 L619.3 299.9 L620.2 300 L621 300.1 L621.9 300.1 L622.7 300.2 L623.6 300.3 L624.5 300.4 L625.3 300.4 L626.2 300.5 L627.1 300.6 L627.9 300.7 L628.8 300.7 L629.6 300.8 L630.5 300.9 L631.4 301 L632.2 301 L633.1 301.1 L634 301.2 L634.8 301.2 L635.7 301.3 L636.5 301.4 L637.4 301.4 L638.3 301.5 L639.1 301.6 L640 301.6 L640.9 301.7 L641.7 301.8 L642.6 301.8 L643.4 301.9 L644.3 301.9 L645.2 302 L646 302.1 L646.9 302.1 L647.7 302.2 L648.6 302.3 L649.5 302.3 L650.3 302.4 L651.2 302.4 L652.1 302.5 L652.9 302.5 L653.8 302.6 L654.6 302.7 L655.5 302.7 L656.4 302.8 L657.2 302.8 L658.1 302.9 L659 302.9 L659.8 303 L660.7 303 L661.5 303.1 L662.4 303.1 L663.3 303.2 L664.1 303.2 L665 303.3 L665.8 303.3 L666.7 303.4 L667.6 303.4 L668.4 303.5 L669.3 303.5 L670.2 303.6 L671 303.6 L671.9 303.7 L672.7 303.7 L673.6 303.8 L674.5 303.8" fill="none" stroke="#cf1010" stroke-width="1.6" stroke-linejoin="round"/></g><path d="M491.8 191.4 V313.6 H675.5" fill="none" stroke="#000" stroke-width="1.3"/><path d="M488.3 309 H491.8" stroke="#000" stroke-width="1.2"/><text x="486.2" y="312.1" font-size="9.1" font-weight="bold" text-anchor="end">0</text><path d="M488.3 285.6 H491.8" stroke="#000" stroke-width="1.2"/><text x="486.2" y="288.7" font-size="9.1" font-weight="bold" text-anchor="end">25</text><path d="M488.3 262.2 H491.8" stroke="#000" stroke-width="1.2"/><text x="486.2" y="265.3" font-size="9.1" font-weight="bold" text-anchor="end">50</text><path d="M488.3 238.8 H491.8" stroke="#000" stroke-width="1.2"/><text x="486.2" y="241.9" font-size="9.1" font-weight="bold" text-anchor="end">75</text><path d="M488.3 215.4 H491.8" stroke="#000" stroke-width="1.2"/><text x="486.2" y="218.5" font-size="9.1" font-weight="bold" text-anchor="end">100</text><path d="M488.3 192 H491.8" stroke="#000" stroke-width="1.2"/><text x="486.2" y="195.1" font-size="9.1" font-weight="bold" text-anchor="end">125</text><path d="M502.5 313.6 V317.1" stroke="#000" stroke-width="1.2"/><text x="502.5" y="327.4" font-size="9.1" font-weight="bold" text-anchor="middle">0</text><path d="M545.6 313.6 V317.1" stroke="#000" stroke-width="1.2"/><text x="545.6" y="327.4" font-size="9.1" font-weight="bold" text-anchor="middle">100</text><path d="M588.7 313.6 V317.1" stroke="#000" stroke-width="1.2"/><text x="588.7" y="327.4" font-size="9.1" font-weight="bold" text-anchor="middle">200</text><path d="M631.8 313.6 V317.1" stroke="#000" stroke-width="1.2"/><text x="631.8" y="327.4" font-size="9.1" font-weight="bold" text-anchor="middle">300</text><path d="M674.9 313.6 V317.1" stroke="#000" stroke-width="1.2"/><text x="674.9" y="327.4" font-size="9.1" font-weight="bold" text-anchor="middle">400</text><text x="581.4" y="338.5" font-size="11.5" text-anchor="middle">Time (s)</text><text transform="translate(467.3 249.3) rotate(-90)" font-size="11.5" text-anchor="middle">Response (RU)</text><text x="580.8" y="190.7" font-size="11.4" text-anchor="middle">T56R, Q101K, T103R</text><text x="567" y="206.5" font-size="8.75"><tspan font-style="italic">k</tspan><tspan font-size="5.0" dy="2">on</tspan><tspan dy="-2"> = 12.3 (±4.6) × 10</tspan><tspan font-size="5.0" dy="-3.5">6</tspan><tspan dy="3.5"> M</tspan><tspan font-size="5.0" dy="-3.5">-1</tspan><tspan dy="3.5">s</tspan><tspan font-size="5.0" dy="-3.5">-1</tspan></text><text x="567" y="219.5" font-size="8.75"><tspan font-style="italic">k</tspan><tspan font-size="5.0" dy="2">off</tspan><tspan dy="-2"> = 2.4 (±0.8) × 10</tspan><tspan font-size="5.0" dy="-3.5">-2</tspan><tspan dy="3.5"> s</tspan><tspan font-size="5.0" dy="-3.5">-1</tspan></text><text x="567" y="232.5" font-size="8.75"><tspan font-style="italic">K</tspan><tspan font-size="5.0" dy="2">D</tspan><tspan dy="-2"> = 2.0 (±0.1) nM</tspan></text><text x="651.4" y="255.2" font-size="9" text-anchor="middle">10 nM</text><text x="651.4" y="283.7" font-size="9" text-anchor="middle">0.5 nM</text><path d="M651.4 258.1 V271.2" stroke="#000" stroke-width="1.7"/><path d="M646.6 268.8 L651.4 270.5 L656.2 268.8 L651.4 274.5 Z" fill="#000"/></svg></body></html>
